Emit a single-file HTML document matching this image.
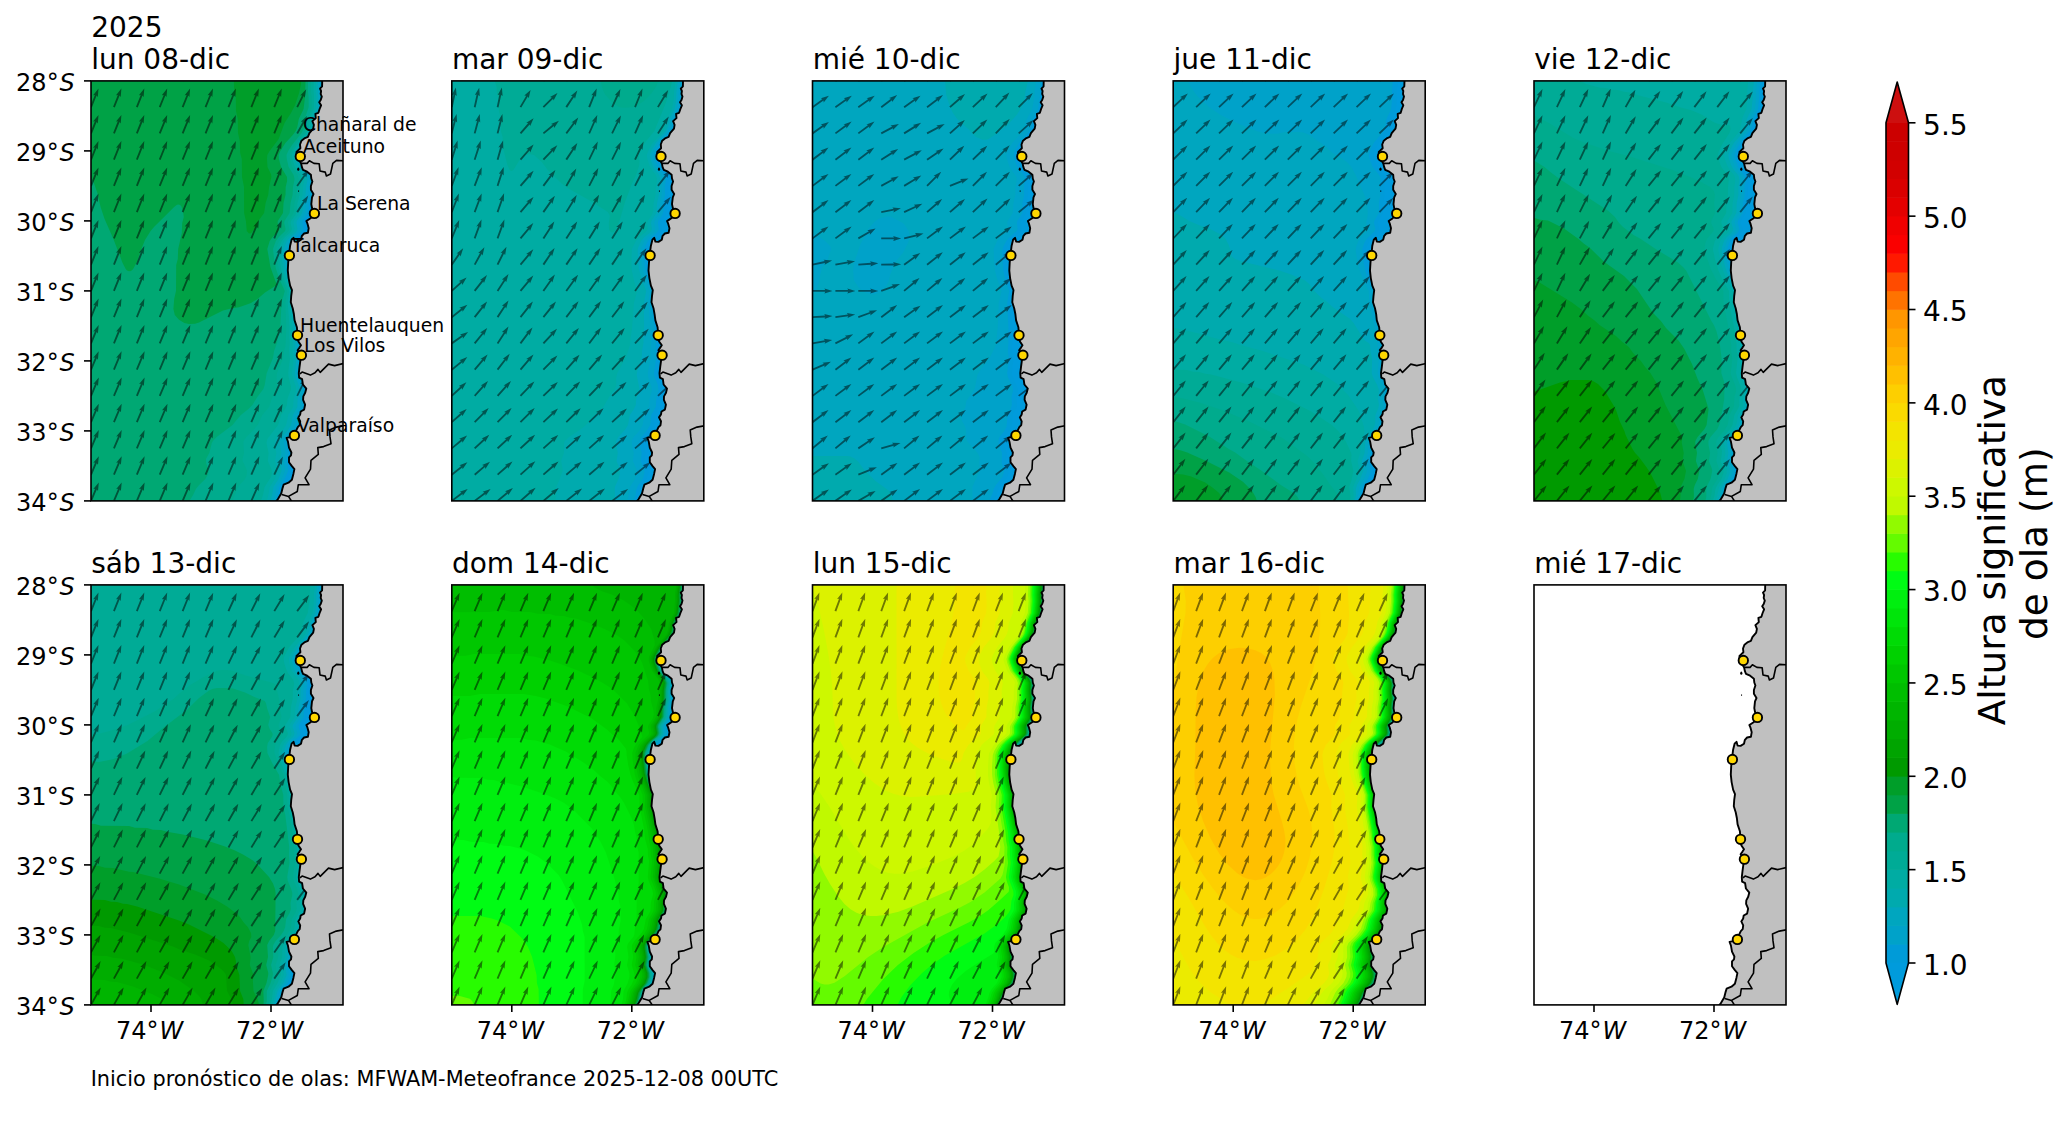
<!DOCTYPE html>
<html><head><meta charset="utf-8"><title>Altura significativa de ola</title><style>html,body{margin:0;padding:0;background:#fff;overflow:hidden}svg{display:block}</style></head><body>
<svg width="2070" height="1128" viewBox="0 0 2070 1128">
<rect width="2070" height="1128" fill="#fff"/>
<defs><clipPath id="cp0"><rect x="91" y="80.9" width="252" height="420"/></clipPath><clipPath id="cp1"><rect x="451.8" y="80.9" width="252" height="420"/></clipPath><clipPath id="cp2"><rect x="812.5" y="80.9" width="252" height="420"/></clipPath><clipPath id="cp3"><rect x="1173.2" y="80.9" width="252" height="420"/></clipPath><clipPath id="cp4"><rect x="1534" y="80.9" width="252" height="420"/></clipPath><clipPath id="cp5"><rect x="91" y="584.9" width="252" height="420"/></clipPath><clipPath id="cp6"><rect x="451.8" y="584.9" width="252" height="420"/></clipPath><clipPath id="cp7"><rect x="812.5" y="584.9" width="252" height="420"/></clipPath><clipPath id="cp8"><rect x="1173.2" y="584.9" width="252" height="420"/></clipPath><clipPath id="cp9"><rect x="1534" y="584.9" width="252" height="420"/></clipPath></defs>
<g clip-path="url(#cp0)">
<rect x="91" y="80.9" width="252" height="420" fill="#009bdc"/>
<path fill="#009bd8" fill-rule="evenodd" d="M83 72.9 L325.5 72.9 L325.1 90.9 L325.6 96.9 L325.1 108.9 L321 118.9 L320.1 126.9 L318.7 130.9 L316.1 134.9 L309.5 142.9 L305.7 150.9 L304.5 154.9 L305.5 158.9 L308.8 166.9 L315.3 174.9 L316.9 178.9 L315.5 186.9 L314.9 194.9 L312.6 202.9 L312 210.9 L310.5 214.9 L306.1 220.9 L305.6 222.9 L306.6 228.9 L305.9 230.9 L304.3 232.9 L299.3 236.9 L295.8 240.9 L292.9 246.9 L292 250.9 L292.8 262.9 L293.9 270.9 L296.1 278.9 L300.6 290.9 L299.4 302.9 L302.1 328.9 L302.2 336.9 L303 342.9 L302.8 350.9 L303.9 356.9 L302.5 372.9 L303.3 376.9 L307.4 386.9 L307.9 390.9 L306.1 398.9 L306.4 406.9 L302.4 414.9 L301.2 424.9 L297.9 430.9 L291.1 438.9 L290.1 442.9 L290.9 446.9 L292 452.9 L290.2 460.9 L291.5 468.9 L291.4 470.9 L288.1 478.9 L282.6 486.9 L281 494.9 L277.9 504.9 L277.7 508.9 L83 508.9Z"/>
<path fill="#00a2c9" fill-rule="evenodd" d="M83 72.9 L322.6 72.9 L322.2 90.9 L322.7 96.9 L322.2 108.9 L318.1 118.9 L317 126.9 L315.8 130.9 L306.6 142.9 L302.6 150.9 L301.4 154.9 L302.4 158.9 L305.6 166.9 L312.1 174.9 L313.6 178.9 L312.2 186.9 L311.6 194.9 L309 204.9 L308.7 210.9 L307.3 214.9 L302.8 220.9 L302.4 222.9 L303.3 228.9 L302.7 230.9 L292.6 240.9 L289 249.3 L289.5 260.9 L291 271.8 L293.1 278.9 L297.6 290.9 L296.5 302.9 L299.1 328.9 L299.1 336.9 L300 342.9 L299.8 350.9 L300.9 356.9 L299.4 372.9 L301 378.8 L304.4 386.9 L304.8 390.9 L303.1 398.9 L303.6 404.9 L303.3 406.9 L299.2 414.9 L298 424.9 L294.7 430.9 L287.8 438.9 L287 440.9 L287 444 L288.7 452.9 L286.9 460.9 L288.2 468.9 L288.1 470.9 L284.8 478.9 L279.4 486.9 L277.9 494.9 L274.9 504.9 L274.7 508.9 L83 508.9Z"/>
<path fill="#00a6bf" fill-rule="evenodd" d="M83 72.9 L320.3 72.9 L319.8 90.9 L320.4 96.9 L319.8 108.9 L315.7 118.9 L314.8 126.9 L313.4 130.9 L310.8 134.9 L304.2 142.9 L300.1 150.9 L298.8 154.9 L299.7 158.9 L302.8 166.9 L309.1 174.9 L310.6 178.9 L309.1 186.9 L308.5 194.9 L306.2 202.9 L305.6 210.9 L304.2 214.9 L299.8 220.9 L299.3 222.9 L300.4 228.9 L299.7 230.9 L298.1 232.9 L293.2 236.9 L289.7 240.9 L286.3 248.9 L286.8 260.9 L288.3 270.9 L290.6 278.9 L295.3 290.9 L294.1 302.9 L296.8 328.9 L296.9 336.9 L297.7 342.9 L297.4 350.9 L298.6 356.9 L297.1 372.9 L298 376.9 L301.9 386.9 L302.4 390.9 L300.5 398.9 L301 404.9 L300.6 406.9 L296.3 414.9 L294.9 424.9 L291.4 430.9 L284.5 438.9 L283.6 442.9 L284.4 446.9 L285.4 452.9 L283.7 460.9 L285.1 468.9 L285 470.9 L281.8 478.9 L276.5 486.9 L275.2 494.9 L272.3 504.9 L272.1 508.9 L83 508.9Z"/>
<path fill="#00aaae" fill-rule="evenodd" d="M83 72.9 L318.2 72.9 L317.8 90.9 L318.3 96.9 L317.8 108.9 L313.7 118.9 L312.8 126.9 L311.4 130.9 L308.7 134.9 L302.1 142.9 L297.8 150.9 L296.5 154.9 L297.2 158.9 L300.1 166.9 L306.2 174.9 L307.7 178.9 L306.1 186.9 L305.5 194.9 L303.2 202.9 L302.6 210.9 L301.2 214.9 L296.8 220.9 L296.4 222.9 L297.5 228.9 L296.8 230.9 L295.3 232.9 L290.4 236.9 L287 240.9 L283.7 248.9 L284.4 260.9 L286 270.9 L288.4 278.9 L293.3 290.9 L292.1 302.9 L294.6 326.9 L294.7 336.9 L295.4 342.9 L295.2 350.9 L296.3 358.9 L294.9 372.9 L295.6 376.9 L299.3 386.9 L299.7 390.9 L297.6 398.9 L297.4 406.9 L292.9 414.9 L291.1 424.9 L287.4 430.9 L281.9 436.9 L279.8 440.9 L279.6 442.9 L281.5 452.9 L279.8 460.9 L281.6 468.9 L281.5 470.9 L278.6 478.9 L273.4 486.9 L272.2 494.9 L269.4 504.9 L269.2 508.9 L83 508.9Z"/>
<path fill="#00aca3" fill-rule="evenodd" d="M83 72.9 L316.1 72.9 L315.7 90.9 L316.3 96.9 L315.8 108.9 L311.7 118.9 L310.8 126.9 L309.4 130.9 L306.8 134.9 L300.1 142.9 L295.6 150.9 L294.1 154.9 L294.8 158.9 L297.5 166.9 L303.4 174.9 L304.7 178.9 L303.1 186.9 L302.5 194.9 L300.2 202.9 L299.6 210.9 L298.2 214.9 L293.8 220.9 L293.4 222.9 L294.6 228.9 L294 230.9 L292.5 232.9 L287.7 236.9 L284.3 240.9 L281.1 248.9 L282 260.9 L283.7 270.9 L286.3 278.9 L291.2 290.9 L290 302.9 L292.3 326.9 L292.2 336.9 L292.8 342.9 L292.4 350.9 L293.6 358.9 L292.1 372.9 L292.7 376.9 L295.9 386.9 L296.1 390.9 L293.6 398.9 L293.1 406.9 L288.3 414.9 L286.2 424.9 L283 429.9 L276.8 436.9 L274.6 440.9 L274.5 442.9 L276.4 452.9 L275 460.9 L277.4 470.9 L275 478.9 L269.7 486.9 L268.4 494.9 L265.5 504.9 L265.3 508.9 L83 508.9Z"/>
<path fill="#00ab96" fill-rule="evenodd" d="M83 72.9 L313.9 72.9 L313.5 90.9 L314.1 96.9 L313.7 108.9 L309.7 118.9 L308.8 126.9 L307.4 130.9 L304.8 134.9 L298.1 142.9 L293.4 150.9 L291.9 154.9 L292.4 158.9 L294.9 166.9 L300.5 174.9 L301.8 178.9 L300.1 186.9 L299.6 194.9 L297.4 202.9 L296.8 210.9 L295.4 214.9 L291 220.9 L290.6 222.9 L291.9 228.9 L291.3 230.9 L289.8 232.9 L285 236.9 L281.7 240.9 L278.6 248.9 L279.6 260.9 L281.5 270.9 L284.1 278.9 L289.2 290.9 L287.7 302.9 L289.6 326.9 L289.3 336.9 L289.8 342.9 L289.1 350.9 L289.9 358.9 L288.2 372.9 L288.6 376.9 L291 386.9 L291 389.2 L287.4 398.9 L287 404.9 L285.1 408.9 L281 414.9 L278.1 424.9 L267.3 438.9 L266.5 442.9 L268.6 452.9 L267.8 460.9 L271.4 468.9 L271.9 472.9 L271 477.1 L264.6 486.9 L263 495 L260.3 502.9 L259.6 508.9 L83 508.9Z"/>
<path fill="#00ab8d" fill-rule="evenodd" d="M83 72.9 L311.1 72.9 L310.9 90.9 L311.6 96.9 L311.6 106.9 L311.4 108.9 L307.5 118.9 L306.8 126.9 L304.3 132.9 L296.1 142.9 L290.2 152.9 L289.6 154.9 L290 158.9 L292.2 166.9 L297.5 174.9 L298.7 178.9 L297.1 186.9 L296.6 194.9 L294.5 202.9 L294 210.9 L292.6 214.9 L288.3 220.9 L287.9 222.9 L289.3 228.9 L288.7 230.9 L280.6 238.9 L278.2 242.9 L276.2 248.9 L277.6 262.9 L279.3 270.9 L282 278.9 L287.2 290.9 L285.3 302.9 L286.3 326.9 L285.6 344.9 L284.1 350.9 L283 358.9 L277 372.9 L276.5 376.9 L277 386.9 L276.2 390.9 L271.6 398.9 L269.1 406.9 L262.3 414.9 L257.8 424.9 L253 430.4 L246.3 436.9 L243.6 440.9 L243.3 442.9 L244 452.9 L242.5 458.9 L242.6 460.9 L246.4 468.9 L246.9 470.9 L246.7 474.9 L245.1 478.9 L239.6 484.9 L237.1 488.9 L235 494.9 L231.4 502.9 L230.7 508.9 L83 508.9Z"/>
<path fill="#00a873" fill-rule="evenodd" d="M83 72.9 L308.2 72.9 L307.9 90.9 L308.6 96.9 L308.7 106.9 L304.7 118.9 L303.5 128.9 L301.5 132.9 L292 144.9 L288.2 150.9 L286.5 154.9 L286.8 158.9 L288.6 166.9 L293.6 174.9 L294.6 178.9 L293 186.9 L292.6 194.9 L290.5 202.9 L289.6 212.9 L284.5 220.9 L284.2 222.9 L285.6 228.9 L285.1 230.9 L278.9 236.9 L275.8 240.9 L273 248.9 L273.8 256.9 L276 268.9 L279.4 278.9 L284.8 290.9 L281.5 302.9 L280.2 328.9 L277.9 336.9 L276.9 342.9 L274.1 350.9 L273 358 L266.7 372.9 L264.7 384.9 L263.4 388.9 L257.3 396.9 L252.4 404.9 L248.4 408.9 L240.9 414.9 L237 419.6 L232.5 424.9 L216.7 436.9 L212.9 440.9 L211.8 442.9 L209.3 452.9 L206 458.9 L206.1 462.9 L208.3 468.9 L208.5 470.9 L207.6 474.9 L205.3 478.9 L199.1 484.9 L195.9 488.9 L193.1 494.9 L189.4 500.9 L188 504.9 L187.8 508.9 L83 508.9Z"/>
<path fill="#00a246" fill-rule="evenodd" d="M83 72.9 L305.8 72.9 L305 96.9 L303.6 108.9 L298.8 118.9 L297.3 126.9 L295.7 130.9 L292.8 134.9 L285.4 142.9 L280.3 150.9 L278.6 154.9 L278.9 158.9 L281 166.9 L287 176.9 L287.1 180.9 L285.7 186.9 L285.5 194.9 L283.5 202.9 L283 212.9 L277.8 220.9 L277.6 222.9 L279.3 228.9 L278.8 230.9 L272.6 236.9 L269.7 240.9 L267.3 248.9 L270.4 266.9 L276.8 284.9 L265 292.5 L257.5 298.9 L251 303.1 L239 307.2 L231 308.5 L223 310.6 L199 322.4 L195 323.7 L189 323.9 L184.3 322.9 L179 319.8 L174.8 314.9 L173.4 308.9 L174.2 298.9 L176 290.9 L176.2 264.9 L177.8 258.9 L178.2 248.9 L181.8 232.9 L182.2 222.9 L183.8 216.9 L183.3 212.9 L181.6 206.9 L181 205.8 L179 204.5 L177 204.8 L174.1 206.9 L154 226.9 L150.6 230.9 L145 240.1 L140.6 250.9 L137.4 260.9 L133 269.3 L131 270.9 L129 271.3 L127 270.5 L125.7 268.9 L122.6 262.9 L113.4 238.9 L104.6 218.9 L100.6 206.9 L97.4 192.9 L93.2 180.9 L91 178.2 L89 177 L87 177 L83 179.1Z"/>
<path fill="#009e29" fill-rule="evenodd" d="M232.2 72.9 L301.8 72.9 L301 84 L299 93.3 L295.1 104.9 L291 112.9 L284.5 122.9 L278.7 138.9 L269.6 150.9 L267.3 154.9 L267 158.9 L267.5 166.9 L271 174.3 L271.4 176.9 L269.1 186.9 L268.2 194.9 L265.6 202.9 L264.1 212.9 L258.3 220.9 L256.6 226.9 L251 233.3 L249 233.5 L246.8 230.9 L245.9 220.9 L244.1 212.9 L244 186.9 L242 176.9 L241.8 158.9 L240.2 152.9 L239.8 140.9 L238 132.9 L237.8 118.9 L236 110.9 L235.8 96.9 L234.2 90.9 L233.8 78.9Z"/>
<path fill="#000" fill-opacity="0.5" d="M90.1 80.6 L94.9 68.7 L93.1 69 L98.5 62.4 L97.8 70.9 L96.6 69.4 L91.9 81.2ZM113.1 80.6 L117.8 68.7 L116 69 L121.4 62.4 L120.7 70.9 L119.6 69.4 L114.8 81.2ZM136 80.6 L140.7 68.7 L138.9 69 L144.3 62.4 L143.6 70.9 L142.5 69.4 L137.7 81.2ZM158.9 80.6 L163.7 68.7 L161.8 69 L167.2 62.4 L166.5 70.9 L165.4 69.4 L160.6 81.2ZM181.8 80.6 L186.6 68.7 L184.7 69 L190.1 62.4 L189.4 70.9 L188.3 69.4 L183.5 81.2ZM204.7 80.6 L209.5 68.7 L207.6 69 L213 62.4 L212.3 70.9 L211.2 69.4 L206.4 81.2ZM227.6 80.6 L232.4 68.7 L230.5 69 L235.9 62.4 L235.3 70.9 L234.1 69.4 L229.3 81.2ZM250.5 80.6 L255.3 68.7 L253.4 69 L258.9 62.4 L258.2 70.9 L257 69.4 L252.2 81.2ZM273.4 80.6 L278.2 68.7 L276.4 69 L281.8 62.4 L281.1 70.9 L279.9 69.4 L275.1 81.2ZM296.3 80.5 L301.5 68.8 L299.7 69 L305.3 62.6 L304.3 71.1 L303.2 69.6 L298 81.3ZM90.1 106.8 L94.9 94.9 L93.1 95.2 L98.5 88.6 L97.8 97.1 L96.6 95.6 L91.9 107.5ZM113.1 106.8 L117.8 94.9 L116 95.2 L121.4 88.6 L120.7 97.1 L119.6 95.6 L114.8 107.5ZM136 106.8 L140.7 94.9 L138.9 95.2 L144.3 88.6 L143.6 97.1 L142.5 95.6 L137.7 107.5ZM158.9 106.8 L163.7 94.9 L161.8 95.2 L167.2 88.6 L166.5 97.1 L165.4 95.6 L160.6 107.5ZM181.8 106.8 L186.6 94.9 L184.7 95.2 L190.1 88.6 L189.4 97.1 L188.3 95.6 L183.5 107.5ZM204.7 106.8 L209.5 94.9 L207.6 95.2 L213 88.6 L212.3 97.1 L211.2 95.6 L206.4 107.5ZM227.6 106.8 L232.4 94.9 L230.5 95.2 L235.9 88.6 L235.3 97.1 L234.1 95.6 L229.3 107.5ZM250.5 106.8 L255.3 94.9 L253.4 95.2 L258.9 88.6 L258.2 97.1 L257 95.6 L252.2 107.5ZM273.4 106.8 L278.2 94.9 L276.4 95.2 L281.8 88.6 L281.1 97.1 L279.9 95.6 L275.1 107.5ZM296.4 106.7 L302.1 95.3 L300.2 95.4 L306.2 89.3 L304.8 97.7 L303.8 96.1 L298 107.6ZM90.1 133.1 L94.9 121.2 L93.1 121.5 L98.5 114.9 L97.8 123.4 L96.6 121.9 L91.9 133.7ZM113.1 133.1 L117.8 121.2 L116 121.5 L121.4 114.9 L120.7 123.4 L119.6 121.9 L114.8 133.7ZM136 133.1 L140.7 121.2 L138.9 121.5 L144.3 114.9 L143.6 123.4 L142.5 121.9 L137.7 133.7ZM158.9 133.1 L163.7 121.2 L161.8 121.5 L167.2 114.9 L166.5 123.4 L165.4 121.9 L160.6 133.7ZM181.8 133.1 L186.6 121.2 L184.7 121.5 L190.1 114.9 L189.4 123.4 L188.3 121.9 L183.5 133.7ZM204.7 133.1 L209.5 121.2 L207.6 121.5 L213 114.9 L212.3 123.4 L211.2 121.9 L206.4 133.7ZM227.6 133.1 L232.4 121.2 L230.5 121.5 L235.9 114.9 L235.3 123.4 L234.1 121.9 L229.3 133.7ZM250.5 133.1 L255.3 121.2 L253.4 121.5 L258.9 114.9 L258.2 123.4 L257 121.9 L252.2 133.7ZM273.4 133.1 L278.2 121.2 L276.4 121.5 L281.8 114.9 L281.1 123.4 L279.9 121.9 L275.1 133.7ZM296.4 132.9 L302.7 121.8 L300.8 121.8 L307 116 L305.2 124.3 L304.3 122.7 L298 133.9ZM90.1 159.3 L94.9 147.4 L93.1 147.7 L98.5 141.1 L97.8 149.6 L96.6 148.1 L91.9 160ZM113.1 159.3 L117.8 147.4 L116 147.7 L121.4 141.1 L120.7 149.6 L119.6 148.1 L114.8 160ZM136 159.3 L140.7 147.4 L138.9 147.7 L144.3 141.1 L143.6 149.6 L142.5 148.1 L137.7 160ZM158.9 159.3 L163.7 147.4 L161.8 147.7 L167.2 141.1 L166.5 149.6 L165.4 148.1 L160.6 160ZM181.8 159.3 L186.6 147.4 L184.7 147.7 L190.1 141.1 L189.4 149.6 L188.3 148.1 L183.5 160ZM204.7 159.3 L209.5 147.4 L207.6 147.7 L213 141.1 L212.3 149.6 L211.2 148.1 L206.4 160ZM227.6 159.3 L232.4 147.4 L230.5 147.7 L235.9 141.1 L235.3 149.6 L234.1 148.1 L229.3 160ZM250.5 159.3 L255.3 147.4 L253.4 147.7 L258.9 141.1 L258.2 149.6 L257 148.1 L252.2 160ZM273.4 159.3 L278.2 147.4 L276.4 147.7 L281.8 141.1 L281.1 149.6 L279.9 148.1 L275.1 160ZM90.1 185.6 L94.9 173.7 L93.1 174 L98.5 167.4 L97.8 175.9 L96.6 174.4 L91.9 186.2ZM113.1 185.6 L117.8 173.7 L116 174 L121.4 167.4 L120.7 175.9 L119.6 174.4 L114.8 186.2ZM136 185.6 L140.7 173.7 L138.9 174 L144.3 167.4 L143.6 175.9 L142.5 174.4 L137.7 186.2ZM158.9 185.6 L163.7 173.7 L161.8 174 L167.2 167.4 L166.5 175.9 L165.4 174.4 L160.6 186.2ZM181.8 185.6 L186.6 173.7 L184.7 174 L190.1 167.4 L189.4 175.9 L188.3 174.4 L183.5 186.2ZM204.7 185.6 L209.5 173.7 L207.6 174 L213 167.4 L212.3 175.9 L211.2 174.4 L206.4 186.2ZM227.6 185.6 L232.4 173.7 L230.5 174 L235.9 167.4 L235.3 175.9 L234.1 174.4 L229.3 186.2ZM250.5 185.6 L255.3 173.7 L253.4 174 L258.9 167.4 L258.2 175.9 L257 174.4 L252.2 186.2ZM273.4 185.6 L278.2 173.7 L276.4 174 L281.8 167.4 L281.1 175.9 L279.9 174.4 L275.1 186.2ZM296.4 185.4 L303.8 174.9 L301.9 174.7 L308.7 169.5 L306.1 177.6 L305.3 176 L297.9 186.4ZM90.1 211.8 L94.9 199.9 L93.1 200.2 L98.5 193.6 L97.8 202.1 L96.6 200.6 L91.9 212.5ZM113.1 211.8 L117.8 199.9 L116 200.2 L121.4 193.6 L120.7 202.1 L119.6 200.6 L114.8 212.5ZM136 211.8 L140.7 199.9 L138.9 200.2 L144.3 193.6 L143.6 202.1 L142.5 200.6 L137.7 212.5ZM158.9 211.8 L163.7 199.9 L161.8 200.2 L167.2 193.6 L166.5 202.1 L165.4 200.6 L160.6 212.5ZM181.8 211.8 L186.6 199.9 L184.7 200.2 L190.1 193.6 L189.4 202.1 L188.3 200.6 L183.5 212.5ZM204.7 211.8 L209.5 199.9 L207.6 200.2 L213 193.6 L212.3 202.1 L211.2 200.6 L206.4 212.5ZM227.6 211.8 L232.4 199.9 L230.5 200.2 L235.9 193.6 L235.3 202.1 L234.1 200.6 L229.3 212.5ZM250.5 211.8 L255.3 199.9 L253.4 200.2 L258.9 193.6 L258.2 202.1 L257 200.6 L252.2 212.5ZM273.4 211.8 L278.2 199.9 L276.4 200.2 L281.8 193.6 L281.1 202.1 L279.9 200.6 L275.1 212.5ZM296.4 211.6 L303.5 201 L301.7 200.9 L308.3 195.5 L305.9 203.7 L305.1 202 L298 212.7ZM90.1 238.1 L94.9 226.2 L93.1 226.5 L98.5 219.9 L97.8 228.4 L96.6 226.9 L91.9 238.7ZM113.1 238.1 L117.8 226.2 L116 226.5 L121.4 219.9 L120.7 228.4 L119.6 226.9 L114.8 238.7ZM136 238.1 L140.7 226.2 L138.9 226.5 L144.3 219.9 L143.6 228.4 L142.5 226.9 L137.7 238.7ZM158.9 238.1 L163.7 226.2 L161.8 226.5 L167.2 219.9 L166.5 228.4 L165.4 226.9 L160.6 238.7ZM181.8 238.1 L186.6 226.2 L184.7 226.5 L190.1 219.9 L189.4 228.4 L188.3 226.9 L183.5 238.7ZM204.7 238.1 L209.5 226.2 L207.6 226.5 L213 219.9 L212.3 228.4 L211.2 226.9 L206.4 238.7ZM227.6 238.1 L232.4 226.2 L230.5 226.5 L235.9 219.9 L235.3 228.4 L234.1 226.9 L229.3 238.7ZM250.5 238.1 L255.3 226.2 L253.4 226.5 L258.9 219.9 L258.2 228.4 L257 226.9 L252.2 238.7ZM273.4 238.1 L278.2 226.2 L276.4 226.5 L281.8 219.9 L281.1 228.4 L279.9 226.9 L275.1 238.7ZM90.1 264.3 L94.9 252.4 L93.1 252.7 L98.5 246.1 L97.8 254.6 L96.6 253.1 L91.9 265ZM113.1 264.3 L117.8 252.4 L116 252.7 L121.4 246.1 L120.7 254.6 L119.6 253.1 L114.8 265ZM136 264.3 L140.7 252.4 L138.9 252.7 L144.3 246.1 L143.6 254.6 L142.5 253.1 L137.7 265ZM158.9 264.3 L163.7 252.4 L161.8 252.7 L167.2 246.1 L166.5 254.6 L165.4 253.1 L160.6 265ZM181.8 264.3 L186.6 252.4 L184.7 252.7 L190.1 246.1 L189.4 254.6 L188.3 253.1 L183.5 265ZM204.7 264.3 L209.5 252.4 L207.6 252.7 L213 246.1 L212.3 254.6 L211.2 253.1 L206.4 265ZM227.6 264.3 L232.4 252.4 L230.5 252.7 L235.9 246.1 L235.3 254.6 L234.1 253.1 L229.3 265ZM250.5 264.3 L255.3 252.4 L253.4 252.7 L258.9 246.1 L258.2 254.6 L257 253.1 L252.2 265ZM273.4 264.3 L278.2 252.4 L276.4 252.7 L281.8 246.1 L281.1 254.6 L279.9 253.1 L275.1 265ZM90.1 290.6 L94.9 278.7 L93.1 279 L98.5 272.4 L97.8 280.9 L96.6 279.4 L91.9 291.2ZM113.1 290.6 L117.8 278.7 L116 279 L121.4 272.4 L120.7 280.9 L119.6 279.4 L114.8 291.2ZM136 290.6 L140.7 278.7 L138.9 279 L144.3 272.4 L143.6 280.9 L142.5 279.4 L137.7 291.2ZM158.9 290.6 L163.7 278.7 L161.8 279 L167.2 272.4 L166.5 280.9 L165.4 279.4 L160.6 291.2ZM181.8 290.6 L186.6 278.7 L184.7 279 L190.1 272.4 L189.4 280.9 L188.3 279.4 L183.5 291.2ZM204.7 290.6 L209.5 278.7 L207.6 279 L213 272.4 L212.3 280.9 L211.2 279.4 L206.4 291.2ZM227.6 290.6 L232.4 278.7 L230.5 279 L235.9 272.4 L235.3 280.9 L234.1 279.4 L229.3 291.2ZM250.5 290.6 L255.3 278.7 L253.4 279 L258.9 272.4 L258.2 280.9 L257 279.4 L252.2 291.2ZM273.4 290.6 L278.2 278.7 L276.4 279 L281.8 272.4 L281.1 280.9 L279.9 279.4 L275.1 291.2ZM90.1 316.8 L95 305 L93.1 305.2 L98.6 298.6 L97.8 307.1 L96.7 305.7 L91.9 317.5ZM113.1 316.8 L117.9 305 L116 305.2 L121.5 298.6 L120.8 307.1 L119.6 305.7 L114.8 317.5ZM136 316.8 L140.8 305 L139 305.2 L144.4 298.6 L143.7 307.1 L142.5 305.7 L137.7 317.5ZM158.9 316.8 L163.7 305 L161.9 305.2 L167.3 298.6 L166.6 307.1 L165.4 305.7 L160.6 317.5ZM181.8 316.8 L186.6 305 L184.8 305.2 L190.2 298.6 L189.5 307.1 L188.3 305.7 L183.5 317.5ZM204.7 316.8 L209.5 305 L207.7 305.2 L213.1 298.6 L212.4 307.1 L211.2 305.7 L206.4 317.5ZM227.6 316.8 L232.4 305 L230.6 305.2 L236 298.6 L235.3 307.1 L234.2 305.7 L229.3 317.5ZM250.5 316.8 L255.3 305 L253.5 305.2 L258.9 298.6 L258.2 307.1 L257.1 305.7 L252.2 317.5ZM273.4 316.8 L278.3 305 L276.5 305.2 L281.9 298.7 L281.2 307.2 L280 305.7 L275.1 317.5ZM90.1 343 L95 331.2 L93.2 331.5 L98.7 324.9 L97.9 333.4 L96.7 331.9 L91.9 343.8ZM113.1 343 L117.9 331.2 L116.1 331.5 L121.6 324.9 L120.8 333.4 L119.7 331.9 L114.8 343.8ZM136 343 L140.9 331.2 L139 331.5 L144.5 324.9 L143.7 333.4 L142.6 331.9 L137.7 343.8ZM158.9 343 L163.8 331.2 L161.9 331.5 L167.4 324.9 L166.6 333.4 L165.5 331.9 L160.6 343.8ZM181.8 343 L186.7 331.2 L184.8 331.5 L190.3 324.9 L189.5 333.4 L188.4 331.9 L183.5 343.8ZM204.7 343 L209.6 331.2 L207.7 331.5 L213.2 324.9 L212.4 333.4 L211.3 331.9 L206.4 343.8ZM227.6 343 L232.5 331.2 L230.6 331.5 L236.1 324.9 L235.3 333.4 L234.2 331.9 L229.3 343.8ZM250.5 343 L255.4 331.2 L253.6 331.5 L259 324.9 L258.3 333.4 L257.1 331.9 L252.2 343.8ZM273.4 343 L278.4 331.3 L276.6 331.5 L282.1 325 L281.2 333.5 L280.1 332 L275.1 343.8ZM90.1 369.3 L95.1 357.5 L93.2 357.7 L98.7 351.2 L97.9 359.7 L96.8 358.2 L91.9 370ZM113.1 369.3 L118 357.5 L116.1 357.7 L121.6 351.2 L120.8 359.7 L119.7 358.2 L114.8 370ZM136 369.3 L140.9 357.5 L139.1 357.7 L144.6 351.2 L143.8 359.7 L142.6 358.2 L137.7 370ZM158.9 369.3 L163.8 357.5 L162 357.7 L167.5 351.2 L166.7 359.7 L165.5 358.2 L160.6 370ZM181.8 369.3 L186.7 357.5 L184.9 357.7 L190.4 351.2 L189.6 359.7 L188.4 358.2 L183.5 370ZM204.7 369.3 L209.6 357.5 L207.8 357.7 L213.3 351.2 L212.5 359.7 L211.3 358.2 L206.4 370ZM227.6 369.3 L232.5 357.5 L230.7 357.7 L236.2 351.2 L235.4 359.7 L234.3 358.2 L229.3 370ZM250.5 369.3 L255.5 357.5 L253.6 357.7 L259.1 351.2 L258.3 359.7 L257.2 358.2 L252.2 370ZM273.4 369.3 L278.5 357.6 L276.7 357.8 L282.2 351.3 L281.3 359.8 L280.2 358.3 L275.1 370ZM90.1 395.5 L95.1 383.8 L93.3 384 L98.8 377.5 L98 386 L96.8 384.5 L91.9 396.3ZM113.1 395.5 L118.1 383.8 L116.2 384 L121.7 377.5 L120.9 386 L119.8 384.5 L114.8 396.3ZM136 395.5 L141 383.8 L139.1 384 L144.6 377.5 L143.8 386 L142.7 384.5 L137.7 396.3ZM158.9 395.5 L163.9 383.8 L162 384 L167.5 377.5 L166.7 386 L165.6 384.5 L160.6 396.3ZM181.8 395.5 L186.8 383.8 L184.9 384 L190.5 377.5 L189.6 386 L188.5 384.5 L183.5 396.3ZM204.7 395.5 L209.7 383.8 L207.8 384 L213.4 377.5 L212.5 386 L211.4 384.5 L206.4 396.3ZM227.6 395.5 L232.6 383.8 L230.7 384 L236.3 377.5 L235.4 386 L234.3 384.5 L229.3 396.3ZM250.5 395.5 L255.5 383.8 L253.7 384 L259.2 377.5 L258.3 386 L257.2 384.5 L252.2 396.3ZM273.4 395.5 L278.6 383.8 L276.8 384 L282.4 377.6 L281.4 386.1 L280.3 384.6 L275.1 396.3ZM296.4 395.5 L302 384 L300.1 384.1 L305.9 377.9 L304.7 386.4 L303.6 384.8 L298 396.3ZM90.1 421.8 L95.1 410 L93.3 410.2 L98.8 403.7 L98 412.2 L96.8 410.7 L91.9 422.5ZM113.1 421.8 L118.1 410 L116.2 410.2 L121.7 403.7 L120.9 412.2 L119.8 410.7 L114.8 422.5ZM136 421.8 L141 410 L139.1 410.2 L144.6 403.7 L143.8 412.2 L142.7 410.7 L137.7 422.5ZM158.9 421.8 L163.9 410 L162 410.2 L167.5 403.7 L166.7 412.2 L165.6 410.7 L160.6 422.5ZM181.8 421.8 L186.8 410 L184.9 410.2 L190.5 403.7 L189.6 412.2 L188.5 410.7 L183.5 422.5ZM204.7 421.8 L209.7 410 L207.8 410.2 L213.4 403.7 L212.5 412.2 L211.4 410.7 L206.4 422.5ZM227.6 421.8 L232.6 410 L230.7 410.2 L236.3 403.7 L235.4 412.2 L234.3 410.7 L229.3 422.5ZM250.5 421.8 L255.6 410 L253.7 410.2 L259.3 403.8 L258.4 412.3 L257.3 410.8 L252.2 422.5ZM273.4 421.8 L278.7 410.1 L276.9 410.3 L282.6 404 L281.5 412.4 L280.4 410.9 L275.1 422.5ZM90.1 448 L95.1 436.3 L93.3 436.5 L98.8 430 L98 438.5 L96.8 437 L91.9 448.8ZM113.1 448 L118.1 436.3 L116.2 436.5 L121.7 430 L120.9 438.5 L119.8 437 L114.8 448.8ZM136 448 L141 436.3 L139.1 436.5 L144.6 430 L143.8 438.5 L142.7 437 L137.7 448.8ZM158.9 448 L163.9 436.3 L162 436.5 L167.5 430 L166.7 438.5 L165.6 437 L160.6 448.8ZM181.8 448 L186.8 436.3 L184.9 436.5 L190.5 430 L189.6 438.5 L188.5 437 L183.5 448.8ZM204.7 448 L209.7 436.3 L207.8 436.5 L213.4 430 L212.5 438.5 L211.4 437 L206.4 448.8ZM227.6 448 L232.6 436.3 L230.7 436.5 L236.3 430 L235.4 438.5 L234.3 437 L229.3 448.8ZM250.5 448 L255.6 436.3 L253.8 436.5 L259.3 430.1 L258.4 438.5 L257.3 437 L252.2 448.8ZM273.4 448 L278.8 436.4 L277 436.6 L282.7 430.3 L281.6 438.7 L280.5 437.2 L275.1 448.8ZM90.1 474.3 L95.1 462.5 L93.3 462.7 L98.8 456.2 L98 464.7 L96.8 463.2 L91.9 475ZM113.1 474.3 L118.1 462.5 L116.2 462.7 L121.7 456.2 L120.9 464.7 L119.8 463.2 L114.8 475ZM136 474.3 L141 462.5 L139.1 462.7 L144.6 456.2 L143.8 464.7 L142.7 463.2 L137.7 475ZM158.9 474.3 L163.9 462.5 L162 462.7 L167.5 456.2 L166.7 464.7 L165.6 463.2 L160.6 475ZM181.8 474.3 L186.8 462.5 L184.9 462.7 L190.5 456.2 L189.6 464.7 L188.5 463.2 L183.5 475ZM204.7 474.3 L209.7 462.5 L207.8 462.7 L213.4 456.2 L212.5 464.7 L211.4 463.2 L206.4 475ZM227.6 474.3 L232.6 462.5 L230.7 462.7 L236.3 456.2 L235.4 464.7 L234.3 463.2 L229.3 475ZM250.5 474.3 L255.7 462.6 L253.8 462.8 L259.4 456.3 L258.5 464.8 L257.4 463.3 L252.2 475ZM273.4 474.3 L278.9 462.7 L277.1 462.9 L282.9 456.6 L281.7 465 L280.6 463.5 L275.1 475ZM90.1 500.5 L95.1 488.8 L93.3 489 L98.8 482.5 L98 491 L96.8 489.5 L91.9 501.3ZM113.1 500.5 L118.1 488.8 L116.2 489 L121.7 482.5 L120.9 491 L119.8 489.5 L114.8 501.3ZM136 500.5 L141 488.8 L139.1 489 L144.6 482.5 L143.8 491 L142.7 489.5 L137.7 501.3ZM158.9 500.5 L163.9 488.8 L162 489 L167.5 482.5 L166.7 491 L165.6 489.5 L160.6 501.3ZM181.8 500.5 L186.8 488.8 L184.9 489 L190.5 482.5 L189.6 491 L188.5 489.5 L183.5 501.3ZM204.7 500.5 L209.7 488.8 L207.8 489 L213.4 482.5 L212.5 491 L211.4 489.5 L206.4 501.3ZM227.6 500.5 L232.6 488.8 L230.7 489 L236.3 482.5 L235.4 491 L234.3 489.5 L229.3 501.3ZM250.5 500.5 L255.7 488.8 L253.9 489 L259.5 482.6 L258.5 491.1 L257.4 489.6 L252.2 501.3Z"/>
<path fill="#c0c0c0" d="M322.2 78.9 L322.2 80.9 L322.1 86.4 L320 88.7 L321.1 91 L320.7 94 L321.8 96.6 L320.7 100 L319.2 102.3 L321.1 105.3 L319.6 109 L318.4 112.8 L315.4 113.9 L315.8 118.1 L312.4 121.1 L313.9 124.9 L313.2 128.6 L309.4 133.2 L307.9 136.9 L304.9 138.1 L301.5 140.7 L300 144.5 L300.4 148.2 L296.5 151.9 L296.5 155.9 L299 159.9 L301.1 163.4 L301.9 167.2 L303 169.8 L307.1 171.7 L310.9 174.7 L311.3 178.5 L312.4 181.5 L310.9 186 L310.9 189.8 L313.5 194 L312 197.3 L311.3 204.1 L312 207.9 L313.5 211.9 L312 216.9 L310.2 218.4 L306.4 221.1 L307.5 223.7 L308.7 228.2 L307.9 232.8 L304.1 233.5 L301.9 235.8 L301 239.7 L297.6 241.9 L294.6 241.6 L293.5 237.8 L291.6 239.7 L290.1 245.7 L288.2 262.3 L287.8 270.6 L288.6 278.1 L290.1 285.6 L292 290.2 L291.2 296.2 L290.8 302.2 L292.7 308.2 L293.9 314.3 L294.6 320.4 L296.9 327.2 L297.5 335.3 L298.4 341.5 L301 345.3 L299.5 347.6 L297.6 350.2 L301.4 355.2 L300.3 361.1 L299.5 367.2 L298.8 373.2 L299.1 377.7 L302.1 379.2 L302.9 384.5 L306.3 388.6 L305.2 392.8 L303.3 396.4 L303.1 399.8 L305.1 404.7 L304.1 409.6 L300.7 411.5 L300.2 414.4 L298.3 417.4 L300.2 421.3 L299.7 425.2 L297.8 427.1 L296 430.9 L291 436.9 L286.6 437.9 L288 441.8 L289 447.6 L291.4 452.5 L291 455.4 L289 457.4 L289 462.2 L291.9 466.1 L294.4 469.1 L293.4 473.9 L291.9 479.8 L288.5 482.7 L283.6 484.7 L282.7 487.6 L281.2 493.5 L277.8 499.3 L276.5 500.9 L275.3 502.9 L351 505.9 L351 75.9Z"/>
<path fill="none" stroke="#000" stroke-width="1.9" stroke-linejoin="round" d="M322.2 78.9 L322.2 80.9 L322.1 86.4 L320 88.7 L321.1 91 L320.7 94 L321.8 96.6 L320.7 100 L319.2 102.3 L321.1 105.3 L319.6 109 L318.4 112.8 L315.4 113.9 L315.8 118.1 L312.4 121.1 L313.9 124.9 L313.2 128.6 L309.4 133.2 L307.9 136.9 L304.9 138.1 L301.5 140.7 L300 144.5 L300.4 148.2 L296.5 151.9 L296.5 155.9 L299 159.9 L301.1 163.4 L301.9 167.2 L303 169.8 L307.1 171.7 L310.9 174.7 L311.3 178.5 L312.4 181.5 L310.9 186 L310.9 189.8 L313.5 194 L312 197.3 L311.3 204.1 L312 207.9 L313.5 211.9 L312 216.9 L310.2 218.4 L306.4 221.1 L307.5 223.7 L308.7 228.2 L307.9 232.8 L304.1 233.5 L301.9 235.8 L301 239.7 L297.6 241.9 L294.6 241.6 L293.5 237.8 L291.6 239.7 L290.1 245.7 L289.5 250.9 L288.2 262.3 L287.8 270.6 L288.6 278.1 L290.1 285.6 L292 290.2 L291.2 296.2 L290.8 302.2 L292.7 308.2 L293.9 314.3 L294.6 320.4 L296.9 327.2 L297.5 335.3 L298.4 341.5 L301 345.3 L299.5 347.6 L297.6 350.2 L301.4 355.2 L300.3 361.1 L299.5 367.2 L298.8 373.2 L299.1 377.7 L302.1 379.2 L302.9 384.5 L306.3 388.6 L305.2 392.8 L303.3 396.4 L303.1 399.8 L305.1 404.7 L304.1 409.6 L300.7 411.5 L300.2 414.4 L298.3 417.4 L300.2 421.3 L299.7 425.2 L297.8 427.1 L296 430.9 L291 436.9 L286.6 437.9 L288 441.8 L289 447.6 L291.4 452.5 L291 455.4 L289 457.4 L289 462.2 L291.9 466.1 L294.4 469.1 L293.4 473.9 L291.9 479.8 L288.5 482.7 L283.6 484.7 L282.7 487.6 L281.2 493.5 L277.8 499.3 L276.5 500.9 L275.3 502.9"/>
<path fill="none" stroke="#000" stroke-width="1.6" stroke-linejoin="round" d="M301.1 163.4 L307.1 163.4 L309.4 160.8 L313.9 163.4 L319.2 163.8 L320 171 L325.2 172.1 L326.4 175.9 L330.5 174 L332.8 163.4 L336.5 160.4 L344 160.8"/>
<path fill="none" stroke="#000" stroke-width="1.6" stroke-linejoin="round" d="M299.9 373.9 L302.1 372.1 L310.4 375.1 L315 372.8 L318 369.4 L320.2 372.4 L328.5 364.1 L334.6 365.6 L344 363.4"/>
<path fill="none" stroke="#000" stroke-width="1.6" stroke-linejoin="round" d="M344 425.7 L336.3 427.1 L329.5 430 L330 436.9 L331 443.7 L323.6 446.6 L317.8 447.6 L318.3 454.4 L311 460.3 L310.5 469.1 L305.1 477.9 L309 484.7 L298.3 484.7 L297.3 491.5 L288.5 496.4 L281.7 494.4"/>
<path fill="none" stroke="#000" stroke-width="1.6" stroke-linejoin="round" d="M288.5 496.4 L292 501.9"/>
<ellipse cx="298.3" cy="169.2" rx="1.1" ry="1.6" fill="#000"/>
<ellipse cx="298.6" cy="191.1" rx="0.5" ry="0.9" fill="#000"/>
</g>
<circle cx="300.3" cy="156.4" r="4.7" fill="#ffd700" stroke="#000" stroke-width="1.9"/>
<circle cx="314.4" cy="213.4" r="4.7" fill="#ffd700" stroke="#000" stroke-width="1.9"/>
<circle cx="289.4" cy="255.4" r="4.7" fill="#ffd700" stroke="#000" stroke-width="1.9"/>
<circle cx="297.5" cy="335.3" r="4.7" fill="#ffd700" stroke="#000" stroke-width="1.9"/>
<circle cx="301.4" cy="355.2" r="4.7" fill="#ffd700" stroke="#000" stroke-width="1.9"/>
<circle cx="294.4" cy="435.4" r="4.7" fill="#ffd700" stroke="#000" stroke-width="1.9"/>
<text x="302.9" y="131" font-size="18.75" style="font-family:'DejaVu Sans','Liberation Sans',sans-serif">Chañaral de</text>
<text x="302.9" y="153" font-size="18.75" style="font-family:'DejaVu Sans','Liberation Sans',sans-serif">Aceituno</text>
<text x="317" y="210" font-size="18.75" style="font-family:'DejaVu Sans','Liberation Sans',sans-serif">La Serena</text>
<text x="292" y="252" font-size="18.75" style="font-family:'DejaVu Sans','Liberation Sans',sans-serif">Talcaruca</text>
<text x="300.1" y="331.9" font-size="18.75" style="font-family:'DejaVu Sans','Liberation Sans',sans-serif">Huentelauquen</text>
<text x="304" y="351.8" font-size="18.75" style="font-family:'DejaVu Sans','Liberation Sans',sans-serif">Los Vilos</text>
<text x="297" y="432" font-size="18.75" style="font-family:'DejaVu Sans','Liberation Sans',sans-serif">Valparaíso</text>
<rect x="91" y="80.9" width="252" height="420" fill="none" stroke="#000" stroke-width="1.6"/>
<text x="91.2" y="68.9" font-size="28" style="font-family:'DejaVu Sans','Liberation Sans',sans-serif">lun 08-dic</text>
<line x1="84" y1="80.9" x2="91" y2="80.9" stroke="#000" stroke-width="1.6"/>
<text x="16.1" y="90.9" font-size="24" style="font-family:'DejaVu Sans','Liberation Sans',sans-serif">28°<tspan font-style="italic" dx="0.8">S</tspan></text>
<line x1="84" y1="150.9" x2="91" y2="150.9" stroke="#000" stroke-width="1.6"/>
<text x="16.1" y="160.9" font-size="24" style="font-family:'DejaVu Sans','Liberation Sans',sans-serif">29°<tspan font-style="italic" dx="0.8">S</tspan></text>
<line x1="84" y1="220.9" x2="91" y2="220.9" stroke="#000" stroke-width="1.6"/>
<text x="16.1" y="230.9" font-size="24" style="font-family:'DejaVu Sans','Liberation Sans',sans-serif">30°<tspan font-style="italic" dx="0.8">S</tspan></text>
<line x1="84" y1="290.9" x2="91" y2="290.9" stroke="#000" stroke-width="1.6"/>
<text x="16.1" y="300.9" font-size="24" style="font-family:'DejaVu Sans','Liberation Sans',sans-serif">31°<tspan font-style="italic" dx="0.8">S</tspan></text>
<line x1="84" y1="360.9" x2="91" y2="360.9" stroke="#000" stroke-width="1.6"/>
<text x="16.1" y="370.9" font-size="24" style="font-family:'DejaVu Sans','Liberation Sans',sans-serif">32°<tspan font-style="italic" dx="0.8">S</tspan></text>
<line x1="84" y1="430.9" x2="91" y2="430.9" stroke="#000" stroke-width="1.6"/>
<text x="16.1" y="440.9" font-size="24" style="font-family:'DejaVu Sans','Liberation Sans',sans-serif">33°<tspan font-style="italic" dx="0.8">S</tspan></text>
<line x1="84" y1="500.9" x2="91" y2="500.9" stroke="#000" stroke-width="1.6"/>
<text x="16.1" y="510.9" font-size="24" style="font-family:'DejaVu Sans','Liberation Sans',sans-serif">34°<tspan font-style="italic" dx="0.8">S</tspan></text>
<g clip-path="url(#cp1)">
<rect x="451.8" y="80.9" width="252" height="420" fill="#009bdc"/>
<path fill="#009bd8" fill-rule="evenodd" d="M443.8 72.9 L685.3 72.9 L685.1 82.9 L682.1 108.9 L677 118.9 L675.3 126.9 L673.5 130.9 L663.2 142.9 L659 150.9 L657.7 154.9 L658.5 158.9 L661.6 166.9 L667.8 174.9 L669.2 178.9 L668.2 186.9 L668.4 194.9 L666.8 202.9 L666.8 210.9 L665.8 214.9 L661.8 220.9 L661.4 222.9 L662.2 228.9 L661.5 230.9 L659.8 232.9 L654.8 236.9 L651.2 240.9 L647.6 248.9 L647.4 252.9 L648.9 270.9 L651.1 278.9 L655.4 290.9 L654.6 302.9 L658.2 328.9 L658.6 336.9 L659.6 342.9 L659.3 350.9 L660.1 356.9 L657.8 372.9 L658.5 376.9 L662.3 386.9 L662.5 390.9 L660.2 398.9 L660.1 404.9 L659.6 406.9 L655.1 414.9 L654 424.9 L652 428.9 L645.4 436.9 L643.4 440.9 L643.3 442.9 L645.5 452.9 L644.7 460.9 L648.1 468.9 L648.5 472.9 L646.8 478.9 L642.3 484.9 L640.4 488.9 L639.3 494.9 L636.2 504.9 L635.9 508.9 L443.8 508.9Z"/>
<path fill="#00a2c9" fill-rule="evenodd" d="M443.8 72.9 L682.3 72.9 L682.2 80.9 L680.9 90.9 L680.8 96.9 L679.1 108.9 L674 118.9 L672.3 126.9 L670.5 130.9 L660.2 142.9 L656 150.9 L654.7 154.9 L655.4 158.9 L658.4 166.9 L664.6 174.9 L666 178.9 L664.9 186.9 L665 194.9 L663.4 202.9 L663.4 210.9 L662.3 214.9 L658.3 220.9 L657.9 222.9 L658.8 228.9 L658.1 230.9 L656.4 232.9 L651.4 236.9 L647.9 240.9 L645 246.9 L644.1 250.9 L644.7 262.9 L645.8 270.9 L647.9 278.9 L652.4 290.9 L651.4 302.9 L654.8 328.9 L655.1 336.9 L656 342.9 L655.7 350.9 L656.4 356.9 L654 372.9 L654.7 376.9 L657.9 384.9 L658.6 390.9 L656.3 398.9 L655.8 406.9 L651.3 414.9 L650.5 422.9 L649.8 425.8 L646.6 430.9 L641.4 436.9 L639.8 440.3 L639.4 442.9 L641.7 452.9 L640.8 460.9 L644.2 468.9 L644.5 472.9 L642.8 478.9 L638.4 484.9 L636.5 488.9 L635.6 494.9 L632.4 504.9 L632.1 508.9 L443.8 508.9Z"/>
<path fill="#00a6bf" fill-rule="evenodd" d="M443.8 72.9 L680 72.9 L679.8 82.9 L676.8 108.9 L671.7 118.9 L669.9 126.9 L668.2 130.9 L657.8 142.9 L653.5 150.9 L652.1 154.9 L652.8 158.9 L655.7 166.9 L662.7 176.9 L663 180.9 L661.9 186.9 L661.8 194.9 L660 202.9 L659.6 212.9 L658.8 214.9 L654.7 220.9 L654.3 222.9 L655.3 228.9 L654.6 230.9 L653 232.9 L648 236.9 L644.5 240.9 L641.7 246.9 L640.9 250.9 L641.5 260.9 L642.9 270.9 L645.2 278.9 L649.8 290.9 L648.3 302.9 L650.5 328.9 L650.5 336.9 L651.2 342.9 L650.4 350.9 L650.9 356.9 L647.8 372.9 L648.2 376.9 L651.6 386.9 L651.8 390.9 L649.5 398.9 L649.4 404.9 L647.8 408.9 L644.2 414.9 L642.7 424.9 L639.2 430.9 L633.7 436.9 L631.8 440.8 L631.9 444.9 L633.8 452.9 L632.9 460.9 L636.3 468.9 L636.7 472.9 L635 478.9 L629.9 486.9 L628.7 494.9 L625.9 504.9 L625.8 508.9 L443.8 508.9Z"/>
<path fill="#00aaae" fill-rule="evenodd" d="M443.8 72.9 L677.9 72.9 L677.7 82.9 L676.5 90.9 L675.8 102.6 L674.6 108.9 L669.6 118.9 L667.8 126.9 L666 130.9 L655.7 142.9 L651.2 150.9 L649.8 154.9 L650.5 158.9 L653.2 166.9 L659.1 174.9 L660.4 178.9 L659.1 186.9 L658.9 194.9 L657.1 202.9 L656.5 212.9 L651.5 220.9 L651 222.9 L652 228.9 L651.3 230.9 L649.6 232.9 L644.5 236.9 L641.1 240.9 L637.7 248.9 L638 260.9 L639 268.9 L641 276.9 L646.2 290.9 L643.9 302.9 L644.1 326.9 L643.4 336.9 L643.5 342.9 L642 350.9 L641.8 357.4 L637.3 370.9 L636.7 374.9 L639.5 388.9 L636.2 398.9 L635.8 405 L633.9 408.9 L629.9 414.9 L628 424.9 L625.6 428.9 L621.8 433.3 L618.3 436.9 L616.1 440.9 L616.2 444.9 L617.8 452.9 L616.6 460.9 L619.8 468.9 L620 472.9 L618.5 478.9 L614.8 486.9 L614.9 496.9 L613.3 504.9 L613 508.9 L443.8 508.9Z"/>
<path fill="#00aca3" fill-rule="evenodd" d="M443.8 72.9 L675.8 72.9 L675.7 80.9 L674.1 90.9 L673.8 99 L672 108.9 L666.8 118.9 L665 126.9 L663.8 129.9 L661.8 132.9 L652.6 142.9 L648.2 150.9 L646.8 154.9 L647.4 158.9 L650 166.9 L655.8 174.9 L657.1 178.9 L657 180.9 L655.8 186.9 L655.5 194.9 L653.5 202.9 L653.2 210.9 L651.9 214.9 L647.7 220.9 L647.2 222.9 L647.7 228.9 L645.8 231.9 L639.5 236.9 L635.9 240.9 L631.9 248.9 L631.4 260.9 L631.9 270.9 L634.1 280.9 L637.2 290.9 L633.9 302.9 L632 328.9 L630.7 336.9 L630 344.9 L625.8 357.7 L617.3 372.9 L616.3 376.9 L616.2 384.9 L615.1 388.9 L609.1 396.9 L603.3 406.9 L595.8 413.6 L592.4 416.9 L587.9 422.9 L583.8 426.9 L569.1 436.9 L564.8 440.9 L564.1 442.9 L563.9 452.9 L561.2 460.9 L562.6 468.9 L562.6 470.9 L559 480.9 L556.1 486.9 L556.1 496.9 L554.5 504.9 L554.3 508.9 L443.8 508.9Z"/>
<path fill="#00ab96" fill-rule="evenodd" d="M491.4 72.9 L672.2 72.9 L671.8 82.4 L668.5 94.9 L665.8 102.9 L654.4 130.9 L644.6 142.9 L639.2 152.9 L638.7 154.9 L639.5 160.9 L639.3 164.9 L636.1 174.9 L631.4 184.9 L624.7 202.9 L620.1 218.9 L616.1 228.9 L613.8 232.1 L611.8 232.5 L609.8 230.9 L609 228.9 L608.8 222.9 L609.8 216.9 L609.7 214.9 L607.8 212.1 L589.8 200.5 L569.8 189.3 L561.8 183.8 L547.8 169.9 L541.8 161.9 L534 154.9 L529.8 154 L525.5 154.9 L518.9 160.9 L513.8 169.4 L511.8 171.1 L509.8 170.2 L507.4 164.9 L502.9 146.9 L502.6 136.9 L500.9 130.9 L500.6 116.9 L498.9 110.9 L498.6 98.9 L496.9 92.9 L496.6 86.9 L494.1 78.9Z"/>
<path fill="#00ab8d" fill-rule="evenodd" d="M598.9 72.9 L659 72.9 L658.2 80.9 L655.9 86.9 L651.7 92.9 L648.1 96.9 L643.9 100.9 L637.9 104.9 L631.8 107.2 L623.8 107.8 L619.8 107.2 L617.8 106.3 L612.8 102.9 L605.4 94.9 L603.4 90.9 L601.4 84.9 L600.6 78.9Z"/>
<path fill="#000" fill-opacity="0.5" d="M450.8 80.7 L453.1 68.1 L451.3 68.8 L455.2 61.2 L456.3 69.7 L454.9 68.5 L452.7 81.1ZM473.8 80.7 L476.2 68.2 L474.4 68.8 L478.5 61.3 L479.4 69.7 L478 68.5 L475.6 81.1ZM496.7 80.7 L499.1 68.2 L497.3 68.8 L501.4 61.3 L502.3 69.7 L500.9 68.5 L498.5 81.1ZM519.6 80.6 L524 68.6 L522.1 68.9 L527.3 62.1 L526.9 70.6 L525.7 69.2 L521.3 81.2ZM542.7 80.3 L550.7 70.4 L548.9 70.1 L556 65.4 L552.8 73.3 L552.2 71.5 L544.1 81.5ZM565.5 80.4 L571.9 69.4 L570 69.4 L576.3 63.6 L574.4 71.9 L573.5 70.3 L567.1 81.4ZM588.3 80.6 L592.7 68.6 L590.9 68.9 L596 62.1 L595.7 70.6 L594.4 69.2 L590.1 81.2ZM611.3 80.5 L616.3 68.8 L614.4 69 L619.9 62.5 L619.1 71 L618 69.5 L613 81.3ZM634.2 80.6 L638.5 68.6 L636.7 68.9 L641.9 62.1 L641.5 70.6 L640.3 69.2 L635.9 81.2ZM657.1 80.5 L663.3 69.3 L661.5 69.3 L667.6 63.4 L665.9 71.8 L664.9 70.2 L658.7 81.3ZM450.8 107 L453.5 94.5 L451.7 95 L455.9 87.6 L456.7 96.1 L455.3 94.8 L452.7 107.3ZM473.8 106.9 L476.6 94.5 L474.8 95 L479.2 87.7 L479.8 96.2 L478.4 94.9 L475.6 107.4ZM496.7 106.9 L499.4 94.5 L497.7 95 L501.9 87.6 L502.6 96.1 L501.2 94.9 L498.5 107.4ZM519.7 106.7 L526.2 95.7 L524.3 95.6 L530.6 89.9 L528.7 98.2 L527.8 96.6 L521.3 107.6ZM542.7 106.5 L551.8 97.5 L550 97 L557.5 93 L553.6 100.6 L553.1 98.8 L544 107.8ZM565.5 106.6 L572.6 96 L570.7 95.9 L577.3 90.5 L575 98.7 L574.1 97 L567.1 107.7ZM588.3 106.8 L593.1 94.9 L591.3 95.2 L596.7 88.6 L596 97.1 L594.9 95.6 L590.1 107.5ZM611.3 106.8 L616.6 95.1 L614.7 95.3 L620.4 89 L619.3 97.4 L618.3 95.9 L613 107.5ZM634.2 106.8 L639 94.9 L637.1 95.2 L642.5 88.6 L641.8 97.1 L640.7 95.6 L635.9 107.5ZM657.1 106.7 L663.7 95.7 L661.9 95.7 L668.2 90 L666.2 98.3 L665.3 96.7 L658.7 107.6ZM450.9 133.2 L453.9 120.8 L452.2 121.3 L456.6 114 L457.1 122.5 L455.7 121.2 L452.6 133.6ZM473.8 133.2 L477.1 120.8 L475.3 121.3 L479.8 114.1 L480.2 122.6 L478.9 121.3 L475.6 133.6ZM496.7 133.2 L499.8 120.8 L498 121.3 L502.4 114 L502.9 122.5 L501.6 121.2 L498.5 133.6ZM519.8 132.8 L528.2 123.1 L526.3 122.8 L533.6 118.3 L530.2 126.1 L529.6 124.4 L521.2 134ZM542.8 132.7 L552.7 124.6 L551 124 L558.9 120.8 L554.2 127.9 L553.9 126.1 L544 134.1ZM565.6 132.8 L573.3 122.6 L571.4 122.4 L578.3 117.4 L575.5 125.5 L574.7 123.7 L567 134ZM588.4 133 L593.6 121.3 L591.7 121.5 L597.3 115.1 L596.4 123.6 L595.2 122.1 L590 133.8ZM611.3 133 L616.9 121.5 L615 121.6 L620.9 115.4 L619.6 123.9 L618.5 122.3 L612.9 133.8ZM634.2 133 L639.4 121.3 L637.5 121.5 L643.2 115.1 L642.2 123.6 L641.1 122.1 L635.9 133.8ZM657.2 132.9 L664.1 122.2 L662.3 122.1 L668.8 116.6 L666.5 124.8 L665.7 123.2 L658.7 133.9ZM450.9 159.4 L454.6 147.2 L452.8 147.6 L457.6 140.5 L457.7 149.1 L456.4 147.7 L452.6 159.9ZM473.8 159.4 L477.7 147.2 L475.9 147.6 L480.8 140.6 L480.7 149.2 L479.5 147.8 L475.5 159.9ZM496.7 159.4 L500.2 147.1 L498.4 147.5 L503.1 140.4 L503.3 149 L502 147.6 L498.5 159.9ZM519.8 159 L528.2 149.4 L526.3 149 L533.6 144.6 L530.2 152.4 L529.6 150.6 L521.2 160.3ZM542.7 159 L551.6 149.8 L549.8 149.4 L557.3 145.3 L553.5 152.9 L552.9 151.1 L544.1 160.3ZM565.5 159.1 L572.6 148.5 L570.7 148.4 L577.3 143 L575 151.2 L574.1 149.5 L567.1 160.2ZM588.4 159.3 L593.9 147.7 L592 147.9 L597.8 141.6 L596.6 150 L595.5 148.5 L590 160ZM611.3 159.2 L617 147.8 L615.1 147.9 L621 141.8 L619.7 150.2 L618.6 148.6 L612.9 160.1ZM634.2 159.3 L639.7 147.7 L637.8 147.9 L643.6 141.6 L642.4 150 L641.4 148.5 L635.9 160ZM450.9 185.6 L455.3 173.6 L453.4 173.9 L458.6 167.1 L458.2 175.6 L457 174.2 L452.6 186.2ZM473.8 185.6 L478.4 173.6 L476.5 173.9 L481.8 167.2 L481.3 175.7 L480.1 174.3 L475.5 186.2ZM496.7 185.6 L500.6 173.5 L498.8 173.8 L503.7 166.9 L503.7 175.4 L502.4 174 L498.4 186.2ZM519.8 185.3 L528.2 175.6 L526.3 175.3 L533.6 170.8 L530.2 178.6 L529.6 176.9 L521.2 186.5ZM542.6 185.3 L550.3 175.1 L548.5 174.9 L555.4 169.9 L552.6 178 L551.8 176.2 L544.1 186.5ZM565.5 185.4 L571.9 174.4 L570 174.4 L576.3 168.6 L574.4 176.9 L573.5 175.3 L567.1 186.4ZM588.4 185.5 L594.2 174.1 L592.3 174.2 L598.3 168.1 L596.9 176.5 L595.8 174.9 L590 186.3ZM611.3 185.5 L617.1 174.1 L615.2 174.2 L621.2 168.1 L619.8 176.5 L618.7 174.9 L612.9 186.3ZM634.2 185.5 L640 174.1 L638.1 174.2 L644.1 168.1 L642.7 176.5 L641.7 174.9 L635.8 186.3ZM657.2 185.3 L665.1 175.3 L663.2 175 L670.2 170.1 L667.2 178.1 L666.5 176.4 L658.7 186.5ZM450.9 211.8 L455.5 199.9 L453.6 200.2 L458.9 193.5 L458.4 202 L457.2 200.5 L452.6 212.5ZM473.8 211.8 L478.3 199.9 L476.4 200.2 L481.7 193.4 L481.2 201.9 L480 200.5 L475.5 212.5ZM496.7 211.8 L500.9 199.8 L499 200.1 L504.1 193.2 L503.8 201.8 L502.6 200.4 L498.4 212.5ZM519.8 211.5 L528.1 201.8 L526.2 201.5 L533.5 196.9 L530.1 204.8 L529.5 203 L521.2 212.8ZM542.6 211.6 L550 201.1 L548.1 201 L554.9 195.8 L552.3 203.9 L551.5 202.2 L544.1 212.7ZM565.5 211.7 L572.2 200.8 L570.3 200.7 L576.7 195.1 L574.7 203.4 L573.8 201.7 L567.1 212.6ZM588.4 211.7 L594.7 200.6 L592.8 200.6 L599.1 194.7 L597.3 203.1 L596.3 201.5 L590 212.6ZM611.3 211.7 L617.6 200.6 L615.7 200.6 L622 194.7 L620.2 203.1 L619.2 201.5 L612.9 212.6ZM634.2 211.7 L640.6 200.6 L638.7 200.6 L645 194.8 L643.2 203.2 L642.2 201.5 L635.8 212.6ZM657.2 211.6 L665.4 201.8 L663.6 201.4 L670.8 196.8 L667.5 204.7 L666.9 203 L658.6 212.7ZM450.9 238.1 L455.7 226.2 L453.8 226.5 L459.2 219.9 L458.6 228.4 L457.4 226.9 L452.6 238.7ZM473.8 238.1 L478.2 226.1 L476.3 226.4 L481.5 219.6 L481.1 228.1 L479.9 226.7 L475.5 238.7ZM496.7 238.1 L501.1 226.1 L499.2 226.4 L504.4 219.6 L504 228.1 L502.8 226.7 L498.4 238.7ZM519.8 237.8 L528 228 L526.2 227.7 L533.3 223.1 L530 230.9 L529.4 229.2 L521.2 239ZM542.6 237.9 L549.6 227.2 L547.7 227.1 L554.3 221.6 L552 229.8 L551.1 228.2 L544.2 238.9ZM565.5 237.9 L572.5 227.2 L570.6 227.1 L577.2 221.6 L574.9 229.8 L574 228.2 L567.1 238.9ZM588.4 237.9 L595.2 227.1 L593.3 227 L599.8 221.4 L597.6 229.7 L596.8 228 L590 238.9ZM611.3 237.9 L618.1 227.1 L616.2 227 L622.7 221.4 L620.6 229.7 L619.7 228 L612.9 238.9ZM634.2 237.9 L641.2 227.2 L639.3 227.1 L645.9 221.6 L643.6 229.8 L642.8 228.2 L635.8 238.9ZM451 264.1 L458.3 253.6 L456.5 253.5 L463.2 248.3 L460.6 256.4 L459.8 254.7 L452.5 265.2ZM473.9 264.2 L480 253 L478.2 253 L484.4 247.2 L482.6 255.5 L481.7 253.9 L475.5 265.1ZM496.7 264.2 L502.4 252.8 L500.6 252.9 L506.5 246.8 L505.1 255.2 L504.1 253.6 L498.4 265.1ZM519.8 264.1 L528 254.3 L526.2 253.9 L533.3 249.3 L530 257.2 L529.4 255.5 L521.2 265.2ZM542.6 264.1 L549.8 253.5 L547.9 253.4 L554.6 248.1 L552.1 256.2 L551.3 254.6 L544.2 265.2ZM565.5 264.1 L572.8 253.6 L570.9 253.4 L577.6 248.2 L575.1 256.3 L574.3 254.6 L567.1 265.2ZM588.4 264.1 L595.6 253.5 L593.7 253.4 L600.4 248.1 L597.9 256.2 L597.1 254.6 L590 265.2ZM611.3 264.1 L618.5 253.5 L616.6 253.4 L623.3 248.1 L620.9 256.2 L620 254.6 L612.9 265.2ZM634.3 264.1 L641.5 253.6 L639.6 253.4 L646.4 248.2 L643.8 256.3 L643 254.6 L635.8 265.2ZM451.1 290.2 L460.6 281.7 L458.9 281.1 L466.6 277.5 L462.3 284.9 L461.9 283 L452.4 291.6ZM473.9 290.3 L481.8 280.3 L480 280 L487 275.1 L484 283.1 L483.3 281.4 L475.4 291.5ZM496.8 290.4 L503.8 279.7 L501.9 279.6 L508.5 274.1 L506.2 282.3 L505.3 280.7 L498.3 291.4ZM519.8 290.3 L528 280.5 L526.2 280.2 L533.3 275.6 L530 283.4 L529.4 281.7 L521.2 291.5ZM542.6 290.4 L550 279.9 L548.1 279.7 L554.9 274.5 L552.3 282.6 L551.5 281 L544.1 291.4ZM565.5 290.4 L573.1 280 L571.2 279.8 L578.1 274.7 L575.3 282.8 L574.6 281.1 L567 291.4ZM588.5 290.4 L596 280 L594.1 279.8 L601 274.7 L598.2 282.8 L597.5 281.1 L590 291.4ZM611.4 290.4 L618.9 280 L617 279.8 L623.9 274.7 L621.1 282.8 L620.4 281.1 L612.9 291.4ZM634.3 290.4 L641.8 280 L639.9 279.8 L646.8 274.7 L644.1 282.8 L643.3 281.1 L635.8 291.4ZM451.2 316.4 L461.2 308.5 L459.4 307.8 L467.4 304.7 L462.6 311.8 L462.3 309.9 L452.3 317.9ZM473.9 316.6 L481.9 306.6 L480.1 306.3 L487.1 301.5 L484 309.5 L483.3 307.7 L475.4 317.7ZM496.8 316.6 L503.8 305.9 L501.9 305.8 L508.5 300.4 L506.2 308.6 L505.3 306.9 L498.3 317.7ZM519.8 316.6 L527.7 306.6 L525.9 306.3 L532.9 301.5 L529.9 309.5 L529.2 307.7 L521.2 317.7ZM542.7 316.6 L550.7 306.6 L548.9 306.3 L556 301.6 L552.8 309.5 L552.2 307.8 L544.1 317.7ZM565.6 316.6 L573.3 306.4 L571.5 306.2 L578.5 301.3 L575.5 309.3 L574.8 307.6 L567 317.7ZM588.5 316.6 L596.1 306.3 L594.2 306.1 L601.1 301.1 L598.3 309.1 L597.6 307.4 L589.9 317.7ZM611.4 316.6 L619.2 306.4 L617.3 306.2 L624.3 301.3 L621.4 309.3 L620.6 307.6 L612.8 317.7ZM634.3 316.6 L642.4 306.7 L640.6 306.4 L647.7 301.7 L644.5 309.6 L643.9 307.9 L635.7 317.7ZM451.2 342.6 L461.7 335.3 L460 334.5 L468.1 331.9 L462.9 338.7 L462.8 336.8 L452.3 344.2ZM473.9 342.8 L482 332.9 L480.1 332.6 L487.2 327.9 L484.1 335.8 L483.4 334 L475.4 344ZM496.8 342.9 L503.8 332.2 L501.9 332.1 L508.5 326.6 L506.2 334.8 L505.3 333.2 L498.3 343.9ZM519.7 342.8 L527.4 332.6 L525.6 332.4 L532.5 327.4 L529.6 335.5 L528.9 333.7 L521.2 344ZM542.7 342.8 L551.4 333.4 L549.6 333 L557 328.8 L553.3 336.5 L552.8 334.7 L544.1 344ZM565.6 342.8 L573.6 332.9 L571.8 332.6 L578.9 327.9 L575.7 335.8 L575.1 334 L567 344ZM588.5 342.8 L596.2 332.6 L594.3 332.4 L601.2 327.4 L598.4 335.5 L597.6 333.7 L589.9 344ZM611.4 342.8 L619.4 332.9 L617.6 332.6 L624.7 327.9 L621.6 335.8 L620.9 334 L612.8 344ZM634.3 342.8 L643.1 333.4 L641.3 333 L648.7 328.8 L645 336.5 L644.4 334.7 L635.7 344ZM451.2 368.9 L461.1 360.9 L459.4 360.2 L467.3 357.1 L462.6 364.2 L462.3 362.3 L452.3 370.4ZM474 369 L482.3 359.3 L480.4 359 L487.6 354.4 L484.3 362.3 L483.7 360.5 L475.4 370.3ZM496.8 369.1 L504.6 358.9 L502.8 358.7 L509.7 353.8 L506.8 361.8 L506.1 360.1 L498.3 370.2ZM519.8 369 L528.1 359.3 L526.2 359 L533.5 354.4 L530.1 362.3 L529.5 360.5 L521.2 370.3ZM542.7 369 L551.7 359.9 L549.9 359.4 L557.4 355.4 L553.5 363 L553 361.2 L544 370.3ZM565.6 369 L574.1 359.5 L572.2 359.1 L579.5 354.7 L576.1 362.5 L575.5 360.7 L567 370.3ZM588.5 369 L596.8 359.3 L595 359 L602.2 354.4 L598.8 362.3 L598.2 360.5 L589.9 370.3ZM611.4 369 L620.1 359.6 L618.3 359.2 L625.6 354.9 L622 362.6 L621.4 360.8 L612.8 370.3ZM634.4 369 L643.3 359.9 L641.5 359.4 L649 355.4 L645.1 363 L644.6 361.2 L635.7 370.3ZM451.1 395.2 L460.5 386.5 L458.7 386 L466.4 382.3 L462.2 389.7 L461.7 387.9 L452.4 396.6ZM474 395.3 L482.5 385.8 L480.7 385.4 L488 381 L484.5 388.8 L483.9 387 L475.3 396.5ZM496.9 395.3 L505.4 385.8 L503.6 385.4 L511 381 L507.4 388.8 L506.8 387 L498.3 396.5ZM519.8 395.3 L528.7 386.1 L526.9 385.6 L534.4 381.5 L530.5 389.1 L530 387.3 L521.1 396.5ZM542.7 395.2 L551.9 386.4 L550.2 385.8 L557.8 382 L553.7 389.5 L553.2 387.7 L544 396.6ZM565.6 395.3 L574.5 386.1 L572.7 385.6 L580.2 381.5 L576.4 389.1 L575.8 387.3 L567 396.5ZM588.5 395.3 L597.4 386.1 L595.6 385.6 L603.1 381.5 L599.3 389.1 L598.8 387.3 L589.9 396.5ZM611.5 395.2 L620.7 386.4 L618.9 385.8 L626.5 382 L622.4 389.5 L622 387.7 L612.8 396.6ZM634.4 395.2 L643.6 386.4 L641.8 385.8 L649.4 382 L645.3 389.5 L644.9 387.7 L635.7 396.6ZM657.3 395.2 L666.7 386.5 L664.9 386 L672.6 382.3 L668.3 389.7 L667.9 387.9 L658.6 396.6ZM451.1 421.5 L460.7 413 L458.9 412.4 L466.7 408.9 L462.3 416.2 L461.9 414.4 L452.4 422.8ZM474 421.5 L483 412.4 L481.2 411.9 L488.7 407.9 L484.8 415.5 L484.3 413.7 L475.3 422.8ZM496.9 421.5 L505.9 412.4 L504.1 411.9 L511.6 407.9 L507.7 415.5 L507.2 413.7 L498.2 422.8ZM519.8 421.5 L528.9 412.5 L527.2 412 L534.7 408.1 L530.7 415.7 L530.2 413.8 L521.1 422.8ZM542.8 421.5 L552.1 412.8 L550.3 412.2 L558 408.5 L553.8 415.9 L553.4 414.1 L544 422.8ZM565.7 421.5 L574.8 412.6 L573.1 412.1 L580.7 408.3 L576.6 415.7 L576.1 413.9 L566.9 422.8ZM588.6 421.5 L597.8 412.6 L596 412.1 L603.6 408.3 L599.5 415.7 L599 413.9 L589.8 422.8ZM611.5 421.5 L620.9 412.8 L619.1 412.3 L626.9 408.6 L622.6 416 L622.2 414.2 L612.7 422.8ZM634.4 421.5 L643.8 412.8 L642 412.3 L649.8 408.6 L645.5 416 L645.1 414.2 L635.6 422.8ZM451.2 447.7 L460.9 439.5 L459.2 438.8 L467.1 435.5 L462.5 442.7 L462.1 440.9 L452.3 449.1ZM474 447.7 L483.4 439 L481.6 438.5 L489.3 434.8 L485.1 442.2 L484.6 440.4 L475.3 449.1ZM496.9 447.7 L506.3 439 L504.5 438.5 L512.2 434.8 L508 442.2 L507.5 440.4 L498.2 449.1ZM519.8 447.7 L529.2 439 L527.4 438.5 L535.1 434.8 L530.9 442.2 L530.5 440.4 L521.1 449.1ZM542.8 447.7 L552.3 439.2 L550.5 438.6 L558.2 435 L553.9 442.4 L553.5 440.5 L544 449.1ZM565.7 447.7 L575.2 439.2 L573.4 438.6 L581.2 435 L576.8 442.4 L576.4 440.5 L566.9 449.1ZM588.6 447.7 L598.1 439.2 L596.3 438.6 L604.1 435 L599.7 442.4 L599.3 440.5 L589.8 449.1ZM611.5 447.7 L621.2 439.3 L619.4 438.7 L627.2 435.3 L622.7 442.5 L622.4 440.7 L612.7 449.1ZM634.4 447.7 L644.1 439.3 L642.3 438.7 L650.1 435.3 L645.6 442.5 L645.3 440.7 L635.6 449.1ZM451.2 473.9 L461.2 466 L459.4 465.3 L467.4 462.2 L462.6 469.3 L462.3 467.4 L452.3 475.4ZM474.1 473.9 L483.9 465.7 L482.1 465.1 L490 461.8 L485.4 469 L485 467.1 L475.3 475.4ZM497 474 L506.5 465.5 L504.8 464.9 L512.5 461.4 L508.1 468.7 L507.8 466.9 L498.2 475.3ZM519.9 474 L529.4 465.4 L527.6 464.8 L535.3 461.3 L531 468.6 L530.6 466.8 L521.1 475.3ZM542.8 474 L552.4 465.6 L550.7 464.9 L558.5 461.5 L554 468.8 L553.6 467 L544 475.3ZM565.7 473.9 L575.5 465.7 L573.7 465.1 L581.6 461.8 L577 469 L576.7 467.1 L566.9 475.4ZM588.6 473.9 L598.4 465.7 L596.7 465.1 L604.5 461.8 L599.9 469 L599.6 467.1 L589.8 475.4ZM611.5 473.9 L621.5 465.9 L619.7 465.2 L627.7 462.1 L622.9 469.2 L622.6 467.3 L612.7 475.4ZM634.4 473.9 L644.4 465.9 L642.6 465.2 L650.6 462.1 L645.8 469.2 L645.5 467.3 L635.6 475.4ZM451.2 500.2 L461.4 492.5 L459.7 491.7 L467.7 488.9 L462.8 495.8 L462.5 493.9 L452.3 501.6ZM474.1 500.2 L484.3 492.5 L482.6 491.7 L490.6 488.9 L485.7 495.8 L485.4 493.9 L475.2 501.6ZM497 500.2 L506.8 492 L505 491.3 L512.9 488 L508.3 495.2 L508 493.4 L498.2 501.6ZM519.9 500.2 L529.5 491.8 L527.8 491.2 L535.6 487.8 L531.1 495 L530.7 493.2 L521.1 501.6ZM542.8 500.2 L552.6 492 L550.8 491.3 L558.7 488 L554.1 495.2 L553.8 493.4 L544 501.6ZM565.7 500.2 L575.8 492.3 L574.1 491.6 L582.1 488.6 L577.2 495.6 L576.9 493.8 L566.9 501.6ZM588.6 500.2 L598.7 492.3 L597 491.6 L605 488.6 L600.1 495.6 L599.8 493.8 L589.8 501.6ZM611.6 500.2 L621.8 492.5 L620.1 491.7 L628.1 488.9 L623.1 495.8 L622.9 493.9 L612.7 501.6Z"/>
<path fill="#c0c0c0" d="M683 78.9 L683 80.9 L682.9 86.4 L680.8 88.7 L681.9 91 L681.5 94 L682.5 96.6 L681.5 100 L680 102.3 L681.9 105.3 L680.4 109 L679.1 112.8 L676.1 113.9 L676.5 118.1 L673.1 121.1 L674.6 124.9 L674 128.6 L670.1 133.2 L668.6 136.9 L665.6 138.1 L662.2 140.7 L660.8 144.5 L661.1 148.2 L657.2 151.9 L657.2 155.9 L659.8 159.9 L661.9 163.4 L662.6 167.2 L663.8 169.8 L667.9 171.7 L671.6 174.7 L672 178.5 L673.1 181.5 L671.6 186 L671.6 189.8 L674.2 194 L672.8 197.3 L672 204.1 L672.8 207.9 L674.2 211.9 L672.8 216.9 L671 218.4 L667.1 221.1 L668.2 223.7 L669.5 228.2 L668.6 232.8 L664.9 233.5 L662.6 235.8 L661.8 239.7 L658.4 241.9 L655.4 241.6 L654.2 237.8 L652.4 239.7 L650.9 245.7 L649 262.3 L648.5 270.6 L649.4 278.1 L650.9 285.6 L652.8 290.2 L652 296.2 L651.5 302.2 L653.5 308.2 L654.6 314.3 L655.4 320.4 L657.6 327.2 L658.2 335.3 L659.1 341.5 L661.8 345.3 L660.2 347.6 L658.4 350.2 L662.1 355.2 L661 361.1 L660.2 367.2 L659.5 373.2 L659.9 377.7 L662.9 379.2 L663.6 384.5 L667 388.6 L666 392.8 L664 396.4 L663.9 399.8 L665.9 404.7 L664.9 409.6 L661.5 411.5 L661 414.4 L659 417.4 L661 421.3 L660.5 425.2 L658.5 427.1 L656.8 430.9 L651.8 436.9 L647.4 437.9 L648.8 441.8 L649.8 447.6 L652.1 452.5 L651.8 455.4 L649.8 457.4 L649.8 462.2 L652.6 466.1 L655.1 469.1 L654.1 473.9 L652.6 479.8 L649.2 482.7 L644.4 484.7 L643.5 487.6 L642 493.5 L638.5 499.3 L637.2 500.9 L636 502.9 L711.8 505.9 L711.8 75.9Z"/>
<path fill="none" stroke="#000" stroke-width="1.9" stroke-linejoin="round" d="M683 78.9 L683 80.9 L682.9 86.4 L680.8 88.7 L681.9 91 L681.5 94 L682.5 96.6 L681.5 100 L680 102.3 L681.9 105.3 L680.4 109 L679.1 112.8 L676.1 113.9 L676.5 118.1 L673.1 121.1 L674.6 124.9 L674 128.6 L670.1 133.2 L668.6 136.9 L665.6 138.1 L662.2 140.7 L660.8 144.5 L661.1 148.2 L657.2 151.9 L657.2 155.9 L659.8 159.9 L661.9 163.4 L662.6 167.2 L663.8 169.8 L667.9 171.7 L671.6 174.7 L672 178.5 L673.1 181.5 L671.6 186 L671.6 189.8 L674.2 194 L672.8 197.3 L672 204.1 L672.8 207.9 L674.2 211.9 L672.8 216.9 L671 218.4 L667.1 221.1 L668.2 223.7 L669.5 228.2 L668.6 232.8 L664.9 233.5 L662.6 235.8 L661.8 239.7 L658.4 241.9 L655.4 241.6 L654.2 237.8 L652.4 239.7 L650.9 245.7 L650.2 250.9 L649 262.3 L648.5 270.6 L649.4 278.1 L650.9 285.6 L652.8 290.2 L652 296.2 L651.5 302.2 L653.5 308.2 L654.6 314.3 L655.4 320.4 L657.6 327.2 L658.2 335.3 L659.1 341.5 L661.8 345.3 L660.2 347.6 L658.4 350.2 L662.1 355.2 L661 361.1 L660.2 367.2 L659.5 373.2 L659.9 377.7 L662.9 379.2 L663.6 384.5 L667 388.6 L666 392.8 L664 396.4 L663.9 399.8 L665.9 404.7 L664.9 409.6 L661.5 411.5 L661 414.4 L659 417.4 L661 421.3 L660.5 425.2 L658.5 427.1 L656.8 430.9 L651.8 436.9 L647.4 437.9 L648.8 441.8 L649.8 447.6 L652.1 452.5 L651.8 455.4 L649.8 457.4 L649.8 462.2 L652.6 466.1 L655.1 469.1 L654.1 473.9 L652.6 479.8 L649.2 482.7 L644.4 484.7 L643.5 487.6 L642 493.5 L638.5 499.3 L637.2 500.9 L636 502.9"/>
<path fill="none" stroke="#000" stroke-width="1.6" stroke-linejoin="round" d="M661.9 163.4 L667.9 163.4 L670.1 160.8 L674.6 163.4 L680 163.8 L680.8 171 L686 172.1 L687.1 175.9 L691.2 174 L693.5 163.4 L697.2 160.4 L704.8 160.8"/>
<path fill="none" stroke="#000" stroke-width="1.6" stroke-linejoin="round" d="M660.6 373.9 L662.9 372.1 L671.1 375.1 L675.8 372.8 L678.8 369.4 L681 372.4 L689.2 364.1 L695.4 365.6 L704.8 363.4"/>
<path fill="none" stroke="#000" stroke-width="1.6" stroke-linejoin="round" d="M704.8 425.7 L697 427.1 L690.2 430 L690.8 436.9 L691.8 443.7 L684.4 446.6 L678.5 447.6 L679 454.4 L671.8 460.3 L671.2 469.1 L665.9 477.9 L669.8 484.7 L659 484.7 L658 491.5 L649.2 496.4 L642.5 494.4"/>
<path fill="none" stroke="#000" stroke-width="1.6" stroke-linejoin="round" d="M649.2 496.4 L652.8 501.9"/>
<ellipse cx="659" cy="169.2" rx="1.1" ry="1.6" fill="#000"/>
<ellipse cx="659.4" cy="191.1" rx="0.5" ry="0.9" fill="#000"/>
</g>
<circle cx="661" cy="156.4" r="4.7" fill="#ffd700" stroke="#000" stroke-width="1.9"/>
<circle cx="675.1" cy="213.4" r="4.7" fill="#ffd700" stroke="#000" stroke-width="1.9"/>
<circle cx="650.1" cy="255.4" r="4.7" fill="#ffd700" stroke="#000" stroke-width="1.9"/>
<circle cx="658.2" cy="335.3" r="4.7" fill="#ffd700" stroke="#000" stroke-width="1.9"/>
<circle cx="662.1" cy="355.2" r="4.7" fill="#ffd700" stroke="#000" stroke-width="1.9"/>
<circle cx="655.1" cy="435.4" r="4.7" fill="#ffd700" stroke="#000" stroke-width="1.9"/>
<rect x="451.8" y="80.9" width="252" height="420" fill="none" stroke="#000" stroke-width="1.6"/>
<text x="451.9" y="68.9" font-size="28" style="font-family:'DejaVu Sans','Liberation Sans',sans-serif">mar 09-dic</text>
<g clip-path="url(#cp2)">
<rect x="812.5" y="80.9" width="252" height="420" fill="#009bdc"/>
<path fill="#009bd8" fill-rule="evenodd" d="M804.5 72.9 L1045 72.9 L1044.8 82.9 L1041.8 108.9 L1036.7 118.9 L1034.2 128.9 L1031.9 132.9 L1022.9 142.9 L1018.8 150.9 L1017.5 154.9 L1018.3 158.9 L1021.3 166.9 L1027.5 174.9 L1029 178.9 L1028 186.9 L1028.1 194.9 L1026.5 202.9 L1026.3 212.9 L1021.5 220.9 L1021 222.9 L1021.7 228.9 L1021 230.9 L1019.2 232.9 L1014 236.9 L1010.4 240.9 L1007.3 246.9 L1006.2 250.9 L1006.5 262.9 L1007.3 270.9 L1009.1 278.9 L1013.1 290.9 L1011.3 302.9 L1012.6 328.9 L1012.2 350.9 L1013.4 358.9 L1011.9 372.9 L1012.9 376.9 L1017.3 386.9 L1018 390.9 L1016.5 398.9 L1017.1 404.9 L1016.8 406.9 L1012.9 414.9 L1012.1 424.9 L1010.6 428.9 L1004.8 436.9 L1003.2 440.9 L1003.4 442.9 L1006.7 452.9 L1006.2 460.9 L1008.7 468.9 L1008.7 472.9 L1006.2 478.9 L1000.9 484.9 L998.4 488.9 L996.5 494.9 L992.9 502.9 L992.2 508.9 L804.5 508.9Z"/>
<path fill="#00a2c9" fill-rule="evenodd" d="M804.5 72.9 L1041.4 72.9 L1041.2 82.9 L1040 90.9 L1039.9 96.9 L1038.1 108.9 L1032.9 118.9 L1030.5 128.9 L1028 132.9 L1019 142.9 L1014.9 150.9 L1013.6 154.9 L1013.8 156.9 L1017.3 166.9 L1023.4 174.9 L1024.6 176.9 L1025 178.9 L1024 186.9 L1024.1 194.9 L1022.5 202.9 L1022.3 212.9 L1017.3 220.9 L1016.9 222.9 L1017.6 228.9 L1016.8 230.9 L1009.8 236.9 L1006.3 240.9 L1003.2 246.9 L1002.3 250.9 L1003.3 270.9 L1005.2 278.9 L1009.2 290.9 L1007.3 302.9 L1008.5 328.9 L1008.1 336.9 L1008.5 342.9 L1007.9 350.9 L1008.9 358.9 L1007.2 372.9 L1007.9 376.9 L1012.5 387 L1013 390.9 L1011.5 396.9 L1011.9 404.9 L1010.5 409.6 L1007.6 414.9 L1006.5 426.9 L1004.4 430.9 L999.6 436.9 L998.8 438.9 L998.6 442.9 L1002 452.9 L1001.8 462.9 L1004.2 470.9 L1002.5 477 L995.9 484.9 L993.7 488.9 L992.5 493.4 L989.1 500.9 L988 504.9 L987.7 508.9 L804.5 508.9Z"/>
<path fill="#00a6bf" fill-rule="evenodd" d="M804.5 72.9 L1036.4 72.9 L1036.3 80.9 L1034.9 88.9 L1034.4 96.9 L1032.2 108.9 L1026.8 118.9 L1024 128.9 L1021.4 132.9 L1012.2 142.9 L1007.7 150.9 L1006.3 154.9 L1006.9 158.9 L1009.6 166.9 L1016.5 176.9 L1016.7 180.9 L1015.5 186.9 L1015.3 194.9 L1013.4 202.9 L1012.8 212.9 L1007.7 220.9 L1007.3 222.9 L1008.2 228.9 L1007.4 230.9 L1005.7 232.9 L1000.6 236.9 L997.1 240.9 L993.6 248.9 L994 260.9 L995.1 270.9 L997.2 278.9 L1001.6 290.9 L998.7 302.9 L997.8 326.9 L996 344.9 L990.2 356.9 L979.7 370.9 L977.4 374.9 L974.7 388.9 L966.3 400.9 L965.4 406.9 L961.9 414.9 L961.5 416.9 L962 420.9 L964.4 424.9 L965.8 428.9 L966.2 432.9 L965.9 436.9 L967 440.9 L974.5 449.3 L977.6 452.9 L979.7 456.9 L979.1 462.9 L979.8 468.9 L978.7 472.9 L972.4 486.9 L972.4 496.9 L970.8 504.9 L970.6 508.9 L804.5 508.9 L804.5 297.2 L812.5 293.3 L815.3 290.9 L816.7 288.9 L818.8 282.9 L819.7 276.9 L822.3 266.9 L827.9 258.9 L831.1 248.9 L830.6 246.9 L829.3 244.9 L824.5 240.5 L814.5 234.4 L804.5 230.1ZM886.5 216.6 L878.2 218.9 L874.5 221.9 L868.1 228.9 L860.1 244.9 L854.1 262.9 L853.1 268.9 L853.7 278.9 L854.3 280.9 L858.5 287.3 L860.5 289.2 L866.5 293.1 L872.5 294.5 L876.5 293.8 L880.5 291.7 L886.9 284.9 L888.8 280.9 L890.1 274.9 L894 264.9 L896.5 260.4 L902.9 252.9 L908 242.9 L909.3 238.9 L909.5 234.9 L908.7 230.9 L904.8 224.9 L902.9 222.9 L890.5 216.6Z"/>
<path fill="#00aaae" fill-rule="evenodd" d="M942.2 72.9 L1028.3 72.9 L1027.9 80.9 L1025.2 92.9 L1024.5 98.9 L1023.3 102.9 L1020.6 108.9 L1016.7 114.9 L1010.5 121.8 L1006.5 125.8 L1000.5 130 L996.5 133.8 L988.5 139.1 L986.5 139.7 L982.5 139.7 L976 136.9 L972.5 133.8 L968.4 128.9 L963.5 124.9 L956.5 117.9 L953 112.9 L950.1 106.9 L946.2 94.9 L945.3 82.9ZM804.5 454.9 L810.5 455.9 L846.5 455.9 L850.5 456.6 L854.5 458.5 L858.5 462 L863.6 468.9 L875.5 480.9 L889.3 490.9 L891.3 494.9 L894.9 508.9 L804.5 508.9Z"/>
<path fill="#000" fill-opacity="0.5" d="M812 80.1 L822.4 72.8 L820.8 72 L828.9 69.4 L823.7 76.2 L823.5 74.3 L813 81.7ZM834.9 80.1 L845.4 72.8 L843.7 72 L851.8 69.4 L846.6 76.2 L846.4 74.3 L835.9 81.7ZM857.8 80.1 L868.3 72.8 L866.6 72 L874.7 69.4 L869.5 76.2 L869.3 74.3 L858.8 81.7ZM880.7 80.2 L890.9 72.5 L889.2 71.7 L897.2 68.9 L892.2 75.8 L892 73.9 L881.8 81.6ZM903.6 80.1 L914.1 72.8 L912.4 72 L920.5 69.4 L915.3 76.2 L915.1 74.3 L904.7 81.7ZM926.5 80.2 L936.7 72.5 L935 71.7 L943 68.9 L938 75.8 L937.8 73.9 L927.6 81.6ZM949.3 80.2 L959 71.8 L957.2 71.2 L965 67.8 L960.6 75 L960.2 73.2 L950.6 81.6ZM972.2 80.2 L981.6 71.5 L979.8 71 L987.5 67.3 L983.3 74.7 L982.8 72.9 L973.5 81.6ZM995.1 80.3 L1003.8 70.9 L1002 70.5 L1009.4 66.3 L1005.7 74 L1005.2 72.2 L996.4 81.5ZM1018 80.2 L1027.1 71.2 L1025.3 70.7 L1032.8 66.8 L1028.9 74.3 L1028.4 72.5 L1019.3 81.6ZM812 106.4 L822.4 99.1 L820.8 98.3 L828.9 95.7 L823.7 102.4 L823.5 100.6 L813 107.9ZM834.9 106.4 L845.4 99.1 L843.7 98.3 L851.8 95.7 L846.6 102.4 L846.4 100.6 L835.9 107.9ZM857.8 106.4 L868.3 99.1 L866.6 98.3 L874.7 95.7 L869.5 102.4 L869.3 100.6 L858.8 107.9ZM880.7 106.4 L890.9 98.7 L889.2 98 L897.2 95.1 L892.2 102 L892 100.2 L881.8 107.9ZM903.6 106.4 L914.1 99.1 L912.4 98.3 L920.5 95.7 L915.3 102.4 L915.1 100.6 L904.7 107.9ZM926.5 106.4 L936.7 98.7 L935 98 L943 95.1 L938 102 L937.8 100.2 L927.6 107.9ZM949.3 106.5 L959 98.1 L957.2 97.4 L965 94 L960.6 101.3 L960.2 99.5 L950.6 107.8ZM972.2 106.5 L981.6 97.8 L979.8 97.2 L987.5 93.5 L983.3 100.9 L982.8 99.1 L973.5 107.8ZM995.1 106.5 L1003.8 97.2 L1002 96.7 L1009.4 92.5 L1005.7 100.2 L1005.2 98.4 L996.4 107.8ZM1018 106.5 L1027.1 97.5 L1025.3 97 L1032.8 93 L1028.9 100.6 L1028.4 98.8 L1019.3 107.8ZM812 132.6 L822.4 125.3 L820.8 124.5 L828.9 121.9 L823.7 128.7 L823.5 126.8 L813 134.2ZM834.9 132.7 L845.2 125.1 L843.5 124.4 L851.6 121.6 L846.5 128.5 L846.3 126.6 L836 134.1ZM857.8 132.7 L868.1 125.1 L866.4 124.4 L874.5 121.6 L869.4 128.5 L869.2 126.6 L858.9 134.1ZM880.8 132.6 L892.1 126.6 L890.5 125.6 L898.9 124 L892.9 130.1 L893 128.2 L881.7 134.2ZM903.6 132.6 L914.5 125.8 L912.8 125 L921.1 122.8 L915.5 129.3 L915.5 127.4 L904.6 134.2ZM926.6 132.6 L937.9 126.6 L936.3 125.6 L944.7 124 L938.7 130.1 L938.8 128.2 L927.5 134.2ZM949.3 132.7 L958.8 124.2 L957.1 123.6 L964.8 120 L960.5 127.4 L960.1 125.5 L950.6 134.1ZM972.2 132.7 L981.4 123.9 L979.6 123.3 L987.3 119.5 L983.2 127 L982.7 125.2 L973.5 134.1ZM995.1 132.8 L1004 123.6 L1002.2 123.1 L1009.7 119 L1005.8 126.6 L1005.3 124.8 L996.4 134ZM1018.1 132.7 L1027.6 124.2 L1025.8 123.6 L1033.5 120 L1029.2 127.4 L1028.8 125.5 L1019.3 134.1ZM811.9 158.9 L822.2 151.2 L820.4 150.5 L828.5 147.6 L823.5 154.5 L823.3 152.7 L813.1 160.4ZM834.9 158.9 L845.1 151.2 L843.4 150.5 L851.4 147.6 L846.4 154.5 L846.2 152.7 L836 160.4ZM857.8 158.9 L868 151.2 L866.3 150.5 L874.3 147.6 L869.3 154.5 L869.1 152.7 L858.9 160.4ZM880.7 158.9 L891.6 152.1 L889.9 151.2 L898.2 149.1 L892.6 155.5 L892.6 153.7 L881.7 160.4ZM903.7 158.8 L915 152.8 L913.4 151.8 L921.8 150.3 L915.8 156.3 L915.9 154.5 L904.6 160.5ZM926.5 158.9 L937.1 151.7 L935.5 150.9 L943.6 148.5 L938.3 155.1 L938.2 153.3 L927.6 160.4ZM949.3 159 L958.5 150.1 L956.7 149.6 L964.3 145.8 L960.3 153.2 L959.8 151.4 L950.6 160.3ZM972.2 159 L981.4 150.1 L979.6 149.6 L987.3 145.8 L983.2 153.2 L982.7 151.4 L973.5 160.3ZM995.1 159 L1004 149.8 L1002.2 149.4 L1009.7 145.3 L1005.8 152.9 L1005.3 151.1 L996.4 160.3ZM811.9 185.2 L822.2 177.5 L820.4 176.7 L828.5 173.9 L823.5 180.8 L823.3 178.9 L813.1 186.6ZM834.9 185.2 L845.1 177.5 L843.4 176.7 L851.4 173.9 L846.4 180.8 L846.2 178.9 L836 186.6ZM857.8 185.2 L868 177.5 L866.3 176.7 L874.3 173.9 L869.3 180.8 L869.1 178.9 L858.9 186.6ZM880.8 185.1 L892 178.9 L890.4 177.9 L898.7 176.2 L892.8 182.4 L892.9 180.5 L881.7 186.7ZM903.7 185.1 L914.6 178.5 L913 177.6 L921.3 175.6 L915.6 182 L915.6 180.1 L904.6 186.7ZM926.4 185.2 L935.4 176.2 L933.6 175.7 L941.2 171.8 L937.2 179.3 L936.7 177.5 L927.7 186.6ZM949.6 185 L961.5 180.3 L960 179.1 L968.5 178.4 L961.9 183.8 L962.2 182 L950.3 186.8ZM972.2 185.2 L981.2 176.2 L979.5 175.7 L987 171.8 L983 179.3 L982.6 177.5 L973.5 186.6ZM995.1 185.2 L1004.2 176.2 L1002.4 175.7 L1009.9 171.8 L1006 179.3 L1005.5 177.5 L996.4 186.6ZM1018.1 185.2 L1027.7 176.8 L1026 176.2 L1033.8 172.8 L1029.3 180 L1028.9 178.2 L1019.3 186.6ZM811.9 211.4 L822.2 203.7 L820.4 203 L828.5 200.1 L823.5 207 L823.3 205.2 L813.1 212.9ZM834.9 211.4 L845.1 203.7 L843.4 203 L851.4 200.1 L846.4 207 L846.2 205.2 L836 212.9ZM857.8 211.4 L868 203.7 L866.3 203 L874.3 200.1 L869.3 207 L869.1 205.2 L858.9 212.9ZM881.1 211.2 L893.6 208.8 L892.4 207.4 L900.9 208.3 L893.4 212.4 L894 210.6 L881.4 213.1ZM903.7 211.3 L915.3 205.9 L913.8 204.8 L922.3 203.7 L916 209.4 L916.1 207.6 L904.5 213ZM926.4 211.5 L936.1 203.1 L934.3 202.4 L942.1 199 L937.7 206.3 L937.3 204.5 L927.7 212.8ZM949.3 211.5 L959 203.1 L957.2 202.4 L965 199 L960.6 206.3 L960.2 204.5 L950.6 212.8ZM972.2 211.5 L981.6 202.8 L979.8 202.2 L987.5 198.5 L983.3 205.9 L982.8 204.1 L973.5 212.8ZM995.1 211.5 L1004.5 202.8 L1002.7 202.2 L1010.4 198.5 L1006.2 205.9 L1005.8 204.1 L996.4 212.8ZM1018.1 211.4 L1028 203.4 L1026.3 202.7 L1034.2 199.6 L1029.5 206.7 L1029.2 204.8 L1019.3 212.9ZM811.9 237.7 L822.2 230 L820.4 229.2 L828.5 226.4 L823.5 233.3 L823.3 231.4 L813.1 239.1ZM834.9 237.7 L845.2 230.1 L843.5 229.4 L851.6 226.6 L846.5 233.5 L846.3 231.6 L836 239.1ZM857.9 237.6 L868.9 231.2 L867.3 230.3 L875.6 228.4 L869.9 234.7 L869.9 232.8 L858.8 239.2ZM881.2 237.5 L894 237.5 L893.1 235.9 L901.2 238.4 L893.1 240.9 L894 239.3 L881.2 239.3ZM903.9 237.5 L916.3 234.4 L915 233.1 L923.5 233.6 L916.3 238 L916.8 236.2 L904.4 239.3ZM926.5 237.7 L936.7 230 L935 229.2 L943 226.4 L938 233.3 L937.8 231.4 L927.6 239.1ZM949.4 237.7 L959.6 230 L957.9 229.2 L965.9 226.4 L961 233.3 L960.7 231.4 L950.5 239.1ZM972.3 237.7 L982.5 230 L980.8 229.2 L988.8 226.4 L983.9 233.3 L983.6 231.4 L973.4 239.1ZM995.2 237.7 L1005.4 230 L1003.7 229.2 L1011.7 226.4 L1006.8 233.3 L1006.5 231.4 L996.3 239.1ZM812.3 263.7 L824.8 261.1 L823.6 259.7 L832.1 260.5 L824.6 264.7 L825.2 262.9 L812.7 265.6ZM835.2 263.7 L847.8 261.5 L846.6 260.1 L855.1 261.2 L847.5 265.1 L848.2 263.3 L835.6 265.6ZM858.3 263.7 L871 262.8 L870 261.3 L878.3 263.3 L870.3 266.4 L871.1 264.7 L858.4 265.6ZM881.2 263.7 L894 263.5 L893 261.9 L901.2 264.3 L893.1 267 L894 265.4 L881.2 265.6ZM903.6 263.9 L913.9 256.4 L912.2 255.6 L920.3 252.9 L915.2 259.7 L915 257.9 L904.7 265.4ZM926.5 263.9 L936.6 256 L934.8 255.3 L942.8 252.3 L938 259.4 L937.7 257.5 L927.6 265.4ZM949.4 263.9 L959.5 256 L957.7 255.3 L965.7 252.3 L960.9 259.4 L960.6 257.5 L950.5 265.4ZM972.3 263.9 L982.4 256 L980.6 255.3 L988.6 252.3 L983.8 259.4 L983.5 257.5 L973.4 265.4ZM995.2 263.9 L1005 255.7 L1003.2 255.1 L1011.1 251.8 L1006.5 259 L1006.2 257.1 L996.4 265.4ZM812.5 290 L825.3 290 L824.4 288.4 L832.5 290.9 L824.4 293.4 L825.3 291.8 L812.5 291.8ZM835.4 290 L848.2 290 L847.3 288.4 L855.4 290.9 L847.3 293.4 L848.2 291.8 L835.4 291.8ZM858.3 290 L871.1 290 L870.2 288.4 L878.3 290.9 L870.2 293.4 L871.1 291.8 L858.3 291.8ZM880.9 290 L892.9 285.7 L891.5 284.5 L900 284.1 L893.2 289.2 L893.6 287.4 L881.5 291.8ZM903.5 290.2 L913.3 282 L911.6 281.3 L919.5 278 L914.9 285.2 L914.5 283.4 L904.7 291.6ZM926.5 290.2 L936.2 282 L934.5 281.3 L942.4 278 L937.8 285.2 L937.4 283.4 L927.6 291.6ZM949.4 290.2 L959.2 282 L957.4 281.3 L965.3 278 L960.7 285.2 L960.3 283.4 L950.5 291.6ZM972.3 290.2 L982.1 282 L980.3 281.3 L988.2 278 L983.6 285.2 L983.3 283.4 L973.5 291.6ZM995.2 290.2 L1005 282 L1003.2 281.3 L1011.1 278 L1006.5 285.2 L1006.2 283.4 L996.4 291.6ZM812.5 316.2 L825.2 315.6 L824.2 314 L832.5 316.1 L824.5 319.1 L825.3 317.4 L812.5 318.1ZM835.3 316.2 L847.9 314.5 L846.8 313 L855.2 314.4 L847.5 318 L848.2 316.3 L835.5 318.1ZM858 316.3 L870 311.9 L868.6 310.7 L877.1 310.3 L870.3 315.5 L870.6 313.6 L858.6 318ZM880.7 316.4 L890.9 308.7 L889.2 308 L897.2 305.1 L892.2 312 L892 310.2 L881.8 317.9ZM903.6 316.4 L914.1 309.1 L912.4 308.3 L920.5 305.7 L915.3 312.4 L915.1 310.6 L904.7 317.9ZM926.5 316.4 L936.7 308.7 L935 308 L943 305.1 L938 312 L937.8 310.2 L927.6 317.9ZM949.4 316.4 L959.6 308.7 L957.9 308 L965.9 305.1 L961 312 L960.7 310.2 L950.5 317.9ZM972.3 316.4 L982.5 308.7 L980.8 308 L988.8 305.1 L983.9 312 L983.6 310.2 L973.4 317.9ZM995.2 316.4 L1005.4 308.7 L1003.7 308 L1011.7 305.1 L1006.8 312 L1006.5 310.2 L996.3 317.9ZM812.3 342.5 L824.9 340.3 L823.7 338.8 L832.2 339.9 L824.6 343.8 L825.3 342.1 L812.7 344.3ZM835 342.6 L846.4 336.8 L844.8 335.7 L853.2 334.3 L847.1 340.3 L847.2 338.4 L835.8 344.2ZM857.8 342.7 L868.1 335.1 L866.4 334.4 L874.5 331.6 L869.4 338.5 L869.2 336.6 L858.9 344.1ZM880.7 342.7 L890.9 335 L889.2 334.2 L897.2 331.4 L892.2 338.3 L892 336.4 L881.8 344.1ZM903.6 342.7 L913.8 335 L912.1 334.2 L920.1 331.4 L915.1 338.3 L914.9 336.4 L904.7 344.1ZM926.5 342.7 L936.7 335 L935 334.2 L943 331.4 L938 338.3 L937.8 336.4 L927.6 344.1ZM949.4 342.7 L959.6 335 L957.9 334.2 L965.9 331.4 L961 338.3 L960.7 336.4 L950.5 344.1ZM972.3 342.7 L982.5 335 L980.8 334.2 L988.8 331.4 L983.9 338.3 L983.6 336.4 L973.4 344.1ZM995.2 342.7 L1005.4 335 L1003.7 334.2 L1011.7 331.4 L1006.8 338.3 L1006.5 336.4 L996.3 344.1ZM812.1 368.8 L823.9 363.8 L822.4 362.7 L830.9 361.8 L824.4 367.4 L824.6 365.5 L812.9 370.5ZM834.9 368.9 L845.1 361.2 L843.4 360.5 L851.4 357.6 L846.4 364.5 L846.2 362.7 L836 370.4ZM857.8 368.9 L868 361.2 L866.3 360.5 L874.3 357.6 L869.3 364.5 L869.1 362.7 L858.9 370.4ZM880.7 368.9 L890.9 361.2 L889.2 360.5 L897.2 357.6 L892.2 364.5 L892 362.7 L881.8 370.4ZM903.6 368.9 L913.8 361.2 L912.1 360.5 L920.1 357.6 L915.1 364.5 L914.9 362.7 L904.7 370.4ZM926.5 368.9 L936.7 361.2 L935 360.5 L943 357.6 L938 364.5 L937.8 362.7 L927.6 370.4ZM949.4 368.9 L959.6 361.2 L957.9 360.5 L965.9 357.6 L961 364.5 L960.7 362.7 L950.5 370.4ZM972.3 368.9 L982.5 361.2 L980.8 360.5 L988.8 357.6 L983.9 364.5 L983.6 362.7 L973.4 370.4ZM995.2 368.9 L1005.4 361.2 L1003.7 360.5 L1011.7 357.6 L1006.8 364.5 L1006.5 362.7 L996.3 370.4ZM811.9 395.2 L822.2 387.5 L820.4 386.7 L828.5 383.9 L823.5 390.8 L823.3 388.9 L813.1 396.6ZM834.9 395.2 L845.1 387.5 L843.4 386.7 L851.4 383.9 L846.4 390.8 L846.2 388.9 L836 396.6ZM857.8 395.2 L868 387.5 L866.3 386.7 L874.3 383.9 L869.3 390.8 L869.1 388.9 L858.9 396.6ZM880.7 395.2 L890.9 387.5 L889.2 386.7 L897.2 383.9 L892.2 390.8 L892 388.9 L881.8 396.6ZM903.6 395.2 L913.8 387.5 L912.1 386.7 L920.1 383.9 L915.1 390.8 L914.9 388.9 L904.7 396.6ZM926.5 395.2 L936.7 387.5 L935 386.7 L943 383.9 L938 390.8 L937.8 388.9 L927.6 396.6ZM949.4 395.2 L959.6 387.5 L957.9 386.7 L965.9 383.9 L961 390.8 L960.7 388.9 L950.5 396.6ZM972.3 395.2 L982.5 387.5 L980.8 386.7 L988.8 383.9 L983.9 390.8 L983.6 388.9 L973.4 396.6ZM995.2 395.2 L1005.4 387.5 L1003.7 386.7 L1011.7 383.9 L1006.8 390.8 L1006.5 388.9 L996.3 396.6ZM1018.1 395.2 L1028.3 387.5 L1026.6 386.7 L1034.7 383.9 L1029.7 390.8 L1029.4 388.9 L1019.2 396.6ZM811.9 421.4 L822.2 413.7 L820.4 413 L828.5 410.1 L823.5 417 L823.3 415.2 L813.1 422.9ZM834.9 421.4 L845.1 413.7 L843.4 413 L851.4 410.1 L846.4 417 L846.2 415.2 L836 422.9ZM857.8 421.4 L868 413.7 L866.3 413 L874.3 410.1 L869.3 417 L869.1 415.2 L858.9 422.9ZM880.7 421.4 L890.9 413.7 L889.2 413 L897.2 410.1 L892.2 417 L892 415.2 L881.8 422.9ZM903.6 421.4 L913.8 413.7 L912.1 413 L920.1 410.1 L915.1 417 L914.9 415.2 L904.7 422.9ZM926.5 421.4 L936.7 413.7 L935 413 L943 410.1 L938 417 L937.8 415.2 L927.6 422.9ZM949.4 421.4 L959.6 413.7 L957.9 413 L965.9 410.1 L961 417 L960.7 415.2 L950.5 422.9ZM972.3 421.4 L982.5 413.7 L980.8 413 L988.8 410.1 L983.9 417 L983.6 415.2 L973.4 422.9ZM995.2 421.4 L1005.4 413.7 L1003.7 413 L1011.7 410.1 L1006.8 417 L1006.5 415.2 L996.3 422.9ZM811.9 447.7 L821.7 439.5 L820 438.8 L827.8 435.5 L823.2 442.7 L822.9 440.9 L813.1 449.1ZM834.8 447.7 L844.6 439.5 L842.9 438.8 L850.7 435.5 L846.1 442.7 L845.8 440.9 L836 449.1ZM857.8 447.6 L868.4 440.5 L866.7 439.7 L874.9 437.2 L869.6 443.9 L869.4 442 L858.8 449.2ZM881 447.5 L893.3 444 L891.9 442.7 L900.5 442.9 L893.3 447.6 L893.8 445.8 L881.5 449.3ZM903.5 447.7 L913.3 439.5 L911.6 438.8 L919.5 435.5 L914.9 442.7 L914.5 440.9 L904.7 449.1ZM926.5 447.7 L936.2 439.5 L934.5 438.8 L942.4 435.5 L937.8 442.7 L937.4 440.9 L927.6 449.1ZM949.4 447.7 L959.2 439.5 L957.4 438.8 L965.3 435.5 L960.7 442.7 L960.3 440.9 L950.5 449.1ZM972.3 447.7 L982.1 439.5 L980.3 438.8 L988.2 435.5 L983.6 442.7 L983.3 440.9 L973.5 449.1ZM995.2 447.7 L1005 439.5 L1003.2 438.8 L1011.1 435.5 L1006.5 442.7 L1006.2 440.9 L996.4 449.1ZM812 473.9 L822.4 466.6 L820.8 465.8 L828.9 463.2 L823.7 469.9 L823.5 468.1 L813 475.4ZM834.9 473.9 L845.4 466.6 L843.7 465.8 L851.8 463.2 L846.6 469.9 L846.4 468.1 L835.9 475.4ZM858 473.8 L869.8 469 L868.4 467.8 L876.9 467.2 L870.3 472.6 L870.5 470.7 L858.7 475.5ZM880.7 473.9 L891 466.4 L889.3 465.6 L897.4 462.9 L892.3 469.7 L892.1 467.9 L881.8 475.4ZM903.6 473.9 L913.8 466.2 L912.1 465.5 L920.1 462.6 L915.1 469.5 L914.9 467.7 L904.7 475.4ZM926.5 473.9 L936.7 466.2 L935 465.5 L943 462.6 L938 469.5 L937.8 467.7 L927.6 475.4ZM949.4 473.9 L959.6 466.2 L957.9 465.5 L965.9 462.6 L961 469.5 L960.7 467.7 L950.5 475.4ZM972.3 473.9 L982.5 466.2 L980.8 465.5 L988.8 462.6 L983.9 469.5 L983.6 467.7 L973.4 475.4ZM995.2 473.9 L1005.4 466.2 L1003.7 465.5 L1011.7 462.6 L1006.8 469.5 L1006.5 467.7 L996.3 475.4ZM812 500.1 L822.4 492.8 L820.8 492 L828.9 489.4 L823.7 496.2 L823.5 494.3 L813 501.7ZM834.9 500.1 L845.4 492.8 L843.7 492 L851.8 489.4 L846.6 496.2 L846.4 494.3 L835.9 501.7ZM857.9 500.1 L868.9 493.7 L867.3 492.8 L875.6 490.9 L869.9 497.2 L869.9 495.3 L858.8 501.7ZM880.7 500.1 L891.2 492.8 L889.5 492 L897.6 489.4 L892.4 496.2 L892.2 494.3 L881.8 501.7ZM903.6 500.2 L913.8 492.5 L912.1 491.7 L920.1 488.9 L915.1 495.8 L914.9 493.9 L904.7 501.6ZM926.5 500.2 L936.7 492.5 L935 491.7 L943 488.9 L938 495.8 L937.8 493.9 L927.6 501.6ZM949.4 500.2 L959.6 492.5 L957.9 491.7 L965.9 488.9 L961 495.8 L960.7 493.9 L950.5 501.6ZM972.3 500.2 L982.5 492.5 L980.8 491.7 L988.8 488.9 L983.9 495.8 L983.6 493.9 L973.4 501.6Z"/>
<path fill="#c0c0c0" d="M1043.7 78.9 L1043.7 80.9 L1043.6 86.4 L1041.5 88.7 L1042.6 91 L1042.2 94 L1043.3 96.6 L1042.2 100 L1040.7 102.3 L1042.6 105.3 L1041.1 109 L1039.9 112.8 L1036.9 113.9 L1037.3 118.1 L1033.9 121.1 L1035.4 124.9 L1034.7 128.6 L1030.9 133.2 L1029.4 136.9 L1026.4 138.1 L1023 140.7 L1021.5 144.5 L1021.9 148.2 L1018 151.9 L1018 155.9 L1020.5 159.9 L1022.6 163.4 L1023.4 167.2 L1024.5 169.8 L1028.6 171.7 L1032.4 174.7 L1032.8 178.5 L1033.9 181.5 L1032.4 186 L1032.4 189.8 L1035 194 L1033.5 197.3 L1032.8 204.1 L1033.5 207.9 L1035 211.9 L1033.5 216.9 L1031.7 218.4 L1027.9 221.1 L1029 223.7 L1030.2 228.2 L1029.4 232.8 L1025.6 233.5 L1023.4 235.8 L1022.5 239.7 L1019.1 241.9 L1016.1 241.6 L1015 237.8 L1013.1 239.7 L1011.6 245.7 L1009.7 262.3 L1009.3 270.6 L1010.1 278.1 L1011.6 285.6 L1013.5 290.2 L1012.7 296.2 L1012.3 302.2 L1014.2 308.2 L1015.4 314.3 L1016.1 320.4 L1018.4 327.2 L1019 335.3 L1019.9 341.5 L1022.5 345.3 L1021 347.6 L1019.1 350.2 L1022.9 355.2 L1021.8 361.1 L1021 367.2 L1020.3 373.2 L1020.6 377.7 L1023.6 379.2 L1024.4 384.5 L1027.8 388.6 L1026.7 392.8 L1024.8 396.4 L1024.6 399.8 L1026.6 404.7 L1025.6 409.6 L1022.2 411.5 L1021.7 414.4 L1019.8 417.4 L1021.7 421.3 L1021.2 425.2 L1019.3 427.1 L1017.5 430.9 L1012.5 436.9 L1008.1 437.9 L1009.5 441.8 L1010.5 447.6 L1012.9 452.5 L1012.5 455.4 L1010.5 457.4 L1010.5 462.2 L1013.4 466.1 L1015.9 469.1 L1014.9 473.9 L1013.4 479.8 L1010 482.7 L1005.1 484.7 L1004.2 487.6 L1002.7 493.5 L999.3 499.3 L998 500.9 L996.8 502.9 L1072.5 505.9 L1072.5 75.9Z"/>
<path fill="none" stroke="#000" stroke-width="1.9" stroke-linejoin="round" d="M1043.7 78.9 L1043.7 80.9 L1043.6 86.4 L1041.5 88.7 L1042.6 91 L1042.2 94 L1043.3 96.6 L1042.2 100 L1040.7 102.3 L1042.6 105.3 L1041.1 109 L1039.9 112.8 L1036.9 113.9 L1037.3 118.1 L1033.9 121.1 L1035.4 124.9 L1034.7 128.6 L1030.9 133.2 L1029.4 136.9 L1026.4 138.1 L1023 140.7 L1021.5 144.5 L1021.9 148.2 L1018 151.9 L1018 155.9 L1020.5 159.9 L1022.6 163.4 L1023.4 167.2 L1024.5 169.8 L1028.6 171.7 L1032.4 174.7 L1032.8 178.5 L1033.9 181.5 L1032.4 186 L1032.4 189.8 L1035 194 L1033.5 197.3 L1032.8 204.1 L1033.5 207.9 L1035 211.9 L1033.5 216.9 L1031.7 218.4 L1027.9 221.1 L1029 223.7 L1030.2 228.2 L1029.4 232.8 L1025.6 233.5 L1023.4 235.8 L1022.5 239.7 L1019.1 241.9 L1016.1 241.6 L1015 237.8 L1013.1 239.7 L1011.6 245.7 L1011 250.9 L1009.7 262.3 L1009.3 270.6 L1010.1 278.1 L1011.6 285.6 L1013.5 290.2 L1012.7 296.2 L1012.3 302.2 L1014.2 308.2 L1015.4 314.3 L1016.1 320.4 L1018.4 327.2 L1019 335.3 L1019.9 341.5 L1022.5 345.3 L1021 347.6 L1019.1 350.2 L1022.9 355.2 L1021.8 361.1 L1021 367.2 L1020.3 373.2 L1020.6 377.7 L1023.6 379.2 L1024.4 384.5 L1027.8 388.6 L1026.7 392.8 L1024.8 396.4 L1024.6 399.8 L1026.6 404.7 L1025.6 409.6 L1022.2 411.5 L1021.7 414.4 L1019.8 417.4 L1021.7 421.3 L1021.2 425.2 L1019.3 427.1 L1017.5 430.9 L1012.5 436.9 L1008.1 437.9 L1009.5 441.8 L1010.5 447.6 L1012.9 452.5 L1012.5 455.4 L1010.5 457.4 L1010.5 462.2 L1013.4 466.1 L1015.9 469.1 L1014.9 473.9 L1013.4 479.8 L1010 482.7 L1005.1 484.7 L1004.2 487.6 L1002.7 493.5 L999.3 499.3 L998 500.9 L996.8 502.9"/>
<path fill="none" stroke="#000" stroke-width="1.6" stroke-linejoin="round" d="M1022.6 163.4 L1028.6 163.4 L1030.9 160.8 L1035.4 163.4 L1040.7 163.8 L1041.5 171 L1046.7 172.1 L1047.9 175.9 L1052 174 L1054.3 163.4 L1058 160.4 L1065.5 160.8"/>
<path fill="none" stroke="#000" stroke-width="1.6" stroke-linejoin="round" d="M1021.4 373.9 L1023.6 372.1 L1031.9 375.1 L1036.5 372.8 L1039.5 369.4 L1041.7 372.4 L1050 364.1 L1056.1 365.6 L1065.5 363.4"/>
<path fill="none" stroke="#000" stroke-width="1.6" stroke-linejoin="round" d="M1065.5 425.7 L1057.8 427.1 L1051 430 L1051.5 436.9 L1052.5 443.7 L1045.1 446.6 L1039.3 447.6 L1039.8 454.4 L1032.5 460.3 L1032 469.1 L1026.6 477.9 L1030.5 484.7 L1019.8 484.7 L1018.8 491.5 L1010 496.4 L1003.2 494.4"/>
<path fill="none" stroke="#000" stroke-width="1.6" stroke-linejoin="round" d="M1010 496.4 L1013.5 501.9"/>
<ellipse cx="1019.8" cy="169.2" rx="1.1" ry="1.6" fill="#000"/>
<ellipse cx="1020.1" cy="191.1" rx="0.5" ry="0.9" fill="#000"/>
</g>
<circle cx="1021.8" cy="156.4" r="4.7" fill="#ffd700" stroke="#000" stroke-width="1.9"/>
<circle cx="1035.9" cy="213.4" r="4.7" fill="#ffd700" stroke="#000" stroke-width="1.9"/>
<circle cx="1010.9" cy="255.4" r="4.7" fill="#ffd700" stroke="#000" stroke-width="1.9"/>
<circle cx="1019" cy="335.3" r="4.7" fill="#ffd700" stroke="#000" stroke-width="1.9"/>
<circle cx="1022.9" cy="355.2" r="4.7" fill="#ffd700" stroke="#000" stroke-width="1.9"/>
<circle cx="1015.9" cy="435.4" r="4.7" fill="#ffd700" stroke="#000" stroke-width="1.9"/>
<rect x="812.5" y="80.9" width="252" height="420" fill="none" stroke="#000" stroke-width="1.6"/>
<text x="812.7" y="68.9" font-size="28" style="font-family:'DejaVu Sans','Liberation Sans',sans-serif">mié 10-dic</text>
<g clip-path="url(#cp3)">
<rect x="1173.2" y="80.9" width="252" height="420" fill="#009bdc"/>
<path fill="#009bd8" fill-rule="evenodd" d="M1165.2 72.9 L1397.8 72.9 L1397.7 82.9 L1396.8 90.9 L1397.1 96.9 L1396 108.9 L1391.4 118.9 L1389.2 129.2 L1387.2 132.9 L1378.7 142.9 L1374.6 150.9 L1373.4 154.9 L1374.2 158.9 L1377.4 166.9 L1383.7 174.9 L1385.2 178.9 L1384.3 186.9 L1384.5 194.9 L1383 202.9 L1383 212.9 L1378.3 220.9 L1378 222.9 L1379.3 228.9 L1378.7 230.9 L1377.2 232.9 L1372.4 236.9 L1369.1 240.9 L1366.1 248.9 L1367.1 260.9 L1369 270.9 L1371.7 278.9 L1376.9 290.9 L1377 302.9 L1382.1 326.9 L1385 344.9 L1385 350.9 L1386.2 358.9 L1384.7 372.9 L1385.6 376.9 L1390.1 386.9 L1390.7 390.9 L1389.3 398.9 L1389.9 404.9 L1389.6 406.9 L1385.6 414.9 L1384.5 424.9 L1381.2 430.9 L1374.7 438.9 L1373.5 442.9 L1374 448.9 L1374 452.9 L1371.9 460.9 L1374 468.9 L1373.7 472.9 L1371.2 478.9 L1366.7 484.9 L1364.6 488.9 L1363.5 494.9 L1360.2 504.9 L1360 508.9 L1165.2 508.9Z"/>
<path fill="#00a2c9" fill-rule="evenodd" d="M1165.2 72.9 L1392.9 72.9 L1392.8 80.9 L1392 90.9 L1392.2 96.9 L1391.2 108.9 L1386.5 118.9 L1385.2 127.3 L1383.6 130.9 L1373.8 142.9 L1369.9 150.9 L1368.8 154.9 L1369.6 158.9 L1372.8 166.9 L1379.2 175.1 L1380.8 178.9 L1379.9 186.9 L1380.3 194.9 L1378.9 202.9 L1378.9 212.9 L1374.3 220.9 L1374 222.9 L1375.4 228.9 L1374.7 230.9 L1366.6 238.9 L1364.3 242.9 L1362.3 248.9 L1363.7 262.9 L1365.9 272.9 L1373.4 290.9 L1373.5 302.9 L1378.7 326.9 L1381.7 344.9 L1381.6 350.9 L1382.9 358.9 L1381.4 372.9 L1382.4 376.9 L1386.9 386.9 L1387.5 390.9 L1386.1 398.9 L1386.4 406.9 L1382.5 414.9 L1381.4 424.9 L1378.1 430.9 L1371.6 438.9 L1370.4 442.9 L1370.9 448.9 L1370.8 452.9 L1368.6 460.9 L1370.6 468.9 L1370.3 472.9 L1367.8 478.9 L1363.4 484.9 L1361.4 488.9 L1360.5 494.9 L1357.3 504.9 L1357.1 508.9 L1165.2 508.9Z"/>
<path fill="#00a6bf" fill-rule="evenodd" d="M1165.2 72.9 L1188.2 72.9 L1188.3 78.9 L1188.9 82.9 L1190.9 86.9 L1194.9 92.9 L1198.3 96.9 L1209.2 107.3 L1221.2 115.3 L1237.2 123.3 L1257.2 131.2 L1267.2 133.7 L1277.2 133.7 L1285.2 131.9 L1299.2 131.9 L1303.2 132.6 L1309.2 134.7 L1325.2 146 L1332.7 152.9 L1339.2 156.5 L1347.2 162.2 L1351.4 166.9 L1355.7 174.9 L1365.3 196.9 L1367.4 206.9 L1367.8 214.9 L1366.2 222.9 L1367.7 228.9 L1367.3 230.9 L1361.3 236.9 L1358.3 240.9 L1356.2 246.9 L1355.8 250.9 L1357.8 262.9 L1359.9 270.9 L1363.9 280.9 L1368.8 290.9 L1369.2 302.9 L1375 328.9 L1375.9 336.9 L1377.5 342.9 L1377.7 350.9 L1379.1 356.9 L1377.7 372.9 L1378.8 376.9 L1383.2 386.4 L1384.1 390.9 L1382.9 398.9 L1383.3 406.9 L1379.5 414.9 L1378.5 424.9 L1375.3 430.9 L1370.2 436.9 L1368.2 440.9 L1367.9 452.9 L1365.4 460.9 L1367.1 468.9 L1366.6 472.9 L1364.1 478.9 L1359.1 486.9 L1358.1 494.9 L1355.5 504.9 L1355.2 508.9 L1165.2 508.9Z"/>
<path fill="#00aaae" fill-rule="evenodd" d="M1165.2 206.9 L1165.2 205.3 L1171.2 211.3 L1179.2 214.7 L1189.2 221.1 L1199.2 225.3 L1209.2 228.5 L1221.8 234.9 L1225.6 238.9 L1228.7 244.9 L1230.1 248.9 L1231.1 254.9 L1232.5 256.9 L1235.2 259.1 L1241.2 261.3 L1279.2 270.5 L1291.2 274.5 L1305.2 280.5 L1309.2 284 L1314.4 290.9 L1321.2 297.8 L1327.2 302 L1332.7 306.9 L1350.2 318.9 L1353.6 322.9 L1363.6 338.9 L1365.2 340.8 L1369.2 343.2 L1370 344.9 L1370.5 350.9 L1372.2 358.9 L1371.7 372.9 L1372.9 376.9 L1377.2 384.9 L1378.7 388.9 L1378.9 390.9 L1378 398.9 L1379 404.9 L1378.1 408.9 L1375.4 414.9 L1375.3 422.9 L1374.1 426.9 L1371.9 430.9 L1367.1 436.9 L1365.2 440.9 L1364.6 452.9 L1361.8 460.9 L1363.3 468.9 L1363.2 470.9 L1360.3 478.9 L1357.2 484.4 L1355.8 488.9 L1355.9 494.9 L1353.9 504.9 L1353.6 508.9 L1165.2 508.9Z"/>
<path fill="#00aca3" fill-rule="evenodd" d="M1165.2 324.9 L1171.2 327.2 L1203.2 334.5 L1211.2 337.3 L1233.2 342.5 L1241.2 345.3 L1261.2 350.5 L1303.2 364.5 L1323.2 374.5 L1337.2 384 L1348.1 394.9 L1357.6 408.9 L1359.6 412.9 L1364 426.9 L1364.4 432.9 L1360.8 440.9 L1360.2 452.9 L1357.6 460.9 L1359.1 468.9 L1359.1 470.9 L1355.8 480.9 L1353.2 486.9 L1353.6 496.9 L1351.9 508.9 L1165.2 508.9Z"/>
<path fill="#00ab96" fill-rule="evenodd" d="M1165.2 366.9 L1165.2 366.1 L1167.2 366.6 L1177.2 369.7 L1187.2 370.1 L1193.2 371.7 L1199.2 372.1 L1205.2 373.7 L1211.2 374.5 L1241.2 382.5 L1271.2 392.5 L1285.2 398.4 L1311.2 411.4 L1331.8 424.9 L1338.2 430.9 L1341.6 434.9 L1345.6 440.9 L1351.2 452.9 L1351.5 454.9 L1351.1 460.9 L1353.4 470.9 L1351.3 480.9 L1349.2 486.9 L1350.3 494.9 L1350.2 500.9 L1349.2 508.9 L1165.2 508.9Z"/>
<path fill="#00ab8d" fill-rule="evenodd" d="M1165.2 394.9 L1165.2 394.1 L1175.2 397.2 L1181.2 398.1 L1199.2 402.5 L1223.2 410.5 L1249.2 421.4 L1283.2 438.5 L1307.2 456 L1316.1 464.9 L1323.6 474.9 L1329.2 483.5 L1336.7 492.9 L1338.2 498.9 L1337.2 506.9 L1337.2 508.9 L1165.2 508.9Z"/>
<path fill="#00a873" fill-rule="evenodd" d="M1165.2 418.9 L1165.2 418.1 L1167.2 418.6 L1185.2 424.5 L1189.2 426.4 L1209.2 436.5 L1229.2 449.3 L1235.2 452.5 L1247.2 461.3 L1261.2 470.5 L1281.2 485.3 L1295.2 494.1 L1297.6 496.9 L1303.6 508.9 L1165.2 508.9Z"/>
<path fill="#00a246" fill-rule="evenodd" d="M1165.2 446.9 L1181.2 450.5 L1187.2 452.5 L1205.2 460.4 L1229.2 472.5 L1243.2 482 L1252.1 490.9 L1255.6 496.9 L1259.6 508.9 L1165.2 508.9Z"/>
<path fill="#009e29" fill-rule="evenodd" d="M1165.2 472.9 L1165.2 472.1 L1171.2 473.7 L1183.2 474.5 L1191.2 476.6 L1205.2 482.5 L1211.8 486.9 L1219.2 493 L1223.6 500.9 L1225.6 508.9 L1165.2 508.9Z"/>
<path fill="#000" fill-opacity="0.5" d="M1172.6 80.2 L1182 71.5 L1180.2 71 L1187.9 67.3 L1183.7 74.7 L1183.2 72.9 L1173.9 81.6ZM1195.5 80.2 L1204.9 71.5 L1203.1 71 L1210.8 67.3 L1206.6 74.7 L1206.1 72.9 L1196.8 81.6ZM1218.4 80.2 L1227.8 71.5 L1226 71 L1233.7 67.3 L1229.5 74.7 L1229 72.9 L1219.7 81.6ZM1241.3 80.2 L1250.7 71.5 L1248.9 71 L1256.6 67.3 L1252.4 74.7 L1252 72.9 L1242.6 81.6ZM1264.3 80.2 L1273.6 71.5 L1271.8 71 L1279.5 67.3 L1275.3 74.7 L1274.9 72.9 L1265.5 81.6ZM1287.2 80.2 L1296.5 71.5 L1294.7 71 L1302.4 67.3 L1298.2 74.7 L1297.8 72.9 L1288.4 81.6ZM1310.1 80.2 L1319.4 71.5 L1317.6 71 L1325.3 67.3 L1321.1 74.7 L1320.7 72.9 L1311.3 81.6ZM1333 80.2 L1342.3 71.5 L1340.6 71 L1348.2 67.3 L1344 74.7 L1343.6 72.9 L1334.2 81.6ZM1355.9 80.2 L1365.2 71.5 L1363.5 71 L1371.1 67.3 L1366.9 74.7 L1366.5 72.9 L1357.2 81.6ZM1378.8 80.2 L1388.2 71.5 L1386.4 71 L1394.1 67.3 L1389.8 74.7 L1389.4 72.9 L1380.1 81.6ZM1172.6 106.5 L1181.9 97.7 L1180.1 97.1 L1187.8 93.4 L1183.6 100.8 L1183.2 99 L1173.9 107.8ZM1195.5 106.5 L1204.8 97.7 L1203 97.1 L1210.7 93.4 L1206.5 100.8 L1206.1 99 L1196.8 107.8ZM1218.4 106.5 L1227.7 97.7 L1225.9 97.1 L1233.6 93.4 L1229.4 100.8 L1229 99 L1219.7 107.8ZM1241.3 106.5 L1250.6 97.7 L1248.8 97.1 L1256.5 93.4 L1252.3 100.8 L1251.9 99 L1242.6 107.8ZM1264.2 106.5 L1273.5 97.7 L1271.7 97.1 L1279.4 93.4 L1275.2 100.8 L1274.8 99 L1265.5 107.8ZM1287.2 106.5 L1296.4 97.7 L1294.6 97.1 L1302.3 93.4 L1298.1 100.8 L1297.7 99 L1288.4 107.8ZM1310.1 106.5 L1319.3 97.7 L1317.6 97.1 L1325.2 93.4 L1321.1 100.8 L1320.6 99 L1311.3 107.8ZM1333 106.5 L1342.3 97.7 L1340.5 97.1 L1348.1 93.4 L1344 100.8 L1343.5 99 L1334.3 107.8ZM1355.9 106.5 L1365.2 97.7 L1363.4 97.1 L1371 93.4 L1366.9 100.8 L1366.4 99 L1357.2 107.8ZM1378.8 106.5 L1388.1 97.7 L1386.3 97.1 L1393.9 93.4 L1389.8 100.8 L1389.3 99 L1380.1 107.8ZM1172.6 132.7 L1181.8 123.9 L1180 123.3 L1187.6 119.5 L1183.5 127 L1183.1 125.2 L1173.9 134.1ZM1195.5 132.7 L1204.7 123.9 L1202.9 123.3 L1210.5 119.5 L1206.5 127 L1206 125.2 L1196.8 134.1ZM1218.4 132.7 L1227.6 123.9 L1225.8 123.3 L1233.5 119.5 L1229.4 127 L1228.9 125.2 L1219.7 134.1ZM1241.3 132.7 L1250.5 123.9 L1248.7 123.3 L1256.4 119.5 L1252.3 127 L1251.8 125.2 L1242.6 134.1ZM1264.2 132.7 L1273.4 123.9 L1271.7 123.3 L1279.3 119.5 L1275.2 127 L1274.7 125.2 L1265.5 134.1ZM1287.2 132.7 L1296.3 123.9 L1294.6 123.3 L1302.2 119.5 L1298.1 127 L1297.6 125.2 L1288.4 134.1ZM1310.1 132.7 L1319.3 123.9 L1317.5 123.3 L1325.1 119.5 L1321 127 L1320.5 125.2 L1311.3 134.1ZM1333 132.7 L1342.2 123.9 L1340.4 123.3 L1348 119.5 L1343.9 127 L1343.5 125.2 L1334.3 134.1ZM1355.9 132.7 L1365.1 123.9 L1363.3 123.3 L1370.9 119.5 L1366.8 127 L1366.4 125.2 L1357.2 134.1ZM1378.8 132.7 L1388 123.9 L1386.2 123.3 L1393.8 119.5 L1389.7 127 L1389.3 125.2 L1380.1 134.1ZM1172.6 159 L1181.7 150 L1179.9 149.5 L1187.5 145.6 L1183.5 153.2 L1183 151.3 L1173.9 160.3ZM1195.5 159 L1204.6 150 L1202.8 149.5 L1210.4 145.6 L1206.4 153.2 L1205.9 151.3 L1196.8 160.3ZM1218.4 159 L1227.5 150 L1225.7 149.5 L1233.3 145.6 L1229.3 153.2 L1228.8 151.3 L1219.7 160.3ZM1241.3 159 L1250.4 150 L1248.7 149.5 L1256.2 145.6 L1252.2 153.2 L1251.7 151.3 L1242.6 160.3ZM1264.2 159 L1273.4 150 L1271.6 149.5 L1279.2 145.6 L1275.1 153.2 L1274.7 151.3 L1265.5 160.3ZM1287.1 159 L1296.3 150 L1294.5 149.5 L1302.1 145.6 L1298 153.2 L1297.6 151.3 L1288.4 160.3ZM1310.1 159 L1319.2 150 L1317.4 149.5 L1325 145.6 L1320.9 153.2 L1320.5 151.3 L1311.4 160.3ZM1333 159 L1342.1 150 L1340.3 149.5 L1347.9 145.6 L1343.9 153.2 L1343.4 151.3 L1334.3 160.3ZM1355.9 159 L1365 150 L1363.2 149.5 L1370.8 145.6 L1366.8 153.2 L1366.3 151.3 L1357.2 160.3ZM1172.6 185.2 L1181.6 176.2 L1179.8 175.7 L1187.4 171.8 L1183.4 179.3 L1182.9 177.5 L1173.9 186.6ZM1195.5 185.2 L1204.5 176.2 L1202.7 175.7 L1210.3 171.8 L1206.3 179.3 L1205.9 177.5 L1196.8 186.6ZM1218.4 185.2 L1227.5 176.2 L1225.7 175.7 L1233.2 171.8 L1229.3 179.3 L1228.8 177.5 L1219.7 186.6ZM1241.3 185.2 L1250.4 176.2 L1248.6 175.7 L1256.1 171.8 L1252.2 179.3 L1251.7 177.5 L1242.6 186.6ZM1264.2 185.2 L1273.3 176.2 L1271.5 175.7 L1279 171.8 L1275.1 179.3 L1274.6 177.5 L1265.5 186.6ZM1287.1 185.2 L1296.2 176.2 L1294.4 175.7 L1301.9 171.8 L1298 179.3 L1297.5 177.5 L1288.4 186.6ZM1310.1 185.2 L1319.1 176.2 L1317.3 175.7 L1324.8 171.8 L1320.9 179.3 L1320.4 177.5 L1311.4 186.6ZM1333 185.2 L1342 176.2 L1340.2 175.7 L1347.8 171.8 L1343.8 179.3 L1343.3 177.5 L1334.3 186.6ZM1355.9 185.2 L1364.9 176.2 L1363.1 175.7 L1370.7 171.8 L1366.7 179.3 L1366.2 177.5 L1357.2 186.6ZM1378.8 185.2 L1387.8 176.2 L1386 175.7 L1393.6 171.8 L1389.6 179.3 L1389.1 177.5 L1380.1 186.6ZM1172.6 211.5 L1181.5 202.3 L1179.7 201.9 L1187.2 197.8 L1183.3 205.4 L1182.8 203.6 L1173.9 212.8ZM1195.5 211.5 L1204.4 202.3 L1202.6 201.9 L1210.1 197.8 L1206.3 205.4 L1205.7 203.6 L1196.8 212.8ZM1218.4 211.5 L1227.3 202.3 L1225.5 201.9 L1233 197.8 L1229.2 205.4 L1228.7 203.6 L1219.7 212.8ZM1241.3 211.5 L1250.2 202.3 L1248.4 201.9 L1255.9 197.8 L1252.1 205.4 L1251.6 203.6 L1242.6 212.8ZM1264.2 211.5 L1273.1 202.3 L1271.3 201.9 L1278.8 197.8 L1275 205.4 L1274.5 203.6 L1265.5 212.8ZM1287.1 211.5 L1296.1 202.3 L1294.2 201.9 L1301.8 197.8 L1297.9 205.4 L1297.4 203.6 L1288.5 212.8ZM1310 211.5 L1319 202.3 L1317.2 201.9 L1324.7 197.8 L1320.8 205.4 L1320.3 203.6 L1311.4 212.8ZM1333 211.5 L1341.9 202.3 L1340.1 201.9 L1347.6 197.8 L1343.7 205.4 L1343.2 203.6 L1334.3 212.8ZM1355.9 211.5 L1364.8 202.3 L1363 201.9 L1370.5 197.8 L1366.6 205.4 L1366.1 203.6 L1357.2 212.8ZM1378.8 211.5 L1387.7 202.3 L1385.9 201.9 L1393.4 197.8 L1389.5 205.4 L1389 203.6 L1380.1 212.8ZM1172.6 237.8 L1181.4 228.5 L1179.6 228 L1187 223.9 L1183.3 231.5 L1182.7 229.8 L1173.9 239ZM1195.5 237.8 L1204.3 228.5 L1202.5 228 L1209.9 223.9 L1206.2 231.5 L1205.6 229.8 L1196.8 239ZM1218.4 237.8 L1227.2 228.5 L1225.4 228 L1232.8 223.9 L1229.1 231.5 L1228.5 229.8 L1219.7 239ZM1241.3 237.8 L1250.1 228.5 L1248.3 228 L1255.7 223.9 L1252 231.5 L1251.4 229.8 L1242.6 239ZM1264.2 237.8 L1273 228.5 L1271.2 228 L1278.7 223.9 L1274.9 231.5 L1274.4 229.8 L1265.6 239ZM1287.1 237.8 L1295.9 228.5 L1294.1 228 L1301.6 223.9 L1297.8 231.5 L1297.3 229.8 L1288.5 239ZM1310 237.8 L1318.8 228.5 L1317 228 L1324.5 223.9 L1320.7 231.5 L1320.2 229.8 L1311.4 239ZM1332.9 237.8 L1341.7 228.5 L1339.9 228 L1347.4 223.9 L1343.6 231.5 L1343.1 229.8 L1334.3 239ZM1355.9 237.8 L1364.7 228.5 L1362.8 228 L1370.3 223.9 L1366.5 231.5 L1366 229.8 L1357.2 239ZM1172.6 264 L1181.2 254.6 L1179.4 254.2 L1186.8 250 L1183.2 257.7 L1182.6 255.9 L1173.9 265.3ZM1195.5 264 L1204.2 254.6 L1202.3 254.2 L1209.7 250 L1206.1 257.7 L1205.5 255.9 L1196.8 265.3ZM1218.4 264 L1227.1 254.6 L1225.3 254.2 L1232.6 250 L1229 257.7 L1228.4 255.9 L1219.7 265.3ZM1241.3 264 L1250 254.6 L1248.2 254.2 L1255.6 250 L1251.9 257.7 L1251.3 255.9 L1242.7 265.3ZM1264.2 264 L1272.9 254.6 L1271.1 254.2 L1278.5 250 L1274.8 257.7 L1274.2 255.9 L1265.6 265.3ZM1287.1 264 L1295.8 254.6 L1294 254.2 L1301.4 250 L1297.7 257.7 L1297.2 255.9 L1288.5 265.3ZM1310 264 L1318.7 254.6 L1316.9 254.2 L1324.3 250 L1320.6 257.7 L1320.1 255.9 L1311.4 265.3ZM1332.9 264 L1341.6 254.6 L1339.8 254.2 L1347.2 250 L1343.5 257.7 L1343 255.9 L1334.3 265.3ZM1355.8 264 L1364.5 254.6 L1362.7 254.2 L1370.1 250 L1366.4 257.7 L1365.9 255.9 L1357.2 265.3ZM1172.6 290.3 L1181.1 280.8 L1179.3 280.4 L1186.6 276 L1183.1 283.8 L1182.5 282 L1173.9 291.5ZM1195.5 290.3 L1204 280.8 L1202.2 280.4 L1209.5 276 L1206 283.8 L1205.4 282 L1196.8 291.5ZM1218.4 290.3 L1226.9 280.8 L1225.1 280.4 L1232.5 276 L1228.9 283.8 L1228.3 282 L1219.8 291.5ZM1241.3 290.3 L1249.8 280.8 L1248 280.4 L1255.4 276 L1251.8 283.8 L1251.2 282 L1242.7 291.5ZM1264.2 290.3 L1272.8 280.8 L1270.9 280.4 L1278.3 276 L1274.7 283.8 L1274.1 282 L1265.6 291.5ZM1287.1 290.3 L1295.7 280.8 L1293.8 280.4 L1301.2 276 L1297.6 283.8 L1297 282 L1288.5 291.5ZM1310 290.3 L1318.6 280.8 L1316.8 280.4 L1324.1 276 L1320.5 283.8 L1319.9 282 L1311.4 291.5ZM1332.9 290.3 L1341.5 280.8 L1339.7 280.4 L1347 276 L1343.4 283.8 L1342.9 282 L1334.3 291.5ZM1355.8 290.3 L1364.4 280.8 L1362.6 280.4 L1369.9 276 L1366.3 283.8 L1365.8 282 L1357.2 291.5ZM1172.6 316.5 L1181 306.9 L1179.2 306.6 L1186.4 302.1 L1183 309.9 L1182.4 308.1 L1173.9 317.8ZM1195.5 316.5 L1203.9 306.9 L1202.1 306.6 L1209.3 302.1 L1205.9 309.9 L1205.3 308.1 L1196.9 317.8ZM1218.4 316.5 L1226.8 306.9 L1225 306.6 L1232.3 302.1 L1228.8 309.9 L1228.2 308.1 L1219.8 317.8ZM1241.3 316.5 L1249.7 306.9 L1247.9 306.6 L1255.2 302.1 L1251.7 309.9 L1251.1 308.1 L1242.7 317.8ZM1264.2 316.5 L1272.6 306.9 L1270.8 306.6 L1278.1 302.1 L1274.6 309.9 L1274 308.1 L1265.6 317.8ZM1287.1 316.5 L1295.5 306.9 L1293.7 306.6 L1301 302.1 L1297.5 309.9 L1296.9 308.1 L1288.5 317.8ZM1310 316.5 L1318.4 306.9 L1316.6 306.6 L1323.9 302.1 L1320.4 309.9 L1319.8 308.1 L1311.4 317.8ZM1332.9 316.5 L1341.3 306.9 L1339.5 306.6 L1346.8 302.1 L1343.3 309.9 L1342.7 308.1 L1334.3 317.8ZM1355.8 316.5 L1364.3 306.9 L1362.4 306.6 L1369.7 302.1 L1366.3 309.9 L1365.6 308.1 L1357.2 317.8ZM1172.5 342.8 L1180.8 333.1 L1179 332.7 L1186.2 328.2 L1182.9 336 L1182.3 334.3 L1174 344ZM1195.5 342.8 L1203.8 333.1 L1201.9 332.7 L1209.1 328.2 L1205.8 336 L1205.2 334.3 L1196.9 344ZM1218.4 342.8 L1226.7 333.1 L1224.8 332.7 L1232.1 328.2 L1228.7 336 L1228.1 334.3 L1219.8 344ZM1241.3 342.8 L1249.6 333.1 L1247.7 332.7 L1255 328.2 L1251.6 336 L1251 334.3 L1242.7 344ZM1264.2 342.8 L1272.5 333.1 L1270.7 332.7 L1277.9 328.2 L1274.5 336 L1273.9 334.3 L1265.6 344ZM1287.1 342.8 L1295.4 333.1 L1293.6 332.7 L1300.8 328.2 L1297.4 336 L1296.8 334.3 L1288.5 344ZM1310 342.8 L1318.3 333.1 L1316.5 332.7 L1323.7 328.2 L1320.3 336 L1319.7 334.3 L1311.4 344ZM1332.9 342.8 L1341.2 333.1 L1339.4 332.7 L1346.6 328.2 L1343.3 336 L1342.6 334.3 L1334.3 344ZM1355.8 342.8 L1364.1 333.1 L1362.3 332.7 L1369.5 328.2 L1366.2 336 L1365.5 334.3 L1357.2 344ZM1172.5 369.1 L1180.7 359.2 L1178.9 358.9 L1186 354.3 L1182.8 362.2 L1182.1 360.4 L1174 370.2ZM1195.4 369.1 L1203.6 359.2 L1201.8 358.9 L1208.9 354.3 L1205.7 362.2 L1205 360.4 L1196.9 370.2ZM1218.4 369.1 L1226.5 359.2 L1224.7 358.9 L1231.9 354.3 L1228.6 362.2 L1228 360.4 L1219.8 370.2ZM1241.3 369.1 L1249.4 359.2 L1247.6 358.9 L1254.8 354.3 L1251.5 362.2 L1250.9 360.4 L1242.7 370.2ZM1264.2 369.1 L1272.4 359.2 L1270.5 358.9 L1277.7 354.3 L1274.4 362.2 L1273.8 360.4 L1265.6 370.2ZM1287.1 369.1 L1295.3 359.2 L1293.4 358.9 L1300.6 354.3 L1297.3 362.2 L1296.7 360.4 L1288.5 370.2ZM1310 369.1 L1318.2 359.2 L1316.3 358.9 L1323.5 354.3 L1320.2 362.2 L1319.6 360.4 L1311.4 370.2ZM1332.9 369.1 L1341.1 359.2 L1339.2 358.9 L1346.4 354.3 L1343.2 362.2 L1342.5 360.4 L1334.3 370.2ZM1355.8 369.1 L1364 359.2 L1362.2 358.9 L1369.3 354.3 L1366.1 362.2 L1365.4 360.4 L1357.2 370.2ZM1172.5 395.3 L1180.6 385.4 L1178.7 385.1 L1185.8 380.4 L1182.7 388.3 L1182 386.5 L1174 396.5ZM1195.4 395.3 L1203.5 385.4 L1201.6 385.1 L1208.7 380.4 L1205.6 388.3 L1204.9 386.5 L1196.9 396.5ZM1218.3 395.3 L1226.4 385.4 L1224.6 385.1 L1231.7 380.4 L1228.5 388.3 L1227.8 386.5 L1219.8 396.5ZM1241.3 395.3 L1249.3 385.4 L1247.5 385.1 L1254.6 380.4 L1251.4 388.3 L1250.7 386.5 L1242.7 396.5ZM1264.2 395.3 L1272.2 385.4 L1270.4 385.1 L1277.5 380.4 L1274.3 388.3 L1273.7 386.5 L1265.6 396.5ZM1287.1 395.3 L1295.1 385.4 L1293.3 385.1 L1300.4 380.4 L1297.2 388.3 L1296.6 386.5 L1288.5 396.5ZM1310 395.3 L1318 385.4 L1316.2 385.1 L1323.3 380.4 L1320.1 388.3 L1319.5 386.5 L1311.4 396.5ZM1332.9 395.3 L1340.9 385.4 L1339.1 385.1 L1346.2 380.4 L1343.1 388.3 L1342.4 386.5 L1334.3 396.5ZM1355.8 395.3 L1363.8 385.4 L1362 385.1 L1369.1 380.4 L1366 388.3 L1365.3 386.5 L1357.2 396.5ZM1378.7 395.3 L1386.8 385.4 L1384.9 385.1 L1392 380.4 L1388.9 388.3 L1388.2 386.5 L1380.2 396.5ZM1172.5 421.6 L1180.5 411.6 L1178.6 411.3 L1185.7 406.5 L1182.6 414.5 L1181.9 412.7 L1174 422.7ZM1195.4 421.6 L1203.4 411.6 L1201.6 411.3 L1208.6 406.5 L1205.5 414.5 L1204.8 412.7 L1196.9 422.7ZM1218.3 421.6 L1226.3 411.6 L1224.5 411.3 L1231.5 406.5 L1228.4 414.5 L1227.8 412.7 L1219.8 422.7ZM1241.3 421.6 L1249.2 411.6 L1247.4 411.3 L1254.4 406.5 L1251.4 414.5 L1250.7 412.7 L1242.7 422.7ZM1264.2 421.6 L1272.1 411.6 L1270.3 411.3 L1277.3 406.5 L1274.3 414.5 L1273.6 412.7 L1265.6 422.7ZM1287.1 421.6 L1295 411.6 L1293.2 411.3 L1300.2 406.5 L1297.2 414.5 L1296.5 412.7 L1288.5 422.7ZM1310 421.6 L1317.9 411.6 L1316.1 411.3 L1323.2 406.5 L1320.1 414.5 L1319.4 412.7 L1311.4 422.7ZM1332.9 421.6 L1340.8 411.6 L1339 411.3 L1346.1 406.5 L1343 414.5 L1342.3 412.7 L1334.3 422.7ZM1355.8 421.6 L1363.8 411.6 L1361.9 411.3 L1369 406.5 L1365.9 414.5 L1365.2 412.7 L1357.2 422.7ZM1172.5 447.8 L1180.4 437.8 L1178.5 437.5 L1185.6 432.6 L1182.6 440.6 L1181.9 438.9 L1174 449ZM1195.4 447.8 L1203.3 437.8 L1201.5 437.5 L1208.5 432.6 L1205.5 440.6 L1204.8 438.9 L1196.9 449ZM1218.3 447.8 L1226.2 437.8 L1224.4 437.5 L1231.4 432.6 L1228.4 440.6 L1227.7 438.9 L1219.8 449ZM1241.2 447.8 L1249.1 437.8 L1247.3 437.5 L1254.3 432.6 L1251.3 440.6 L1250.6 438.9 L1242.7 449ZM1264.2 447.8 L1272 437.8 L1270.2 437.5 L1277.2 432.6 L1274.2 440.6 L1273.5 438.9 L1265.6 449ZM1287.1 447.8 L1294.9 437.8 L1293.1 437.5 L1300.1 432.6 L1297.1 440.6 L1296.4 438.9 L1288.5 449ZM1310 447.8 L1317.8 437.8 L1316 437.5 L1323 432.6 L1320 440.6 L1319.3 438.9 L1311.4 449ZM1332.9 447.8 L1340.8 437.8 L1338.9 437.5 L1345.9 432.6 L1342.9 440.6 L1342.2 438.9 L1334.3 449ZM1355.8 447.8 L1363.7 437.8 L1361.8 437.5 L1368.8 432.6 L1365.8 440.6 L1365.1 438.9 L1357.3 449ZM1172.5 474.1 L1180.3 463.9 L1178.5 463.7 L1185.4 458.8 L1182.5 466.8 L1181.8 465.1 L1174 475.2ZM1195.4 474.1 L1203.2 463.9 L1201.4 463.7 L1208.3 458.8 L1205.4 466.8 L1204.7 465.1 L1196.9 475.2ZM1218.3 474.1 L1226.1 463.9 L1224.3 463.7 L1231.2 458.8 L1228.3 466.8 L1227.6 465.1 L1219.8 475.2ZM1241.2 474.1 L1249 463.9 L1247.2 463.7 L1254.2 458.8 L1251.2 466.8 L1250.5 465.1 L1242.7 475.2ZM1264.2 474.1 L1271.9 463.9 L1270.1 463.7 L1277.1 458.8 L1274.1 466.8 L1273.4 465.1 L1265.6 475.2ZM1287.1 474.1 L1294.8 463.9 L1293 463.7 L1300 458.8 L1297 466.8 L1296.3 465.1 L1288.5 475.2ZM1310 474.1 L1317.8 463.9 L1315.9 463.7 L1322.9 458.8 L1319.9 466.8 L1319.2 465.1 L1311.4 475.2ZM1332.9 474.1 L1340.7 463.9 L1338.8 463.7 L1345.8 458.8 L1342.9 466.8 L1342.1 465.1 L1334.3 475.2ZM1355.8 474.1 L1363.6 463.9 L1361.7 463.7 L1368.7 458.8 L1365.8 466.8 L1365 465.1 L1357.3 475.2ZM1172.5 500.3 L1180.2 490.1 L1178.4 489.9 L1185.3 484.9 L1182.4 493 L1181.7 491.2 L1174 501.5ZM1195.4 500.3 L1203.1 490.1 L1201.3 489.9 L1208.2 484.9 L1205.3 493 L1204.6 491.2 L1196.9 501.5ZM1218.3 500.3 L1226 490.1 L1224.2 489.9 L1231.1 484.9 L1228.2 493 L1227.5 491.2 L1219.8 501.5ZM1241.2 500.3 L1248.9 490.1 L1247.1 489.9 L1254 484.9 L1251.1 493 L1250.4 491.2 L1242.7 501.5ZM1264.1 500.3 L1271.8 490.1 L1270 489.9 L1276.9 484.9 L1274.1 493 L1273.3 491.2 L1265.6 501.5ZM1287.1 500.3 L1294.8 490.1 L1292.9 489.9 L1299.8 484.9 L1297 493 L1296.2 491.2 L1288.5 501.5ZM1310 500.3 L1317.7 490.1 L1315.8 489.9 L1322.7 484.9 L1319.9 493 L1319.1 491.2 L1311.4 501.5ZM1332.9 500.3 L1340.6 490.1 L1338.7 489.9 L1345.6 484.9 L1342.8 493 L1342 491.2 L1334.4 501.5Z"/>
<path fill="#c0c0c0" d="M1404.5 78.9 L1404.5 80.9 L1404.3 86.4 L1402.2 88.7 L1403.3 91 L1403 94 L1404 96.6 L1403 100 L1401.5 102.3 L1403.3 105.3 L1401.8 109 L1400.7 112.8 L1397.7 113.9 L1398 118.1 L1394.7 121.1 L1396.2 124.9 L1395.5 128.6 L1391.7 133.2 L1390.2 136.9 L1387.2 138.1 L1383.8 140.7 L1382.2 144.5 L1382.7 148.2 L1378.8 151.9 L1378.8 155.9 L1381.2 159.9 L1383.3 163.4 L1384.2 167.2 L1385.2 169.8 L1389.3 171.7 L1393.2 174.7 L1393.5 178.5 L1394.7 181.5 L1393.2 186 L1393.2 189.8 L1395.8 194 L1394.2 197.3 L1393.5 204.1 L1394.2 207.9 L1395.8 211.9 L1394.2 216.9 L1392.5 218.4 L1388.7 221.1 L1389.8 223.7 L1391 228.2 L1390.2 232.8 L1386.3 233.5 L1384.2 235.8 L1383.2 239.7 L1379.8 241.9 L1376.8 241.6 L1375.8 237.8 L1373.8 239.7 L1372.3 245.7 L1370.5 262.3 L1370 270.6 L1370.8 278.1 L1372.3 285.6 L1374.2 290.2 L1373.5 296.2 L1373 302.2 L1375 308.2 L1376.2 314.3 L1376.8 320.4 L1379.2 327.2 L1379.8 335.3 L1380.7 341.5 L1383.2 345.3 L1381.8 347.6 L1379.8 350.2 L1383.7 355.2 L1382.5 361.1 L1381.8 367.2 L1381 373.2 L1381.3 377.7 L1384.3 379.2 L1385.2 384.5 L1388.5 388.6 L1387.5 392.8 L1385.5 396.4 L1385.3 399.8 L1387.3 404.7 L1386.3 409.6 L1383 411.5 L1382.5 414.4 L1380.5 417.4 L1382.5 421.3 L1382 425.2 L1380 427.1 L1378.2 430.9 L1373.2 436.9 L1368.8 437.9 L1370.2 441.8 L1371.2 447.6 L1373.7 452.5 L1373.2 455.4 L1371.2 457.4 L1371.2 462.2 L1374.2 466.1 L1376.7 469.1 L1375.7 473.9 L1374.2 479.8 L1370.8 482.7 L1365.8 484.7 L1365 487.6 L1363.5 493.5 L1360 499.3 L1358.8 500.9 L1357.5 502.9 L1433.2 505.9 L1433.2 75.9Z"/>
<path fill="none" stroke="#000" stroke-width="1.9" stroke-linejoin="round" d="M1404.5 78.9 L1404.5 80.9 L1404.3 86.4 L1402.2 88.7 L1403.3 91 L1403 94 L1404 96.6 L1403 100 L1401.5 102.3 L1403.3 105.3 L1401.8 109 L1400.7 112.8 L1397.7 113.9 L1398 118.1 L1394.7 121.1 L1396.2 124.9 L1395.5 128.6 L1391.7 133.2 L1390.2 136.9 L1387.2 138.1 L1383.8 140.7 L1382.2 144.5 L1382.7 148.2 L1378.8 151.9 L1378.8 155.9 L1381.2 159.9 L1383.3 163.4 L1384.2 167.2 L1385.2 169.8 L1389.3 171.7 L1393.2 174.7 L1393.5 178.5 L1394.7 181.5 L1393.2 186 L1393.2 189.8 L1395.8 194 L1394.2 197.3 L1393.5 204.1 L1394.2 207.9 L1395.8 211.9 L1394.2 216.9 L1392.5 218.4 L1388.7 221.1 L1389.8 223.7 L1391 228.2 L1390.2 232.8 L1386.3 233.5 L1384.2 235.8 L1383.2 239.7 L1379.8 241.9 L1376.8 241.6 L1375.8 237.8 L1373.8 239.7 L1372.3 245.7 L1371.8 250.9 L1370.5 262.3 L1370 270.6 L1370.8 278.1 L1372.3 285.6 L1374.2 290.2 L1373.5 296.2 L1373 302.2 L1375 308.2 L1376.2 314.3 L1376.8 320.4 L1379.2 327.2 L1379.8 335.3 L1380.7 341.5 L1383.2 345.3 L1381.8 347.6 L1379.8 350.2 L1383.7 355.2 L1382.5 361.1 L1381.8 367.2 L1381 373.2 L1381.3 377.7 L1384.3 379.2 L1385.2 384.5 L1388.5 388.6 L1387.5 392.8 L1385.5 396.4 L1385.3 399.8 L1387.3 404.7 L1386.3 409.6 L1383 411.5 L1382.5 414.4 L1380.5 417.4 L1382.5 421.3 L1382 425.2 L1380 427.1 L1378.2 430.9 L1373.2 436.9 L1368.8 437.9 L1370.2 441.8 L1371.2 447.6 L1373.7 452.5 L1373.2 455.4 L1371.2 457.4 L1371.2 462.2 L1374.2 466.1 L1376.7 469.1 L1375.7 473.9 L1374.2 479.8 L1370.8 482.7 L1365.8 484.7 L1365 487.6 L1363.5 493.5 L1360 499.3 L1358.8 500.9 L1357.5 502.9"/>
<path fill="none" stroke="#000" stroke-width="1.6" stroke-linejoin="round" d="M1383.3 163.4 L1389.3 163.4 L1391.7 160.8 L1396.2 163.4 L1401.5 163.8 L1402.2 171 L1407.5 172.1 L1408.7 175.9 L1412.8 174 L1415 163.4 L1418.8 160.4 L1426.2 160.8"/>
<path fill="none" stroke="#000" stroke-width="1.6" stroke-linejoin="round" d="M1382.2 373.9 L1384.3 372.1 L1392.7 375.1 L1397.2 372.8 L1400.2 369.4 L1402.5 372.4 L1410.8 364.1 L1416.8 365.6 L1426.2 363.4"/>
<path fill="none" stroke="#000" stroke-width="1.6" stroke-linejoin="round" d="M1426.2 425.7 L1418.5 427.1 L1411.8 430 L1412.2 436.9 L1413.2 443.7 L1405.8 446.6 L1400 447.6 L1400.5 454.4 L1393.2 460.3 L1392.8 469.1 L1387.3 477.9 L1391.2 484.7 L1380.5 484.7 L1379.5 491.5 L1370.8 496.4 L1364 494.4"/>
<path fill="none" stroke="#000" stroke-width="1.6" stroke-linejoin="round" d="M1370.8 496.4 L1374.2 501.9"/>
<ellipse cx="1380.5" cy="169.2" rx="1.1" ry="1.6" fill="#000"/>
<ellipse cx="1380.8" cy="191.1" rx="0.5" ry="0.9" fill="#000"/>
</g>
<circle cx="1382.5" cy="156.4" r="4.7" fill="#ffd700" stroke="#000" stroke-width="1.9"/>
<circle cx="1396.7" cy="213.4" r="4.7" fill="#ffd700" stroke="#000" stroke-width="1.9"/>
<circle cx="1371.7" cy="255.4" r="4.7" fill="#ffd700" stroke="#000" stroke-width="1.9"/>
<circle cx="1379.8" cy="335.3" r="4.7" fill="#ffd700" stroke="#000" stroke-width="1.9"/>
<circle cx="1383.7" cy="355.2" r="4.7" fill="#ffd700" stroke="#000" stroke-width="1.9"/>
<circle cx="1376.7" cy="435.4" r="4.7" fill="#ffd700" stroke="#000" stroke-width="1.9"/>
<rect x="1173.2" y="80.9" width="252" height="420" fill="none" stroke="#000" stroke-width="1.6"/>
<text x="1173.5" y="68.9" font-size="28" style="font-family:'DejaVu Sans','Liberation Sans',sans-serif">jue 11-dic</text>
<g clip-path="url(#cp4)">
<rect x="1534" y="80.9" width="252" height="420" fill="#009bdc"/>
<path fill="#009bd8" fill-rule="evenodd" d="M1526 72.9 L1763.5 72.9 L1763.4 82.9 L1762.5 90.9 L1762.6 96.9 L1761.2 108.9 L1756.5 118.9 L1755 126.9 L1753.4 130.9 L1743.4 142.9 L1739.2 150.9 L1737.8 154.9 L1738.6 158.9 L1741.5 166.9 L1748.6 176.9 L1748.9 180.9 L1747.9 186.9 L1747.9 194.9 L1746.2 202.9 L1745.9 212.9 L1741.1 220.9 L1740.9 222.9 L1742.5 228.9 L1742 230.9 L1740.6 232.9 L1736.1 236.9 L1733 240.9 L1730.4 248.9 L1732.2 260.9 L1734.6 270.9 L1737.8 278.9 L1743.6 290.9 L1743.7 302.9 L1748.9 326.9 L1751.8 344.9 L1751.8 350.9 L1752.9 358.9 L1751.5 372.9 L1752.4 376.9 L1755.8 384.9 L1756.7 388.9 L1756.7 390.9 L1754.5 398.9 L1754.6 404.9 L1754.2 406.9 L1749.6 414.9 L1747.6 424.9 L1743.8 430.9 L1736.6 438.9 L1735.6 440.9 L1735.6 444.9 L1736.8 452.9 L1735.3 460.9 L1738.1 468.9 L1738.1 472.9 L1735.9 478.9 L1731.2 484.9 L1728.9 488.9 L1727.5 494.9 L1724.4 502.9 L1723.7 508.9 L1526 508.9Z"/>
<path fill="#00a2c9" fill-rule="evenodd" d="M1526 72.9 L1760.3 72.9 L1760.1 82.9 L1759.2 90.9 L1759.3 96.9 L1758 108.9 L1753.2 118.9 L1751.8 126.9 L1750.1 130.9 L1740.1 142.9 L1735.9 150.9 L1734.6 154.9 L1735.3 158.9 L1738.2 166.9 L1745.3 176.9 L1745.7 180.9 L1744.6 186.9 L1744.7 194.9 L1743 202.9 L1742.7 212.9 L1737.9 220.9 L1737.6 222.9 L1739.3 228.9 L1738.8 230.9 L1737.4 232.9 L1733 236.9 L1729.9 240.9 L1727.3 248.9 L1729.5 262.9 L1732 272.3 L1740.6 290.9 L1740.7 302.9 L1745.8 326.9 L1748.8 344.9 L1748.7 350.9 L1749.9 358.9 L1748.4 372.9 L1749.4 376.9 L1752.8 384.9 L1753.7 388.9 L1753.6 390.9 L1751.5 398.9 L1751.2 406.9 L1746.5 414.9 L1744.6 424.9 L1740.8 430.9 L1733.6 438.9 L1732.6 440.9 L1732.6 444.9 L1733.8 452.9 L1732.3 460.9 L1735.1 468.9 L1735.1 472.9 L1732.9 478.9 L1728 485.1 L1725.9 488.9 L1724.5 494.9 L1721.5 502.9 L1720.7 508.9 L1526 508.9Z"/>
<path fill="#00a6bf" fill-rule="evenodd" d="M1526 72.9 L1757.2 72.9 L1757.1 82.9 L1756.1 90.9 L1756.2 96.9 L1754.9 108.9 L1750.2 118.9 L1748.7 126.9 L1747 130.9 L1737.1 142.9 L1732.8 150.9 L1731.5 154.9 L1732.2 158.9 L1735.1 166.9 L1742.2 176.9 L1742.6 180.9 L1741.6 186.9 L1741.6 194.9 L1739.9 202.9 L1739.6 212.9 L1734.8 220.9 L1734.6 222.9 L1736.3 228.9 L1735.8 230.9 L1734.5 232.9 L1730 236.9 L1727 240.9 L1724.5 248.9 L1726 258.9 L1729 270.9 L1732.3 278.9 L1738.3 290.9 L1738.3 302.9 L1743.4 326.9 L1746.3 344.9 L1746.2 350.9 L1747.4 358.9 L1745.9 372.9 L1746.8 376.9 L1750.2 384.9 L1751.1 388.9 L1751.1 390.9 L1748.9 398.9 L1749 404.9 L1748.6 406.9 L1744 414.9 L1742 424.9 L1738.2 430.9 L1730.9 438.9 L1730.1 440.9 L1730 444.4 L1731.2 452.9 L1729.8 460.9 L1732.5 468.9 L1732.5 472.9 L1730.3 478.9 L1725.6 484.9 L1723.4 488.9 L1722.1 494.9 L1719.2 502.9 L1718.4 508.9 L1526 508.9Z"/>
<path fill="#00aaae" fill-rule="evenodd" d="M1526 72.9 L1753.9 72.9 L1753.8 82.9 L1752.8 90.9 L1752.9 96.9 L1751.6 108.9 L1746.9 118.9 L1745.4 126.9 L1744 130.5 L1742.5 132.9 L1733.8 142.9 L1729.6 150.9 L1728.3 154.9 L1729 158.9 L1731.1 164.9 L1733.2 168.9 L1738 174.9 L1739 176.9 L1739.4 180.9 L1738.4 186.9 L1738.4 194.9 L1736.7 202.9 L1736.4 212.9 L1731.6 220.9 L1731.4 222.9 L1733.2 228.9 L1732.7 230.9 L1731.4 232.9 L1726.9 236.9 L1724.1 240.9 L1722.1 246.9 L1721.8 250.9 L1724.7 264.9 L1726.5 270.9 L1730.8 280.9 L1736 290.9 L1736 302.9 L1740.9 326.9 L1743.7 344.9 L1743.6 350.9 L1744.8 358.9 L1743.2 372.9 L1744.1 376.9 L1747.4 384.9 L1748.3 388.9 L1748.3 390.9 L1746.2 398.9 L1746.3 404.9 L1745.8 406.9 L1741.2 414.9 L1739.2 424.9 L1735.4 430.9 L1728.2 438.9 L1727 442.9 L1728.4 452.9 L1727 460.9 L1729.7 468.9 L1729.8 472.9 L1727.6 478.9 L1723.1 484.9 L1721 488.9 L1719.9 494.9 L1716.6 504.9 L1716.3 508.9 L1526 508.9Z"/>
<path fill="#00aca3" fill-rule="evenodd" d="M1526 72.9 L1748.1 72.9 L1748 82.9 L1747.2 90.9 L1747.5 96.9 L1746.4 108.9 L1742.7 116.9 L1740 129.4 L1738.1 132.9 L1729.8 142.9 L1725.5 150.9 L1724.2 154.9 L1724.9 158.9 L1727 164.9 L1729.1 168.9 L1734 175 L1734.9 176.9 L1735.3 180.9 L1734.3 186.9 L1734.3 194.9 L1732.6 202.9 L1732.3 212.9 L1727.5 220.9 L1727.3 222.9 L1729.2 228.9 L1728.8 230.9 L1727.5 232.9 L1723.1 236.9 L1720.3 240.9 L1718.1 248.9 L1720.8 262.9 L1723.2 270.9 L1726.6 278.9 L1733 290.9 L1733 302.9 L1738 327.3 L1739.1 336.9 L1740.4 342.9 L1740.5 350.9 L1741.6 356.9 L1740.1 370.9 L1740.3 374.9 L1744.3 384.9 L1745.2 388.9 L1745.1 390.9 L1743 398.9 L1743.1 404.9 L1742.7 406.9 L1738.1 414.9 L1736.7 422.9 L1735.1 426.9 L1732.3 430.9 L1726.5 436.9 L1724.2 440.9 L1724 442.9 L1725 448.9 L1725.4 452.9 L1724 460.9 L1726.7 468.9 L1726.8 472.9 L1724.7 478.9 L1719.1 486.9 L1717.4 494.9 L1714.3 504.9 L1714.1 508.9 L1526 508.9Z"/>
<path fill="#00ab96" fill-rule="evenodd" d="M1526 72.9 L1579 72.9 L1579.2 76.9 L1580 79.2 L1582 81.7 L1586 83.9 L1600 87.7 L1606 88.1 L1612 89.7 L1618 90.1 L1624 91.7 L1630 92.6 L1638 95.3 L1666 102.5 L1680 107.3 L1692 110.5 L1702 114.7 L1712 121.3 L1716 123.3 L1724 125.6 L1728 125.1 L1730 125.6 L1730.6 128.9 L1729.5 132.9 L1723 142.9 L1718.9 150.9 L1717.7 154.9 L1718.4 158.9 L1721.3 166.9 L1727.4 174.9 L1728.9 178.9 L1728 186.9 L1728 194.9 L1726.4 202.9 L1726.2 212.9 L1721.4 220.9 L1721.3 222.9 L1723.4 228.9 L1723 230.9 L1721.7 232.9 L1717.5 236.9 L1714.8 240.9 L1712.8 248.9 L1714.9 258.9 L1718.6 270.9 L1722.3 278.9 L1729 290.9 L1729.1 302.9 L1734.3 328.9 L1735.1 336.9 L1736.5 342.9 L1736.6 350.9 L1737.7 356.9 L1736.1 372.9 L1736.9 376.9 L1740.9 386.9 L1741.3 390.9 L1739.2 398.9 L1739.4 404.9 L1738.9 406.9 L1734.4 414.9 L1732.5 424.9 L1730.2 428.9 L1723 436.9 L1720.7 440.9 L1720.7 444.9 L1722 450.9 L1721.7 454.9 L1720.6 460.9 L1723.4 468.9 L1723.5 472.9 L1721.5 478.9 L1717.3 484.9 L1715.4 488.9 L1714.6 494.9 L1711.6 504.9 L1711.4 508.9 L1526 508.9Z"/>
<path fill="#00ab8d" fill-rule="evenodd" d="M1526 108.9 L1526 107.3 L1530 111.8 L1534 115.3 L1548 122.5 L1572 137.3 L1576 139.3 L1586 143.3 L1610 151.3 L1630 156.5 L1674 170.5 L1694 178.5 L1702 182.4 L1710.1 186.9 L1713.9 190.9 L1714.9 194.9 L1714.2 202.9 L1715.1 212.9 L1711.2 220.9 L1711.2 222.9 L1713.7 228.9 L1713.5 230.9 L1706.9 238.9 L1705.4 242.9 L1704.4 248.9 L1706.5 256.9 L1710.8 268.9 L1714.7 276.9 L1723.3 290.9 L1723.5 302.9 L1728 324.9 L1731.2 344.9 L1731.1 350.9 L1732.3 358.9 L1730.7 372.9 L1731 374.9 L1735 384.9 L1736.1 388.9 L1736 391.5 L1734.4 396.9 L1734 406.8 L1729.4 414.9 L1727.7 424.9 L1724 430.9 L1718.3 436.9 L1716.2 440.9 L1716.2 444.9 L1717.6 452.9 L1716.3 460.9 L1719.1 468.9 L1719.5 470.9 L1718.7 474.9 L1717.4 478.9 L1712.4 486.9 L1711.2 494.9 L1708.6 504.9 L1708.4 508.9 L1526 508.9Z"/>
<path fill="#00a873" fill-rule="evenodd" d="M1526 152.9 L1526 151.3 L1529.7 156.9 L1531.6 158.9 L1544.5 166.9 L1550 171.8 L1560 179.3 L1608.5 210.9 L1614.9 216.9 L1619.1 222.9 L1623 226.9 L1633.5 234.9 L1640 238.5 L1656 249.3 L1678 262.5 L1683 266.9 L1686.4 270.9 L1711.4 320.9 L1714 325.2 L1716.4 330.9 L1719.9 344.9 L1721.7 358.9 L1721.3 372.9 L1724 381.4 L1724.5 384.9 L1724.2 398.9 L1722.3 410.9 L1720.5 416.9 L1720 423.1 L1717.4 428.9 L1710.5 436.9 L1708.4 440.9 L1708.5 444.9 L1710.1 452.9 L1708.9 460.9 L1712 468.9 L1712.2 470.9 L1710.6 478.9 L1707.5 484.9 L1706.3 488.9 L1706.3 496.9 L1704.5 504.9 L1704.3 508.9 L1526 508.9Z"/>
<path fill="#00a246" fill-rule="evenodd" d="M1526 212.9 L1526 211.3 L1529.2 214.9 L1532 217.1 L1540 219.7 L1548 220.6 L1564 228.5 L1578.5 238.9 L1584 243.8 L1590 248 L1604 261.8 L1624 276 L1636.9 288.9 L1653.1 312.9 L1660.9 320.9 L1666 327.9 L1678.9 340.9 L1684.4 348.9 L1692 364.1 L1697.6 378.9 L1702.4 388.9 L1708.6 408.9 L1706.6 424.9 L1704.5 428.9 L1697.6 436.9 L1695.4 440.9 L1695.2 442.9 L1697 452.9 L1695.9 460.9 L1699.3 470.9 L1697.8 478.9 L1694.8 484.9 L1693.7 488.9 L1693.9 496.9 L1692.3 504.9 L1692 508.9 L1526 508.9Z"/>
<path fill="#009e29" fill-rule="evenodd" d="M1526 274.9 L1532 279.3 L1540 282.7 L1572 302.5 L1582 310 L1588 315.8 L1594 320 L1599.5 324.9 L1616 336 L1622 341.8 L1628.8 346.9 L1633.1 352.9 L1640.9 360.9 L1645.1 366.9 L1650.4 372.9 L1656.5 382.9 L1665.5 404.9 L1682.1 436.9 L1681.8 442.9 L1683.7 452.9 L1682.6 460.9 L1686 470.9 L1684.4 478.9 L1680.6 486.9 L1680.6 494.9 L1679.9 500.9 L1678.9 504.9 L1678.6 508.9 L1526 508.9Z"/>
<path fill="#009a00" fill-rule="evenodd" d="M1567 380.9 L1570 380.1 L1574 379.9 L1588 379.9 L1592 380.6 L1598 384 L1604.9 390.9 L1614.5 406.9 L1616.4 410.9 L1619.6 420.9 L1624.4 430.9 L1625.6 434.9 L1632.5 448.9 L1635.1 452.9 L1638.9 456.9 L1646 466.4 L1650.4 472.9 L1660.3 492.9 L1664.1 508.9 L1620 508.9 L1526 508.9 L1526 388.1 L1534 391 L1536 391 L1560 382.5Z"/>
<path fill="#000" fill-opacity="0.5" d="M1533.2 80.5 L1538.6 68.9 L1536.7 69.1 L1542.5 62.8 L1541.3 71.2 L1540.2 69.7 L1534.8 81.3ZM1556.1 80.5 L1561.5 68.9 L1559.6 69.1 L1565.4 62.8 L1564.2 71.2 L1563.2 69.7 L1557.7 81.3ZM1579 80.5 L1584.4 68.9 L1582.5 69.1 L1588.3 62.8 L1587.1 71.2 L1586.1 69.7 L1580.7 81.3ZM1601.9 80.5 L1606.9 68.8 L1605 69 L1610.5 62.5 L1609.7 71 L1608.6 69.5 L1603.6 81.3ZM1624.8 80.5 L1630.8 69.2 L1629 69.2 L1635 63.2 L1633.5 71.6 L1632.5 70 L1626.5 81.3ZM1647.8 80.4 L1655.1 69.9 L1653.3 69.7 L1660 64.5 L1657.4 72.6 L1656.6 71 L1649.3 81.4ZM1670.7 80.4 L1678 69.9 L1676.2 69.7 L1682.9 64.5 L1680.3 72.6 L1679.5 71 L1672.2 81.4ZM1693.6 80.3 L1701.3 70.1 L1699.5 69.9 L1706.4 64.9 L1703.5 73 L1702.8 71.2 L1695.1 81.5ZM1716.5 80.3 L1724.2 70.1 L1722.4 69.9 L1729.3 64.9 L1726.4 73 L1725.7 71.2 L1718 81.5ZM1739.5 80.3 L1747.5 70.4 L1745.7 70.1 L1752.8 65.4 L1749.6 73.3 L1748.9 71.5 L1740.9 81.5ZM1533.2 106.8 L1538.6 95.2 L1536.7 95.3 L1542.5 89 L1541.3 97.5 L1540.2 96 L1534.8 107.5ZM1556.1 106.8 L1561.5 95.2 L1559.6 95.3 L1565.4 89 L1564.2 97.5 L1563.2 96 L1557.7 107.5ZM1579 106.8 L1584.4 95.2 L1582.5 95.3 L1588.3 89 L1587.1 97.5 L1586.1 96 L1580.7 107.5ZM1601.9 106.8 L1607 95.1 L1605.1 95.3 L1610.7 88.8 L1609.8 97.3 L1608.7 95.8 L1603.6 107.5ZM1624.8 106.7 L1631.1 95.5 L1629.2 95.6 L1635.4 89.7 L1633.7 98 L1632.7 96.4 L1626.4 107.6ZM1647.8 106.6 L1655.3 96.3 L1653.5 96.1 L1660.3 91 L1657.6 99.1 L1656.8 97.4 L1649.3 107.7ZM1670.7 106.6 L1678.2 96.3 L1676.4 96.1 L1683.2 91 L1680.5 99.1 L1679.7 97.4 L1672.2 107.7ZM1693.6 106.6 L1701.4 96.4 L1699.6 96.2 L1706.5 91.3 L1703.6 99.3 L1702.9 97.6 L1695.1 107.7ZM1716.5 106.6 L1724.3 96.4 L1722.5 96.2 L1729.4 91.3 L1726.5 99.3 L1725.8 97.6 L1718 107.7ZM1739.5 106.6 L1747.5 96.6 L1745.7 96.3 L1752.8 91.6 L1749.6 99.5 L1748.9 97.8 L1740.9 107.7ZM1533.2 133 L1538.6 121.4 L1536.7 121.6 L1542.5 115.3 L1541.3 123.7 L1540.2 122.2 L1534.8 133.8ZM1556.1 133 L1561.5 121.4 L1559.6 121.6 L1565.4 115.3 L1564.2 123.7 L1563.2 122.2 L1557.7 133.8ZM1579 133 L1584.4 121.4 L1582.5 121.6 L1588.3 115.3 L1587.1 123.7 L1586.1 122.2 L1580.7 133.8ZM1601.9 133 L1607.1 121.3 L1605.2 121.5 L1610.9 115.1 L1609.9 123.6 L1608.8 122.1 L1603.6 133.8ZM1624.8 132.9 L1631.3 121.9 L1629.5 121.9 L1635.8 116.2 L1633.8 124.5 L1632.9 122.9 L1626.4 133.9ZM1647.8 132.8 L1655.5 122.6 L1653.7 122.4 L1660.6 117.4 L1657.7 125.5 L1657 123.7 L1649.3 134ZM1670.7 132.8 L1678.4 122.6 L1676.6 122.4 L1683.5 117.4 L1680.6 125.5 L1679.9 123.7 L1672.2 134ZM1693.6 132.8 L1701.5 122.8 L1699.7 122.5 L1706.7 117.6 L1703.7 125.6 L1703 123.9 L1695.1 134ZM1716.5 132.8 L1724.4 122.8 L1722.6 122.5 L1729.6 117.6 L1726.6 125.6 L1725.9 123.9 L1718 134ZM1739.5 132.8 L1747.5 122.9 L1745.7 122.6 L1752.8 117.9 L1749.6 125.8 L1748.9 124 L1740.9 134ZM1533.2 159.3 L1538.6 147.7 L1536.7 147.8 L1542.5 141.5 L1541.3 150 L1540.2 148.5 L1534.8 160ZM1556.1 159.3 L1561.5 147.7 L1559.6 147.8 L1565.4 141.5 L1564.2 150 L1563.2 148.5 L1557.7 160ZM1579 159.3 L1584.4 147.7 L1582.5 147.8 L1588.3 141.5 L1587.1 150 L1586.1 148.5 L1580.7 160ZM1601.9 159.3 L1607.2 147.6 L1605.3 147.8 L1611 141.5 L1610 149.9 L1608.9 148.4 L1603.6 160ZM1624.8 159.2 L1631.6 148.3 L1629.7 148.2 L1636.2 142.6 L1634 150.9 L1633.2 149.3 L1626.4 160.1ZM1647.8 159.1 L1655.7 149 L1653.8 148.7 L1660.9 143.9 L1657.9 151.9 L1657.1 150.1 L1649.3 160.2ZM1670.7 159.1 L1678.6 149 L1676.8 148.7 L1683.8 143.9 L1680.8 151.9 L1680.1 150.1 L1672.2 160.2ZM1693.6 159.1 L1701.6 149.1 L1699.8 148.8 L1706.8 144 L1703.7 152 L1703 150.2 L1695.1 160.2ZM1716.5 159.1 L1724.5 149.1 L1722.7 148.8 L1729.7 144 L1726.6 152 L1726 150.2 L1718 160.2ZM1533.2 185.5 L1538.6 173.9 L1536.7 174.1 L1542.5 167.8 L1541.3 176.2 L1540.2 174.7 L1534.8 186.3ZM1556.1 185.5 L1561.5 173.9 L1559.6 174.1 L1565.4 167.8 L1564.2 176.2 L1563.2 174.7 L1557.7 186.3ZM1579 185.5 L1584.4 173.9 L1582.5 174.1 L1588.3 167.8 L1587.1 176.2 L1586.1 174.7 L1580.7 186.3ZM1601.9 185.5 L1607.3 173.9 L1605.4 174.1 L1611.2 167.8 L1610 176.2 L1609 174.7 L1603.6 186.3ZM1624.9 185.4 L1631.8 174.7 L1630 174.6 L1636.5 169.1 L1634.2 177.3 L1633.4 175.7 L1626.4 186.4ZM1647.8 185.3 L1655.9 175.4 L1654 175.1 L1661.1 170.4 L1658 178.3 L1657.3 176.5 L1649.3 186.5ZM1670.7 185.3 L1678.8 175.4 L1676.9 175.1 L1684 170.4 L1680.9 178.3 L1680.2 176.5 L1672.2 186.5ZM1693.6 185.3 L1701.7 175.4 L1699.9 175.1 L1707 170.4 L1703.8 178.3 L1703.1 176.5 L1695.1 186.5ZM1716.6 185.3 L1724.6 175.4 L1722.8 175.1 L1729.9 170.4 L1726.7 178.3 L1726 176.5 L1718 186.5ZM1739.5 185.3 L1747.5 175.4 L1745.7 175.1 L1752.8 170.4 L1749.6 178.3 L1748.9 176.5 L1740.9 186.5ZM1533.2 211.8 L1538.6 200.2 L1536.7 200.3 L1542.5 194 L1541.3 202.5 L1540.2 201 L1534.8 212.5ZM1556.1 211.8 L1561.5 200.2 L1559.6 200.3 L1565.4 194 L1564.2 202.5 L1563.2 201 L1557.7 212.5ZM1579 211.7 L1584.7 200.3 L1582.8 200.4 L1588.7 194.3 L1587.4 202.7 L1586.4 201.1 L1580.6 212.6ZM1601.9 211.7 L1607.9 200.4 L1606 200.5 L1612.1 194.5 L1610.5 202.9 L1609.5 201.3 L1603.5 212.6ZM1624.9 211.6 L1632.1 201.1 L1630.3 200.9 L1637 195.7 L1634.5 203.8 L1633.6 202.1 L1626.4 212.7ZM1647.8 211.6 L1655.9 201.6 L1654 201.3 L1661.1 196.6 L1658 204.5 L1657.3 202.8 L1649.3 212.7ZM1670.7 211.6 L1678.8 201.6 L1676.9 201.3 L1684 196.6 L1680.9 204.5 L1680.2 202.8 L1672.2 212.7ZM1693.6 211.6 L1701.7 201.6 L1699.9 201.3 L1707 196.6 L1703.8 204.5 L1703.1 202.8 L1695.1 212.7ZM1716.6 211.6 L1724.6 201.6 L1722.8 201.3 L1729.9 196.6 L1726.7 204.5 L1726 202.8 L1718 212.7ZM1739.5 211.6 L1747.5 201.6 L1745.7 201.3 L1752.8 196.6 L1749.6 204.5 L1748.9 202.8 L1740.9 212.7ZM1533.2 238 L1538.6 226.4 L1536.7 226.6 L1542.5 220.3 L1541.3 228.7 L1540.2 227.2 L1534.8 238.8ZM1556.1 238 L1561.5 226.4 L1559.6 226.6 L1565.4 220.3 L1564.2 228.7 L1563.2 227.2 L1557.7 238.8ZM1579 238 L1585 226.7 L1583.1 226.7 L1589.2 220.7 L1587.6 229.1 L1586.6 227.5 L1580.6 238.8ZM1601.9 237.9 L1608.5 227 L1606.7 226.9 L1613 221.3 L1611 229.5 L1610.1 227.9 L1603.5 238.9ZM1624.9 237.9 L1632.4 227.5 L1630.5 227.3 L1637.4 222.2 L1634.7 230.3 L1633.9 228.6 L1626.4 238.9ZM1647.8 237.8 L1655.9 227.9 L1654 227.6 L1661.1 222.9 L1658 230.8 L1657.3 229 L1649.3 239ZM1670.7 237.8 L1678.8 227.9 L1676.9 227.6 L1684 222.9 L1680.9 230.8 L1680.2 229 L1672.2 239ZM1693.6 237.8 L1701.7 227.9 L1699.9 227.6 L1707 222.9 L1703.8 230.8 L1703.1 229 L1695.1 239ZM1716.6 237.8 L1724.6 227.9 L1722.8 227.6 L1729.9 222.9 L1726.7 230.8 L1726 229 L1718 239ZM1533.2 264.3 L1538.6 252.7 L1536.7 252.8 L1542.5 246.5 L1541.3 255 L1540.2 253.5 L1534.8 265ZM1556.1 264.3 L1561.5 252.7 L1559.6 252.8 L1565.4 246.5 L1564.2 255 L1563.2 253.5 L1557.7 265ZM1579 264.2 L1585.3 253.1 L1583.4 253.1 L1589.7 247.2 L1587.9 255.6 L1586.9 254 L1580.6 265.1ZM1602 264.1 L1609.1 253.5 L1607.3 253.4 L1613.9 248.1 L1611.5 256.2 L1610.6 254.6 L1603.5 265.2ZM1624.9 264.1 L1632.7 253.9 L1630.8 253.7 L1637.8 248.8 L1634.9 256.8 L1634.2 255.1 L1626.4 265.2ZM1647.8 264.1 L1655.9 254.1 L1654 253.8 L1661.1 249.1 L1658 257 L1657.3 255.3 L1649.3 265.2ZM1670.7 264.1 L1678.8 254.1 L1676.9 253.8 L1684 249.1 L1680.9 257 L1680.2 255.3 L1672.2 265.2ZM1693.6 264.1 L1701.7 254.1 L1699.9 253.8 L1707 249.1 L1703.8 257 L1703.1 255.3 L1695.1 265.2ZM1716.6 264.1 L1724.6 254.1 L1722.8 253.8 L1729.9 249.1 L1726.7 257 L1726 255.3 L1718 265.2ZM1533.2 290.5 L1538.6 278.9 L1536.7 279.1 L1542.5 272.8 L1541.3 281.2 L1540.2 279.7 L1534.8 291.3ZM1556.1 290.5 L1561.5 278.9 L1559.6 279.1 L1565.4 272.8 L1564.2 281.2 L1563.2 279.7 L1557.7 291.3ZM1579 290.4 L1585.6 279.5 L1583.7 279.4 L1590.1 273.8 L1588.1 282 L1587.2 280.4 L1580.6 291.4ZM1602 290.3 L1609.7 280.1 L1607.8 279.9 L1614.8 274.9 L1611.9 283 L1611.2 281.2 L1603.5 291.5ZM1624.9 290.3 L1633 280.4 L1631.1 280.1 L1638.2 275.4 L1635.1 283.3 L1634.4 281.5 L1626.4 291.5ZM1647.8 290.3 L1655.9 280.4 L1654 280.1 L1661.1 275.4 L1658 283.3 L1657.3 281.5 L1649.3 291.5ZM1670.7 290.3 L1678.8 280.4 L1676.9 280.1 L1684 275.4 L1680.9 283.3 L1680.2 281.5 L1672.2 291.5ZM1693.6 290.3 L1701.7 280.4 L1699.9 280.1 L1707 275.4 L1703.8 283.3 L1703.1 281.5 L1695.1 291.5ZM1716.6 290.3 L1724.6 280.4 L1722.8 280.1 L1729.9 275.4 L1726.7 283.3 L1726 281.5 L1718 291.5ZM1533.2 316.7 L1539.1 305.4 L1537.2 305.5 L1543.2 299.4 L1541.7 307.8 L1540.7 306.2 L1534.8 317.6ZM1556.1 316.7 L1562.1 305.4 L1560.3 305.5 L1566.4 299.5 L1564.8 307.9 L1563.8 306.3 L1557.7 317.6ZM1579 316.6 L1586 305.9 L1584.1 305.8 L1590.6 300.3 L1588.4 308.6 L1587.5 306.9 L1580.6 317.7ZM1602 316.6 L1609.8 306.4 L1607.9 306.2 L1614.9 301.3 L1612 309.3 L1611.2 307.6 L1603.5 317.7ZM1624.9 316.6 L1633 306.6 L1631.1 306.3 L1638.2 301.6 L1635.1 309.5 L1634.4 307.8 L1626.4 317.7ZM1647.8 316.6 L1655.9 306.6 L1654 306.3 L1661.1 301.6 L1658 309.5 L1657.3 307.8 L1649.3 317.7ZM1670.7 316.6 L1678.8 306.6 L1676.9 306.3 L1684 301.6 L1680.9 309.5 L1680.2 307.8 L1672.2 317.7ZM1693.6 316.6 L1701.7 306.6 L1699.9 306.3 L1707 301.6 L1703.8 309.5 L1703.1 307.8 L1695.1 317.7ZM1716.6 316.6 L1724.6 306.6 L1722.8 306.3 L1729.9 301.6 L1726.7 309.5 L1726 307.8 L1718 317.7ZM1533.2 342.9 L1539.6 331.9 L1537.7 331.9 L1544 326.1 L1542.1 334.4 L1541.2 332.8 L1534.8 343.9ZM1556.1 342.9 L1562.8 332 L1560.9 332 L1567.4 326.3 L1565.3 334.6 L1564.4 333 L1557.7 343.9ZM1579.1 342.9 L1586.3 332.3 L1584.4 332.2 L1591.1 326.9 L1588.6 335.1 L1587.8 333.4 L1580.6 343.9ZM1602 342.8 L1609.9 332.8 L1608 332.5 L1615 327.6 L1612 335.6 L1611.3 333.9 L1603.5 344ZM1624.9 342.8 L1633 332.9 L1631.1 332.6 L1638.2 327.9 L1635.1 335.8 L1634.4 334 L1626.4 344ZM1647.8 342.8 L1655.9 332.9 L1654 332.6 L1661.1 327.9 L1658 335.8 L1657.3 334 L1649.3 344ZM1670.7 342.8 L1678.8 332.9 L1676.9 332.6 L1684 327.9 L1680.9 335.8 L1680.2 334 L1672.2 344ZM1693.6 342.8 L1701.7 332.9 L1699.9 332.6 L1707 327.9 L1703.8 335.8 L1703.1 334 L1695.1 344ZM1716.6 342.8 L1724.6 332.9 L1722.8 332.6 L1729.9 327.9 L1726.7 335.8 L1726 334 L1718 344ZM1533.2 369.2 L1540.1 358.4 L1538.2 358.3 L1544.7 352.8 L1542.5 361 L1541.6 359.4 L1534.8 370.1ZM1556.1 369.1 L1563.4 358.6 L1561.6 358.5 L1568.3 353.2 L1565.8 361.4 L1565 359.7 L1557.7 370.2ZM1579.1 369.1 L1586.6 358.8 L1584.8 358.6 L1591.6 353.5 L1588.9 361.6 L1588.1 359.9 L1580.6 370.2ZM1602 369.1 L1610 359.1 L1608.1 358.8 L1615.2 354 L1612.1 362 L1611.4 360.2 L1603.5 370.2ZM1624.9 369.1 L1633 359.1 L1631.1 358.8 L1638.2 354.1 L1635.1 362 L1634.4 360.3 L1626.4 370.2ZM1647.8 369.1 L1655.9 359.1 L1654 358.8 L1661.1 354.1 L1658 362 L1657.3 360.3 L1649.3 370.2ZM1670.7 369.1 L1678.8 359.1 L1676.9 358.8 L1684 354.1 L1680.9 362 L1680.2 360.3 L1672.2 370.2ZM1693.6 369.1 L1701.7 359.1 L1699.9 358.8 L1707 354.1 L1703.8 362 L1703.1 360.3 L1695.1 370.2ZM1716.6 369.1 L1724.6 359.1 L1722.8 358.8 L1729.9 354.1 L1726.7 362 L1726 360.3 L1718 370.2ZM1533.2 395.4 L1540.6 384.9 L1538.7 384.7 L1545.5 379.5 L1542.9 387.6 L1542.1 386 L1534.8 396.4ZM1556.2 395.3 L1564.1 385.3 L1562.2 385 L1569.2 380.1 L1566.2 388.1 L1565.5 386.4 L1557.6 396.5ZM1579.1 395.3 L1587 385.3 L1585.1 385 L1592.1 380.1 L1589.1 388.1 L1588.4 386.4 L1580.5 396.5ZM1602 395.3 L1610.1 385.4 L1608.2 385.1 L1615.3 380.4 L1612.2 388.3 L1611.5 386.5 L1603.4 396.5ZM1624.9 395.3 L1633 385.4 L1631.1 385.1 L1638.2 380.4 L1635.1 388.3 L1634.4 386.5 L1626.4 396.5ZM1647.8 395.3 L1655.9 385.4 L1654 385.1 L1661.1 380.4 L1658 388.3 L1657.3 386.5 L1649.3 396.5ZM1670.7 395.3 L1678.8 385.4 L1676.9 385.1 L1684 380.4 L1680.9 388.3 L1680.2 386.5 L1672.2 396.5ZM1693.6 395.3 L1701.7 385.4 L1699.9 385.1 L1707 380.4 L1703.8 388.3 L1703.1 386.5 L1695.1 396.5ZM1716.6 395.3 L1724.6 385.4 L1722.8 385.1 L1729.9 380.4 L1726.7 388.3 L1726 386.5 L1718 396.5ZM1739.5 395.3 L1747.5 385.4 L1745.7 385.1 L1752.8 380.4 L1749.6 388.3 L1748.9 386.5 L1740.9 396.5ZM1533.3 421.6 L1540.8 411.3 L1538.9 411.1 L1545.8 406 L1543 414.1 L1542.3 412.4 L1534.7 422.7ZM1556.2 421.6 L1564.1 411.5 L1562.3 411.3 L1569.3 406.4 L1566.2 414.4 L1565.6 412.7 L1557.6 422.7ZM1579.1 421.6 L1587 411.5 L1585.2 411.3 L1592.2 406.4 L1589.2 414.4 L1588.5 412.7 L1580.5 422.7ZM1602 421.6 L1610.1 411.6 L1608.2 411.3 L1615.3 406.6 L1612.2 414.5 L1611.5 412.8 L1603.4 422.7ZM1624.9 421.6 L1633 411.6 L1631.1 411.3 L1638.2 406.6 L1635.1 414.5 L1634.4 412.8 L1626.4 422.7ZM1647.8 421.6 L1655.9 411.6 L1654 411.3 L1661.1 406.6 L1658 414.5 L1657.3 412.8 L1649.3 422.7ZM1670.7 421.6 L1678.8 411.6 L1676.9 411.3 L1684 406.6 L1680.9 414.5 L1680.2 412.8 L1672.2 422.7ZM1693.6 421.6 L1701.7 411.6 L1699.9 411.3 L1707 406.6 L1703.8 414.5 L1703.1 412.8 L1695.1 422.7ZM1716.6 421.6 L1724.6 411.6 L1722.8 411.3 L1729.9 406.6 L1726.7 414.5 L1726 412.8 L1718 422.7ZM1533.3 447.8 L1541 437.6 L1539.1 437.4 L1546 432.4 L1543.2 440.5 L1542.4 438.7 L1534.7 449ZM1556.2 447.8 L1564.1 437.8 L1562.3 437.5 L1569.4 432.7 L1566.3 440.7 L1565.6 439 L1557.6 449ZM1579.1 447.8 L1587.1 437.8 L1585.2 437.5 L1592.3 432.7 L1589.2 440.7 L1588.5 439 L1580.5 449ZM1602 447.8 L1610.1 437.9 L1608.2 437.6 L1615.3 432.9 L1612.2 440.8 L1611.5 439 L1603.4 449ZM1624.9 447.8 L1633 437.9 L1631.1 437.6 L1638.2 432.9 L1635.1 440.8 L1634.4 439 L1626.4 449ZM1647.8 447.8 L1655.9 437.9 L1654 437.6 L1661.1 432.9 L1658 440.8 L1657.3 439 L1649.3 449ZM1670.7 447.8 L1678.8 437.9 L1676.9 437.6 L1684 432.9 L1680.9 440.8 L1680.2 439 L1672.2 449ZM1693.6 447.8 L1701.7 437.9 L1699.9 437.6 L1707 432.9 L1703.8 440.8 L1703.1 439 L1695.1 449ZM1716.6 447.8 L1724.6 437.9 L1722.8 437.6 L1729.9 432.9 L1726.7 440.8 L1726 439 L1718 449ZM1533.3 474.1 L1541.1 464 L1539.3 463.7 L1546.3 458.9 L1543.3 466.9 L1542.6 465.1 L1534.7 475.2ZM1556.2 474.1 L1564.2 464.1 L1562.3 463.8 L1569.4 459.1 L1566.3 467 L1565.6 465.3 L1557.6 475.2ZM1579.1 474.1 L1587.1 464.1 L1585.3 463.8 L1592.3 459.1 L1589.2 467 L1588.5 465.3 L1580.5 475.2ZM1602 474.1 L1610.1 464.1 L1608.2 463.8 L1615.3 459.1 L1612.2 467 L1611.5 465.3 L1603.4 475.2ZM1624.9 474.1 L1633 464.1 L1631.1 463.8 L1638.2 459.1 L1635.1 467 L1634.4 465.3 L1626.4 475.2ZM1647.8 474.1 L1655.9 464.1 L1654 463.8 L1661.1 459.1 L1658 467 L1657.3 465.3 L1649.3 475.2ZM1670.7 474.1 L1678.8 464.1 L1676.9 463.8 L1684 459.1 L1680.9 467 L1680.2 465.3 L1672.2 475.2ZM1693.6 474.1 L1701.7 464.1 L1699.9 463.8 L1707 459.1 L1703.8 467 L1703.1 465.3 L1695.1 475.2ZM1716.6 474.1 L1724.6 464.1 L1722.8 463.8 L1729.9 459.1 L1726.7 467 L1726 465.3 L1718 475.2ZM1533.3 500.3 L1541.3 490.4 L1539.5 490.1 L1546.6 485.4 L1543.4 493.3 L1542.8 491.5 L1534.7 501.5ZM1556.2 500.3 L1564.2 490.4 L1562.4 490.1 L1569.5 485.4 L1566.3 493.3 L1565.7 491.5 L1557.6 501.5ZM1579.1 500.3 L1587.1 490.4 L1585.3 490.1 L1592.4 485.4 L1589.3 493.3 L1588.6 491.5 L1580.5 501.5ZM1602 500.3 L1610.1 490.4 L1608.2 490.1 L1615.3 485.4 L1612.2 493.3 L1611.5 491.5 L1603.4 501.5ZM1624.9 500.3 L1633 490.4 L1631.1 490.1 L1638.2 485.4 L1635.1 493.3 L1634.4 491.5 L1626.4 501.5ZM1647.8 500.3 L1655.9 490.4 L1654 490.1 L1661.1 485.4 L1658 493.3 L1657.3 491.5 L1649.3 501.5ZM1670.7 500.3 L1678.8 490.4 L1676.9 490.1 L1684 485.4 L1680.9 493.3 L1680.2 491.5 L1672.2 501.5ZM1693.6 500.3 L1701.7 490.4 L1699.9 490.1 L1707 485.4 L1703.8 493.3 L1703.1 491.5 L1695.1 501.5Z"/>
<path fill="#c0c0c0" d="M1765.2 78.9 L1765.2 80.9 L1765.1 86.4 L1763 88.7 L1764.1 91 L1763.7 94 L1764.8 96.6 L1763.7 100 L1762.2 102.3 L1764.1 105.3 L1762.6 109 L1761.4 112.8 L1758.4 113.9 L1758.8 118.1 L1755.4 121.1 L1756.9 124.9 L1756.2 128.6 L1752.4 133.2 L1750.9 136.9 L1747.9 138.1 L1744.5 140.7 L1743 144.5 L1743.4 148.2 L1739.5 151.9 L1739.5 155.9 L1742 159.9 L1744.1 163.4 L1744.9 167.2 L1746 169.8 L1750.1 171.7 L1753.9 174.7 L1754.3 178.5 L1755.4 181.5 L1753.9 186 L1753.9 189.8 L1756.5 194 L1755 197.3 L1754.3 204.1 L1755 207.9 L1756.5 211.9 L1755 216.9 L1753.2 218.4 L1749.4 221.1 L1750.5 223.7 L1751.7 228.2 L1750.9 232.8 L1747.1 233.5 L1744.9 235.8 L1744 239.7 L1740.6 241.9 L1737.6 241.6 L1736.5 237.8 L1734.6 239.7 L1733.1 245.7 L1731.2 262.3 L1730.8 270.6 L1731.6 278.1 L1733.1 285.6 L1735 290.2 L1734.2 296.2 L1733.8 302.2 L1735.7 308.2 L1736.9 314.3 L1737.6 320.4 L1739.9 327.2 L1740.5 335.3 L1741.4 341.5 L1744 345.3 L1742.5 347.6 L1740.6 350.2 L1744.4 355.2 L1743.3 361.1 L1742.5 367.2 L1741.8 373.2 L1742.1 377.7 L1745.1 379.2 L1745.9 384.5 L1749.3 388.6 L1748.2 392.8 L1746.3 396.4 L1746.1 399.8 L1748.1 404.7 L1747.1 409.6 L1743.7 411.5 L1743.2 414.4 L1741.3 417.4 L1743.2 421.3 L1742.7 425.2 L1740.8 427.1 L1739 430.9 L1734 436.9 L1729.6 437.9 L1731 441.8 L1732 447.6 L1734.4 452.5 L1734 455.4 L1732 457.4 L1732 462.2 L1734.9 466.1 L1737.4 469.1 L1736.4 473.9 L1734.9 479.8 L1731.5 482.7 L1726.6 484.7 L1725.7 487.6 L1724.2 493.5 L1720.8 499.3 L1719.5 500.9 L1718.3 502.9 L1794 505.9 L1794 75.9Z"/>
<path fill="none" stroke="#000" stroke-width="1.9" stroke-linejoin="round" d="M1765.2 78.9 L1765.2 80.9 L1765.1 86.4 L1763 88.7 L1764.1 91 L1763.7 94 L1764.8 96.6 L1763.7 100 L1762.2 102.3 L1764.1 105.3 L1762.6 109 L1761.4 112.8 L1758.4 113.9 L1758.8 118.1 L1755.4 121.1 L1756.9 124.9 L1756.2 128.6 L1752.4 133.2 L1750.9 136.9 L1747.9 138.1 L1744.5 140.7 L1743 144.5 L1743.4 148.2 L1739.5 151.9 L1739.5 155.9 L1742 159.9 L1744.1 163.4 L1744.9 167.2 L1746 169.8 L1750.1 171.7 L1753.9 174.7 L1754.3 178.5 L1755.4 181.5 L1753.9 186 L1753.9 189.8 L1756.5 194 L1755 197.3 L1754.3 204.1 L1755 207.9 L1756.5 211.9 L1755 216.9 L1753.2 218.4 L1749.4 221.1 L1750.5 223.7 L1751.7 228.2 L1750.9 232.8 L1747.1 233.5 L1744.9 235.8 L1744 239.7 L1740.6 241.9 L1737.6 241.6 L1736.5 237.8 L1734.6 239.7 L1733.1 245.7 L1732.5 250.9 L1731.2 262.3 L1730.8 270.6 L1731.6 278.1 L1733.1 285.6 L1735 290.2 L1734.2 296.2 L1733.8 302.2 L1735.7 308.2 L1736.9 314.3 L1737.6 320.4 L1739.9 327.2 L1740.5 335.3 L1741.4 341.5 L1744 345.3 L1742.5 347.6 L1740.6 350.2 L1744.4 355.2 L1743.3 361.1 L1742.5 367.2 L1741.8 373.2 L1742.1 377.7 L1745.1 379.2 L1745.9 384.5 L1749.3 388.6 L1748.2 392.8 L1746.3 396.4 L1746.1 399.8 L1748.1 404.7 L1747.1 409.6 L1743.7 411.5 L1743.2 414.4 L1741.3 417.4 L1743.2 421.3 L1742.7 425.2 L1740.8 427.1 L1739 430.9 L1734 436.9 L1729.6 437.9 L1731 441.8 L1732 447.6 L1734.4 452.5 L1734 455.4 L1732 457.4 L1732 462.2 L1734.9 466.1 L1737.4 469.1 L1736.4 473.9 L1734.9 479.8 L1731.5 482.7 L1726.6 484.7 L1725.7 487.6 L1724.2 493.5 L1720.8 499.3 L1719.5 500.9 L1718.3 502.9"/>
<path fill="none" stroke="#000" stroke-width="1.6" stroke-linejoin="round" d="M1744.1 163.4 L1750.1 163.4 L1752.4 160.8 L1756.9 163.4 L1762.2 163.8 L1763 171 L1768.2 172.1 L1769.4 175.9 L1773.5 174 L1775.8 163.4 L1779.5 160.4 L1787 160.8"/>
<path fill="none" stroke="#000" stroke-width="1.6" stroke-linejoin="round" d="M1742.9 373.9 L1745.1 372.1 L1753.4 375.1 L1758 372.8 L1761 369.4 L1763.2 372.4 L1771.5 364.1 L1777.6 365.6 L1787 363.4"/>
<path fill="none" stroke="#000" stroke-width="1.6" stroke-linejoin="round" d="M1787 425.7 L1779.3 427.1 L1772.5 430 L1773 436.9 L1774 443.7 L1766.6 446.6 L1760.8 447.6 L1761.3 454.4 L1754 460.3 L1753.5 469.1 L1748.1 477.9 L1752 484.7 L1741.3 484.7 L1740.3 491.5 L1731.5 496.4 L1724.7 494.4"/>
<path fill="none" stroke="#000" stroke-width="1.6" stroke-linejoin="round" d="M1731.5 496.4 L1735 501.9"/>
<ellipse cx="1741.3" cy="169.2" rx="1.1" ry="1.6" fill="#000"/>
<ellipse cx="1741.6" cy="191.1" rx="0.5" ry="0.9" fill="#000"/>
</g>
<circle cx="1743.3" cy="156.4" r="4.7" fill="#ffd700" stroke="#000" stroke-width="1.9"/>
<circle cx="1757.4" cy="213.4" r="4.7" fill="#ffd700" stroke="#000" stroke-width="1.9"/>
<circle cx="1732.4" cy="255.4" r="4.7" fill="#ffd700" stroke="#000" stroke-width="1.9"/>
<circle cx="1740.5" cy="335.3" r="4.7" fill="#ffd700" stroke="#000" stroke-width="1.9"/>
<circle cx="1744.4" cy="355.2" r="4.7" fill="#ffd700" stroke="#000" stroke-width="1.9"/>
<circle cx="1737.4" cy="435.4" r="4.7" fill="#ffd700" stroke="#000" stroke-width="1.9"/>
<rect x="1534" y="80.9" width="252" height="420" fill="none" stroke="#000" stroke-width="1.6"/>
<text x="1534.2" y="68.9" font-size="28" style="font-family:'DejaVu Sans','Liberation Sans',sans-serif">vie 12-dic</text>
<g clip-path="url(#cp5)">
<rect x="91" y="584.9" width="252" height="420" fill="#009bdc"/>
<path fill="#009bd8" fill-rule="evenodd" d="M83 576.9 L324.5 576.9 L324.4 586.9 L323.6 594.9 L323.8 600.9 L322.7 612.9 L318.1 622.9 L316.8 630.9 L315.2 634.9 L312.4 638.9 L305.4 646.9 L301 654.9 L299.7 658.9 L300.3 662.9 L303.2 670.9 L309.2 678.9 L310.1 680.9 L310.4 684.9 L309.3 690.9 L309.3 698.9 L307.5 706.9 L307 716.9 L302.1 724.9 L301.9 726.9 L303.6 732.9 L303.2 734.9 L301.8 736.9 L297.4 740.9 L294.3 744.9 L291.8 752.9 L293.3 762.9 L296.2 774.9 L297.8 784.9 L299.9 792.9 L300.5 806.9 L305.6 830.9 L306.8 840.9 L308.1 846.9 L308.2 854.9 L309.3 862.9 L307.6 874.9 L307.8 878.9 L312.8 890.9 L313.3 894.9 L311.7 902.9 L312.2 908.9 L311.9 910.9 L307.8 918.9 L306.5 928.9 L303.1 934.9 L296.4 942.9 L295.1 946.9 L295.2 950.9 L295.1 956.9 L292.6 964.9 L294.2 972.9 L293.7 976.9 L290.9 982.9 L286.2 988.9 L283.9 992.9 L282.5 998.9 L279.5 1006.9 L278.7 1012.9 L83 1012.9Z"/>
<path fill="#00a2c9" fill-rule="evenodd" d="M83 576.9 L321.5 576.9 L321.4 586.9 L320.6 594.9 L320.8 600.9 L319.8 612.9 L315.1 622.9 L313.8 630.9 L312.3 634.9 L309.5 638.9 L302.4 646.9 L297.1 656.9 L296.6 658.9 L297 662 L299.3 668.9 L301.3 672.9 L306.1 678.9 L307 680.9 L307.3 684.9 L306.2 690.9 L306.1 698.9 L304.3 706.9 L303.8 716.9 L298.9 724.9 L298.6 726.9 L300.4 732.9 L300 734.9 L298.6 736.9 L294.2 740.9 L291.2 744.9 L288.7 752.9 L291 766.5 L296.9 792.9 L297.2 804.9 L302.6 830.9 L305.1 846.9 L305.1 854.9 L306.3 862.9 L304.8 872.9 L304.8 878.9 L309.8 890.9 L310.4 894.9 L308.9 900.9 L308.9 910.9 L304.8 918.9 L303.5 928.9 L300.2 934.9 L294.8 940.9 L292.6 944.9 L292.1 946.9 L292.2 956.9 L289.5 964.9 L291.1 972.9 L290.7 976.9 L288 982.9 L283 989.2 L281 992.8 L279.7 998.9 L276.7 1006.9 L275.9 1012.9 L83 1012.9Z"/>
<path fill="#00a6bf" fill-rule="evenodd" d="M83 576.9 L319.2 576.9 L319.1 586.9 L318.3 594.9 L318.5 600.9 L317.4 612.9 L312.8 622.9 L311.5 630.9 L309.9 634.9 L307.1 638.9 L300 646.9 L295.6 654.9 L294.1 658.9 L294.8 662.9 L297.5 670.9 L303.4 678.9 L304.3 680.9 L304.6 684.9 L303.4 690.9 L303.2 698.9 L301.4 706.9 L300.8 716.9 L295.8 724.9 L295.6 726.9 L297.4 732.9 L297 734.9 L295.7 736.9 L291.3 740.9 L288.4 744.9 L286.1 752.9 L287 759.2 L294.6 792.9 L295.2 806.9 L300.3 830.9 L301.5 840.9 L302.8 846.9 L302.9 854.9 L304 862.9 L302.3 874.9 L302.5 878.9 L307.5 890.9 L308 894.9 L306.6 900.9 L306.6 910.9 L302.5 918.9 L301.2 928.9 L297.8 934.9 L292.5 940.9 L290.2 944.9 L289.8 946.9 L289.8 956.9 L287.2 964.9 L288.8 972.9 L288.3 976.9 L285.6 982.9 L281 988.9 L279 992.5 L277.6 998.9 L274.7 1006.9 L274 1012.9 L83 1012.9Z"/>
<path fill="#00aaae" fill-rule="evenodd" d="M83 576.9 L317.2 576.9 L317.1 586.9 L316.2 594.9 L316.4 600.9 L315.2 612.9 L310.6 622.9 L309.2 630.9 L307.6 634.9 L297.6 646.9 L293.2 654.9 L291.7 658.9 L291.8 660.9 L294.2 668.9 L296.1 672.9 L301 679.3 L302.1 682.9 L302 684.9 L300.7 690.9 L300.5 698.9 L298.5 706.9 L297.9 716.9 L292.8 724.9 L292.6 726.9 L294.6 732.9 L294.2 734.9 L293 736.9 L288.6 740.9 L285.8 744.9 L283.7 752.9 L285.2 760.9 L289 774.9 L290.6 784.9 L292.7 792.9 L293.2 806.9 L298.3 830.9 L299.4 840.9 L300.8 846.9 L300.8 854.9 L301.9 862.9 L300.3 874.9 L300.5 878.9 L305.4 890.9 L306 894.9 L304.4 902.9 L304.9 908.9 L304.6 910.9 L300.4 918.9 L299.1 928.9 L297.1 932.9 L290.3 940.9 L288.1 944.9 L287.7 946.9 L287.7 956.9 L285.1 964.9 L286.6 974.9 L283.4 982.9 L277.6 990.9 L275.8 998.9 L272.6 1008.9 L272.4 1012.9 L83 1012.9Z"/>
<path fill="#00aca3" fill-rule="evenodd" d="M83 576.9 L315 576.9 L314.8 586.9 L313.8 594.9 L313.9 600.9 L312.6 612.9 L307.9 622.9 L306.5 630.9 L305 634.5 L303 637.5 L294.7 646.9 L290.2 654.9 L288.8 658.9 L289.3 662.9 L291.9 670.9 L297.7 678.9 L298.7 680.9 L298.9 684.9 L297.6 690.9 L297.4 698.9 L295.4 706.9 L294.7 716.9 L289.6 724.9 L289.5 726.9 L291.6 732.9 L291.3 734.9 L290 736.9 L284.3 742.9 L282.5 746.9 L281.3 752.9 L283.6 762.9 L287.3 774.9 L288.8 784.9 L290.9 792.9 L291.4 806.9 L296.4 830.9 L297.5 840.9 L298.8 846.9 L298.9 854.9 L299.9 862.9 L298.2 876.9 L299.1 880.9 L303.4 890.9 L303.9 894.9 L302.3 902.9 L302.8 908.9 L302.4 910.9 L298.3 918.9 L297 928.9 L293.5 934.9 L286.8 942.9 L285.9 944.9 L285.3 948.9 L285.3 956.9 L282.5 964.9 L283.9 974.9 L280.7 982.9 L275.4 990.9 L273.9 998.9 L271.1 1008.9 L270.8 1012.9 L83 1012.9Z"/>
<path fill="#00ab96" fill-rule="evenodd" d="M83 576.9 L310.5 576.9 L309.5 600.9 L307.7 612.9 L303.7 620.9 L300.7 632.9 L298.1 636.9 L289.3 646.9 L284 656.9 L283.6 658.9 L284.2 662.9 L286.1 668.9 L287.9 672.9 L293 679.4 L294.1 682.9 L294 684.9 L292.9 690.9 L292.7 698.9 L290.9 706.9 L290.3 716.9 L285.4 724.9 L285.4 726.9 L287.8 732.9 L287.6 734.9 L286.4 736.9 L282.4 740.9 L280 744.9 L278.5 752.9 L281.9 764.9 L285.6 774.9 L287.1 784.9 L289.2 792.9 L289.6 806.9 L294.8 832.9 L295.5 840.9 L297 848.9 L296.8 854.9 L297.8 862.9 L296 876.9 L297.6 882.9 L301.1 890.9 L301.5 894.9 L299.8 902.9 L300.2 908.9 L299.9 910.9 L295.6 918.9 L294.2 928.9 L290.7 934.9 L283.8 942.9 L282.5 946.9 L282.2 956.9 L279.4 964.9 L280.9 972.9 L280.8 974.9 L277.7 982.9 L272.9 990.9 L271.9 998.9 L269.4 1008.9 L269.2 1012.9 L83 1012.9Z"/>
<path fill="#00ab8d" fill-rule="evenodd" d="M216.2 670.9 L221 669.9 L227 669.9 L231 670.6 L245 675.3 L273 682.9 L276 684.9 L276.7 686.9 L277.1 690.9 L279.1 698.9 L279.4 706.9 L281.5 716.9 L278.5 724.9 L278.8 726.9 L281.8 732.9 L281.8 734.9 L280.8 736.9 L275.9 742.9 L274.8 746.9 L274.4 752.9 L278.1 762.9 L283.4 774.9 L285.5 786.9 L287.1 792.9 L287.5 806.9 L289.4 814.9 L292.4 832.9 L294.3 848.9 L294 854.9 L295 862.9 L293.3 872.9 L293.2 878.9 L297.1 888.9 L298.2 892.9 L298.2 894.9 L296.4 902.9 L296.7 908.9 L295.4 912.9 L291.9 918.9 L291 926.9 L289.4 930.9 L286.7 934.9 L281.2 940.9 L278.9 944.9 L278.4 946.9 L278.2 956.9 L275.5 964.9 L277 972.9 L276.9 974.9 L274.1 982.9 L269.8 990.9 L269.3 1000.9 L267.4 1008.9 L267.2 1012.9 L177 1012.9 L83 1012.9 L83 730.7 L89 734.1 L91 734.5 L99 733.7 L109 731.3 L127.8 724.9 L155 711.3 L173.5 698.9 L181 692 L191 684.5 L203 677.4Z"/>
<path fill="#00a873" fill-rule="evenodd" d="M212.3 688.9 L217 687.9 L229 687.9 L233 688.6 L245 692.5 L255 697.3 L264.7 700.9 L265.9 702.9 L267.3 708.9 L270.1 716.9 L268.2 724.9 L269.7 728.9 L272.4 732.9 L272.7 734.9 L271.9 736.9 L267.8 742.9 L267.1 746.9 L267.4 752.9 L272.2 762.9 L279.1 774.9 L280.2 782.9 L283.3 794.9 L283.4 806.9 L285.3 814.9 L289.2 846.9 L288.9 854.9 L289.5 862.9 L287.2 876.9 L287.8 880.9 L291.2 888.9 L292.3 892.9 L292.3 894.9 L290.5 902.9 L290.9 908.9 L289.6 912.9 L286.1 918.9 L285.2 926.9 L283.7 930.9 L281.1 934.9 L275.6 940.9 L273.3 944.9 L272.9 946.9 L273.3 956.9 L271 964.9 L272.9 972.9 L272.9 974.9 L270.6 982.9 L266.8 990.9 L266.8 1000.9 L265.2 1008.9 L265 1012.9 L171 1012.9 L83 1012.9 L83 755.2 L87 759.2 L91 761.2 L99 761.9 L113 759.2 L127 753.4 L147.5 740.9 L163 728 L187 709.8 L199 698 L209 690.5Z"/>
<path fill="#00a246" fill-rule="evenodd" d="M83 820.9 L89 823.7 L95 824.1 L101 825.7 L129 826.1 L135 827.7 L147 828.1 L153 829.7 L161 830.1 L167 831.7 L183 834.5 L207 840.5 L225 846.5 L235 850.5 L243 854.5 L253 860.5 L257 864 L269 877 L273 883.6 L275 888.9 L275.6 892.9 L275.2 930.9 L273.8 934.9 L269.1 940.9 L267.2 944.9 L268 956.9 L266.2 964.9 L268.3 972.9 L268.2 974.9 L266.5 982.9 L263.3 990.9 L263.7 998.9 L263.5 1004.9 L262.5 1012.9 L83 1012.9Z"/>
<path fill="#009e29" fill-rule="evenodd" d="M83 862.9 L91 865.7 L99 866.1 L105 867.7 L113 868.1 L129 871.7 L133 872.1 L159 878.5 L179 884.5 L205 894.5 L217 900.4 L227 906.5 L237 914 L239.9 916.9 L244.1 922.9 L247.8 926.9 L251 932.9 L251.3 936.9 L249.2 940.9 L248.3 944.9 L250.6 956.9 L249.8 964.9 L253.5 974.9 L252.9 980.9 L253.5 990.9 L257.5 998.9 L258.7 1002.9 L259 1006 L258.4 1012.9 L83 1012.9Z"/>
<path fill="#009a00" fill-rule="evenodd" d="M83 896.9 L93 899.7 L105 900.1 L111 901.7 L117 902.1 L123 903.7 L127 904.1 L137 906.5 L179 920.5 L189 924.5 L215 937.4 L223.5 942.9 L231.7 950.9 L235 956.9 L235.9 960.9 L236 964.9 L239.4 974.9 L240.1 990.9 L243.3 998.9 L243.9 1006.9 L245 1012.9 L83 1012.9Z"/>
<path fill="#00a400" fill-rule="evenodd" d="M83 922.9 L93 925.7 L99 926.1 L105 927.7 L111 928.1 L129 932.5 L173 946.5 L179 949.3 L195 954.5 L209 960.5 L221.2 968.9 L225 972.9 L226 974.9 L227 990.9 L231.3 998.9 L232.6 1002.9 L233 1004.9 L232.6 1010.9 L232.6 1012.9 L83 1012.9Z"/>
<path fill="#00ad00" fill-rule="evenodd" d="M83 952.9 L95 955.7 L107 956.1 L113 957.7 L121 958.5 L143 964.6 L163 972.4 L179 980.5 L194 990.9 L199 996 L201.2 998.9 L205.3 1012.9 L83 1012.9Z"/>
<path fill="#00b500" fill-rule="evenodd" d="M83 978.9 L83 977.9 L87 978.1 L93 979.7 L105 980.1 L111 981.7 L117 982.1 L133 986.6 L153 994.5 L161 998.6 L163 1000.5 L165.4 1004.9 L167.8 1012.9 L83 1012.9Z"/>
<path fill="#000" fill-opacity="0.5" d="M90.1 584.6 L94.9 572.7 L93.1 573 L98.5 566.4 L97.8 574.9 L96.6 573.4 L91.9 585.2ZM113.1 584.6 L117.8 572.7 L116 573 L121.4 566.4 L120.7 574.9 L119.6 573.4 L114.8 585.2ZM136 584.6 L140.7 572.7 L138.9 573 L144.3 566.4 L143.6 574.9 L142.5 573.4 L137.7 585.2ZM158.9 584.6 L163.7 572.7 L161.8 573 L167.2 566.4 L166.5 574.9 L165.4 573.4 L160.6 585.2ZM181.8 584.6 L186.6 572.7 L184.7 573 L190.1 566.4 L189.4 574.9 L188.3 573.4 L183.5 585.2ZM204.7 584.6 L209.5 572.7 L207.6 573 L213 566.4 L212.3 574.9 L211.2 573.4 L206.4 585.2ZM227.6 584.5 L232.8 572.8 L231 573 L236.6 566.6 L235.6 575.1 L234.5 573.6 L229.3 585.3ZM250.5 584.5 L256.1 573 L254.3 573.1 L260.1 566.9 L258.8 575.4 L257.8 573.8 L252.2 585.3ZM273.5 584.4 L280.1 573.5 L278.2 573.4 L284.6 567.8 L282.6 576 L281.7 574.4 L275.1 585.4ZM296.4 584.3 L304.1 574.1 L302.3 573.9 L309.2 568.9 L306.4 577 L305.6 575.2 L297.9 585.5ZM90.1 610.8 L94.9 598.9 L93.1 599.2 L98.5 592.6 L97.8 601.1 L96.6 599.6 L91.9 611.5ZM113.1 610.8 L117.8 598.9 L116 599.2 L121.4 592.6 L120.7 601.1 L119.6 599.6 L114.8 611.5ZM136 610.8 L140.7 598.9 L138.9 599.2 L144.3 592.6 L143.6 601.1 L142.5 599.6 L137.7 611.5ZM158.9 610.8 L163.7 598.9 L161.8 599.2 L167.2 592.6 L166.5 601.1 L165.4 599.6 L160.6 611.5ZM181.8 610.8 L186.6 598.9 L184.7 599.2 L190.1 592.6 L189.4 601.1 L188.3 599.6 L183.5 611.5ZM204.7 610.8 L209.6 599 L207.7 599.2 L213.2 592.7 L212.4 601.2 L211.3 599.7 L206.4 611.5ZM227.6 610.8 L232.9 599.1 L231.1 599.3 L236.7 593 L235.7 601.4 L234.6 599.9 L229.3 611.5ZM250.5 610.7 L256.2 599.3 L254.4 599.4 L260.3 593.3 L258.9 601.7 L257.9 600.1 L252.2 611.6ZM273.5 610.7 L280.1 599.7 L278.3 599.7 L284.6 594.1 L282.6 602.3 L281.7 600.7 L275.1 611.6ZM296.4 610.6 L304.1 600.4 L302.2 600.1 L309.1 595.1 L306.3 603.2 L305.6 601.5 L297.9 611.7ZM90.1 637.1 L94.9 625.2 L93.1 625.5 L98.5 618.9 L97.8 627.4 L96.6 625.9 L91.9 637.7ZM113.1 637.1 L117.8 625.2 L116 625.5 L121.4 618.9 L120.7 627.4 L119.6 625.9 L114.8 637.7ZM136 637.1 L140.7 625.2 L138.9 625.5 L144.3 618.9 L143.6 627.4 L142.5 625.9 L137.7 637.7ZM158.9 637.1 L163.7 625.2 L161.8 625.5 L167.2 618.9 L166.5 627.4 L165.4 625.9 L160.6 637.7ZM181.8 637.1 L186.6 625.2 L184.7 625.5 L190.1 618.9 L189.4 627.4 L188.3 625.9 L183.5 637.7ZM204.7 637 L209.7 625.3 L207.8 625.5 L213.4 619 L212.5 627.5 L211.4 626 L206.4 637.8ZM227.6 637 L233 625.4 L231.2 625.6 L236.9 619.3 L235.8 627.7 L234.7 626.2 L229.3 637.8ZM250.5 637 L256.3 625.6 L254.5 625.7 L260.4 619.6 L259 628 L258 626.4 L252.2 637.8ZM273.5 636.9 L280.2 626 L278.3 626 L284.7 620.3 L282.6 628.6 L281.7 627 L275.1 637.9ZM296.4 636.8 L304 626.6 L302.2 626.4 L309.1 621.3 L306.3 629.4 L305.5 627.7 L297.9 638ZM90.1 663.3 L94.9 651.4 L93.1 651.7 L98.5 645.1 L97.8 653.6 L96.6 652.1 L91.9 664ZM113.1 663.3 L117.8 651.4 L116 651.7 L121.4 645.1 L120.7 653.6 L119.6 652.1 L114.8 664ZM136 663.3 L140.7 651.4 L138.9 651.7 L144.3 645.1 L143.6 653.6 L142.5 652.1 L137.7 664ZM158.9 663.3 L163.7 651.4 L161.8 651.7 L167.2 645.1 L166.5 653.6 L165.4 652.1 L160.6 664ZM181.8 663.3 L186.6 651.4 L184.7 651.7 L190.1 645.1 L189.4 653.6 L188.3 652.1 L183.5 664ZM204.7 663.3 L209.8 651.6 L207.9 651.8 L213.5 645.3 L212.6 653.8 L211.5 652.3 L206.4 664ZM227.6 663.3 L233.1 651.7 L231.3 651.9 L237.1 645.6 L235.9 654 L234.8 652.5 L229.3 664ZM250.5 663.2 L256.4 651.9 L254.6 652 L260.6 645.9 L259.1 654.3 L258.1 652.7 L252.2 664.1ZM273.5 663.2 L280.2 652.3 L278.4 652.2 L284.8 646.6 L282.7 654.9 L281.8 653.3 L275.1 664.1ZM90.1 689.6 L94.9 677.7 L93.1 678 L98.5 671.4 L97.8 679.9 L96.6 678.4 L91.9 690.2ZM113.1 689.6 L117.8 677.7 L116 678 L121.4 671.4 L120.7 679.9 L119.6 678.4 L114.8 690.2ZM136 689.6 L140.7 677.7 L138.9 678 L144.3 671.4 L143.6 679.9 L142.5 678.4 L137.7 690.2ZM158.9 689.6 L163.7 677.7 L161.8 678 L167.2 671.4 L166.5 679.9 L165.4 678.4 L160.6 690.2ZM181.8 689.6 L186.6 677.7 L184.7 678 L190.1 671.4 L189.4 679.9 L188.3 678.4 L183.5 690.2ZM204.7 689.5 L209.9 677.8 L208 678 L213.7 671.6 L212.7 680.1 L211.6 678.6 L206.4 690.3ZM227.6 689.5 L233.2 678 L231.4 678.1 L237.2 671.9 L235.9 680.4 L234.9 678.8 L229.3 690.3ZM250.5 689.5 L256.5 678.2 L254.7 678.2 L260.8 672.2 L259.2 680.6 L258.2 679 L252.2 690.3ZM273.5 689.4 L280.3 678.6 L278.4 678.5 L284.9 672.9 L282.7 681.2 L281.8 679.5 L275.1 690.4ZM296.4 689.4 L303.9 679 L302.1 678.8 L308.9 673.7 L306.2 681.8 L305.4 680.1 L297.9 690.4ZM90.1 715.8 L95.1 704 L93.2 704.2 L98.7 697.7 L97.9 706.2 L96.8 704.7 L91.9 716.5ZM113.1 715.8 L118 704 L116.1 704.2 L121.6 697.7 L120.8 706.2 L119.7 704.7 L114.8 716.5ZM136 715.8 L141 704 L139.1 704.2 L144.6 697.7 L143.8 706.2 L142.7 704.7 L137.7 716.5ZM158.9 715.8 L163.9 704 L162 704.2 L167.5 697.7 L166.7 706.2 L165.6 704.7 L160.6 716.5ZM181.8 715.8 L186.8 704 L185 704.2 L190.5 697.8 L189.7 706.3 L188.5 704.8 L183.5 716.5ZM204.7 715.8 L210.1 704.2 L208.3 704.3 L214 698 L212.9 706.5 L211.8 705 L206.4 716.5ZM227.6 715.7 L233.4 704.3 L231.5 704.4 L237.5 698.3 L236.1 706.7 L235 705.1 L229.3 716.6ZM250.6 715.7 L256.7 704.5 L254.8 704.5 L261 698.6 L259.3 707 L258.3 705.4 L252.2 716.6ZM273.5 715.7 L280.3 704.8 L278.5 704.8 L284.9 699.2 L282.8 707.5 L281.9 705.8 L275.1 716.6ZM296.4 715.6 L303.9 705.3 L302.1 705.1 L308.9 700 L306.2 708.1 L305.4 706.4 L297.9 716.7ZM90.2 742 L95.2 730.3 L93.4 730.5 L99 724.1 L98.1 732.5 L96.9 731 L91.8 742.8ZM113.1 742 L118.2 730.3 L116.3 730.5 L121.9 724.1 L121 732.5 L119.9 731 L114.8 742.8ZM136 742 L141.2 730.3 L139.3 730.5 L145 724.1 L144 732.6 L142.9 731.1 L137.7 742.8ZM158.9 742 L164.1 730.3 L162.2 730.5 L167.9 724.1 L166.9 732.6 L165.8 731.1 L160.6 742.8ZM181.8 742 L187.1 730.4 L185.2 730.6 L190.9 724.2 L189.9 732.7 L188.8 731.1 L183.5 742.8ZM204.7 742 L210.3 730.5 L208.5 730.6 L214.3 724.4 L213 732.9 L212 731.3 L206.4 742.8ZM227.6 742 L233.5 730.6 L231.7 730.7 L237.7 724.7 L236.2 733.1 L235.2 731.5 L229.3 742.8ZM250.6 741.9 L256.9 730.8 L255 730.8 L261.2 725 L259.4 733.3 L258.5 731.7 L252.2 742.9ZM273.5 741.9 L280.4 731.1 L278.5 731 L285 725.5 L282.8 733.8 L281.9 732.1 L275.1 742.9ZM90.2 768.3 L95.4 756.6 L93.6 756.8 L99.2 750.4 L98.2 758.9 L97.1 757.4 L91.8 769ZM113.1 768.3 L118.3 756.6 L116.5 756.8 L122.1 750.4 L121.1 758.9 L120 757.4 L114.8 769ZM136 768.3 L141.4 756.7 L139.5 756.8 L145.3 750.5 L144.1 759 L143.1 757.5 L137.7 769ZM158.9 768.3 L164.3 756.7 L162.4 756.8 L168.2 750.5 L167 759 L166 757.5 L160.6 769ZM181.8 768.2 L187.4 756.7 L185.5 756.9 L191.3 750.6 L190.1 759.1 L189 757.5 L183.5 769.1ZM204.7 768.2 L210.5 756.8 L208.7 756.9 L214.6 750.8 L213.2 759.2 L212.2 757.7 L206.4 769.1ZM227.6 768.2 L233.7 756.9 L231.8 757 L237.9 751 L236.3 759.4 L235.3 757.8 L229.3 769.1ZM250.6 768.2 L257 757.1 L255.1 757.1 L261.4 751.4 L259.5 759.7 L258.6 758.1 L252.2 769.1ZM273.5 768.1 L280.4 757.4 L278.5 757.3 L285.1 751.8 L282.8 760.1 L282 758.4 L275.1 769.2ZM90.2 794.5 L95.6 782.9 L93.7 783.1 L99.5 776.8 L98.3 785.2 L97.2 783.7 L91.8 795.3ZM113.1 794.5 L118.5 782.9 L116.6 783.1 L122.4 776.8 L121.2 785.2 L120.2 783.7 L114.7 795.3ZM136 794.5 L141.6 783 L139.7 783.1 L145.6 776.9 L144.3 785.4 L143.3 783.8 L137.6 795.3ZM158.9 794.5 L164.5 783 L162.6 783.1 L168.5 776.9 L167.2 785.4 L166.2 783.8 L160.6 795.3ZM181.8 794.5 L187.6 783.1 L185.8 783.2 L191.7 777.1 L190.3 785.5 L189.3 783.9 L183.5 795.3ZM204.7 794.5 L210.7 783.2 L208.9 783.2 L214.9 777.2 L213.4 785.6 L212.4 784 L206.4 795.3ZM227.6 794.5 L233.8 783.3 L232 783.3 L238.2 777.4 L236.4 785.8 L235.5 784.2 L229.3 795.3ZM250.6 794.4 L257.2 783.5 L255.3 783.4 L261.7 777.8 L259.7 786 L258.7 784.4 L252.2 795.4ZM273.5 794.4 L280.5 783.7 L278.6 783.6 L285.2 778.1 L282.9 786.3 L282 784.7 L275 795.4ZM90.2 820.7 L95.7 809.2 L93.9 809.4 L99.7 803.1 L98.4 811.6 L97.4 810 L91.8 821.6ZM113.1 820.7 L118.6 809.2 L116.8 809.4 L122.6 803.1 L121.4 811.6 L120.3 810 L114.7 821.6ZM136 820.7 L141.7 809.3 L139.8 809.4 L145.7 803.3 L144.4 811.7 L143.4 810.1 L137.6 821.6ZM158.9 820.7 L164.7 809.3 L162.8 809.4 L168.7 803.3 L167.3 811.7 L166.3 810.1 L160.6 821.6ZM181.8 820.7 L187.7 809.4 L185.9 809.5 L191.9 803.4 L190.4 811.8 L189.4 810.2 L183.5 821.6ZM204.7 820.7 L210.8 809.5 L209 809.5 L215.1 803.6 L213.4 811.9 L212.5 810.4 L206.4 821.6ZM227.6 820.7 L233.9 809.6 L232.1 809.6 L238.3 803.7 L236.5 812.1 L235.6 810.5 L229.3 821.6ZM250.6 820.7 L257.3 809.8 L255.4 809.7 L261.8 804.1 L259.7 812.4 L258.8 810.7 L252.2 821.6ZM273.5 820.6 L280.6 810 L278.7 809.9 L285.3 804.5 L282.9 812.7 L282.1 811 L275 821.7ZM90.2 847 L95.9 835.5 L94 835.7 L99.9 829.5 L98.6 837.9 L97.5 836.4 L91.8 847.8ZM113.1 847 L118.8 835.5 L116.9 835.7 L122.8 829.5 L121.5 837.9 L120.4 836.4 L114.7 847.8ZM136 847 L141.8 835.6 L139.9 835.7 L145.9 829.6 L144.5 838 L143.4 836.4 L137.6 847.8ZM158.9 847 L164.8 835.6 L162.9 835.7 L169 829.7 L167.5 838.1 L166.5 836.5 L160.5 847.8ZM181.8 847 L187.8 835.7 L186 835.7 L192 829.7 L190.5 838.1 L189.5 836.5 L183.5 847.8ZM204.7 847 L210.9 835.8 L209.1 835.8 L215.2 829.9 L213.5 838.3 L212.6 836.7 L206.4 847.8ZM227.7 846.9 L234 835.9 L232.2 835.9 L238.5 830.1 L236.6 838.4 L235.6 836.8 L229.3 847.9ZM250.6 846.9 L257.4 836.1 L255.5 836 L262 830.4 L259.8 838.7 L258.9 837 L252.1 847.9ZM273.5 846.9 L280.7 836.3 L278.8 836.1 L285.5 830.8 L283 839 L282.2 837.3 L275 847.9ZM90.2 873.2 L96 861.9 L94.2 861.9 L100.2 855.9 L98.7 864.3 L97.7 862.7 L91.8 874.1ZM113.1 873.2 L118.9 861.9 L117.1 861.9 L123.1 855.9 L121.6 864.3 L120.6 862.7 L114.7 874.1ZM136 873.2 L141.9 861.9 L140 862 L146.1 855.9 L144.6 864.3 L143.5 862.7 L137.6 874.1ZM158.9 873.2 L165 861.9 L163.1 862 L169.2 856 L167.6 864.4 L166.6 862.8 L160.5 874.1ZM181.8 873.2 L187.9 862 L186.1 862 L192.2 856.1 L190.5 864.4 L189.5 862.9 L183.4 874.1ZM204.7 873.2 L211 862.1 L209.2 862.1 L215.4 856.2 L213.6 864.6 L212.6 863 L206.4 874.1ZM227.7 873.2 L234.1 862.2 L232.3 862.1 L238.6 856.4 L236.7 864.7 L235.7 863.1 L229.3 874.1ZM250.6 873.2 L257.5 862.4 L255.6 862.3 L262.1 856.8 L259.9 865 L259 863.4 L252.1 874.1ZM273.5 873.1 L280.8 862.6 L278.9 862.4 L285.6 857.2 L283.1 865.3 L282.3 863.6 L275 874.2ZM90.2 899.5 L96.2 888.2 L94.3 888.2 L100.4 882.2 L98.8 890.6 L97.8 889 L91.8 900.3ZM113.1 899.5 L119.1 888.2 L117.2 888.2 L123.3 882.2 L121.7 890.6 L120.7 889 L114.7 900.3ZM136 899.5 L142 888.2 L140.1 888.2 L146.2 882.2 L144.6 890.6 L143.6 889 L137.6 900.3ZM158.9 899.5 L165.1 888.3 L163.3 888.3 L169.4 882.4 L167.7 890.8 L166.7 889.2 L160.5 900.3ZM181.8 899.5 L188 888.3 L186.2 888.3 L192.3 882.4 L190.6 890.8 L189.6 889.2 L183.4 900.3ZM204.7 899.4 L211.1 888.4 L209.3 888.4 L215.5 882.6 L213.7 890.9 L212.7 889.3 L206.3 900.4ZM227.7 899.4 L234.2 888.5 L232.4 888.4 L238.8 882.8 L236.7 891 L235.8 889.4 L229.2 900.4ZM250.6 899.4 L257.6 888.7 L255.7 888.6 L262.3 883.1 L260 891.3 L259.1 889.7 L252.1 900.4ZM273.5 899.4 L280.8 888.9 L279 888.7 L285.7 883.5 L283.2 891.6 L282.4 890 L275 900.4ZM296.4 899.3 L304.1 889.1 L302.3 888.9 L309.2 883.9 L306.4 892 L305.6 890.2 L297.9 900.5ZM90.2 925.7 L96.2 914.4 L94.4 914.5 L100.5 908.5 L98.9 916.9 L97.9 915.3 L91.8 926.6ZM113.1 925.7 L119.1 914.4 L117.3 914.5 L123.4 908.5 L121.8 916.9 L120.8 915.3 L114.7 926.6ZM136 925.7 L142.1 914.4 L140.2 914.5 L146.3 908.5 L144.7 916.9 L143.7 915.3 L137.6 926.6ZM158.9 925.7 L165.1 914.5 L163.3 914.5 L169.4 908.7 L167.7 917 L166.7 915.4 L160.5 926.6ZM181.8 925.7 L188.1 914.5 L186.2 914.6 L192.4 908.7 L190.7 917 L189.7 915.4 L183.4 926.6ZM204.7 925.7 L211.1 914.6 L209.3 914.6 L215.5 908.8 L213.7 917.2 L212.7 915.5 L206.3 926.6ZM227.7 925.7 L234.2 914.7 L232.4 914.7 L238.8 909 L236.7 917.3 L235.8 915.7 L229.2 926.6ZM250.6 925.6 L257.6 914.9 L255.7 914.8 L262.3 909.4 L260 917.6 L259.1 915.9 L252.1 926.7ZM273.5 925.6 L280.8 915.1 L279 915 L285.7 909.8 L283.2 917.9 L282.4 916.2 L275 926.7ZM90.2 952 L96.3 940.7 L94.4 940.8 L100.5 934.8 L98.9 943.2 L97.9 941.6 L91.8 952.8ZM113.1 952 L119.2 940.7 L117.3 940.8 L123.5 934.8 L121.8 943.2 L120.8 941.6 L114.7 952.8ZM136 952 L142.1 940.7 L140.2 940.8 L146.4 934.8 L144.7 943.2 L143.7 941.6 L137.6 952.8ZM158.9 952 L165.1 940.8 L163.3 940.8 L169.4 934.9 L167.7 943.3 L166.7 941.7 L160.5 952.8ZM181.8 951.9 L188.1 940.8 L186.3 940.8 L192.5 935 L190.7 943.3 L189.7 941.7 L183.4 952.9ZM204.7 951.9 L211.1 940.9 L209.3 940.9 L215.5 935.1 L213.7 943.4 L212.7 941.8 L206.3 952.9ZM227.7 951.9 L234.2 941 L232.4 940.9 L238.8 935.3 L236.7 943.5 L235.8 941.9 L229.2 952.9ZM250.6 951.9 L257.6 941.2 L255.7 941.1 L262.3 935.6 L260 943.8 L259.1 942.2 L252.1 952.9ZM273.5 951.9 L280.8 941.4 L279 941.2 L285.7 936 L283.2 944.1 L282.4 942.5 L275 952.9ZM90.2 978.2 L96.3 967 L94.5 967 L100.6 961.1 L98.9 969.5 L98 967.9 L91.8 979.1ZM113.1 978.2 L119.2 967 L117.4 967 L123.5 961.1 L121.8 969.5 L120.9 967.9 L114.7 979.1ZM136 978.2 L142.2 967 L140.3 967 L146.4 961.1 L144.8 969.5 L143.8 967.9 L137.6 979.1ZM158.9 978.2 L165.1 967 L163.3 967 L169.4 961.2 L167.7 969.5 L166.7 967.9 L160.5 979.1ZM181.8 978.2 L188.2 967.1 L186.3 967.1 L192.6 961.3 L190.7 969.6 L189.8 968 L183.4 979.1ZM204.7 978.2 L211.1 967.1 L209.3 967.1 L215.5 961.3 L213.7 969.7 L212.7 968 L206.3 979.1ZM227.7 978.2 L234.2 967.2 L232.4 967.2 L238.8 961.5 L236.7 969.8 L235.8 968.2 L229.2 979.1ZM250.6 978.1 L257.6 967.4 L255.7 967.3 L262.3 961.9 L260 970.1 L259.1 968.4 L252.1 979.2ZM273.5 978.1 L280.8 967.6 L279 967.5 L285.7 962.3 L283.2 970.4 L282.4 968.7 L275 979.2ZM90.2 1004.5 L96.4 993.3 L94.5 993.3 L100.7 987.4 L99 995.8 L98 994.2 L91.8 1005.3ZM113.1 1004.5 L119.3 993.3 L117.4 993.3 L123.6 987.4 L121.9 995.8 L120.9 994.2 L114.7 1005.3ZM136 1004.5 L142.2 993.3 L140.3 993.3 L146.5 987.4 L144.8 995.8 L143.8 994.2 L137.6 1005.3ZM158.9 1004.5 L165.1 993.3 L163.3 993.3 L169.4 987.4 L167.7 995.8 L166.7 994.2 L160.5 1005.3ZM181.8 1004.4 L188.2 993.4 L186.4 993.4 L192.6 987.6 L190.8 995.9 L189.8 994.3 L183.4 1005.4ZM204.7 1004.4 L211.1 993.4 L209.3 993.4 L215.5 987.6 L213.7 995.9 L212.7 994.3 L206.3 1005.4ZM227.7 1004.4 L234.2 993.5 L232.4 993.4 L238.8 987.8 L236.7 996 L235.8 994.4 L229.2 1005.4ZM250.6 1004.4 L257.6 993.7 L255.7 993.6 L262.3 988.1 L260 996.3 L259.1 994.7 L252.1 1005.4Z"/>
<path fill="#c0c0c0" d="M322.2 582.9 L322.2 584.9 L322.1 590.4 L320 592.7 L321.1 595 L320.7 598 L321.8 600.6 L320.7 604 L319.2 606.3 L321.1 609.3 L319.6 613 L318.4 616.8 L315.4 617.9 L315.8 622.1 L312.4 625.1 L313.9 628.9 L313.2 632.6 L309.4 637.2 L307.9 640.9 L304.9 642.1 L301.5 644.7 L300 648.5 L300.4 652.2 L296.5 655.9 L296.5 659.9 L299 663.9 L301.1 667.4 L301.9 671.2 L303 673.8 L307.1 675.7 L310.9 678.7 L311.3 682.5 L312.4 685.5 L310.9 690 L310.9 693.8 L313.5 698 L312 701.3 L311.3 708.1 L312 711.9 L313.5 715.9 L312 720.9 L310.2 722.4 L306.4 725.1 L307.5 727.7 L308.7 732.2 L307.9 736.8 L304.1 737.5 L301.9 739.8 L301 743.7 L297.6 745.9 L294.6 745.6 L293.5 741.8 L291.6 743.7 L290.1 749.7 L288.2 766.3 L287.8 774.6 L288.6 782.1 L290.1 789.6 L292 794.2 L291.2 800.2 L290.8 806.2 L292.7 812.2 L293.9 818.3 L294.6 824.4 L296.9 831.2 L297.5 839.3 L298.4 845.5 L301 849.3 L299.5 851.6 L297.6 854.2 L301.4 859.2 L300.3 865.1 L299.5 871.2 L298.8 877.2 L299.1 881.7 L302.1 883.2 L302.9 888.5 L306.3 892.6 L305.2 896.8 L303.3 900.4 L303.1 903.8 L305.1 908.7 L304.1 913.6 L300.7 915.5 L300.2 918.4 L298.3 921.4 L300.2 925.3 L299.7 929.2 L297.8 931.1 L296 934.9 L291 940.9 L286.6 941.9 L288 945.8 L289 951.6 L291.4 956.5 L291 959.4 L289 961.4 L289 966.2 L291.9 970.1 L294.4 973.1 L293.4 977.9 L291.9 983.8 L288.5 986.7 L283.6 988.7 L282.7 991.6 L281.2 997.5 L277.8 1003.3 L276.5 1004.9 L275.3 1006.9 L351 1009.9 L351 579.9Z"/>
<path fill="none" stroke="#000" stroke-width="1.9" stroke-linejoin="round" d="M322.2 582.9 L322.2 584.9 L322.1 590.4 L320 592.7 L321.1 595 L320.7 598 L321.8 600.6 L320.7 604 L319.2 606.3 L321.1 609.3 L319.6 613 L318.4 616.8 L315.4 617.9 L315.8 622.1 L312.4 625.1 L313.9 628.9 L313.2 632.6 L309.4 637.2 L307.9 640.9 L304.9 642.1 L301.5 644.7 L300 648.5 L300.4 652.2 L296.5 655.9 L296.5 659.9 L299 663.9 L301.1 667.4 L301.9 671.2 L303 673.8 L307.1 675.7 L310.9 678.7 L311.3 682.5 L312.4 685.5 L310.9 690 L310.9 693.8 L313.5 698 L312 701.3 L311.3 708.1 L312 711.9 L313.5 715.9 L312 720.9 L310.2 722.4 L306.4 725.1 L307.5 727.7 L308.7 732.2 L307.9 736.8 L304.1 737.5 L301.9 739.8 L301 743.7 L297.6 745.9 L294.6 745.6 L293.5 741.8 L291.6 743.7 L290.1 749.7 L289.5 754.9 L288.2 766.3 L287.8 774.6 L288.6 782.1 L290.1 789.6 L292 794.2 L291.2 800.2 L290.8 806.2 L292.7 812.2 L293.9 818.3 L294.6 824.4 L296.9 831.2 L297.5 839.3 L298.4 845.5 L301 849.3 L299.5 851.6 L297.6 854.2 L301.4 859.2 L300.3 865.1 L299.5 871.2 L298.8 877.2 L299.1 881.7 L302.1 883.2 L302.9 888.5 L306.3 892.6 L305.2 896.8 L303.3 900.4 L303.1 903.8 L305.1 908.7 L304.1 913.6 L300.7 915.5 L300.2 918.4 L298.3 921.4 L300.2 925.3 L299.7 929.2 L297.8 931.1 L296 934.9 L291 940.9 L286.6 941.9 L288 945.8 L289 951.6 L291.4 956.5 L291 959.4 L289 961.4 L289 966.2 L291.9 970.1 L294.4 973.1 L293.4 977.9 L291.9 983.8 L288.5 986.7 L283.6 988.7 L282.7 991.6 L281.2 997.5 L277.8 1003.3 L276.5 1004.9 L275.3 1006.9"/>
<path fill="none" stroke="#000" stroke-width="1.6" stroke-linejoin="round" d="M301.1 667.4 L307.1 667.4 L309.4 664.8 L313.9 667.4 L319.2 667.8 L320 675 L325.2 676.1 L326.4 679.9 L330.5 678 L332.8 667.4 L336.5 664.4 L344 664.8"/>
<path fill="none" stroke="#000" stroke-width="1.6" stroke-linejoin="round" d="M299.9 877.9 L302.1 876.1 L310.4 879.1 L315 876.8 L318 873.4 L320.2 876.4 L328.5 868.1 L334.6 869.6 L344 867.4"/>
<path fill="none" stroke="#000" stroke-width="1.6" stroke-linejoin="round" d="M344 929.7 L336.3 931.1 L329.5 934 L330 940.9 L331 947.7 L323.6 950.6 L317.8 951.6 L318.3 958.4 L311 964.3 L310.5 973.1 L305.1 981.9 L309 988.7 L298.3 988.7 L297.3 995.5 L288.5 1000.4 L281.7 998.4"/>
<path fill="none" stroke="#000" stroke-width="1.6" stroke-linejoin="round" d="M288.5 1000.4 L292 1005.9"/>
<ellipse cx="298.3" cy="673.2" rx="1.1" ry="1.6" fill="#000"/>
<ellipse cx="298.6" cy="695.1" rx="0.5" ry="0.9" fill="#000"/>
</g>
<circle cx="300.3" cy="660.4" r="4.7" fill="#ffd700" stroke="#000" stroke-width="1.9"/>
<circle cx="314.4" cy="717.4" r="4.7" fill="#ffd700" stroke="#000" stroke-width="1.9"/>
<circle cx="289.4" cy="759.4" r="4.7" fill="#ffd700" stroke="#000" stroke-width="1.9"/>
<circle cx="297.5" cy="839.3" r="4.7" fill="#ffd700" stroke="#000" stroke-width="1.9"/>
<circle cx="301.4" cy="859.2" r="4.7" fill="#ffd700" stroke="#000" stroke-width="1.9"/>
<circle cx="294.4" cy="939.4" r="4.7" fill="#ffd700" stroke="#000" stroke-width="1.9"/>
<rect x="91" y="584.9" width="252" height="420" fill="none" stroke="#000" stroke-width="1.6"/>
<text x="91.2" y="572.9" font-size="28" style="font-family:'DejaVu Sans','Liberation Sans',sans-serif">sáb 13-dic</text>
<line x1="84" y1="584.9" x2="91" y2="584.9" stroke="#000" stroke-width="1.6"/>
<text x="16.1" y="594.9" font-size="24" style="font-family:'DejaVu Sans','Liberation Sans',sans-serif">28°<tspan font-style="italic" dx="0.8">S</tspan></text>
<line x1="84" y1="654.9" x2="91" y2="654.9" stroke="#000" stroke-width="1.6"/>
<text x="16.1" y="664.9" font-size="24" style="font-family:'DejaVu Sans','Liberation Sans',sans-serif">29°<tspan font-style="italic" dx="0.8">S</tspan></text>
<line x1="84" y1="724.9" x2="91" y2="724.9" stroke="#000" stroke-width="1.6"/>
<text x="16.1" y="734.9" font-size="24" style="font-family:'DejaVu Sans','Liberation Sans',sans-serif">30°<tspan font-style="italic" dx="0.8">S</tspan></text>
<line x1="84" y1="794.9" x2="91" y2="794.9" stroke="#000" stroke-width="1.6"/>
<text x="16.1" y="804.9" font-size="24" style="font-family:'DejaVu Sans','Liberation Sans',sans-serif">31°<tspan font-style="italic" dx="0.8">S</tspan></text>
<line x1="84" y1="864.9" x2="91" y2="864.9" stroke="#000" stroke-width="1.6"/>
<text x="16.1" y="874.9" font-size="24" style="font-family:'DejaVu Sans','Liberation Sans',sans-serif">32°<tspan font-style="italic" dx="0.8">S</tspan></text>
<line x1="84" y1="934.9" x2="91" y2="934.9" stroke="#000" stroke-width="1.6"/>
<text x="16.1" y="944.9" font-size="24" style="font-family:'DejaVu Sans','Liberation Sans',sans-serif">33°<tspan font-style="italic" dx="0.8">S</tspan></text>
<line x1="84" y1="1004.9" x2="91" y2="1004.9" stroke="#000" stroke-width="1.6"/>
<text x="16.1" y="1014.9" font-size="24" style="font-family:'DejaVu Sans','Liberation Sans',sans-serif">34°<tspan font-style="italic" dx="0.8">S</tspan></text>
<line x1="151" y1="1004.9" x2="151" y2="1011.9" stroke="#000" stroke-width="1.6"/>
<text x="116" y="1038.7" font-size="24" style="font-family:'DejaVu Sans','Liberation Sans',sans-serif">74°<tspan font-style="italic" dx="1.0">W</tspan></text>
<line x1="271" y1="1004.9" x2="271" y2="1011.9" stroke="#000" stroke-width="1.6"/>
<text x="236" y="1038.7" font-size="24" style="font-family:'DejaVu Sans','Liberation Sans',sans-serif">72°<tspan font-style="italic" dx="1.0">W</tspan></text>
<g clip-path="url(#cp6)">
<rect x="451.8" y="584.9" width="252" height="420" fill="#009bdc"/>
<path fill="#009bd8" fill-rule="evenodd" d="M443.8 576.9 L692.6 576.9 L692.5 586.9 L691.5 594.9 L691.7 600.9 L690.3 612.9 L685.6 622.9 L684.1 630.9 L682.5 634.9 L672.5 646.9 L668.2 654.9 L666.9 658.9 L667.6 662.9 L670.6 670.9 L676.7 678.9 L678.1 682.9 L677 690.9 L677 698.9 L675.3 706.9 L675 716.9 L670.1 724.9 L669.7 726.9 L670.7 732.9 L670 734.9 L668.4 736.9 L663.4 740.9 L659.8 744.9 L657 750.9 L656.1 754.9 L657.6 772.9 L660.2 782.9 L664.7 794.9 L664.8 806.9 L669.9 830.9 L671.2 840.9 L672.6 846.9 L672.8 854.9 L674 862.9 L672.6 874.9 L672.8 878.9 L676.9 888.9 L677.9 892.9 L677.8 894.9 L675.8 902.9 L676 908.9 L675.5 910.9 L671 918.9 L669.1 928.9 L666.9 932.9 L659.7 940.9 L657.3 944.9 L657.1 946.9 L658.6 956.9 L657.2 964.9 L660.1 972.9 L660.2 976.9 L658 982.9 L653.2 988.9 L651 992.9 L649.6 998.9 L646.5 1006.9 L645.8 1012.9 L443.8 1012.9Z"/>
<path fill="#00a2c9" fill-rule="evenodd" d="M443.8 576.9 L689.4 576.9 L689.2 586.9 L688.3 594.9 L688.4 600.9 L687.1 612.9 L682.3 622.9 L680.8 630.9 L679.2 634.9 L676.4 638.9 L669.3 646.9 L664.1 656.9 L663.6 658.9 L664.4 662.9 L667.3 670.9 L673.4 678.9 L674.8 682.9 L673.7 690.9 L673.7 698.9 L672 706.9 L671.7 716.9 L670.9 718.9 L666.9 724.9 L666.4 726.9 L667.4 732.9 L666.7 734.9 L656.6 744.9 L653.7 750.9 L652.8 754.9 L654.3 772.9 L656.3 780.9 L661.5 794.9 L661.5 806.9 L666.6 830.9 L667.9 840.9 L669.4 846.9 L669.6 854.9 L670.7 862.9 L669.3 874.9 L669.6 878.9 L673.6 888.9 L674.6 892.9 L674.6 894.9 L672.5 902.9 L672.7 908.9 L672.3 910.9 L667.7 918.9 L665.8 928.9 L662.2 934.9 L655.1 942.9 L654.1 944.9 L653.8 946.9 L655.4 956.9 L654 964.9 L656.8 972.9 L656.9 976.9 L654.8 982.9 L649.8 989.3 L647.7 992.9 L646.3 998.9 L642.7 1008.9 L642.5 1012.9 L443.8 1012.9Z"/>
<path fill="#00a6bf" fill-rule="evenodd" d="M443.8 576.9 L687.1 576.9 L686.9 586.9 L685.9 594.9 L686.1 600.9 L684.8 612.9 L680 622.9 L678.5 630.9 L677 634.9 L674.3 638.9 L665.8 648.9 L661.8 656.8 L661.3 658.9 L661.8 662.2 L664.1 668.9 L665.8 672 L671.2 678.9 L672.3 682.9 L671.3 690.9 L671.3 698.9 L669.5 706.9 L669.3 716.9 L664.4 724.9 L663.8 726.9 L664.9 732.9 L664.2 734.9 L662.8 736.9 L655.8 742.9 L654.3 744.9 L651.8 749.7 L650.4 754.9 L651.8 772 L653.8 780.5 L659.2 794.9 L659.3 806.9 L664.4 830.9 L665.8 841.7 L667.1 846.9 L667.3 854.9 L668.5 862.9 L667 876.9 L667.8 880.6 L671.4 888.9 L672.3 892.9 L672.3 894.9 L670.2 902.9 L670.4 908.9 L669.9 910.9 L665.5 918.9 L663.6 928.9 L660 934.9 L652.9 942.9 L651.7 944.9 L651.5 946.9 L653.1 956.9 L651.7 964.9 L654.5 972.9 L654.6 976.9 L652.5 982.9 L647.8 989 L645.4 992.9 L643.4 1000.9 L640.5 1008.9 L640.2 1012.9 L443.8 1012.9Z"/>
<path fill="#00aaae" fill-rule="evenodd" d="M443.8 576.9 L685.6 576.9 L684.9 600.9 L683.4 612.9 L678.8 622.9 L676.7 632.9 L673 638.9 L665.6 646.9 L661.4 654.9 L659.9 658.9 L660.1 660.9 L663.5 670.9 L669.6 678.9 L671 682.9 L669.7 690.9 L669.7 698.9 L667.8 708.9 L667.7 716.9 L667 718.9 L662.9 724.9 L662.4 726.9 L663.3 732.9 L662.8 734.9 L661.3 736.9 L655.8 741.6 L652.8 744.9 L649.2 752.9 L649.5 764.9 L651 774.9 L653.8 784.4 L656.6 790.9 L657.8 794.9 L657.8 806.5 L663.1 830.9 L665.7 846.9 L665.9 854.9 L667.2 862.9 L665.7 872.9 L665.8 878.3 L670.1 888.9 L671.1 892.9 L670.6 896.9 L669.2 900.9 L668.8 910.9 L663.8 919.8 L662.3 928.9 L658.8 934.9 L651.8 942.5 L650.6 944.9 L650.3 946.9 L651.6 956.9 L650.5 964.9 L653.2 972.9 L653.3 976.9 L651.2 982.9 L645.8 990 L644.1 992.9 L642.8 998.9 L639.6 1006.9 L639 1012.9 L443.8 1012.9Z"/>
<path fill="#00aca3" fill-rule="evenodd" d="M443.8 576.9 L684.8 576.9 L684.7 586.9 L683.7 594.9 L683.9 600.9 L682.6 612.9 L677.8 622.9 L676.3 630.9 L674.7 634.9 L671.9 638.9 L664.8 646.9 L659.8 656.2 L659 658.9 L659.7 662.9 L662.6 670.9 L668.7 678.9 L669.9 682.9 L668.8 690.9 L668.8 698.9 L667 706.9 L666.6 716.9 L661.7 724.9 L661.3 726.9 L662.3 732.9 L661.6 734.9 L660.2 736.9 L655.3 740.9 L651.6 744.9 L648.8 750.9 L647.9 754.9 L648.8 766.9 L650 774.9 L651.8 781.3 L656.9 794.9 L657 806.9 L662.2 830.9 L663.4 840.9 L664.8 846.9 L665 854.9 L666.3 862.9 L664.7 874.9 L665 878.9 L669.1 888.9 L670.1 892.9 L670.1 894.9 L668 902.9 L668.2 908.9 L667.7 910.9 L663.2 918.9 L661.3 928.9 L659.2 932.9 L651.8 941.2 L649.8 944.4 L649.3 946.9 L650.8 956.9 L649.4 964.9 L652.3 972.9 L652.4 976.9 L650.3 982.9 L645.5 988.9 L643.2 992.9 L641.7 998.9 L638.7 1006.9 L638 1012.9 L443.8 1012.9Z"/>
<path fill="#00ab96" fill-rule="evenodd" d="M443.8 576.9 L684 576.9 L683.8 586.9 L682.9 594.9 L683.1 600.9 L681.7 612.9 L677 622.9 L675.5 630.9 L673.9 634.9 L671 638.9 L663.9 646.9 L659.5 654.9 L658.2 658.9 L658.9 662.9 L661.7 670.9 L667.7 678.9 L669.1 682.9 L667.9 690.9 L667.8 698.9 L666.1 706.9 L665.7 716.9 L664.9 718.9 L660.8 724.9 L660.4 726.9 L661.3 732.9 L660.8 734.9 L650.7 744.9 L647.2 752.9 L647.5 762.9 L648.8 772.9 L651.5 782.9 L656.1 794.9 L656.2 806.9 L661.3 830.9 L662.6 840.9 L664 846.9 L664.2 854.9 L665.4 862.9 L663.9 876.9 L664.9 880.9 L668.3 888.9 L669.3 892.9 L669.2 894.9 L667.2 902.9 L667 910.9 L662.4 918.9 L660.5 928.9 L656.8 934.9 L649.6 942.9 L648.7 944.9 L648.8 948.9 L650 956.9 L648.7 964.9 L651.4 972.9 L651.5 976.9 L649.4 982.9 L643.8 990.1 L642.4 992.9 L641 998.9 L637.8 1007.5 L637.2 1012.9 L443.8 1012.9Z"/>
<path fill="#00ab8d" fill-rule="evenodd" d="M443.8 576.9 L683.2 576.9 L683.1 586.9 L682.2 594.9 L682.3 600.9 L680.9 612.9 L676.2 622.9 L674.7 630.9 L673.1 634.9 L670.2 638.9 L663.1 646.9 L658.8 654.9 L657.4 658.9 L658.1 662.9 L660.9 670.9 L666.9 678.9 L668.3 682.9 L667.1 690.9 L667 698.9 L665.2 706.9 L664.9 716.9 L659.9 724.9 L659.5 726.9 L660.5 732.9 L659.9 734.9 L658.3 736.9 L653.3 740.9 L649.8 744.9 L646.4 752.9 L646.8 762.9 L648 772.9 L650.7 782.9 L655.3 794.9 L655.4 806.9 L660.6 830.9 L661.8 840.9 L663.2 846.9 L663.4 854.9 L664.7 862.9 L663.2 874.9 L663.4 878.9 L667.5 888.9 L668.5 892.9 L668.5 894.9 L666.4 902.9 L666.6 908.9 L666.2 910.9 L661.6 918.9 L659.7 928.9 L657.5 932.9 L650.3 940.9 L648 944.9 L647.7 946.9 L649.2 956.9 L647.9 964.9 L650.7 972.9 L650.8 976.9 L648.6 982.9 L643.8 989 L641.6 992.9 L640.2 998.9 L637.1 1006.9 L636.4 1012.9 L443.8 1012.9Z"/>
<path fill="#00a873" fill-rule="evenodd" d="M443.8 576.9 L682.5 576.9 L682.3 586.9 L681.4 594.9 L681.5 600.9 L680.2 612.9 L675.4 622.9 L674 630.9 L672.3 634.9 L662.3 646.9 L658 654.9 L656.6 658.9 L657.3 662.9 L660.1 670.9 L666.1 678.9 L667.5 682.9 L666.3 690.9 L666.3 698.9 L664.5 706.9 L664 716.9 L659.1 724.9 L658.7 726.9 L659.7 732.9 L659 734.9 L657.4 736.9 L652.5 740.9 L649 744.9 L645.6 752.9 L646 762.9 L647.2 772.9 L649.2 780.9 L654.6 794.9 L654.6 806.9 L659.8 830.9 L661.1 840.9 L662.5 846.9 L662.7 854.9 L663.9 862.9 L662.4 874.9 L662.7 878.9 L666.7 888.9 L667.8 892.9 L667.7 894.9 L665.7 902.9 L665.8 908.9 L665.4 910.9 L660.8 918.9 L658.9 928.9 L656.7 932.9 L649.5 940.9 L647.2 944.9 L646.9 946.9 L648.5 956.9 L647.1 964.9 L649.9 972.9 L650 976.9 L647.9 982.9 L643 988.9 L640.8 992.9 L639.4 998.9 L636.4 1006.9 L635.7 1012.9 L443.8 1012.9Z"/>
<path fill="#00a246" fill-rule="evenodd" d="M443.8 576.9 L681.7 576.9 L681.6 586.9 L680.6 594.9 L680.7 600.9 L679.4 612.9 L674.6 622.9 L673.2 630.9 L671.8 634.4 L669.8 637.5 L661.5 646.9 L657.1 654.9 L655.8 658.9 L656.5 662.9 L659.3 670.9 L665.3 678.9 L666.6 682.9 L665.5 690.9 L665.4 698.9 L663.6 706.9 L663.2 716.9 L658.2 724.9 L657.9 726.9 L658.8 732.9 L658.2 734.9 L656.5 736.9 L651.6 740.9 L648.2 744.9 L644.8 752.9 L645 760.9 L646.3 772.9 L649.1 782.9 L653.8 794.9 L653.9 806.9 L659.4 832.9 L660.3 840.9 L661.7 846.9 L661.9 854.9 L663.1 862.9 L661.7 874.9 L661.9 878.9 L666 888.9 L666.9 892.9 L666.9 894.9 L664.8 902.9 L665 908.9 L664.6 910.9 L660 918.9 L658.1 928.9 L655.9 932.9 L648.6 940.9 L646.4 944.9 L646.4 948.9 L647.7 956.9 L646.3 964.9 L649.1 972.9 L649.2 976.9 L647 982.9 L640.8 990.9 L638.6 998.9 L635.6 1006.9 L634.8 1012.9 L443.8 1012.9Z"/>
<path fill="#009e29" fill-rule="evenodd" d="M443.8 576.9 L680.8 576.9 L680.7 586.9 L679.7 594.9 L679.9 600.9 L678.5 612.9 L673.8 622.9 L671.6 632.9 L669.3 636.9 L660.6 646.9 L656.3 654.9 L654.9 658.9 L655.6 662.9 L658.4 670.9 L664.4 678.9 L665.8 682.9 L664.6 690.9 L664.5 698.9 L662.7 706.9 L662.3 716.9 L657.3 724.9 L656.9 726.9 L658 732.9 L657.3 734.9 L655.6 736.9 L650.7 740.9 L647.3 744.9 L643.9 752.9 L644.3 762.9 L645.5 772.9 L648.2 782.9 L652.9 794.9 L653 806.9 L658.1 830.9 L659.4 840.9 L660.8 846.9 L661 854.9 L662.2 862.9 L660.8 874.9 L661 878.9 L665.1 888.9 L666.1 892.9 L666 894.9 L664 902.9 L663.7 910.9 L659.1 918.9 L657.3 928.9 L653.8 934.6 L647.8 940.9 L645.8 944.4 L645.3 946.9 L646.8 956.9 L645.4 964.9 L648.2 972.9 L648.3 976.9 L646.2 982.9 L641.3 988.9 L639.1 992.9 L637.8 998.9 L634.7 1006.9 L634 1012.9 L443.8 1012.9Z"/>
<path fill="#009a00" fill-rule="evenodd" d="M443.8 576.9 L679.9 576.9 L679.8 586.9 L678.7 594.9 L678.9 600.9 L677.6 612.9 L672.8 622.9 L671.4 630.9 L669.8 634.8 L659.7 646.9 L655.3 654.9 L654 658.9 L654.6 662.9 L657.5 670.9 L663.5 678.9 L664.8 682.9 L663.7 690.9 L663.6 698.9 L661.8 706.9 L661.4 716.9 L656.4 724.9 L656 726.9 L657 732.9 L656.3 734.9 L654.6 736.9 L649.7 740.9 L646.3 744.9 L642.9 752.9 L643.2 760.9 L644.5 772.9 L646.6 780.9 L652 794.9 L652 806.9 L657.6 832.9 L658.4 840.9 L659.9 846.9 L660.1 854.9 L661.3 862.9 L659.8 874.9 L660.1 878.9 L664.1 888.9 L665.1 892.9 L665.1 894.9 L663 902.9 L663.2 908.9 L662.8 910.9 L658.2 918.9 L656.3 928.9 L652.5 934.9 L645.4 942.9 L644.6 944.9 L644.6 948.9 L645.9 956.9 L644.5 964.9 L647.3 972.9 L647.4 976.9 L645.2 982.9 L640.4 988.9 L638.2 992.9 L636.8 998.9 L633.3 1008.9 L633 1012.9 L443.8 1012.9Z"/>
<path fill="#00a400" fill-rule="evenodd" d="M443.8 576.9 L678.8 576.9 L678.7 586.9 L677.8 594.9 L677.9 600.9 L676.5 612.9 L671.8 622.9 L669.7 632.9 L667.3 636.9 L658.6 646.9 L654.3 654.9 L652.9 658.9 L653.6 662.9 L656.4 670.9 L662.4 678.9 L663.8 682.9 L662.6 690.9 L662.5 698.9 L660.7 706.9 L660.3 716.9 L655.3 724.9 L654.9 726.9 L656 732.9 L655.3 734.9 L646.8 742.9 L644.3 746.9 L641.9 752.9 L642.3 762.9 L643.5 772.9 L646.2 782.9 L650.9 794.9 L651 806.9 L656.1 830.9 L657.4 840.9 L658.8 846.9 L659 854.9 L660.2 862.9 L658.8 874.9 L659 878.9 L663.1 888.9 L664.1 892.9 L664.1 894.9 L662 902.9 L661.8 910.9 L657.2 918.9 L655.3 928.9 L651.5 934.9 L645.8 940.9 L643.5 944.9 L643.3 946.9 L644.8 956.9 L643.4 964.9 L646.3 972.9 L646.4 976.9 L644.2 982.9 L639.3 988.9 L637.2 992.9 L635.8 998.9 L632.7 1006.9 L632 1012.9 L443.8 1012.9Z"/>
<path fill="#00ad00" fill-rule="evenodd" d="M443.8 576.9 L677.7 576.9 L677.5 586.9 L676.5 594.9 L676.7 600.9 L675.4 612.9 L670.6 622.9 L669.1 630.9 L667.8 634.4 L666.2 636.9 L657.4 646.9 L653.1 654.9 L651.8 658.9 L652.4 662.9 L655.2 670.9 L661.2 678.9 L662.6 682.9 L661.5 690.9 L661.4 698.9 L659.6 706.9 L659.1 716.9 L654.2 724.9 L653.8 726.9 L654.8 732.9 L654.1 734.9 L647.5 740.9 L644.1 744.9 L640.7 752.9 L640.9 760.9 L642.3 772.9 L645 782.9 L649.8 794.9 L649.9 806.9 L655.4 832.9 L656.2 840.9 L657.7 846.9 L657.9 854.9 L659.1 862.9 L657.7 874.9 L657.9 878.9 L662 888.9 L662.9 892.9 L662.9 894.9 L660.8 902.9 L661 908.9 L660.5 910.9 L656 918.9 L654.1 928.9 L650.3 934.9 L644.6 940.9 L642.4 944.9 L642.4 948.9 L643.7 956.9 L642.3 964.9 L645.1 972.9 L645.2 976.9 L643 982.9 L636.8 990.9 L634.6 998.9 L631.6 1006.9 L630.8 1012.9 L443.8 1012.9Z"/>
<path fill="#00b500" fill-rule="evenodd" d="M443.8 576.9 L676.2 576.9 L676.1 586.9 L675.1 592.9 L675 600.9 L674 612.9 L668.9 622.9 L667.8 630.9 L666.1 634.9 L656.1 646.9 L650.8 656.9 L650.4 658.9 L651 662.9 L653.9 670.9 L659.9 678.9 L661.2 682.9 L660.1 690.9 L660 698.9 L658.2 706.9 L657.8 716.9 L652.7 724.9 L652.4 726.9 L653.4 732.9 L652.7 734.9 L646 740.9 L642.7 744.9 L639.4 752.9 L639.4 758.9 L641 772.9 L643 780.9 L648.4 794.9 L648.5 806.9 L653.8 831.5 L654.9 840.9 L656.3 846.9 L656.5 854.9 L657.7 862.9 L656.3 874.9 L656.5 878.9 L660.6 888.9 L661.6 892.9 L661.5 894.9 L659.5 902.9 L659.7 908.9 L659.2 910.9 L654.6 918.9 L653.4 926.9 L651.8 930.9 L649 934.9 L643.3 940.9 L641 944.9 L640.8 946.9 L641.5 950.9 L642.3 956.9 L640.9 964.9 L643.8 972.9 L643.9 976.9 L641.7 982.9 L636.8 988.9 L634.7 992.9 L633.3 998.9 L630.3 1006.9 L629.5 1012.9 L443.8 1012.9Z"/>
<path fill="#00be00" fill-rule="evenodd" d="M443.8 576.9 L594.1 576.9 L592.2 582.9 L592.6 584.9 L593.9 586.9 L601.8 591.3 L611.8 594.5 L615.8 596.4 L623.8 600.5 L630.3 604.9 L637.6 610.9 L644.6 618.9 L651.2 628.9 L654.6 640.9 L654.8 644.9 L648.9 656.9 L648.7 660.9 L652.1 670.9 L658.1 678.9 L659 680.9 L659.4 682.9 L658.2 690.9 L658.2 698.9 L656.4 706.9 L656 716.9 L650.9 724.9 L650.6 726.9 L651.7 732.9 L650.9 734.9 L649.2 736.9 L644.3 740.9 L640.9 744.9 L638.3 750.9 L637.6 754.9 L638.4 766.9 L640.2 776.9 L646.8 794.9 L646.9 806.9 L652.4 832.9 L653.4 840.9 L654.7 846.9 L654.9 854.9 L656.1 860.9 L654.6 876.9 L655.6 880.9 L659.6 890.9 L660 894.9 L658.2 900.9 L657.7 910.9 L653.1 918.9 L651.2 928.9 L647.8 934.5 L641.8 940.9 L639.5 944.9 L639.2 946.9 L640.7 956.9 L639.8 961.8 L639.4 964.9 L642.2 972.9 L642.3 976.9 L640.1 982.9 L635.3 988.9 L633.2 992.9 L631.8 998.9 L628.8 1006.9 L628.1 1012.9 L443.8 1012.9Z"/>
<path fill="#00c700" fill-rule="evenodd" d="M443.8 608.9 L443.8 607.2 L448.5 610.9 L451.8 612.3 L489.8 611.9 L499.8 609.9 L503.8 610.1 L511.8 611.9 L529.8 611.9 L537.8 613.7 L549.8 614.1 L555.8 615.7 L563.8 616.1 L569.8 617.7 L575.8 618.6 L593.8 624.5 L604.6 628.9 L615.8 634.5 L623.8 640 L629.8 645.9 L634.6 650.9 L640.1 658.9 L642.1 662.9 L648.1 680.9 L648.9 688.9 L650.6 694.9 L650.9 700.9 L653.6 710.9 L653.8 714.9 L652.5 718.9 L648.4 724.9 L648 726.9 L649.1 732.9 L648.4 734.9 L641.9 740.9 L638.6 744.9 L635.4 752.9 L635.4 756.9 L636.5 768.9 L638.2 776.9 L645 794.9 L645 806.9 L650.5 832.9 L651.5 840.9 L652.9 846.9 L653.1 854.9 L654.2 860.9 L652.8 876.9 L658.1 892.9 L658.1 894.9 L656.1 902.9 L655.8 910.9 L651.2 918.9 L649.3 928.9 L645.6 934.9 L639.9 940.9 L637.6 944.9 L637.4 946.9 L638.8 956.9 L637.6 962.9 L637.9 966.9 L640.3 972.9 L640.4 976.9 L638.2 982.9 L633.6 988.9 L631.5 992.9 L630.2 998.9 L626.8 1008.9 L626.6 1012.9 L443.8 1012.9Z"/>
<path fill="#00d100" fill-rule="evenodd" d="M443.8 650.9 L451.8 655.2 L455.8 655.9 L465.8 655.7 L473.8 653.9 L519.8 654.1 L525.8 655.7 L533.8 656.5 L549.8 660.5 L561.8 664.5 L577.8 670.5 L587.8 675.3 L593.8 677.5 L611.8 688.5 L626.6 702.9 L634.1 714.9 L640.1 728.9 L642.3 736.9 L636.6 742.9 L634.3 746.9 L632.2 752.9 L632.7 760.9 L634.9 774.9 L636.8 780.9 L642.6 794.9 L642.7 806.9 L647.9 830.9 L649.2 840.9 L650.6 846.9 L650.8 854.9 L652 860.9 L650.5 876.9 L650.8 878.9 L654.9 888.9 L655.9 892.9 L655.8 895.6 L654.1 900.9 L653.5 910.9 L648.9 918.9 L647 928.9 L643.8 934.2 L637.6 940.9 L635.2 944.9 L635 946.9 L636.5 956.9 L635.1 964.9 L637.8 972.3 L638.2 974.9 L637.8 978 L635.9 982.9 L630.2 990.9 L628.4 998.9 L625.3 1008.9 L625.1 1012.9 L443.8 1012.9Z"/>
<path fill="#00db05" fill-rule="evenodd" d="M443.8 692.9 L447.8 695.1 L453.8 695.9 L469.8 695.9 L479.8 693.9 L523.8 693.9 L535.8 696.1 L545.8 698.5 L567.8 706.5 L591.8 718.5 L606.3 728.9 L613.8 735.8 L618.2 738.9 L625.8 748.6 L626.5 750.9 L626.6 754.9 L628.2 764.9 L630.6 774.9 L632.8 780.9 L639.3 794.9 L639.6 806.9 L644.1 828.9 L645.1 838.9 L647.8 848.9 L647.9 854.9 L649.1 860.9 L647.8 876.9 L648.7 880.9 L652.1 888.9 L653 892.9 L652.9 894.9 L650.8 902.9 L650.5 910.9 L645.9 918.9 L643.9 928.9 L641.6 932.9 L634.4 940.9 L632 944.9 L631.8 946.9 L633.2 956.9 L631.7 964.9 L634.7 974.9 L634 978.9 L631.4 984.9 L628.6 988.9 L627 992.9 L626.4 998.9 L623.7 1008.9 L623.4 1012.9 L443.8 1012.9Z"/>
<path fill="#00e50a" fill-rule="evenodd" d="M443.8 734.9 L451.8 739.2 L455.8 739.9 L461.8 739.7 L469.8 737.9 L521.8 738.1 L527.8 739.7 L535.8 740.5 L549.8 744.5 L565.8 751.4 L584.3 762.9 L593.8 770 L599.8 775.8 L606.7 780.9 L610.6 784.9 L614.9 790.9 L620.1 796.9 L624.1 802.9 L632.1 818.9 L634 824.9 L634.9 830.9 L636.5 836.9 L636.9 844.9 L638.7 852.9 L638.7 882.9 L636.8 892.9 L636.5 922.9 L634.9 928.9 L634.3 934.9 L633.3 936.9 L628.3 942.9 L627.5 944.9 L627.2 946.9 L628.5 956.9 L627 964.9 L629.4 972.9 L629.4 976.9 L627.8 982.9 L623.6 990.9 L623 998.9 L620.7 1008.9 L620.6 1012.9 L443.8 1012.9Z"/>
<path fill="#00ef0f" fill-rule="evenodd" d="M443.8 772.9 L447.8 775.1 L455.8 777.7 L481.8 778.1 L487.8 779.7 L493.8 780.1 L499.8 781.7 L503.8 782.1 L521.8 786.5 L545.8 794.5 L556.6 798.9 L564.3 802.9 L574.7 810.9 L591.8 828.4 L600.1 840.9 L606.1 852.9 L614.1 876.9 L618.6 894.9 L618.9 900.9 L620.6 906.9 L620.7 920.9 L618.9 928.9 L618.5 936.9 L617.8 939.7 L615 944.9 L614.7 946.9 L615.5 954.9 L614.3 964.9 L615.9 972.9 L613.7 984.9 L611.2 990.9 L610.7 1000.9 L608.9 1008.9 L608.7 1012.9 L443.8 1012.9Z"/>
<path fill="#00fc14" fill-rule="evenodd" d="M443.8 836.9 L451.8 839.7 L463.8 840.1 L471.8 841.9 L483.8 842.1 L489.8 843.7 L497.8 844.1 L503.8 845.7 L509.8 846.1 L519.8 848.5 L525.8 850.5 L537.8 856.5 L547.8 864 L558.6 874.9 L562.3 880.9 L578.1 912.9 L582.1 924.9 L582.9 930.9 L584.6 936.9 L584.7 980.9 L582.9 988.9 L582.8 992.9 L582.8 1006.9 L583.8 1011.9 L584.1 1012.9 L443.8 1012.9Z"/>
<path fill="#28fc00" fill-rule="evenodd" d="M443.8 914.9 L443.8 914.1 L451.8 915.9 L479.8 915.9 L491.8 918.5 L497.8 920.5 L509.8 926.5 L520.7 936.9 L523.8 940.4 L528 946.9 L532.1 956.9 L536.6 974.9 L536.9 982.9 L538.6 988.9 L538.9 1004.9 L540.7 1012.9 L443.8 1012.9Z"/>
<path fill="#64fb00" fill-rule="evenodd" d="M443.8 994.9 L443.8 994.1 L449.8 995.7 L459.8 996.1 L469.8 998.8 L472.1 1000.9 L474.1 1004.9 L474.7 1012.9 L443.8 1012.9Z"/>
<path fill="#000" fill-opacity="0.5" d="M450.9 584.5 L455.9 572.8 L454 573 L459.6 566.5 L458.7 575 L457.6 573.5 L452.6 585.3ZM473.8 584.5 L478.8 572.8 L477 573 L482.5 566.5 L481.6 575 L480.5 573.5 L475.5 585.3ZM496.7 584.5 L501.7 572.8 L499.9 573 L505.4 566.5 L504.5 575 L503.4 573.5 L498.4 585.3ZM519.6 584.5 L524.6 572.8 L522.8 573 L528.3 566.5 L527.5 575 L526.3 573.5 L521.3 585.3ZM542.5 584.5 L547.5 572.8 L545.7 573 L551.2 566.5 L550.4 575 L549.2 573.5 L544.2 585.3ZM565.4 584.5 L570.4 572.8 L568.6 573 L574.1 566.5 L573.3 575 L572.1 573.5 L567.1 585.3ZM588.4 584.5 L593.3 572.8 L591.5 573 L597 566.5 L596.2 575 L595.1 573.5 L590.1 585.3ZM611.3 584.5 L616.3 572.8 L614.4 573 L619.9 566.5 L619.1 575 L618 573.5 L613 585.3ZM634.2 584.5 L639.2 572.8 L637.3 573 L642.8 566.5 L642 575 L640.9 573.5 L635.9 585.3ZM657.1 584.5 L662.1 572.8 L660.2 573 L665.7 566.5 L664.9 575 L663.8 573.5 L658.8 585.3ZM450.9 610.8 L455.9 599 L454 599.2 L459.6 592.7 L458.7 601.2 L457.6 599.7 L452.6 611.5ZM473.8 610.8 L478.8 599 L477 599.2 L482.5 592.7 L481.6 601.2 L480.5 599.7 L475.5 611.5ZM496.7 610.8 L501.7 599 L499.9 599.2 L505.4 592.7 L504.5 601.2 L503.4 599.7 L498.4 611.5ZM519.6 610.8 L524.6 599 L522.8 599.2 L528.3 592.7 L527.5 601.2 L526.3 599.7 L521.3 611.5ZM542.5 610.8 L547.5 599 L545.7 599.2 L551.2 592.7 L550.4 601.2 L549.2 599.7 L544.2 611.5ZM565.4 610.8 L570.4 599 L568.6 599.2 L574.1 592.7 L573.3 601.2 L572.1 599.7 L567.1 611.5ZM588.4 610.8 L593.3 599 L591.5 599.2 L597 592.7 L596.2 601.2 L595.1 599.7 L590.1 611.5ZM611.3 610.8 L616.3 599 L614.4 599.2 L619.9 592.7 L619.1 601.2 L618 599.7 L613 611.5ZM634.2 610.8 L639.2 599 L637.3 599.2 L642.8 592.7 L642 601.2 L640.9 599.7 L635.9 611.5ZM657.1 610.8 L662.1 599 L660.3 599.2 L665.8 592.8 L664.9 601.2 L663.8 599.8 L658.8 611.5ZM450.9 637 L455.9 625.3 L454 625.5 L459.6 619 L458.7 627.5 L457.6 626 L452.6 637.8ZM473.8 637 L478.8 625.3 L477 625.5 L482.5 619 L481.6 627.5 L480.5 626 L475.5 637.8ZM496.7 637 L501.7 625.3 L499.9 625.5 L505.4 619 L504.5 627.5 L503.4 626 L498.4 637.8ZM519.6 637 L524.6 625.3 L522.8 625.5 L528.3 619 L527.5 627.5 L526.3 626 L521.3 637.8ZM542.5 637 L547.5 625.3 L545.7 625.5 L551.2 619 L550.4 627.5 L549.2 626 L544.2 637.8ZM565.4 637 L570.4 625.3 L568.6 625.5 L574.1 619 L573.3 627.5 L572.1 626 L567.1 637.8ZM588.4 637 L593.3 625.3 L591.5 625.5 L597 619 L596.2 627.5 L595.1 626 L590.1 637.8ZM611.3 637 L616.3 625.3 L614.4 625.5 L619.9 619 L619.1 627.5 L618 626 L613 637.8ZM634.2 637 L639.2 625.3 L637.3 625.5 L642.8 619 L642 627.5 L640.9 626 L635.9 637.8ZM657.1 637 L662.2 625.3 L660.3 625.5 L665.9 619 L665 627.5 L663.9 626 L658.8 637.8ZM450.9 663.3 L455.9 651.5 L454 651.7 L459.6 645.2 L458.7 653.7 L457.6 652.2 L452.6 664ZM473.8 663.3 L478.8 651.5 L477 651.7 L482.5 645.2 L481.6 653.7 L480.5 652.2 L475.5 664ZM496.7 663.3 L501.7 651.5 L499.9 651.7 L505.4 645.2 L504.5 653.7 L503.4 652.2 L498.4 664ZM519.6 663.3 L524.6 651.5 L522.8 651.7 L528.3 645.2 L527.5 653.7 L526.3 652.2 L521.3 664ZM542.5 663.3 L547.5 651.5 L545.7 651.7 L551.2 645.2 L550.4 653.7 L549.2 652.2 L544.2 664ZM565.4 663.3 L570.4 651.5 L568.6 651.7 L574.1 645.2 L573.3 653.7 L572.1 652.2 L567.1 664ZM588.4 663.3 L593.3 651.5 L591.5 651.7 L597 645.2 L596.2 653.7 L595.1 652.2 L590.1 664ZM611.3 663.3 L616.3 651.5 L614.4 651.7 L619.9 645.2 L619.1 653.7 L618 652.2 L613 664ZM634.2 663.3 L639.2 651.5 L637.3 651.7 L642.8 645.2 L642 653.7 L640.9 652.2 L635.9 664ZM450.9 689.5 L455.9 677.8 L454 678 L459.6 671.5 L458.7 680 L457.6 678.5 L452.6 690.3ZM473.8 689.5 L478.8 677.8 L477 678 L482.5 671.5 L481.6 680 L480.5 678.5 L475.5 690.3ZM496.7 689.5 L501.7 677.8 L499.9 678 L505.4 671.5 L504.5 680 L503.4 678.5 L498.4 690.3ZM519.6 689.5 L524.6 677.8 L522.8 678 L528.3 671.5 L527.5 680 L526.3 678.5 L521.3 690.3ZM542.5 689.5 L547.5 677.8 L545.7 678 L551.2 671.5 L550.4 680 L549.2 678.5 L544.2 690.3ZM565.4 689.5 L570.4 677.8 L568.6 678 L574.1 671.5 L573.3 680 L572.1 678.5 L567.1 690.3ZM588.4 689.5 L593.3 677.8 L591.5 678 L597 671.5 L596.2 680 L595.1 678.5 L590.1 690.3ZM611.3 689.5 L616.3 677.8 L614.4 678 L619.9 671.5 L619.1 680 L618 678.5 L613 690.3ZM634.2 689.5 L639.2 677.8 L637.3 678 L642.8 671.5 L642 680 L640.9 678.5 L635.9 690.3ZM657.1 689.5 L662.2 677.8 L660.4 678 L666 671.6 L665 680.1 L663.9 678.6 L658.8 690.3ZM450.9 715.8 L455.9 704 L454 704.2 L459.6 697.7 L458.7 706.2 L457.6 704.7 L452.6 716.5ZM473.8 715.8 L478.8 704 L477 704.2 L482.5 697.7 L481.6 706.2 L480.5 704.7 L475.5 716.5ZM496.7 715.8 L501.7 704 L499.9 704.2 L505.4 697.7 L504.5 706.2 L503.4 704.7 L498.4 716.5ZM519.6 715.8 L524.6 704 L522.8 704.2 L528.3 697.7 L527.5 706.2 L526.3 704.7 L521.3 716.5ZM542.5 715.8 L547.5 704 L545.7 704.2 L551.2 697.7 L550.4 706.2 L549.2 704.7 L544.2 716.5ZM565.4 715.8 L570.4 704 L568.6 704.2 L574.1 697.7 L573.3 706.2 L572.1 704.7 L567.1 716.5ZM588.4 715.8 L593.3 704 L591.5 704.2 L597 697.7 L596.2 706.2 L595.1 704.7 L590.1 716.5ZM611.3 715.8 L616.3 704 L614.4 704.2 L619.9 697.7 L619.1 706.2 L618 704.7 L613 716.5ZM634.2 715.8 L639.2 704 L637.3 704.2 L642.8 697.7 L642 706.2 L640.9 704.7 L635.9 716.5ZM657.1 715.8 L662.3 704.1 L660.4 704.3 L666 697.9 L665.1 706.3 L664 704.8 L658.8 716.5ZM450.9 742 L455.9 730.3 L454 730.5 L459.6 724 L458.7 732.5 L457.6 731 L452.6 742.8ZM473.8 742 L478.8 730.3 L477 730.5 L482.5 724 L481.6 732.5 L480.5 731 L475.5 742.8ZM496.7 742 L501.7 730.3 L499.9 730.5 L505.4 724 L504.5 732.5 L503.4 731 L498.4 742.8ZM519.6 742 L524.6 730.3 L522.8 730.5 L528.3 724 L527.5 732.5 L526.3 731 L521.3 742.8ZM542.5 742 L547.5 730.3 L545.7 730.5 L551.2 724 L550.4 732.5 L549.2 731 L544.2 742.8ZM565.4 742 L570.4 730.3 L568.6 730.5 L574.1 724 L573.3 732.5 L572.1 731 L567.1 742.8ZM588.4 742 L593.3 730.3 L591.5 730.5 L597 724 L596.2 732.5 L595.1 731 L590.1 742.8ZM611.3 742 L616.3 730.3 L614.4 730.5 L619.9 724 L619.1 732.5 L618 731 L613 742.8ZM634.2 742 L639.2 730.3 L637.3 730.5 L642.9 724 L642 732.5 L640.9 731 L635.9 742.8ZM450.9 768.3 L455.9 756.5 L454 756.7 L459.6 750.2 L458.7 758.7 L457.6 757.2 L452.6 769ZM473.8 768.3 L478.8 756.5 L477 756.7 L482.5 750.2 L481.6 758.7 L480.5 757.2 L475.5 769ZM496.7 768.3 L501.7 756.5 L499.9 756.7 L505.4 750.2 L504.5 758.7 L503.4 757.2 L498.4 769ZM519.6 768.3 L524.6 756.5 L522.8 756.7 L528.3 750.2 L527.5 758.7 L526.3 757.2 L521.3 769ZM542.5 768.3 L547.5 756.5 L545.7 756.7 L551.2 750.2 L550.4 758.7 L549.2 757.2 L544.2 769ZM565.4 768.3 L570.4 756.5 L568.6 756.7 L574.1 750.2 L573.3 758.7 L572.1 757.2 L567.1 769ZM588.4 768.3 L593.3 756.5 L591.5 756.7 L597 750.2 L596.2 758.7 L595.1 757.2 L590.1 769ZM611.3 768.3 L616.3 756.5 L614.4 756.7 L619.9 750.2 L619.1 758.7 L618 757.2 L613 769ZM634.2 768.3 L639.2 756.5 L637.4 756.8 L642.9 750.3 L642.1 758.8 L640.9 757.3 L635.9 769ZM450.9 794.5 L455.9 782.8 L454 783 L459.6 776.5 L458.7 785 L457.6 783.5 L452.6 795.3ZM473.8 794.5 L478.8 782.8 L477 783 L482.5 776.5 L481.6 785 L480.5 783.5 L475.5 795.3ZM496.7 794.5 L501.7 782.8 L499.9 783 L505.4 776.5 L504.5 785 L503.4 783.5 L498.4 795.3ZM519.6 794.5 L524.6 782.8 L522.8 783 L528.3 776.5 L527.5 785 L526.3 783.5 L521.3 795.3ZM542.5 794.5 L547.5 782.8 L545.7 783 L551.2 776.5 L550.4 785 L549.2 783.5 L544.2 795.3ZM565.4 794.5 L570.4 782.8 L568.6 783 L574.1 776.5 L573.3 785 L572.1 783.5 L567.1 795.3ZM588.4 794.5 L593.3 782.8 L591.5 783 L597 776.5 L596.2 785 L595.1 783.5 L590.1 795.3ZM611.3 794.5 L616.3 782.8 L614.4 783 L619.9 776.5 L619.1 785 L618 783.5 L613 795.3ZM634.2 794.5 L639.3 782.8 L637.4 783 L643 776.6 L642.1 785 L641 783.5 L635.9 795.3ZM450.9 820.8 L455.9 809 L454 809.2 L459.6 802.7 L458.7 811.2 L457.6 809.7 L452.6 821.5ZM473.8 820.8 L478.8 809 L477 809.2 L482.5 802.7 L481.6 811.2 L480.5 809.7 L475.5 821.5ZM496.7 820.8 L501.7 809 L499.9 809.2 L505.4 802.7 L504.5 811.2 L503.4 809.7 L498.4 821.5ZM519.6 820.8 L524.6 809 L522.8 809.2 L528.3 802.7 L527.5 811.2 L526.3 809.7 L521.3 821.5ZM542.5 820.8 L547.5 809 L545.7 809.2 L551.2 802.7 L550.4 811.2 L549.2 809.7 L544.2 821.5ZM565.4 820.8 L570.4 809 L568.6 809.2 L574.1 802.7 L573.3 811.2 L572.1 809.7 L567.1 821.5ZM588.4 820.8 L593.3 809 L591.5 809.2 L597 802.7 L596.2 811.2 L595.1 809.7 L590.1 821.5ZM611.3 820.8 L616.3 809 L614.4 809.2 L619.9 802.7 L619.1 811.2 L618 809.7 L613 821.5ZM634.2 820.8 L639.3 809.1 L637.5 809.3 L643.1 802.8 L642.1 811.3 L641 809.8 L635.9 821.5ZM450.9 847 L455.9 835.3 L454 835.5 L459.6 829 L458.7 837.5 L457.6 836 L452.6 847.8ZM473.8 847 L478.8 835.3 L477 835.5 L482.5 829 L481.6 837.5 L480.5 836 L475.5 847.8ZM496.7 847 L501.7 835.3 L499.9 835.5 L505.4 829 L504.5 837.5 L503.4 836 L498.4 847.8ZM519.6 847 L524.6 835.3 L522.8 835.5 L528.3 829 L527.5 837.5 L526.3 836 L521.3 847.8ZM542.5 847 L547.5 835.3 L545.7 835.5 L551.2 829 L550.4 837.5 L549.2 836 L544.2 847.8ZM565.4 847 L570.4 835.3 L568.6 835.5 L574.1 829 L573.3 837.5 L572.1 836 L567.1 847.8ZM588.4 847 L593.3 835.3 L591.5 835.5 L597 829 L596.2 837.5 L595.1 836 L590.1 847.8ZM611.3 847 L616.3 835.3 L614.4 835.5 L619.9 829 L619.1 837.5 L618 836 L613 847.8ZM634.2 847 L639.4 835.3 L637.5 835.5 L643.1 829.1 L642.1 837.6 L641 836.1 L635.9 847.8ZM450.9 873.3 L455.9 861.5 L454 861.7 L459.6 855.2 L458.7 863.7 L457.6 862.2 L452.6 874ZM473.8 873.3 L478.8 861.5 L477 861.7 L482.5 855.2 L481.6 863.7 L480.5 862.2 L475.5 874ZM496.7 873.3 L501.7 861.5 L499.9 861.7 L505.4 855.2 L504.5 863.7 L503.4 862.2 L498.4 874ZM519.6 873.3 L524.6 861.5 L522.8 861.7 L528.3 855.2 L527.5 863.7 L526.3 862.2 L521.3 874ZM542.5 873.3 L547.5 861.5 L545.7 861.7 L551.2 855.2 L550.4 863.7 L549.2 862.2 L544.2 874ZM565.4 873.3 L570.5 861.5 L568.6 861.7 L574.2 855.3 L573.3 863.7 L572.2 862.3 L567.1 874ZM588.4 873.3 L593.4 861.5 L591.5 861.7 L597.1 855.3 L596.2 863.7 L595.1 862.3 L590.1 874ZM611.3 873.3 L616.3 861.5 L614.5 861.7 L620 855.3 L619.1 863.8 L618 862.3 L613 874ZM634.2 873.3 L639.4 861.6 L637.6 861.8 L643.3 855.4 L642.2 863.9 L641.1 862.4 L635.9 874ZM450.9 899.5 L455.9 887.8 L454 888 L459.6 881.5 L458.7 890 L457.6 888.5 L452.6 900.3ZM473.8 899.5 L478.8 887.8 L477 888 L482.5 881.5 L481.6 890 L480.5 888.5 L475.5 900.3ZM496.7 899.5 L501.7 887.8 L499.9 888 L505.4 881.5 L504.5 890 L503.4 888.5 L498.4 900.3ZM519.6 899.5 L524.6 887.8 L522.8 888 L528.3 881.5 L527.5 890 L526.3 888.5 L521.3 900.3ZM542.5 899.5 L547.6 887.8 L545.7 888 L551.3 881.5 L550.4 890 L549.3 888.5 L544.2 900.3ZM565.4 899.5 L570.5 887.8 L568.7 888 L574.3 881.6 L573.4 890 L572.2 888.5 L567.1 900.3ZM588.4 899.5 L593.5 887.8 L591.7 888 L597.3 881.6 L596.3 890.1 L595.2 888.6 L590.1 900.3ZM611.3 899.5 L616.5 887.8 L614.6 888 L620.2 881.6 L619.3 890.1 L618.2 888.6 L613 900.3ZM634.2 899.5 L639.6 887.9 L637.8 888.1 L643.6 881.8 L642.4 890.3 L641.3 888.7 L635.9 900.3ZM657.1 899.5 L663 888.1 L661.1 888.2 L667.1 882.1 L665.6 890.5 L664.6 889 L658.8 900.3ZM450.9 925.8 L455.9 914 L454 914.2 L459.6 907.7 L458.7 916.2 L457.6 914.7 L452.6 926.5ZM473.8 925.8 L478.8 914 L477 914.2 L482.5 907.7 L481.6 916.2 L480.5 914.7 L475.5 926.5ZM496.7 925.8 L501.7 914 L499.9 914.2 L505.4 907.7 L504.5 916.2 L503.4 914.7 L498.4 926.5ZM519.6 925.8 L524.6 914 L522.8 914.2 L528.3 907.7 L527.5 916.2 L526.3 914.7 L521.3 926.5ZM542.5 925.8 L547.6 914.1 L545.8 914.3 L551.3 907.8 L550.4 916.3 L549.3 914.8 L544.2 926.5ZM565.4 925.8 L570.6 914.1 L568.8 914.3 L574.4 907.9 L573.4 916.3 L572.3 914.8 L567.1 926.5ZM588.4 925.8 L593.6 914.1 L591.8 914.3 L597.4 907.9 L596.4 916.4 L595.3 914.9 L590 926.5ZM611.3 925.8 L616.6 914.2 L614.8 914.3 L620.5 908 L619.4 916.4 L618.3 914.9 L613 926.5ZM634.2 925.7 L639.8 914.3 L638 914.4 L643.8 908.2 L642.5 916.6 L641.5 915.1 L635.9 926.6ZM450.9 952 L455.9 940.3 L454 940.5 L459.6 934 L458.7 942.5 L457.6 941 L452.6 952.8ZM473.8 952 L478.8 940.3 L477 940.5 L482.5 934 L481.6 942.5 L480.5 941 L475.5 952.8ZM496.7 952 L501.7 940.3 L499.9 940.5 L505.4 934 L504.5 942.5 L503.4 941 L498.4 952.8ZM519.6 952 L524.6 940.3 L522.8 940.5 L528.3 934 L527.5 942.5 L526.3 941 L521.3 952.8ZM542.5 952 L547.7 940.3 L545.8 940.5 L551.4 934.1 L550.5 942.6 L549.4 941.1 L544.2 952.8ZM565.5 952 L570.7 940.4 L568.8 940.5 L574.5 934.2 L573.5 942.6 L572.4 941.1 L567.1 952.8ZM588.4 952 L593.7 940.4 L591.9 940.6 L597.6 934.3 L596.5 942.7 L595.4 941.2 L590 952.8ZM611.3 952 L616.8 940.5 L614.9 940.6 L620.7 934.3 L619.5 942.8 L618.5 941.3 L612.9 952.8ZM634.2 952 L640 940.6 L638.2 940.7 L644.1 934.6 L642.7 943 L641.7 941.4 L635.8 952.8ZM450.9 978.3 L455.9 966.5 L454 966.7 L459.6 960.2 L458.7 968.7 L457.6 967.2 L452.6 979ZM473.8 978.3 L478.8 966.5 L477 966.7 L482.5 960.2 L481.6 968.7 L480.5 967.2 L475.5 979ZM496.7 978.3 L501.7 966.5 L499.9 966.7 L505.4 960.2 L504.5 968.7 L503.4 967.2 L498.4 979ZM519.6 978.3 L524.6 966.5 L522.8 966.7 L528.3 960.2 L527.5 968.7 L526.3 967.2 L521.3 979ZM542.5 978.3 L547.7 966.6 L545.8 966.8 L551.5 960.4 L550.5 968.8 L549.4 967.3 L544.2 979ZM565.5 978.3 L570.8 966.6 L568.9 966.8 L574.6 960.5 L573.5 968.9 L572.5 967.4 L567.1 979ZM588.4 978.3 L593.9 966.7 L592 966.8 L597.8 960.6 L596.6 969 L595.5 967.5 L590 979ZM611.3 978.2 L616.9 966.8 L615.1 966.9 L621 960.7 L619.6 969.1 L618.6 967.6 L612.9 979.1ZM634.2 978.2 L640.2 966.9 L638.4 967 L644.4 961 L642.8 969.4 L641.9 967.8 L635.8 979.1ZM450.9 1004.5 L455.9 992.8 L454 993 L459.6 986.5 L458.7 995 L457.6 993.5 L452.6 1005.3ZM473.8 1004.5 L478.8 992.8 L477 993 L482.5 986.5 L481.6 995 L480.5 993.5 L475.5 1005.3ZM496.7 1004.5 L501.7 992.8 L499.9 993 L505.4 986.5 L504.5 995 L503.4 993.5 L498.4 1005.3ZM519.6 1004.5 L524.6 992.8 L522.8 993 L528.3 986.5 L527.5 995 L526.3 993.5 L521.3 1005.3ZM542.5 1004.5 L547.7 992.8 L545.9 993 L551.5 986.6 L550.5 995.1 L549.4 993.6 L544.2 1005.3ZM565.5 1004.5 L570.9 992.9 L569 993.1 L574.7 986.8 L573.6 995.2 L572.5 993.7 L567.1 1005.3ZM588.4 1004.5 L594 993 L592.1 993.1 L598 986.9 L596.7 995.4 L595.6 993.8 L590 1005.3ZM611.3 1004.5 L617.1 993.1 L615.2 993.2 L621.2 987.1 L619.8 995.5 L618.7 993.9 L612.9 1005.3Z"/>
<path fill="#c0c0c0" d="M683 582.9 L683 584.9 L682.9 590.4 L680.8 592.7 L681.9 595 L681.5 598 L682.5 600.6 L681.5 604 L680 606.3 L681.9 609.3 L680.4 613 L679.1 616.8 L676.1 617.9 L676.5 622.1 L673.1 625.1 L674.6 628.9 L674 632.6 L670.1 637.2 L668.6 640.9 L665.6 642.1 L662.2 644.7 L660.8 648.5 L661.1 652.2 L657.2 655.9 L657.2 659.9 L659.8 663.9 L661.9 667.4 L662.6 671.2 L663.8 673.8 L667.9 675.7 L671.6 678.7 L672 682.5 L673.1 685.5 L671.6 690 L671.6 693.8 L674.2 698 L672.8 701.3 L672 708.1 L672.8 711.9 L674.2 715.9 L672.8 720.9 L671 722.4 L667.1 725.1 L668.2 727.7 L669.5 732.2 L668.6 736.8 L664.9 737.5 L662.6 739.8 L661.8 743.7 L658.4 745.9 L655.4 745.6 L654.2 741.8 L652.4 743.7 L650.9 749.7 L649 766.3 L648.5 774.6 L649.4 782.1 L650.9 789.6 L652.8 794.2 L652 800.2 L651.5 806.2 L653.5 812.2 L654.6 818.3 L655.4 824.4 L657.6 831.2 L658.2 839.3 L659.1 845.5 L661.8 849.3 L660.2 851.6 L658.4 854.2 L662.1 859.2 L661 865.1 L660.2 871.2 L659.5 877.2 L659.9 881.7 L662.9 883.2 L663.6 888.5 L667 892.6 L666 896.8 L664 900.4 L663.9 903.8 L665.9 908.7 L664.9 913.6 L661.5 915.5 L661 918.4 L659 921.4 L661 925.3 L660.5 929.2 L658.5 931.1 L656.8 934.9 L651.8 940.9 L647.4 941.9 L648.8 945.8 L649.8 951.6 L652.1 956.5 L651.8 959.4 L649.8 961.4 L649.8 966.2 L652.6 970.1 L655.1 973.1 L654.1 977.9 L652.6 983.8 L649.2 986.7 L644.4 988.7 L643.5 991.6 L642 997.5 L638.5 1003.3 L637.2 1004.9 L636 1006.9 L711.8 1009.9 L711.8 579.9Z"/>
<path fill="none" stroke="#000" stroke-width="1.9" stroke-linejoin="round" d="M683 582.9 L683 584.9 L682.9 590.4 L680.8 592.7 L681.9 595 L681.5 598 L682.5 600.6 L681.5 604 L680 606.3 L681.9 609.3 L680.4 613 L679.1 616.8 L676.1 617.9 L676.5 622.1 L673.1 625.1 L674.6 628.9 L674 632.6 L670.1 637.2 L668.6 640.9 L665.6 642.1 L662.2 644.7 L660.8 648.5 L661.1 652.2 L657.2 655.9 L657.2 659.9 L659.8 663.9 L661.9 667.4 L662.6 671.2 L663.8 673.8 L667.9 675.7 L671.6 678.7 L672 682.5 L673.1 685.5 L671.6 690 L671.6 693.8 L674.2 698 L672.8 701.3 L672 708.1 L672.8 711.9 L674.2 715.9 L672.8 720.9 L671 722.4 L667.1 725.1 L668.2 727.7 L669.5 732.2 L668.6 736.8 L664.9 737.5 L662.6 739.8 L661.8 743.7 L658.4 745.9 L655.4 745.6 L654.2 741.8 L652.4 743.7 L650.9 749.7 L650.2 754.9 L649 766.3 L648.5 774.6 L649.4 782.1 L650.9 789.6 L652.8 794.2 L652 800.2 L651.5 806.2 L653.5 812.2 L654.6 818.3 L655.4 824.4 L657.6 831.2 L658.2 839.3 L659.1 845.5 L661.8 849.3 L660.2 851.6 L658.4 854.2 L662.1 859.2 L661 865.1 L660.2 871.2 L659.5 877.2 L659.9 881.7 L662.9 883.2 L663.6 888.5 L667 892.6 L666 896.8 L664 900.4 L663.9 903.8 L665.9 908.7 L664.9 913.6 L661.5 915.5 L661 918.4 L659 921.4 L661 925.3 L660.5 929.2 L658.5 931.1 L656.8 934.9 L651.8 940.9 L647.4 941.9 L648.8 945.8 L649.8 951.6 L652.1 956.5 L651.8 959.4 L649.8 961.4 L649.8 966.2 L652.6 970.1 L655.1 973.1 L654.1 977.9 L652.6 983.8 L649.2 986.7 L644.4 988.7 L643.5 991.6 L642 997.5 L638.5 1003.3 L637.2 1004.9 L636 1006.9"/>
<path fill="none" stroke="#000" stroke-width="1.6" stroke-linejoin="round" d="M661.9 667.4 L667.9 667.4 L670.1 664.8 L674.6 667.4 L680 667.8 L680.8 675 L686 676.1 L687.1 679.9 L691.2 678 L693.5 667.4 L697.2 664.4 L704.8 664.8"/>
<path fill="none" stroke="#000" stroke-width="1.6" stroke-linejoin="round" d="M660.6 877.9 L662.9 876.1 L671.1 879.1 L675.8 876.8 L678.8 873.4 L681 876.4 L689.2 868.1 L695.4 869.6 L704.8 867.4"/>
<path fill="none" stroke="#000" stroke-width="1.6" stroke-linejoin="round" d="M704.8 929.7 L697 931.1 L690.2 934 L690.8 940.9 L691.8 947.7 L684.4 950.6 L678.5 951.6 L679 958.4 L671.8 964.3 L671.2 973.1 L665.9 981.9 L669.8 988.7 L659 988.7 L658 995.5 L649.2 1000.4 L642.5 998.4"/>
<path fill="none" stroke="#000" stroke-width="1.6" stroke-linejoin="round" d="M649.2 1000.4 L652.8 1005.9"/>
<ellipse cx="659" cy="673.2" rx="1.1" ry="1.6" fill="#000"/>
<ellipse cx="659.4" cy="695.1" rx="0.5" ry="0.9" fill="#000"/>
</g>
<circle cx="661" cy="660.4" r="4.7" fill="#ffd700" stroke="#000" stroke-width="1.9"/>
<circle cx="675.1" cy="717.4" r="4.7" fill="#ffd700" stroke="#000" stroke-width="1.9"/>
<circle cx="650.1" cy="759.4" r="4.7" fill="#ffd700" stroke="#000" stroke-width="1.9"/>
<circle cx="658.2" cy="839.3" r="4.7" fill="#ffd700" stroke="#000" stroke-width="1.9"/>
<circle cx="662.1" cy="859.2" r="4.7" fill="#ffd700" stroke="#000" stroke-width="1.9"/>
<circle cx="655.1" cy="939.4" r="4.7" fill="#ffd700" stroke="#000" stroke-width="1.9"/>
<rect x="451.8" y="584.9" width="252" height="420" fill="none" stroke="#000" stroke-width="1.6"/>
<text x="451.9" y="572.9" font-size="28" style="font-family:'DejaVu Sans','Liberation Sans',sans-serif">dom 14-dic</text>
<line x1="511.8" y1="1004.9" x2="511.8" y2="1011.9" stroke="#000" stroke-width="1.6"/>
<text x="476.8" y="1038.7" font-size="24" style="font-family:'DejaVu Sans','Liberation Sans',sans-serif">74°<tspan font-style="italic" dx="1.0">W</tspan></text>
<line x1="631.8" y1="1004.9" x2="631.8" y2="1011.9" stroke="#000" stroke-width="1.6"/>
<text x="596.8" y="1038.7" font-size="24" style="font-family:'DejaVu Sans','Liberation Sans',sans-serif">72°<tspan font-style="italic" dx="1.0">W</tspan></text>
<g clip-path="url(#cp7)">
<rect x="812.5" y="584.9" width="252" height="420" fill="#009bdc"/>
<path fill="#009bd8" fill-rule="evenodd" d="M804.5 576.9 L1061.4 576.9 L1061.2 586.9 L1060.3 594.9 L1060.4 600.9 L1059.1 612.9 L1054.3 622.9 L1052.2 632.9 L1049.9 636.9 L1041.4 646.9 L1038 654.9 L1037.1 658.9 L1038.2 662.9 L1041.9 670.9 L1048.8 678.9 L1050.6 682.9 L1050.3 690.9 L1051.2 698.9 L1050.3 706.9 L1051 716.9 L1050.3 718.9 L1046.8 724.9 L1046.2 726.9 L1046.5 732.9 L1045.6 734.9 L1034.3 744.9 L1029.9 752.9 L1028.9 762.9 L1028.9 772.9 L1030.3 782.9 L1033.5 794.9 L1033.5 806.9 L1038.7 830.9 L1040 840.9 L1041.4 846.9 L1041.6 854.9 L1042.8 862.9 L1041.3 874.9 L1041.6 878.9 L1046.6 890.9 L1047.1 894.9 L1045.5 902.9 L1046 908.9 L1045.6 910.9 L1041.5 918.9 L1040.2 928.9 L1036.7 934.9 L1030 942.9 L1029.1 946.9 L1031.1 956.9 L1030.2 964.9 L1033.4 972.9 L1033.7 976.9 L1032.6 980.9 L1031.4 982.9 L1025.6 988.9 L1022.7 992.9 L1016.3 1006.9 L1015.5 1012.9 L804.5 1012.9Z"/>
<path fill="#00a2c9" fill-rule="evenodd" d="M804.5 576.9 L1058 576.9 L1057.9 586.9 L1056.9 594.9 L1057.1 600.9 L1055.7 612.9 L1051 622.9 L1048.9 632.9 L1046.6 636.9 L1038.1 646.9 L1034.6 654.9 L1033.7 658.9 L1034.9 662.9 L1038.6 670.9 L1045.5 678.9 L1047.3 682.9 L1047 690.9 L1047.8 698.9 L1046.9 706.9 L1047.6 716.9 L1047 718.9 L1043.5 724.9 L1042.9 726.9 L1043.2 732.9 L1042.3 734.9 L1031 744.9 L1026.5 752.9 L1025.6 762.9 L1025.5 772.9 L1027 782.9 L1030.2 794.9 L1030.2 806.9 L1035.3 830.9 L1036.6 840.9 L1038.1 846.9 L1038.2 854.9 L1039.4 862.9 L1038 874.9 L1038.2 878.9 L1043.2 890.9 L1043.8 894.9 L1042.2 902.9 L1042.6 908.9 L1042.3 910.9 L1038.2 918.9 L1036.8 928.9 L1033.4 934.9 L1026.7 942.9 L1025.9 944.9 L1026.1 948.9 L1027.8 956.9 L1026.8 964.9 L1030.1 972.9 L1030.4 974.9 L1029.9 978.9 L1028.1 982.9 L1022.3 988.9 L1019.4 992.9 L1012.9 1006.9 L1012.2 1012.9 L804.5 1012.9Z"/>
<path fill="#00a6bf" fill-rule="evenodd" d="M804.5 576.9 L1054.7 576.9 L1054.6 586.9 L1053.6 594.9 L1053.7 600.9 L1052.4 612.9 L1047.7 622.9 L1045.5 632.9 L1043.3 636.9 L1034.8 646.9 L1031.3 654.9 L1030.4 658.9 L1031.5 662.9 L1035.3 670.9 L1042.1 678.9 L1044 682.9 L1043.7 690.9 L1044.5 698.9 L1043.6 706.9 L1044.3 716.9 L1043.7 718.9 L1040.1 724.9 L1039.6 726.9 L1039.8 732.9 L1038.9 734.9 L1027.6 744.9 L1023.2 752.9 L1022.3 762.9 L1022.2 772.9 L1023.7 782.9 L1026.9 794.9 L1026.9 806.9 L1032 830.9 L1033.3 840.9 L1034.7 846.9 L1034.9 854.9 L1036.1 862.9 L1034.6 874.9 L1034.9 878.9 L1039.9 890.9 L1040.4 894.9 L1038.8 902.9 L1039.3 908.9 L1039 910.9 L1034.8 918.9 L1033.5 928.9 L1030.1 934.9 L1023.3 942.9 L1022.4 946.9 L1023.3 950.9 L1024.5 956.9 L1023.5 964.9 L1026.7 972.9 L1027.1 974.9 L1026.6 978.9 L1024.7 982.9 L1019 988.9 L1016.1 992.9 L1009.6 1006.9 L1008.9 1012.9 L804.5 1012.9Z"/>
<path fill="#00aaae" fill-rule="evenodd" d="M804.5 576.9 L1051.4 576.9 L1051.2 586.9 L1050.3 594.9 L1050.4 600.9 L1049.1 612.9 L1044.3 622.9 L1042.2 632.9 L1039.9 636.9 L1031.4 646.9 L1028 654.9 L1027.1 658.9 L1028.2 662.9 L1031.9 670.9 L1038.8 678.9 L1040.6 682.9 L1040.3 690.9 L1041.2 698.9 L1040.3 706.9 L1041 716.9 L1040.3 718.9 L1036.8 724.9 L1036.2 726.9 L1036.5 732.9 L1035.6 734.9 L1024.3 744.9 L1019.9 752.9 L1018.9 762.9 L1018.9 772.9 L1020.3 782.9 L1023.5 794.9 L1023.5 806.9 L1028.7 830.9 L1030 840.9 L1031.4 846.9 L1031.6 854.9 L1032.8 862.9 L1031.3 874.9 L1031.6 878.9 L1036.6 890.9 L1037.1 894.9 L1035.5 902.9 L1036 908.9 L1035.6 910.9 L1031.5 918.9 L1030.2 928.9 L1026.7 934.9 L1020 942.9 L1019.1 946.9 L1021.1 956.9 L1020.2 964.9 L1023.4 972.9 L1023.7 976.9 L1022.6 980.9 L1021.4 982.9 L1015.6 988.9 L1012.7 992.9 L1006.3 1006.9 L1005.5 1012.9 L804.5 1012.9Z"/>
<path fill="#00aca3" fill-rule="evenodd" d="M804.5 576.9 L1048.1 576.9 L1048 586.9 L1047 594.9 L1047.1 600.9 L1045.9 612.9 L1041.1 622.9 L1039.6 630.9 L1038 634.9 L1028.2 646.9 L1024.7 654.9 L1023.8 658.9 L1024.9 662.9 L1028.7 670.9 L1035.6 678.9 L1037.3 682.9 L1037 690.9 L1037.9 698.9 L1037 706.9 L1037.7 716.9 L1032.9 726.9 L1033.2 732.9 L1032.3 734.9 L1021.2 744.9 L1016.6 752.9 L1015.6 762.9 L1015.6 772.9 L1016.6 780.9 L1020.3 794.9 L1020 802.9 L1020.5 808.2 L1025.4 830.9 L1026.7 840.9 L1028.1 846.9 L1028.3 854.9 L1029.5 862.9 L1028 876.9 L1029 880.9 L1033.3 890.9 L1033.8 894.9 L1032.4 900.9 L1032.4 910.9 L1028.3 918.9 L1026.9 928.9 L1023.5 934.9 L1016.7 942.9 L1016 944.9 L1016.2 948.9 L1017.8 956.9 L1016.9 964.9 L1020.1 972.9 L1020.5 974.9 L1020 978.9 L1018.2 982.9 L1010.7 990.9 L1009.5 992.9 L1003 1006.9 L1002.3 1012.9 L804.5 1012.9Z"/>
<path fill="#00ab96" fill-rule="evenodd" d="M804.5 576.9 L1045.9 576.9 L1045.7 586.9 L1044.8 594.9 L1044.9 600.9 L1043.7 612.9 L1038.8 622.9 L1037.4 630.9 L1035.9 634.9 L1033.2 638.9 L1026.1 646.9 L1022.5 654.7 L1021.5 658.9 L1022.5 662.6 L1026.4 670.9 L1033.4 678.9 L1035 682.9 L1034.7 690.9 L1035.5 698.9 L1034.6 706.9 L1035.2 716.9 L1030.5 726.9 L1030.8 732.9 L1030.1 734.9 L1028.4 736.9 L1018.9 744.9 L1014.3 752.9 L1013.4 760.9 L1013.3 772.9 L1014.5 781.8 L1018.1 794.9 L1017.8 804.9 L1018.5 809.5 L1023.2 830.9 L1024.5 841.4 L1025.9 846.9 L1026.1 854.9 L1027.3 862.9 L1025.8 876.9 L1026.5 880.4 L1031.1 890.9 L1031.6 894.9 L1030 902.9 L1030.2 910.9 L1026 918.9 L1025.1 926.9 L1023.8 930.9 L1021.3 934.9 L1014.4 942.9 L1013.5 946.9 L1014.3 950.9 L1015.4 956.9 L1014.5 964.9 L1017.8 972.9 L1018.1 974.9 L1017.6 978.9 L1015.9 982.9 L1008.5 990.8 L1007.3 992.9 L1000.8 1006.9 L1000.1 1012.9 L804.5 1012.9Z"/>
<path fill="#00ab8d" fill-rule="evenodd" d="M804.5 576.9 L1044.5 576.9 L1043.8 600.9 L1042.3 612.9 L1037.7 622.9 L1035.6 632.9 L1033.5 636.9 L1024.5 647.4 L1020.5 656.6 L1020.2 658.9 L1020.5 660.9 L1024.5 669.7 L1026.6 672.9 L1032.1 678.9 L1033.8 682.9 L1033.5 690.9 L1034.1 698.9 L1033.3 706.9 L1033.9 716.9 L1033.4 718.9 L1029.8 724.9 L1029.2 726.9 L1029.5 732.9 L1028.7 734.9 L1027.1 736.9 L1021.8 740.9 L1017.5 744.9 L1012.9 752.9 L1012.1 758.9 L1012 772.9 L1012.5 778.4 L1016.8 794.9 L1016.5 805.6 L1022 830.9 L1024.8 848.9 L1024.8 854.9 L1026 862.9 L1024.5 873.9 L1024.5 877.7 L1026.5 883.4 L1029.2 888.9 L1030.2 894.9 L1028.6 902.9 L1029.2 908.9 L1028.8 910.9 L1024.5 919 L1023.4 928.9 L1020 934.9 L1014.4 940.9 L1012.5 944.1 L1012.1 946.9 L1012.5 949.5 L1013.6 952.9 L1014 956.9 L1013.2 964.9 L1016.3 972.9 L1016.7 974.9 L1016.2 978.9 L1014.4 982.9 L1008.5 989.3 L1005.9 992.9 L1003.6 998.9 L1000.3 1004.9 L999.1 1008.9 L998.7 1012.9 L804.5 1012.9Z"/>
<path fill="#00a873" fill-rule="evenodd" d="M804.5 576.9 L1043.7 576.9 L1043.6 586.9 L1042.7 594.9 L1042.8 600.9 L1041.6 612.9 L1036.8 622.9 L1035.3 630.9 L1033.7 634.9 L1031 638.9 L1024 646.9 L1020.3 654.9 L1019.4 658.9 L1020.5 662.9 L1024.2 670.9 L1031.1 678.9 L1032.8 682.9 L1032.4 690.9 L1033.2 698.9 L1032.3 706.9 L1032.9 716.9 L1032.3 718.9 L1028.5 725.5 L1028.4 732.9 L1027.7 734.9 L1016.4 744.9 L1012 752.9 L1011.3 758.9 L1011 770.9 L1012.5 782.5 L1015.9 794.9 L1015.9 806.9 L1021.1 830.9 L1022.3 840.9 L1023.8 846.9 L1023.9 854.9 L1025.2 862.9 L1023.6 876.9 L1024.5 880.7 L1029 890.9 L1029.4 894.9 L1027.8 902.9 L1027.9 910.9 L1023.7 918.9 L1022.3 928.9 L1018.9 934.9 L1012.1 942.9 L1011.3 944.9 L1011.5 948.9 L1013.1 956.9 L1012.1 964.9 L1015.3 972.9 L1015.6 976.9 L1013.4 982.9 L1006.5 990.3 L1004.9 992.9 L998.6 1006.9 L997.9 1012.9 L804.5 1012.9Z"/>
<path fill="#00a246" fill-rule="evenodd" d="M804.5 576.9 L1043 576.9 L1042.9 586.9 L1042 594.9 L1042.1 600.9 L1040.8 612.9 L1036.1 622.9 L1034.5 630.9 L1033 634.9 L1030.2 638.9 L1023.3 646.9 L1019.7 654.9 L1018.6 658.9 L1022.5 669.1 L1025 672.9 L1030.3 678.9 L1032 682.9 L1031.7 690.9 L1032.3 698.9 L1031.4 706.9 L1032 716.9 L1031.4 718.9 L1027.8 724.9 L1027.3 726.9 L1027.6 732.9 L1026.7 734.9 L1015.5 744.9 L1011.1 752.9 L1010.5 756.9 L1010.2 770.9 L1011.5 780.9 L1015.2 794.9 L1015.2 806.9 L1020.3 830.9 L1021.7 840.9 L1023.1 846.9 L1023.2 854.9 L1024.4 862.9 L1022.9 876.9 L1023.9 880.9 L1028.2 890.9 L1028.7 894.9 L1027 902.9 L1027.5 908.9 L1027.1 910.9 L1022.9 918.9 L1021.5 928.9 L1018 934.9 L1011.3 942.9 L1010.3 946.9 L1011.1 950.9 L1012.2 956.9 L1011.2 964.9 L1014.4 972.9 L1014.8 974.9 L1014.2 978.9 L1012.4 982.9 L1006.5 989.3 L1004 992.9 L997.9 1006.9 L997.1 1012.9 L804.5 1012.9Z"/>
<path fill="#009e29" fill-rule="evenodd" d="M804.5 576.9 L1042.3 576.9 L1042.2 586.9 L1041.3 594.9 L1041.5 600.9 L1040.1 612.9 L1035.4 622.9 L1033.4 632.9 L1031.2 636.9 L1022.6 646.9 L1018.5 656.2 L1018 658.9 L1018.5 661.4 L1022.5 670.4 L1029.6 678.9 L1031.3 682.9 L1030.9 690.9 L1031.6 698.9 L1030.6 706.9 L1031.2 716.9 L1030.5 718.9 L1027 724.9 L1026.4 726.9 L1026.7 732.9 L1025.9 734.9 L1014.7 744.9 L1010.3 752.9 L1009.8 756.9 L1009.5 770.9 L1010.5 779.9 L1014.5 794.9 L1014.5 806.9 L1019.7 830.9 L1021 840.9 L1022.3 846.9 L1022.5 854.9 L1023.8 862.9 L1022.3 874.9 L1022.5 878.7 L1027.5 890.9 L1028 894.9 L1026.3 902.9 L1026.7 908.9 L1026.4 910.9 L1022.1 918.9 L1020.7 928.9 L1018.6 932.9 L1011.8 940.9 L1009.6 944.9 L1009.5 946.9 L1011.4 956.9 L1010.4 964.9 L1013.5 972.9 L1013.8 976.9 L1011.5 982.9 L1005.9 988.9 L1003.2 992.9 L997.2 1006.9 L996.4 1012.9 L804.5 1012.9Z"/>
<path fill="#009a00" fill-rule="evenodd" d="M804.5 576.9 L1041.7 576.9 L1041.6 586.9 L1040.7 594.9 L1040.8 600.9 L1039.6 612.9 L1034.8 622.9 L1033.4 630.9 L1031.8 634.9 L1022 646.9 L1018.4 654.9 L1017.4 658.9 L1018.5 662.9 L1022.1 670.9 L1028.9 678.9 L1030.6 682.9 L1030.2 690.9 L1030.9 698.9 L1029.9 706.9 L1030.4 716.9 L1029.8 718.9 L1026.1 724.9 L1025.6 726.9 L1025.9 732.9 L1025.1 734.9 L1013.9 744.9 L1009.6 752.9 L1009.1 756.9 L1008.8 770.9 L1010 780.9 L1013.9 794.9 L1013.9 806.9 L1019 830.9 L1020.3 840.9 L1021.7 846.9 L1021.9 854.9 L1023.1 862.9 L1021.6 874.9 L1021.9 878.9 L1026.8 890.9 L1027.3 894.9 L1025.6 902.9 L1026 908.9 L1025.7 910.9 L1021.4 918.9 L1019.9 928.9 L1016.4 934.9 L1009.6 942.9 L1008.8 944.9 L1009 948.9 L1010.6 956.9 L1009.5 964.9 L1012.7 972.9 L1012.9 976.9 L1010.6 982.9 L1005.1 988.9 L1002.4 992.9 L996.4 1006.9 L995.7 1012.9 L804.5 1012.9Z"/>
<path fill="#00a400" fill-rule="evenodd" d="M804.5 576.9 L1041.1 576.9 L1041 586.9 L1040.1 594.9 L1040.2 600.9 L1039 612.9 L1034.2 622.9 L1032.9 630.9 L1031.3 634.9 L1021.5 646.9 L1017.9 654.9 L1016.9 658.9 L1017.9 662.9 L1021.5 670.9 L1028.2 678.9 L1029.9 682.9 L1029.5 690.9 L1030.2 698.9 L1029.1 706.9 L1029.6 716.9 L1029 718.9 L1025.3 724.9 L1024.8 726.9 L1025.2 732.9 L1024.3 734.9 L1022.5 736.9 L1017.1 740.9 L1013.2 744.9 L1009.7 750.9 L1008.5 754.9 L1008 768.9 L1008.7 776.9 L1009.8 782.9 L1013.2 794.9 L1013.2 806.9 L1018.5 831.4 L1019.7 840.9 L1021.1 846.9 L1021.3 854.9 L1022.5 862.9 L1021 876.9 L1021.9 880.9 L1026.2 890.9 L1026.7 894.9 L1025.1 900.9 L1025 910.9 L1020.7 918.9 L1019.2 928.9 L1015.6 934.9 L1008.8 942.9 L1007.9 946.9 L1008.5 950.3 L1009.7 956.9 L1008.7 964.9 L1011.8 972.9 L1012 976.9 L1009.7 982.9 L1004.2 988.9 L1001.5 992.9 L999.4 998.9 L995.7 1006.9 L994.9 1012.9 L804.5 1012.9Z"/>
<path fill="#00ad00" fill-rule="evenodd" d="M804.5 576.9 L1040.5 576.9 L1040.4 586.9 L1039.5 594.9 L1039.6 600.9 L1038.4 612.9 L1033.7 622.9 L1031.7 632.9 L1029.5 636.9 L1021 646.9 L1017.3 654.9 L1016.3 658.9 L1017.3 662.9 L1020.9 670.9 L1027.6 678.9 L1029.3 682.9 L1028.8 690.9 L1029.5 698.9 L1028.4 706.9 L1028.9 716.9 L1028.2 718.9 L1024.5 724.9 L1024 726.9 L1024.4 732.9 L1023.5 734.9 L1021.7 736.9 L1016.3 740.9 L1012.4 744.9 L1008.1 752.9 L1007.6 756.9 L1007.4 770.9 L1008.7 780.9 L1012.6 794.9 L1012.6 806.9 L1017.7 830.9 L1019 840.9 L1020.5 846.9 L1020.6 854.9 L1021.8 862.9 L1020.4 874.9 L1020.6 878.9 L1024.8 888.9 L1026 894.9 L1024.2 902.9 L1024.6 908.9 L1024.2 910.9 L1019.9 918.9 L1018.4 928.9 L1014.8 934.9 L1008 942.9 L1007 946.9 L1008.9 956.9 L1007.7 964.9 L1010.8 972.9 L1011.1 976.9 L1008.8 982.9 L1003.3 988.9 L1000.7 992.9 L998.6 998.9 L994.9 1006.9 L994.2 1012.9 L804.5 1012.9Z"/>
<path fill="#00b500" fill-rule="evenodd" d="M804.5 576.9 L1039.8 576.9 L1039.7 586.9 L1038.9 594.9 L1039 600.9 L1037.8 612.9 L1033.2 622.9 L1031.2 632.9 L1028.9 636.9 L1020.5 646.9 L1016.8 654.9 L1015.7 658.9 L1016.8 662.9 L1020.3 670.9 L1026.9 678.9 L1028.7 682.9 L1028.2 690.9 L1028.8 698.9 L1027.6 706.9 L1028.1 716.9 L1027.4 718.9 L1023.7 724.9 L1023.2 726.9 L1023.6 732.9 L1022.7 734.9 L1020.8 736.9 L1015.5 740.9 L1011.6 744.9 L1008.2 750.9 L1007 754.9 L1006.6 768.9 L1007.3 776.9 L1011.9 794.9 L1011.9 806.9 L1017.1 830.9 L1018.4 840.9 L1019.8 846.9 L1019.9 854.9 L1021.2 862.9 L1019.7 876.9 L1020.6 880.9 L1024.8 890.9 L1025.3 894.9 L1023.7 900.9 L1023.4 910.9 L1019.1 918.9 L1017.5 928.9 L1013.9 934.9 L1007.1 942.9 L1006.1 946.9 L1007.9 956.9 L1006.8 964.9 L1009.8 972.9 L1010.1 976.9 L1007.7 982.9 L1002.3 988.9 L999.7 992.9 L998.5 996.9 L994.1 1006.9 L993.3 1012.9 L804.5 1012.9Z"/>
<path fill="#00be00" fill-rule="evenodd" d="M804.5 576.9 L1039.2 576.9 L1039.1 586.9 L1038.2 594.9 L1038.4 600.9 L1037.2 612.9 L1032.6 622.9 L1030.6 632.9 L1028.4 636.9 L1019.9 646.9 L1016.2 654.9 L1015.2 658.9 L1016.2 662.9 L1019.7 670.9 L1026.3 678.9 L1028 682.9 L1027.5 690.9 L1028 698.9 L1026.9 706.9 L1027.3 716.9 L1026.6 718.9 L1022.9 724.9 L1022.3 726.9 L1022.7 732.9 L1021.8 734.9 L1020 736.9 L1014.6 740.9 L1010.8 744.9 L1007.4 750.9 L1006.2 754.9 L1005.8 766.9 L1006.3 774.9 L1007.7 782.9 L1011.3 794.9 L1011.2 806.9 L1016.5 831.4 L1017.6 840.9 L1019 846.9 L1019.2 854.9 L1020.5 862.9 L1019.1 872.9 L1019.2 878.9 L1024 890.9 L1024.5 894.9 L1022.9 900.9 L1022.6 910.9 L1018.2 918.9 L1016.7 928.9 L1013 934.9 L1006.1 942.9 L1005.1 946.9 L1005.8 950.9 L1006.9 956.9 L1005.7 964.9 L1008.8 972.9 L1009 976.9 L1006.6 982.9 L1001.2 988.9 L998.7 992.9 L996.7 998.9 L993.1 1006.9 L992.4 1012.9 L804.5 1012.9Z"/>
<path fill="#00c700" fill-rule="evenodd" d="M804.5 576.9 L1038.5 576.9 L1038.4 586.9 L1037.6 594.9 L1037.8 600.9 L1036.6 612.9 L1032 622.9 L1030.1 632.9 L1027.8 636.9 L1019.4 646.9 L1015.7 654.9 L1014.6 658.9 L1015.6 662.9 L1019 670.9 L1025.6 678.9 L1027.3 682.9 L1026.8 690.9 L1027.3 698.9 L1026.1 706.9 L1026.4 716.9 L1022 724.9 L1021.4 726.9 L1021.9 732.9 L1021 734.9 L1019.1 736.9 L1013.8 740.9 L1009.9 744.9 L1006.6 750.9 L1005.4 754.9 L1005 766.9 L1005.5 774.9 L1007.5 784.9 L1010.6 794.9 L1010.5 806.9 L1015.9 832.9 L1016.8 840.9 L1018.5 848.9 L1018.5 854.9 L1019.5 862.9 L1018.1 876.9 L1018.9 880.9 L1022.5 888.9 L1023.5 894.9 L1021.7 902.9 L1022 908.9 L1021.6 910.9 L1017.1 918.9 L1015.5 928.9 L1011.8 934.9 L1006.3 940.9 L1004.2 944.9 L1004 946.9 L1005.6 956.9 L1004.5 964.9 L1007.4 972.9 L1007.6 976.9 L1006.5 980.7 L1005.2 982.9 L999.9 988.9 L997.4 992.9 L996.3 996.9 L992 1006.9 L991.2 1012.9 L804.5 1012.9Z"/>
<path fill="#00d100" fill-rule="evenodd" d="M804.5 576.9 L1037.8 576.9 L1037.7 586.9 L1036.9 594.9 L1037.1 600.9 L1036 612.9 L1031.4 622.9 L1030.1 630.9 L1028.5 634.9 L1018.9 646.9 L1015.1 654.9 L1014 658.9 L1015 662.9 L1018.4 670.9 L1024.9 678.9 L1026.6 682.9 L1026 690.9 L1026.5 698.9 L1025.3 706.9 L1025.5 716.9 L1024.8 718.9 L1021.1 724.9 L1020.6 726.9 L1021 732.9 L1020.1 734.9 L1018.2 736.9 L1012.9 740.9 L1009.1 744.9 L1005.7 750.9 L1004.5 754.9 L1004.2 768.9 L1004.9 776.9 L1009.7 794.9 L1009.6 806.9 L1014.7 830.9 L1015.9 840.9 L1017.3 846.9 L1017.4 854.9 L1018.6 862.9 L1017.1 874.9 L1017.3 878.9 L1022 890.9 L1022.5 894.9 L1020.8 900.9 L1020.4 910.9 L1015.9 918.9 L1014.2 928.9 L1010.5 934.9 L1003.5 942.9 L1002.5 946.9 L1004.1 956.9 L1002.8 964.9 L1005.7 972.9 L1005.9 976.9 L1003.5 982.9 L998.3 988.9 L995.8 992.9 L994.5 997.4 L990.5 1006.9 L989.7 1012.9 L804.5 1012.9Z"/>
<path fill="#00db05" fill-rule="evenodd" d="M804.5 576.9 L1037 576.9 L1036.9 586.9 L1036.2 594.9 L1036.4 600.9 L1035.3 612.9 L1030.8 622.9 L1029.5 630.9 L1028.5 633.7 L1026.7 636.9 L1018.3 646.9 L1013.7 656.9 L1013.4 658.9 L1014.4 662.9 L1017.7 670.9 L1024.2 678.9 L1025.9 682.9 L1025.2 690.9 L1025.7 698.9 L1024.4 706.9 L1024.6 716.9 L1020.1 724.9 L1019.6 726.9 L1020 732.9 L1019.1 734.9 L1017.3 736.9 L1011.9 740.9 L1008.1 744.9 L1004.8 750.9 L1003.6 754.9 L1003.3 766.9 L1003.7 774.9 L1005.2 782.9 L1008.8 794.9 L1008.7 806.9 L1014 832.9 L1014.8 840.9 L1016.2 846.9 L1016.3 854.9 L1017.4 862.9 L1015.9 876.9 L1016.7 880.9 L1020.5 890 L1021.1 894.9 L1019.1 902.9 L1019.3 908.9 L1018.9 910.9 L1014.4 918.9 L1012.6 928.9 L1010.3 932.9 L1003.2 940.9 L1000.9 944.9 L1000.6 946.9 L1002.2 956.9 L1000.9 964.9 L1003.7 972.9 L1003.8 976.9 L1001.5 982.9 L996.3 988.9 L993.8 992.9 L992 998.9 L988.6 1006.9 L987.9 1012.9 L804.5 1012.9Z"/>
<path fill="#00e50a" fill-rule="evenodd" d="M804.5 576.9 L1036.2 576.9 L1036.1 586.9 L1035.4 594.9 L1035.6 600.9 L1034.6 612.9 L1030.1 622.9 L1028.2 632.9 L1026 636.9 L1017.6 646.9 L1013.8 654.9 L1012.7 658.9 L1013.6 662.9 L1016.9 670.9 L1023.4 678.9 L1025.1 682.9 L1024.4 690.9 L1024.8 698.9 L1023.5 706.9 L1023.7 716.9 L1019.1 724.9 L1018.6 726.9 L1019 732.9 L1018.1 734.9 L1016.3 736.9 L1010.9 740.9 L1007.1 744.9 L1003.8 750.9 L1002.6 754.9 L1002.3 766.9 L1003 776.9 L1007.8 794.9 L1007.6 806.9 L1012.5 830.9 L1013.6 840.9 L1015 846.9 L1015.1 854.9 L1016.2 862.9 L1014.5 876.9 L1015.4 880.9 L1019.3 890.9 L1019.7 894.9 L1017.9 900.9 L1017.3 910.9 L1012.7 918.9 L1010.8 928.9 L1007 934.9 L999.9 942.9 L998.7 946.9 L1000.2 956.9 L998.8 964.9 L1001.6 972.9 L1001.7 976.9 L999.3 982.9 L994.2 988.9 L991.7 992.9 L990 998.9 L986.6 1006.9 L985.9 1012.9 L804.5 1012.9Z"/>
<path fill="#00ef0f" fill-rule="evenodd" d="M804.5 576.9 L1035.3 576.9 L1034.6 594.9 L1034.9 600.9 L1033.8 612.9 L1029.4 622.9 L1028.1 630.9 L1026.6 634.9 L1017 646.9 L1013.1 654.9 L1012 658.9 L1012.9 662.9 L1016.2 670.9 L1022.6 678.9 L1024.2 682.9 L1023.5 690.9 L1023.9 698.9 L1022.5 706.9 L1022.7 716.9 L1018.1 724.9 L1017.5 726.9 L1017.9 732.9 L1017.1 734.9 L1015.2 736.9 L1009.8 740.9 L1006 744.9 L1002.7 750.9 L1001.5 754.9 L1001.2 768.9 L1001.9 776.9 L1003.6 784.9 L1006.7 794.9 L1006.5 806.9 L1011.2 830.9 L1012.3 840.9 L1013.6 846.9 L1013.7 854.9 L1014.8 862.9 L1013 876.9 L1013.9 880.9 L1017.2 888.9 L1018.1 892.9 L1018.1 894.9 L1016 902.9 L1016 908.9 L1015.6 910.9 L1010.9 918.9 L1008.9 928.9 L1005.1 934.9 L997.9 942.9 L996.8 946.9 L998.1 956.9 L996.7 964.9 L999.3 972.9 L999.3 976.9 L997 982.9 L991.7 988.9 L989.4 992.9 L988.5 997 L984 1008.9 L983.7 1012.9 L804.5 1012.9Z"/>
<path fill="#00fc14" fill-rule="evenodd" d="M804.5 576.9 L1034.4 576.9 L1034.3 586.9 L1033.6 594.9 L1033.9 600.9 L1033 612.9 L1028.6 622.9 L1026.5 633.5 L1024.6 636.9 L1016.2 646.9 L1011.5 656.9 L1011.1 658.9 L1012.1 662.9 L1015.3 670.9 L1021.7 678.9 L1023.3 682.9 L1022.6 690.9 L1022.9 698.9 L1021.5 706.9 L1021.6 716.9 L1017 724.9 L1016.5 726.9 L1016.8 732.9 L1015.9 734.9 L1008.7 740.9 L1004.9 744.9 L1000.7 752.9 L1000.2 756.9 L1000 768.9 L1000.7 776.9 L1005.3 794.9 L1005.1 806.9 L1010.1 832.9 L1010.8 840.9 L1012.3 848.9 L1012.1 854.9 L1013 862.9 L1011.2 876.9 L1012.1 880.9 L1015.9 890.9 L1016.2 894.9 L1014 902.9 L1014 908.9 L1013.5 910.9 L1008.8 918.9 L1006.7 928.9 L1002.7 934.9 L995.3 942.9 L994.1 946.9 L994.4 950.9 L993.7 952.9 L992.5 954.1 L974.5 964.9 L965.7 970.9 L956.6 978.9 L951.9 984.9 L949.2 990.9 L948.8 994.9 L949.8 998.9 L954.3 1006.9 L955.3 1012.9 L804.5 1012.9Z"/>
<path fill="#28fc00" fill-rule="evenodd" d="M804.5 576.9 L1033.2 576.9 L1032.5 594.9 L1032.9 600.9 L1032 612.9 L1027.6 622.9 L1026.5 630.9 L1024.9 634.9 L1015.3 646.9 L1011.4 654.9 L1010.3 658.9 L1011.1 662.9 L1014.3 670.9 L1020.7 678.9 L1022.3 682.9 L1021.5 690.9 L1021.7 698.9 L1020.4 706.9 L1020.4 716.9 L1015.7 724.9 L1015.2 726.9 L1015.5 732.9 L1014.7 734.9 L1007.3 740.9 L1003.5 744.9 L1000.1 750.9 L998.9 754.9 L998.6 768.9 L999.1 776.9 L1003.7 794.9 L1003.4 806.9 L1008.1 832.9 L1008.7 840.9 L1009.9 846.9 L1009.9 854.9 L1010.8 862.9 L1008.8 876.9 L1009.6 880.9 L1013.3 890.9 L1013.5 894.9 L1011.4 900.9 L1010.5 909.6 L1008.5 913.1 L1004.5 917.8 L998.5 923.3 L984.5 933.6 L944.5 955.8 L932.5 964.2 L922.1 972.9 L910.5 984.9 L901.5 996.9 L897.5 1004.9 L896.6 1012.9 L804.5 1012.9Z"/>
<path fill="#64fb00" fill-rule="evenodd" d="M804.5 576.9 L1031.9 576.9 L1031.3 594.9 L1031.7 600.9 L1030.8 612.9 L1026.6 622.9 L1024.5 633.6 L1022.7 636.9 L1014.4 646.9 L1009.6 656.9 L1009.2 658.9 L1010.1 662.9 L1013.2 670.9 L1019.5 678.9 L1021.1 682.9 L1020.3 690.9 L1020.5 698.9 L1019.1 706.9 L1019 716.9 L1014.4 724.9 L1013.8 726.9 L1014.1 732.9 L1013.2 734.9 L1005.8 740.9 L1002 744.9 L998.6 750.9 L997.3 754.9 L996.8 766.9 L997.1 774.9 L999 784.9 L1001.8 794.9 L1001.3 806.9 L1005.4 830.9 L1006.2 840.9 L1007.4 846.9 L1007.2 854.9 L1008.1 862.9 L1005.9 876.9 L1006.7 880.9 L1008.9 886.9 L1008.9 890.9 L1008.5 891.9 L1000.5 899.5 L988.5 910 L978.5 917 L968.5 922.6 L943.4 934.9 L929 942.9 L913.6 952.9 L897.9 964.9 L883.3 978.9 L866.9 998.9 L863.3 1004.9 L862.2 1008.9 L862 1012.9 L804.5 1012.9Z"/>
<path fill="#91fa00" fill-rule="evenodd" d="M804.5 576.9 L1030.5 576.9 L1029.8 594.9 L1030.3 600.9 L1029.5 612.9 L1025.2 622.9 L1024.2 630.9 L1022.7 634.9 L1013.2 646.9 L1009.2 654.9 L1008 658.9 L1008.8 662.9 L1011.9 670.9 L1018.2 678.9 L1019.7 682.9 L1018.8 690.9 L1019 698.9 L1017.5 706.9 L1017.4 716.9 L1012.7 724.9 L1012.2 726.9 L1012.4 732.9 L1011.4 734.9 L1004 740.9 L1000.2 744.9 L996.7 750.9 L995.3 754.9 L994.9 774.9 L995.8 780.9 L999.4 794.9 L998.8 806.9 L1002.7 830.9 L1003.3 840.9 L1004.5 846.9 L1004.3 854.9 L1005 860.9 L1004.5 865.7 L1002.5 874.7 L1000.5 878.6 L984.5 892.6 L970.5 902 L960.5 907.3 L926.5 923.1 L883.3 946.9 L868.2 956.9 L844.5 976.3 L834.5 982.7 L828.5 984.6 L824.5 984.6 L820.5 983.4 L810.5 977.1 L804.5 976.2Z"/>
<path fill="#c0f900" fill-rule="evenodd" d="M804.5 576.9 L1028.6 576.9 L1028 594.9 L1028.6 600.9 L1027.8 612.9 L1023.6 622.9 L1022.6 630.9 L1021.1 634.9 L1011.7 646.9 L1007.6 654.9 L1006.5 658.9 L1007.2 662.9 L1010.2 670.9 L1016.4 678.9 L1017.9 682.9 L1017 690.9 L1017.1 698.9 L1015.5 706.9 L1015.3 716.9 L1014.6 718.9 L1010.6 724.9 L1009.9 726.9 L1010.1 732.9 L1009.1 734.9 L1001.6 740.9 L997.7 744.9 L994.2 750.9 L992.8 754.9 L992 766.9 L992.1 774.9 L993.3 782.9 L996.3 794.9 L995.5 806.9 L998.9 830.9 L999.4 840.9 L1000.3 846.9 L998.5 856.6 L994.5 860.7 L984.5 869.4 L974.5 876.9 L964.5 883 L952.5 888.9 L912.5 906.4 L898.5 911.7 L884.5 915.1 L876.5 916 L870.5 916.1 L862.5 914.9 L856.5 912.8 L850.5 909.3 L844.5 904 L838.5 896.8 L830.5 884.8 L824.5 874.2 L816.5 857.9 L812.5 851.3 L808.5 848.3 L804.5 847.6Z"/>
<path fill="#cdf800" fill-rule="evenodd" d="M804.5 576.9 L1025.4 576.9 L1025 594.9 L1025.5 600.9 L1024.9 612.9 L1021.3 620.9 L1019.7 630.9 L1018.5 634.7 L1008.9 646.9 L1004.8 654.9 L1003.5 658.9 L1003.7 660.9 L1007.2 670.9 L1014.5 680.9 L1014.8 682.9 L1013.8 690.9 L1013.8 698.9 L1012.2 706.9 L1011.9 716.9 L1006.9 724.9 L1006.4 726.9 L1006.5 732.9 L1005.2 734.9 L997.6 740.9 L993.8 744.9 L989.2 752.9 L988.8 754.9 L988 766.9 L988 774.9 L989 782.9 L991.9 794.9 L990.8 804.9 L991.5 814.9 L990.7 822.9 L988.9 826.9 L986.5 830.3 L974.5 842.9 L964.5 850.4 L954.5 856 L932.6 864.9 L912.5 871.6 L900.5 873.8 L894.5 873.8 L888.6 872.9 L882.5 870.9 L874.5 866.6 L868.5 862 L861.1 854.9 L854.5 847.1 L848.5 838.7 L829.6 806.9 L820 792.9 L816.5 788.7 L812.5 785.5 L808.5 784 L804.5 783.7Z"/>
<path fill="#dcf200" fill-rule="evenodd" d="M804.5 576.9 L1013.4 576.9 L1012.9 594.9 L1013.5 600.9 L1012.9 612.9 L1008.9 622.9 L1007.9 630.9 L1006.5 634.9 L1003.9 638.9 L997.2 646.9 L993 654.9 L991.6 658.9 L992.4 662.9 L995.3 670.9 L1001.4 678.9 L1002.8 682.9 L1001.7 690.9 L1001.8 698.9 L1000.1 706.9 L999.7 716.9 L994.8 724.9 L994.2 726.9 L994.3 732.9 L993.3 734.9 L983.6 742.9 L981.7 744.9 L978 750.9 L976.6 754.9 L975.6 766.9 L976.1 786.9 L974.5 789.6 L968.5 791.7 L954.5 793.8 L922.5 796.5 L910.5 796.9 L902.5 796.2 L892.5 793.6 L884.5 789.9 L874.5 783.3 L864.5 774.4 L854.3 762.9 L845.6 750.9 L840.1 740.9 L836.2 730.9 L834.4 722.9 L833.3 714.9 L832.1 684.9 L830.5 668.9 L827.8 650.9 L823.7 628.9 L818.5 606.4 L814.5 593.8 L810.5 586.3 L804.5 579.2Z"/>
<path fill="#ebeb00" fill-rule="evenodd" d="M896.5 576.9 L1000 576.9 L999.6 594.9 L1000.1 600.9 L999.6 612.9 L995.5 622.9 L994.6 630.9 L993.2 634.9 L990.6 638.9 L983.9 646.9 L979.6 654.9 L978.3 658.9 L979.1 662.9 L982 670.9 L988.1 678.9 L989.5 682.9 L988.4 690.9 L988.4 698.9 L986.7 706.9 L986.4 716.9 L981.5 724.9 L980.8 726.9 L980.9 732.9 L980 734.9 L978 736.9 L972.5 740.9 L968.4 744.9 L963.6 752.9 L962.1 758.9 L960.5 761.8 L958.5 762.6 L956.5 762.7 L950.5 761.5 L940.5 758.4 L931.5 754.9 L922.5 750.6 L916.6 746.9 L911.6 742.9 L907.8 738.9 L903.7 732.9 L900.9 726.9 L898.6 718.9 L897.4 710.9 L896.6 700.9Z"/>
<path fill="#f3e400" fill-rule="evenodd" d="M955.2 576.9 L986.5 576.9 L986.1 594.9 L986.7 600.9 L986.2 612.9 L982.1 622.9 L981.2 630.9 L979.8 634.9 L977.1 638.9 L970.4 646.9 L966.1 654.9 L964.8 658.9 L965.6 662.9 L968.6 670.9 L974.7 678.9 L976.1 682.9 L975 690.9 L975 698.9 L973.2 706.9 L973.1 714.9 L972.5 717.5 L967.2 724.9 L964.5 730 L962.5 730.2 L960.5 729.4 L956.7 726.9 L950.6 720.9 L945.2 712.9 L941.1 702.9 L939 692.9 L938.6 680.9 L940.2 666.9 L942.9 654.9 L951 624.9 L954 608.9 L955.2 594.9Z"/>
<path fill="#000" fill-opacity="0.5" d="M811.6 584.6 L816 572.6 L814.2 572.9 L819.3 566.1 L818.9 574.6 L817.7 573.2 L813.4 585.2ZM834.5 584.6 L838.9 572.6 L837.1 572.9 L842.2 566.1 L841.9 574.6 L840.7 573.2 L836.3 585.2ZM857.4 584.6 L861.8 572.6 L860 572.9 L865.2 566.1 L864.8 574.6 L863.6 573.2 L859.2 585.2ZM880.4 584.6 L884.7 572.6 L882.9 572.9 L888.1 566.1 L887.7 574.6 L886.5 573.2 L882.1 585.2ZM903.3 584.6 L907.6 572.6 L905.8 572.9 L911 566.1 L910.6 574.6 L909.4 573.2 L905 585.2ZM926.2 584.6 L930.5 572.6 L928.7 572.9 L933.9 566.1 L933.5 574.6 L932.3 573.2 L927.9 585.2ZM949.1 584.6 L953.5 572.6 L951.6 572.9 L956.8 566.1 L956.4 574.6 L955.2 573.2 L950.8 585.2ZM972 584.6 L976.4 572.6 L974.5 572.9 L979.7 566.1 L979.3 574.6 L978.1 573.2 L973.7 585.2ZM994.9 584.6 L999.5 572.6 L997.6 572.9 L1002.9 566.2 L1002.4 574.7 L1001.2 573.3 L996.6 585.2ZM1017.8 584.6 L1022.4 572.6 L1020.6 572.9 L1025.8 566.2 L1025.3 574.7 L1024.1 573.3 L1019.5 585.2ZM811.6 610.8 L816 598.8 L814.2 599.1 L819.4 592.4 L819 600.9 L817.8 599.5 L813.4 611.5ZM834.5 610.8 L839 598.8 L837.1 599.1 L842.3 592.4 L841.9 600.9 L840.7 599.5 L836.3 611.5ZM857.5 610.8 L861.9 598.8 L860 599.1 L865.2 592.4 L864.8 600.9 L863.6 599.5 L859.2 611.5ZM880.4 610.8 L884.8 598.8 L882.9 599.1 L888.1 592.4 L887.7 600.9 L886.5 599.5 L882.1 611.5ZM903.3 610.8 L907.7 598.8 L905.8 599.1 L911 592.4 L910.6 600.9 L909.4 599.5 L905 611.5ZM926.2 610.8 L930.6 598.8 L928.8 599.1 L933.9 592.4 L933.5 600.9 L932.3 599.5 L927.9 611.5ZM949.1 610.8 L953.5 598.8 L951.7 599.1 L956.9 592.4 L956.4 600.9 L955.2 599.5 L950.8 611.5ZM972 610.8 L976.4 598.8 L974.6 599.1 L979.8 592.4 L979.3 600.9 L978.1 599.5 L973.7 611.5ZM994.9 610.8 L999.5 598.9 L997.7 599.2 L1003 592.5 L1002.4 601 L1001.3 599.6 L996.6 611.5ZM1017.8 610.8 L1022.4 598.9 L1020.6 599.2 L1025.9 592.5 L1025.3 601 L1024.2 599.6 L1019.5 611.5ZM811.6 637.1 L816.1 625.1 L814.2 625.4 L819.5 618.7 L819 627.2 L817.8 625.7 L813.4 637.7ZM834.5 637.1 L839 625.1 L837.2 625.4 L842.4 618.7 L841.9 627.2 L840.7 625.7 L836.3 637.7ZM857.5 637.1 L861.9 625.1 L860.1 625.4 L865.3 618.7 L864.8 627.2 L863.6 625.7 L859.2 637.7ZM880.4 637.1 L884.8 625.1 L883 625.4 L888.2 618.7 L887.7 627.2 L886.5 625.7 L882.1 637.7ZM903.3 637.1 L907.7 625.1 L905.9 625.4 L911.1 618.7 L910.7 627.2 L909.5 625.7 L905 637.7ZM926.2 637.1 L930.6 625.1 L928.8 625.4 L934 618.7 L933.6 627.2 L932.4 625.7 L927.9 637.7ZM949.1 637.1 L953.5 625.1 L951.7 625.4 L956.9 618.7 L956.5 627.2 L955.3 625.7 L950.8 637.7ZM972 637.1 L976.4 625.1 L974.6 625.4 L979.8 618.7 L979.4 627.2 L978.2 625.7 L973.7 637.7ZM994.9 637.1 L999.6 625.2 L997.7 625.4 L1003.1 618.8 L1002.5 627.3 L1001.3 625.8 L996.6 637.7ZM1017.8 637.1 L1022.5 625.2 L1020.6 625.4 L1026 618.8 L1025.4 627.3 L1024.2 625.8 L1019.5 637.7ZM811.6 663.3 L816.1 651.4 L814.3 651.7 L819.5 644.9 L819 653.4 L817.9 652 L813.4 664ZM834.5 663.3 L839 651.4 L837.2 651.7 L842.4 644.9 L842 653.4 L840.8 652 L836.3 664ZM857.5 663.3 L861.9 651.4 L860.1 651.7 L865.3 644.9 L864.9 653.4 L863.7 652 L859.2 664ZM880.4 663.3 L884.9 651.4 L883 651.7 L888.3 644.9 L887.8 653.4 L886.6 652 L882.1 664ZM903.3 663.3 L907.8 651.4 L905.9 651.7 L911.2 644.9 L910.7 653.4 L909.5 652 L905 664ZM926.2 663.3 L930.7 651.4 L928.8 651.7 L934.1 644.9 L933.6 653.4 L932.4 652 L927.9 664ZM949.1 663.3 L953.6 651.4 L951.7 651.7 L957 644.9 L956.5 653.4 L955.3 652 L950.8 664ZM972 663.3 L976.5 651.4 L974.6 651.7 L979.9 644.9 L979.4 653.4 L978.2 652 L973.7 664ZM994.9 663.3 L999.6 651.4 L997.8 651.7 L1003.1 645 L1002.5 653.6 L1001.3 652.1 L996.6 664ZM811.6 689.6 L816.2 677.6 L814.3 677.9 L819.6 671.2 L819.1 679.7 L817.9 678.3 L813.4 690.2ZM834.5 689.6 L839.1 677.6 L837.2 677.9 L842.5 671.2 L842 679.7 L840.8 678.3 L836.3 690.2ZM857.5 689.6 L862 677.6 L860.1 677.9 L865.4 671.2 L864.9 679.7 L863.7 678.3 L859.2 690.2ZM880.4 689.6 L884.9 677.6 L883.1 677.9 L888.3 671.2 L887.8 679.7 L886.6 678.3 L882.1 690.2ZM903.3 689.6 L907.8 677.6 L906 677.9 L911.2 671.2 L910.7 679.7 L909.5 678.3 L905 690.2ZM926.2 689.6 L930.7 677.6 L928.9 677.9 L934.1 671.2 L933.6 679.7 L932.4 678.3 L927.9 690.2ZM949.1 689.6 L953.6 677.6 L951.8 677.9 L957 671.2 L956.5 679.7 L955.3 678.3 L950.8 690.2ZM972 689.6 L976.5 677.6 L974.7 677.9 L979.9 671.2 L979.4 679.7 L978.3 678.3 L973.7 690.2ZM994.9 689.6 L999.7 677.7 L997.8 677.9 L1003.2 671.3 L1002.5 679.8 L1001.4 678.4 L996.6 690.2ZM1017.8 689.6 L1022.6 677.7 L1020.7 677.9 L1026.1 671.3 L1025.4 679.8 L1024.3 678.4 L1019.5 690.2ZM811.6 715.8 L816.2 703.9 L814.4 704.2 L819.6 697.5 L819.1 706 L817.9 704.5 L813.4 716.5ZM834.5 715.8 L839.1 703.9 L837.3 704.2 L842.6 697.5 L842 706 L840.8 704.5 L836.3 716.5ZM857.5 715.8 L862 703.9 L860.2 704.2 L865.5 697.5 L864.9 706 L863.8 704.5 L859.2 716.5ZM880.4 715.8 L884.9 703.9 L883.1 704.2 L888.4 697.5 L887.8 706 L886.7 704.5 L882.1 716.5ZM903.3 715.8 L907.8 703.9 L906 704.2 L911.3 697.5 L910.8 706 L909.6 704.5 L905 716.5ZM926.2 715.8 L930.8 703.9 L928.9 704.2 L934.2 697.5 L933.7 706 L932.5 704.5 L927.9 716.5ZM949.1 715.8 L953.7 703.9 L951.8 704.2 L957.1 697.5 L956.6 706 L955.4 704.5 L950.8 716.5ZM972 715.8 L976.6 703.9 L974.7 704.2 L980 697.5 L979.5 706 L978.3 704.5 L973.7 716.5ZM994.9 715.8 L999.7 703.9 L997.8 704.2 L1003.2 697.6 L1002.6 706.1 L1001.4 704.6 L996.6 716.5ZM1017.8 715.8 L1022.6 703.9 L1020.8 704.2 L1026.2 697.6 L1025.5 706.1 L1024.3 704.6 L1019.5 716.5ZM811.6 742.1 L816.3 730.1 L814.4 730.4 L819.7 723.8 L819.2 732.3 L818 730.8 L813.4 742.7ZM834.5 742.1 L839.2 730.1 L837.3 730.4 L842.7 723.8 L842.1 732.3 L840.9 730.8 L836.3 742.7ZM857.5 742.1 L862.1 730.1 L860.2 730.4 L865.6 723.8 L865 732.3 L863.8 730.8 L859.2 742.7ZM880.4 742.1 L885 730.1 L883.2 730.4 L888.5 723.8 L887.9 732.3 L886.7 730.8 L882.1 742.7ZM903.3 742.1 L907.9 730.1 L906.1 730.4 L911.4 723.8 L910.8 732.3 L909.6 730.8 L905 742.7ZM926.2 742.1 L930.8 730.1 L929 730.4 L934.3 723.8 L933.7 732.3 L932.5 730.8 L927.9 742.7ZM949.1 742.1 L953.7 730.1 L951.9 730.4 L957.2 723.8 L956.6 732.3 L955.5 730.8 L950.8 742.7ZM972 742.1 L976.7 730.2 L974.8 730.4 L980.2 723.8 L979.6 732.3 L978.4 730.8 L973.7 742.7ZM994.9 742 L999.8 730.2 L997.9 730.5 L1003.4 723.9 L1002.6 732.4 L1001.5 730.9 L996.6 742.8ZM811.6 768.3 L816.4 756.4 L814.5 756.7 L819.9 750.1 L819.2 758.6 L818.1 757.1 L813.4 769ZM834.5 768.3 L839.3 756.4 L837.4 756.7 L842.8 750.1 L842.1 758.6 L841 757.1 L836.3 769ZM857.5 768.3 L862.2 756.4 L860.3 756.7 L865.7 750.1 L865.1 758.6 L863.9 757.1 L859.2 769ZM880.4 768.3 L885.1 756.4 L883.2 756.7 L888.6 750.1 L888 758.6 L886.8 757.1 L882.1 769ZM903.3 768.3 L908 756.4 L906.1 756.7 L911.5 750.1 L910.9 758.6 L909.7 757.1 L905 769ZM926.2 768.3 L930.9 756.4 L929.1 756.7 L934.4 750.1 L933.8 758.6 L932.6 757.1 L927.9 769ZM949.1 768.3 L953.8 756.4 L952 756.7 L957.3 750.1 L956.7 758.6 L955.5 757.1 L950.8 769ZM972 768.3 L976.8 756.4 L974.9 756.7 L980.3 750.1 L979.7 758.6 L978.5 757.1 L973.7 769ZM994.9 768.3 L999.9 756.5 L998.1 756.7 L1003.6 750.2 L1002.7 758.7 L1001.6 757.2 L996.6 769ZM811.6 794.6 L816.4 782.7 L814.6 783 L820 776.4 L819.3 784.9 L818.1 783.4 L813.4 795.2ZM834.6 794.6 L839.3 782.7 L837.5 783 L842.9 776.4 L842.2 784.9 L841.1 783.4 L836.3 795.2ZM857.5 794.6 L862.2 782.7 L860.4 783 L865.8 776.4 L865.1 784.9 L864 783.4 L859.2 795.2ZM880.4 794.6 L885.2 782.7 L883.3 783 L888.7 776.4 L888 784.9 L886.9 783.4 L882.1 795.2ZM903.3 794.6 L908.1 782.7 L906.2 783 L911.6 776.4 L910.9 784.9 L909.8 783.4 L905 795.2ZM926.2 794.6 L931 782.7 L929.1 783 L934.5 776.4 L933.8 784.9 L932.7 783.4 L927.9 795.2ZM949.1 794.6 L953.9 782.7 L952 783 L957.4 776.4 L956.8 784.9 L955.6 783.4 L950.8 795.2ZM972 794.5 L976.9 782.7 L975.1 783 L980.5 776.4 L979.8 784.9 L978.6 783.4 L973.7 795.3ZM994.9 794.5 L1000 782.8 L998.2 783 L1003.7 776.6 L1002.8 785 L1001.7 783.5 L996.6 795.3ZM811.6 820.8 L816.5 809 L814.7 809.2 L820.1 802.7 L819.4 811.2 L818.2 809.7 L813.4 821.5ZM834.6 820.8 L839.4 809 L837.6 809.2 L843 802.7 L842.3 811.2 L841.1 809.7 L836.3 821.5ZM857.5 820.8 L862.3 809 L860.5 809.2 L865.9 802.7 L865.2 811.2 L864 809.7 L859.2 821.5ZM880.4 820.8 L885.2 809 L883.4 809.2 L888.8 802.7 L888.1 811.2 L886.9 809.7 L882.1 821.5ZM903.3 820.8 L908.1 809 L906.3 809.2 L911.7 802.7 L911 811.2 L909.9 809.7 L905 821.5ZM926.2 820.8 L931.1 809 L929.2 809.2 L934.7 802.7 L933.9 811.2 L932.8 809.7 L927.9 821.5ZM949.1 820.8 L954 809 L952.1 809.2 L957.6 802.7 L956.8 811.2 L955.7 809.7 L950.8 821.5ZM972 820.8 L977 809 L975.2 809.2 L980.7 802.7 L979.9 811.2 L978.7 809.7 L973.7 821.5ZM994.9 820.8 L1000.1 809.1 L998.3 809.3 L1003.9 802.9 L1002.9 811.4 L1001.8 809.9 L996.6 821.5ZM811.6 847 L816.6 835.3 L814.7 835.5 L820.2 829 L819.4 837.4 L818.3 836 L813.4 847.8ZM834.6 847 L839.5 835.3 L837.6 835.5 L843.1 829 L842.3 837.4 L841.2 836 L836.3 847.8ZM857.5 847 L862.4 835.3 L860.6 835.5 L866.1 829 L865.3 837.4 L864.1 836 L859.2 847.8ZM880.4 847 L885.3 835.3 L883.5 835.5 L889 829 L888.2 837.4 L887 836 L882.1 847.8ZM903.3 847 L908.2 835.3 L906.4 835.5 L911.9 829 L911.1 837.4 L909.9 836 L905 847.8ZM926.2 847 L931.1 835.3 L929.3 835.5 L934.8 829 L934 837.4 L932.8 836 L927.9 847.8ZM949.1 847 L954 835.3 L952.2 835.5 L957.7 829 L956.9 837.4 L955.8 836 L950.8 847.8ZM972 847 L977.1 835.3 L975.3 835.5 L980.9 829.1 L979.9 837.6 L978.8 836.1 L973.7 847.8ZM994.9 847 L1000.3 835.4 L998.4 835.6 L1004.1 829.2 L1003 837.7 L1001.9 836.2 L996.6 847.8ZM811.6 873.3 L816.6 861.5 L814.8 861.7 L820.3 855.2 L819.5 863.7 L818.3 862.2 L813.4 874ZM834.6 873.3 L839.6 861.5 L837.7 861.7 L843.2 855.2 L842.4 863.7 L841.3 862.2 L836.3 874ZM857.5 873.3 L862.5 861.5 L860.6 861.7 L866.1 855.2 L865.3 863.7 L864.2 862.2 L859.2 874ZM880.4 873.3 L885.4 861.5 L883.5 861.7 L889.1 855.2 L888.2 863.7 L887.1 862.2 L882.1 874ZM903.3 873.3 L908.3 861.5 L906.5 861.7 L912 855.3 L911.1 863.7 L910 862.3 L905 874ZM926.2 873.3 L931.2 861.5 L929.4 861.7 L934.9 855.3 L934.1 863.7 L932.9 862.3 L927.9 874ZM949.1 873.3 L954.2 861.5 L952.3 861.7 L957.8 855.3 L957 863.8 L955.9 862.3 L950.8 874ZM972 873.3 L977.3 861.6 L975.4 861.8 L981.1 855.4 L980.1 863.9 L979 862.4 L973.7 874ZM994.9 873.3 L1000.4 861.7 L998.5 861.8 L1004.3 855.6 L1003.1 864 L1002.1 862.5 L996.6 874ZM811.6 899.5 L816.6 887.8 L814.8 888 L820.3 881.5 L819.5 890 L818.3 888.5 L813.4 900.3ZM834.6 899.5 L839.6 887.8 L837.7 888 L843.2 881.5 L842.4 890 L841.3 888.5 L836.3 900.3ZM857.5 899.5 L862.5 887.8 L860.6 888 L866.1 881.5 L865.3 890 L864.2 888.5 L859.2 900.3ZM880.4 899.5 L885.4 887.8 L883.6 888 L889.1 881.5 L888.2 890 L887.1 888.5 L882.1 900.3ZM903.3 899.5 L908.4 887.8 L906.5 888 L912.1 881.6 L911.2 890 L910.1 888.5 L905 900.3ZM926.2 899.5 L931.3 887.8 L929.5 888 L935.1 881.6 L934.2 890.1 L933 888.6 L927.9 900.3ZM949.1 899.5 L954.3 887.8 L952.5 888 L958.1 881.6 L957.1 890.1 L956 888.6 L950.8 900.3ZM972 899.5 L977.4 887.9 L975.6 888.1 L981.3 881.8 L980.2 890.2 L979.1 888.7 L973.7 900.3ZM994.9 899.5 L1000.6 888 L998.7 888.1 L1004.6 882 L1003.3 890.4 L1002.3 888.8 L996.6 900.3ZM1017.9 899.5 L1023.8 888.1 L1021.9 888.2 L1027.9 882.2 L1026.4 890.6 L1025.4 889 L1019.5 900.3ZM811.6 925.8 L816.6 914 L814.8 914.2 L820.3 907.7 L819.5 916.2 L818.3 914.7 L813.4 926.5ZM834.6 925.8 L839.6 914 L837.7 914.2 L843.2 907.7 L842.4 916.2 L841.3 914.7 L836.3 926.5ZM857.5 925.8 L862.5 914 L860.6 914.2 L866.1 907.7 L865.3 916.2 L864.2 914.7 L859.2 926.5ZM880.4 925.8 L885.5 914.1 L883.6 914.3 L889.2 907.8 L888.3 916.3 L887.2 914.8 L882.1 926.5ZM903.3 925.8 L908.5 914.1 L906.6 914.3 L912.2 907.9 L911.3 916.3 L910.2 914.8 L905 926.5ZM926.2 925.8 L931.5 914.1 L929.6 914.3 L935.3 907.9 L934.2 916.4 L933.2 914.9 L927.9 926.5ZM949.1 925.8 L954.5 914.2 L952.6 914.3 L958.3 908 L957.2 916.4 L956.1 914.9 L950.8 926.5ZM972 925.7 L977.6 914.2 L975.7 914.4 L981.6 908.1 L980.3 916.6 L979.3 915 L973.7 926.6ZM994.9 925.7 L1000.8 914.4 L998.9 914.4 L1004.9 908.4 L1003.5 916.8 L1002.4 915.2 L996.6 926.6ZM811.6 952 L816.6 940.3 L814.8 940.5 L820.3 934 L819.5 942.5 L818.3 941 L813.4 952.8ZM834.6 952 L839.6 940.3 L837.7 940.5 L843.2 934 L842.4 942.5 L841.3 941 L836.3 952.8ZM857.5 952 L862.5 940.3 L860.6 940.5 L866.1 934 L865.3 942.5 L864.2 941 L859.2 952.8ZM880.4 952 L885.5 940.3 L883.6 940.5 L889.2 934.1 L888.3 942.6 L887.2 941.1 L882.1 952.8ZM903.3 952 L908.5 940.4 L906.7 940.5 L912.4 934.2 L911.3 942.6 L910.2 941.1 L905 952.8ZM926.2 952 L931.6 940.4 L929.7 940.6 L935.5 934.3 L934.3 942.7 L933.3 941.2 L927.9 952.8ZM949.1 952 L954.6 940.5 L952.8 940.6 L958.6 934.3 L957.4 942.8 L956.3 941.3 L950.8 952.8ZM972 952 L977.7 940.5 L975.9 940.7 L981.8 934.5 L980.4 942.9 L979.4 941.4 L973.7 952.8ZM995 952 L1001 940.7 L999.1 940.7 L1005.2 934.8 L1003.6 943.1 L1002.6 941.6 L996.6 952.8ZM811.6 978.3 L816.6 966.5 L814.8 966.7 L820.3 960.2 L819.5 968.7 L818.3 967.2 L813.4 979ZM834.6 978.3 L839.6 966.5 L837.7 966.7 L843.2 960.2 L842.4 968.7 L841.3 967.2 L836.3 979ZM857.5 978.3 L862.5 966.5 L860.6 966.7 L866.1 960.2 L865.3 968.7 L864.2 967.2 L859.2 979ZM880.4 978.3 L885.5 966.6 L883.7 966.8 L889.3 960.4 L888.3 968.8 L887.2 967.3 L882.1 979ZM903.3 978.3 L908.6 966.6 L906.8 966.8 L912.5 960.5 L911.4 968.9 L910.3 967.4 L905 979ZM926.2 978.3 L931.7 966.7 L929.8 966.8 L935.6 960.6 L934.4 969 L933.4 967.5 L927.9 979ZM949.1 978.2 L954.8 966.8 L952.9 966.9 L958.8 960.7 L957.5 969.1 L956.4 967.6 L950.8 979.1ZM972 978.2 L977.9 966.9 L976 966.9 L982 960.9 L980.6 969.3 L979.5 967.7 L973.7 979.1ZM995 978.2 L1001.2 967 L999.3 967 L1005.5 961.2 L1003.8 969.5 L1002.8 967.9 L996.6 979.1ZM811.6 1004.5 L816.6 992.8 L814.8 993 L820.3 986.5 L819.5 995 L818.3 993.5 L813.4 1005.3ZM834.6 1004.5 L839.6 992.8 L837.7 993 L843.2 986.5 L842.4 995 L841.3 993.5 L836.3 1005.3ZM857.5 1004.5 L862.5 992.8 L860.6 993 L866.1 986.5 L865.3 995 L864.2 993.5 L859.2 1005.3ZM880.4 1004.5 L885.6 992.8 L883.7 993 L889.4 986.6 L888.4 995.1 L887.3 993.6 L882.1 1005.3ZM903.3 1004.5 L908.7 992.9 L906.8 993.1 L912.6 986.8 L911.5 995.2 L910.4 993.7 L905 1005.3ZM926.2 1004.5 L931.8 993 L930 993.1 L935.8 986.9 L934.5 995.4 L933.5 993.8 L927.9 1005.3ZM949.1 1004.5 L954.9 993.1 L953.1 993.2 L959 987.1 L957.6 995.5 L956.6 993.9 L950.8 1005.3ZM972 1004.5 L978 993.2 L976.2 993.2 L982.3 987.2 L980.7 995.6 L979.7 994 L973.7 1005.3Z"/>
<path fill="#c0c0c0" d="M1043.7 582.9 L1043.7 584.9 L1043.6 590.4 L1041.5 592.7 L1042.6 595 L1042.2 598 L1043.3 600.6 L1042.2 604 L1040.7 606.3 L1042.6 609.3 L1041.1 613 L1039.9 616.8 L1036.9 617.9 L1037.3 622.1 L1033.9 625.1 L1035.4 628.9 L1034.7 632.6 L1030.9 637.2 L1029.4 640.9 L1026.4 642.1 L1023 644.7 L1021.5 648.5 L1021.9 652.2 L1018 655.9 L1018 659.9 L1020.5 663.9 L1022.6 667.4 L1023.4 671.2 L1024.5 673.8 L1028.6 675.7 L1032.4 678.7 L1032.8 682.5 L1033.9 685.5 L1032.4 690 L1032.4 693.8 L1035 698 L1033.5 701.3 L1032.8 708.1 L1033.5 711.9 L1035 715.9 L1033.5 720.9 L1031.7 722.4 L1027.9 725.1 L1029 727.7 L1030.2 732.2 L1029.4 736.8 L1025.6 737.5 L1023.4 739.8 L1022.5 743.7 L1019.1 745.9 L1016.1 745.6 L1015 741.8 L1013.1 743.7 L1011.6 749.7 L1009.7 766.3 L1009.3 774.6 L1010.1 782.1 L1011.6 789.6 L1013.5 794.2 L1012.7 800.2 L1012.3 806.2 L1014.2 812.2 L1015.4 818.3 L1016.1 824.4 L1018.4 831.2 L1019 839.3 L1019.9 845.5 L1022.5 849.3 L1021 851.6 L1019.1 854.2 L1022.9 859.2 L1021.8 865.1 L1021 871.2 L1020.3 877.2 L1020.6 881.7 L1023.6 883.2 L1024.4 888.5 L1027.8 892.6 L1026.7 896.8 L1024.8 900.4 L1024.6 903.8 L1026.6 908.7 L1025.6 913.6 L1022.2 915.5 L1021.7 918.4 L1019.8 921.4 L1021.7 925.3 L1021.2 929.2 L1019.3 931.1 L1017.5 934.9 L1012.5 940.9 L1008.1 941.9 L1009.5 945.8 L1010.5 951.6 L1012.9 956.5 L1012.5 959.4 L1010.5 961.4 L1010.5 966.2 L1013.4 970.1 L1015.9 973.1 L1014.9 977.9 L1013.4 983.8 L1010 986.7 L1005.1 988.7 L1004.2 991.6 L1002.7 997.5 L999.3 1003.3 L998 1004.9 L996.8 1006.9 L1072.5 1009.9 L1072.5 579.9Z"/>
<path fill="none" stroke="#000" stroke-width="1.9" stroke-linejoin="round" d="M1043.7 582.9 L1043.7 584.9 L1043.6 590.4 L1041.5 592.7 L1042.6 595 L1042.2 598 L1043.3 600.6 L1042.2 604 L1040.7 606.3 L1042.6 609.3 L1041.1 613 L1039.9 616.8 L1036.9 617.9 L1037.3 622.1 L1033.9 625.1 L1035.4 628.9 L1034.7 632.6 L1030.9 637.2 L1029.4 640.9 L1026.4 642.1 L1023 644.7 L1021.5 648.5 L1021.9 652.2 L1018 655.9 L1018 659.9 L1020.5 663.9 L1022.6 667.4 L1023.4 671.2 L1024.5 673.8 L1028.6 675.7 L1032.4 678.7 L1032.8 682.5 L1033.9 685.5 L1032.4 690 L1032.4 693.8 L1035 698 L1033.5 701.3 L1032.8 708.1 L1033.5 711.9 L1035 715.9 L1033.5 720.9 L1031.7 722.4 L1027.9 725.1 L1029 727.7 L1030.2 732.2 L1029.4 736.8 L1025.6 737.5 L1023.4 739.8 L1022.5 743.7 L1019.1 745.9 L1016.1 745.6 L1015 741.8 L1013.1 743.7 L1011.6 749.7 L1011 754.9 L1009.7 766.3 L1009.3 774.6 L1010.1 782.1 L1011.6 789.6 L1013.5 794.2 L1012.7 800.2 L1012.3 806.2 L1014.2 812.2 L1015.4 818.3 L1016.1 824.4 L1018.4 831.2 L1019 839.3 L1019.9 845.5 L1022.5 849.3 L1021 851.6 L1019.1 854.2 L1022.9 859.2 L1021.8 865.1 L1021 871.2 L1020.3 877.2 L1020.6 881.7 L1023.6 883.2 L1024.4 888.5 L1027.8 892.6 L1026.7 896.8 L1024.8 900.4 L1024.6 903.8 L1026.6 908.7 L1025.6 913.6 L1022.2 915.5 L1021.7 918.4 L1019.8 921.4 L1021.7 925.3 L1021.2 929.2 L1019.3 931.1 L1017.5 934.9 L1012.5 940.9 L1008.1 941.9 L1009.5 945.8 L1010.5 951.6 L1012.9 956.5 L1012.5 959.4 L1010.5 961.4 L1010.5 966.2 L1013.4 970.1 L1015.9 973.1 L1014.9 977.9 L1013.4 983.8 L1010 986.7 L1005.1 988.7 L1004.2 991.6 L1002.7 997.5 L999.3 1003.3 L998 1004.9 L996.8 1006.9"/>
<path fill="none" stroke="#000" stroke-width="1.6" stroke-linejoin="round" d="M1022.6 667.4 L1028.6 667.4 L1030.9 664.8 L1035.4 667.4 L1040.7 667.8 L1041.5 675 L1046.7 676.1 L1047.9 679.9 L1052 678 L1054.3 667.4 L1058 664.4 L1065.5 664.8"/>
<path fill="none" stroke="#000" stroke-width="1.6" stroke-linejoin="round" d="M1021.4 877.9 L1023.6 876.1 L1031.9 879.1 L1036.5 876.8 L1039.5 873.4 L1041.7 876.4 L1050 868.1 L1056.1 869.6 L1065.5 867.4"/>
<path fill="none" stroke="#000" stroke-width="1.6" stroke-linejoin="round" d="M1065.5 929.7 L1057.8 931.1 L1051 934 L1051.5 940.9 L1052.5 947.7 L1045.1 950.6 L1039.3 951.6 L1039.8 958.4 L1032.5 964.3 L1032 973.1 L1026.6 981.9 L1030.5 988.7 L1019.8 988.7 L1018.8 995.5 L1010 1000.4 L1003.2 998.4"/>
<path fill="none" stroke="#000" stroke-width="1.6" stroke-linejoin="round" d="M1010 1000.4 L1013.5 1005.9"/>
<ellipse cx="1019.8" cy="673.2" rx="1.1" ry="1.6" fill="#000"/>
<ellipse cx="1020.1" cy="695.1" rx="0.5" ry="0.9" fill="#000"/>
</g>
<circle cx="1021.8" cy="660.4" r="4.7" fill="#ffd700" stroke="#000" stroke-width="1.9"/>
<circle cx="1035.9" cy="717.4" r="4.7" fill="#ffd700" stroke="#000" stroke-width="1.9"/>
<circle cx="1010.9" cy="759.4" r="4.7" fill="#ffd700" stroke="#000" stroke-width="1.9"/>
<circle cx="1019" cy="839.3" r="4.7" fill="#ffd700" stroke="#000" stroke-width="1.9"/>
<circle cx="1022.9" cy="859.2" r="4.7" fill="#ffd700" stroke="#000" stroke-width="1.9"/>
<circle cx="1015.9" cy="939.4" r="4.7" fill="#ffd700" stroke="#000" stroke-width="1.9"/>
<rect x="812.5" y="584.9" width="252" height="420" fill="none" stroke="#000" stroke-width="1.6"/>
<text x="812.7" y="572.9" font-size="28" style="font-family:'DejaVu Sans','Liberation Sans',sans-serif">lun 15-dic</text>
<line x1="872.5" y1="1004.9" x2="872.5" y2="1011.9" stroke="#000" stroke-width="1.6"/>
<text x="837.5" y="1038.7" font-size="24" style="font-family:'DejaVu Sans','Liberation Sans',sans-serif">74°<tspan font-style="italic" dx="1.0">W</tspan></text>
<line x1="992.5" y1="1004.9" x2="992.5" y2="1011.9" stroke="#000" stroke-width="1.6"/>
<text x="957.5" y="1038.7" font-size="24" style="font-family:'DejaVu Sans','Liberation Sans',sans-serif">72°<tspan font-style="italic" dx="1.0">W</tspan></text>
<g clip-path="url(#cp8)">
<rect x="1173.2" y="584.9" width="252" height="420" fill="#009bdc"/>
<path fill="#009bd8" fill-rule="evenodd" d="M1165.2 576.9 L1423.1 576.9 L1423.1 584.9 L1421.9 594.9 L1421.9 600.9 L1420.4 612.9 L1415.4 622.9 L1413.1 632.9 L1410.8 636.9 L1402.2 646.9 L1398.7 654.9 L1397.8 658.9 L1398.9 662.9 L1402.7 670.9 L1409.6 678.9 L1410.8 680.9 L1411.5 684.9 L1411.1 690.9 L1411.9 698.9 L1411 706.9 L1411.7 716.9 L1411.1 718.9 L1407.6 724.9 L1407 726.9 L1407.5 732.9 L1406.6 734.9 L1404.8 736.9 L1397.3 742.9 L1394.4 746.9 L1391.4 752.9 L1390.8 762.9 L1391.5 776.9 L1396.3 794.9 L1396.2 806.9 L1401 830.9 L1402.2 840.9 L1403.6 846.9 L1403.7 854.9 L1404.8 862.9 L1403.2 874.9 L1403.4 878.9 L1408.3 890.9 L1408.8 894.9 L1407.1 902.9 L1407.5 908.9 L1407.1 910.9 L1402.9 918.9 L1401.4 928.9 L1399.4 932.9 L1392.5 940.9 L1390.3 944.9 L1390.2 946.9 L1392.1 956.9 L1391.1 964.9 L1394.2 972.9 L1394.5 976.9 L1393.3 980.9 L1392.2 982.9 L1386.4 988.9 L1383.5 992.9 L1377 1006.9 L1376.3 1012.9 L1165.2 1012.9Z"/>
<path fill="#00a2c9" fill-rule="evenodd" d="M1165.2 576.9 L1419.8 576.9 L1419.7 584.9 L1418.5 594.9 L1418.6 600.9 L1417 612.9 L1412.1 622.9 L1409.8 632.9 L1407.5 636.9 L1398.9 646.9 L1395.4 654.9 L1394.5 658.9 L1395.6 662.9 L1399.3 670.9 L1406.2 678.9 L1407.4 680.9 L1408.2 684.9 L1407.8 690.9 L1408.6 698.9 L1407.7 706.9 L1408.4 716.9 L1407.7 718.9 L1404.2 724.9 L1403.7 726.9 L1404.1 732.9 L1403.3 734.9 L1401.5 736.9 L1394 742.9 L1391 746.9 L1388.1 752.9 L1387.4 762.9 L1388.1 776.9 L1392.9 794.9 L1392.8 806.9 L1397.7 830.9 L1398.9 840.9 L1400.2 846.9 L1400.3 854.9 L1401.4 862.9 L1399.8 874.9 L1400.1 878.9 L1404.9 890.9 L1405.4 894.9 L1403.7 902.9 L1404.1 908.9 L1403.8 910.9 L1399.6 918.9 L1398.1 928.9 L1394.6 934.9 L1387.8 942.9 L1387 944.9 L1387.2 948.9 L1388.8 956.9 L1387.7 964.9 L1390.9 972.9 L1391.2 976.9 L1390 980.9 L1388.8 982.9 L1383 988.9 L1380.1 992.9 L1373.7 1006.9 L1373 1012.9 L1165.2 1012.9Z"/>
<path fill="#00a6bf" fill-rule="evenodd" d="M1165.2 576.9 L1416.4 576.9 L1416.4 584.9 L1415.2 594.9 L1415.2 600.9 L1413.7 612.9 L1408.8 622.9 L1406.5 632.9 L1404.2 636.9 L1395.5 646.9 L1392.1 654.9 L1391.1 658.9 L1392.3 662.9 L1396 670.9 L1402.9 678.9 L1404.1 680.9 L1404.9 684.9 L1404.4 690.9 L1405.2 698.9 L1404.3 706.9 L1405 716.9 L1404.4 718.9 L1400.9 724.9 L1400.4 726.9 L1400.8 732.9 L1400 734.9 L1398.2 736.9 L1390.7 742.9 L1387.7 746.9 L1384.7 752.9 L1384.1 762.9 L1384.8 776.9 L1389.6 794.9 L1389.5 806.9 L1394.4 830.9 L1395.5 840.9 L1396.9 846.9 L1397 854.9 L1398.1 862.9 L1396.5 874.9 L1396.7 878.9 L1401.6 890.9 L1402.1 894.9 L1400.4 902.9 L1400.8 908.9 L1400.5 910.9 L1396.2 918.9 L1394.8 928.9 L1391.3 934.9 L1384.5 942.9 L1383.5 946.9 L1384.3 950.9 L1385.5 956.9 L1384.4 964.9 L1387.6 972.9 L1387.9 974.9 L1387.4 978.9 L1385.5 982.9 L1379.7 988.9 L1376.8 992.9 L1370.4 1006.9 L1369.6 1012.9 L1165.2 1012.9Z"/>
<path fill="#00aaae" fill-rule="evenodd" d="M1165.2 576.9 L1413.1 576.9 L1413.1 584.9 L1411.9 594.9 L1411.9 600.9 L1410.4 612.9 L1405.4 622.9 L1403.1 632.9 L1400.8 636.9 L1392.2 646.9 L1388.7 654.9 L1387.8 658.9 L1388.9 662.9 L1392.7 670.9 L1399.6 678.9 L1400.8 680.9 L1401.5 684.9 L1401.1 690.9 L1401.9 698.9 L1401 706.9 L1401.7 716.9 L1401.1 718.9 L1397.6 724.9 L1397 726.9 L1397.5 732.9 L1396.6 734.9 L1394.8 736.9 L1387.4 742.9 L1384.4 746.9 L1381.4 752.9 L1380.8 762.9 L1381.5 776.9 L1386.3 794.9 L1386.2 806.9 L1391 830.9 L1392.2 840.9 L1393.6 846.9 L1393.7 854.9 L1394.8 862.9 L1393.4 872.9 L1393.2 877.8 L1394 880.9 L1398.3 890.9 L1398.8 894.9 L1397.1 902.9 L1397.5 908.9 L1397.1 910.9 L1392.9 918.9 L1391.4 928.9 L1389.4 932.9 L1382.5 940.9 L1380.3 944.9 L1380.2 946.9 L1382.1 956.9 L1381.1 964.9 L1384.2 972.9 L1384.5 976.9 L1383.3 980.9 L1382.2 982.9 L1376.4 988.9 L1373.5 992.9 L1367 1006.9 L1366.3 1012.9 L1165.2 1012.9Z"/>
<path fill="#00aca3" fill-rule="evenodd" d="M1165.2 576.9 L1409.8 576.9 L1409.8 584.9 L1408.6 594.9 L1408.6 600.9 L1407.1 612.9 L1402.2 622.9 L1400.6 630.9 L1398.9 634.9 L1389 646.9 L1385.5 654.9 L1384.5 658.9 L1385.7 662.9 L1389.2 670.6 L1396.4 678.9 L1397.5 680.9 L1398.2 684.9 L1397.8 690.9 L1398.6 698.9 L1397.7 706.9 L1398.4 716.9 L1393.8 726.9 L1394.2 732.9 L1391.7 736.9 L1384.2 742.9 L1381.1 746.9 L1378.2 752.9 L1377.5 762.9 L1378.2 776.9 L1379.4 782.9 L1383 794.9 L1382.9 806.9 L1387.8 830.9 L1389 840.9 L1390.3 846.9 L1390.4 854.9 L1391.5 862.9 L1389.9 876.9 L1391.2 882.2 L1395 890.9 L1395.5 894.9 L1393.8 902.9 L1394.2 908.9 L1393.8 910.9 L1389.6 918.9 L1388.2 928.9 L1384.7 934.9 L1377.9 942.9 L1377.1 944.9 L1377.2 949.1 L1378.8 956.9 L1377.8 964.9 L1381 972.9 L1381.3 974.9 L1380.8 978.9 L1378.9 982.9 L1371.4 990.9 L1370.2 992.9 L1363.7 1006.9 L1363 1012.9 L1165.2 1012.9Z"/>
<path fill="#00ab96" fill-rule="evenodd" d="M1165.2 576.9 L1407.6 576.9 L1407.6 584.9 L1405 612.9 L1400 622.9 L1398.4 630.9 L1396.8 634.9 L1394 638.9 L1386.8 646.9 L1383.2 654.7 L1382.3 658.9 L1383.2 662.6 L1387.2 670.9 L1394.2 678.9 L1395.8 682.9 L1395.9 684.9 L1395.4 690.9 L1396.2 698.9 L1395.3 706.9 L1396 716.9 L1391.3 726.9 L1391.8 732.9 L1391.1 734.9 L1389.5 736.9 L1382 742.9 L1378.9 746.9 L1375.9 752.9 L1375.4 754.9 L1375.2 762.9 L1375.2 771.2 L1375.9 776.9 L1377.2 783.3 L1380.8 794.9 L1380.7 806.9 L1385.9 832.9 L1386.7 840.9 L1388.1 846.9 L1388.2 854.9 L1389.2 862.9 L1387.6 876.9 L1389.2 882.9 L1392.8 890.9 L1393.2 894.9 L1391.4 902.9 L1391.9 908.9 L1391.5 910.9 L1387.2 918.9 L1385.8 928.9 L1382.4 934.9 L1375.2 943.4 L1374.5 946.9 L1375.2 951.1 L1376.4 956.9 L1375.2 964.9 L1378.5 972.9 L1378.8 974.9 L1378.3 978.9 L1376.5 982.9 L1369.2 990.6 L1367.8 992.9 L1361.3 1006.9 L1360.6 1012.9 L1165.2 1012.9Z"/>
<path fill="#00ab8d" fill-rule="evenodd" d="M1165.2 576.9 L1406.5 576.9 L1406.3 586.9 L1405.2 592.9 L1404.6 606.9 L1403.7 612.9 L1399.2 621.6 L1396.5 632.9 L1394.4 636.9 L1385.5 646.9 L1381.2 656.6 L1380.9 658.9 L1381.2 660.9 L1385.2 669.7 L1394 680.9 L1394.6 684.9 L1394.2 690.9 L1394.8 698.9 L1394.1 706.9 L1394.6 716.9 L1394.1 718.9 L1390.6 724.9 L1390 726.9 L1390.5 732.9 L1389.7 734.9 L1388.2 736.9 L1380.6 742.9 L1377.2 747.2 L1374.5 752.9 L1374 762.9 L1374.9 778.9 L1379.5 794.9 L1379.2 806.9 L1384.4 830.9 L1385.2 840.4 L1386.8 846.9 L1386.9 854.9 L1388.1 862.9 L1386.9 870.9 L1386.7 878.9 L1390.8 888.9 L1392 894.9 L1390.5 900.9 L1390.3 910.9 L1385.3 920.9 L1384.4 928.9 L1382.4 932.9 L1374.1 942.9 L1373.1 944.9 L1372.9 946.9 L1374.8 956.9 L1373.8 964.9 L1376.9 972.9 L1377.2 974.9 L1376.7 978.9 L1374.9 982.9 L1367.5 990.9 L1366.3 992.9 L1360 1006.9 L1359.1 1012.9 L1165.2 1012.9Z"/>
<path fill="#00a873" fill-rule="evenodd" d="M1165.2 576.9 L1405.5 576.9 L1405.5 584.9 L1404.3 594.9 L1404.3 600.9 L1402.8 612.9 L1397.9 622.9 L1396.3 630.9 L1394.7 634.9 L1391.9 638.9 L1384.7 646.9 L1381.1 654.9 L1380.2 658.9 L1381.2 662.9 L1385 670.9 L1391.9 678.9 L1393 680.9 L1393.7 684.9 L1393.2 690.9 L1393.9 698.9 L1393 706.9 L1393.6 716.9 L1389.2 725.6 L1389.4 732.9 L1388.7 734.9 L1387 736.9 L1379.5 742.9 L1376.5 746.9 L1373.5 752.9 L1372.9 762.9 L1373.5 774.9 L1375.2 783.8 L1378.7 794.9 L1378.5 806.9 L1383.8 832.9 L1384.6 840.9 L1386 846.9 L1386.1 854.9 L1387.1 862.9 L1385.5 876.9 L1386.4 880.9 L1390.6 890.9 L1391 894.9 L1389.2 902.6 L1389.6 908.9 L1389.2 910.9 L1384.9 918.9 L1383.4 928.9 L1379.9 934.9 L1374.4 940.9 L1372.1 944.9 L1371.9 946.9 L1373.8 956.9 L1372.7 964.9 L1375.7 972.9 L1376 976.9 L1373.7 982.9 L1367.2 989.8 L1365.1 992.9 L1358.9 1006.9 L1358.1 1012.9 L1165.2 1012.9Z"/>
<path fill="#00a246" fill-rule="evenodd" d="M1165.2 576.9 L1404.8 576.9 L1404.6 586.9 L1402.1 612.9 L1397.1 622.9 L1395.6 630.9 L1394 634.9 L1384 646.9 L1380.4 654.9 L1379.4 658.9 L1383.2 669.1 L1385.7 672.9 L1391 678.9 L1392.2 680.9 L1392.9 684.9 L1392.4 690.9 L1393.1 698.9 L1392.2 706.9 L1392.7 716.9 L1392.2 718.9 L1388.6 724.9 L1388.1 726.9 L1388.5 732.9 L1387.8 734.9 L1386.1 736.9 L1378.6 742.9 L1375.2 747.5 L1372.7 752.9 L1372.1 762.9 L1373 776.9 L1377.9 794.9 L1377.8 806.9 L1382.7 830.9 L1383.9 840.9 L1385.2 846.9 L1385.3 854.9 L1386.5 862.9 L1384.8 874.9 L1385 878.9 L1389.8 890.9 L1390.3 894.9 L1388.7 900.9 L1388.4 910.9 L1384.1 918.9 L1382.5 928.9 L1378.9 934.9 L1372 942.9 L1371.1 944.9 L1371.2 948.9 L1372.8 956.9 L1371.6 964.9 L1374.7 972.9 L1374.9 976.9 L1372.5 982.9 L1366.9 988.9 L1364.1 992.9 L1358 1006.9 L1357.2 1012.9 L1165.2 1012.9Z"/>
<path fill="#009e29" fill-rule="evenodd" d="M1165.2 576.9 L1404.1 576.9 L1404 586.9 L1401.4 612.9 L1396.6 622.9 L1394.3 632.9 L1392.1 636.9 L1383.3 646.9 L1379.2 656.2 L1378.8 658.9 L1379.2 661.4 L1383.2 670.4 L1390.3 678.9 L1392 682.9 L1391.6 690.9 L1392.4 698.9 L1391.4 706.9 L1392 716.9 L1391.3 718.9 L1387.7 724.9 L1387.2 726.9 L1387.7 732.9 L1386.9 734.9 L1376 744.9 L1371.9 752.9 L1371.5 768.9 L1373.1 780.9 L1377.2 794.9 L1377.1 806.9 L1382 830.9 L1383.2 840.9 L1384.6 846.9 L1384.6 854.9 L1385.8 862.9 L1384.2 874.9 L1384.4 878.9 L1388.5 888.9 L1389.6 894.9 L1387.7 902.9 L1388 908.9 L1387.6 910.9 L1383.2 918.9 L1381.6 928.9 L1378 934.9 L1371.1 942.9 L1370.1 946.9 L1371.8 956.9 L1370.6 964.9 L1373.7 972.9 L1373.8 976.9 L1371.5 982.9 L1365.9 988.9 L1363.1 992.9 L1357 1006.9 L1356.3 1012.9 L1165.2 1012.9Z"/>
<path fill="#009a00" fill-rule="evenodd" d="M1165.2 576.9 L1403.5 576.9 L1403.4 584.9 L1402.3 594.9 L1402.3 600.9 L1400.8 612.9 L1396 622.9 L1393.7 632.9 L1391.4 636.9 L1382.8 646.9 L1379.2 654.9 L1378.2 658.9 L1379.2 662.9 L1382.9 670.9 L1389.6 678.9 L1391.3 682.9 L1390.9 690.9 L1391.6 698.9 L1390.6 706.9 L1391.2 716.9 L1390.5 718.9 L1386.9 724.9 L1386.4 726.9 L1386.9 732.9 L1386.1 734.9 L1375.2 744.9 L1371.1 752.9 L1370.8 768.9 L1372.4 780.9 L1376.6 794.9 L1376.5 806.9 L1381.4 830.9 L1382.5 840.9 L1383.9 846.9 L1384 854.9 L1385.1 862.9 L1383.5 874.9 L1383.8 878.9 L1387.8 888.9 L1388.9 894.9 L1387 902.9 L1387.3 908.9 L1386.9 910.9 L1382.5 918.9 L1380.8 928.9 L1378.6 932.9 L1371.6 940.9 L1369.3 944.9 L1369.2 946.9 L1370.9 956.9 L1369.6 964.9 L1372.6 972.9 L1372.8 976.9 L1370.4 982.9 L1364.8 988.9 L1362.1 992.9 L1359.9 998.9 L1356 1006.9 L1355.4 1012.9 L1165.2 1012.9Z"/>
<path fill="#00a400" fill-rule="evenodd" d="M1165.2 576.9 L1402.8 576.9 L1401.7 600.9 L1400.3 612.9 L1395.4 622.9 L1393.8 630.9 L1392.2 634.9 L1382.3 646.9 L1378.6 654.9 L1377.6 658.9 L1378.7 662.9 L1382.3 670.9 L1389 678.9 L1390.7 682.9 L1390.3 690.9 L1390.9 698.9 L1389.9 706.9 L1390.4 716.9 L1389.7 718.9 L1386.1 724.9 L1385.6 726.9 L1386.1 732.9 L1385.3 734.9 L1383.6 736.9 L1378.3 740.9 L1374.5 744.9 L1370.4 752.9 L1370.1 768.9 L1371.3 778.9 L1376 794.9 L1375.9 806.9 L1380.7 830.9 L1381.9 840.9 L1383.3 846.9 L1383.4 854.9 L1384.5 862.9 L1382.9 874.9 L1383.1 878.9 L1387.2 889.1 L1388.2 894.9 L1386.3 902.9 L1386.5 908.9 L1386.1 910.9 L1381.7 918.9 L1379.9 928.9 L1377.2 933.6 L1370.7 940.9 L1368.4 944.9 L1368.2 946.9 L1369.2 952.3 L1369.9 956.9 L1368.6 964.9 L1371.5 972.9 L1371.8 974.9 L1371.2 978.7 L1369.3 982.9 L1363.7 988.9 L1361 992.9 L1358.8 998.9 L1355 1006.9 L1354.3 1012.9 L1165.2 1012.9Z"/>
<path fill="#00ad00" fill-rule="evenodd" d="M1165.2 576.9 L1402.2 576.9 L1401.1 600.9 L1399.7 612.9 L1394.8 622.9 L1392.6 632.9 L1390.4 636.9 L1381.7 646.9 L1378.1 654.9 L1377 658.9 L1378.1 662.9 L1381.7 670.9 L1388.4 678.9 L1390.1 682.9 L1389.6 690.9 L1390.2 698.9 L1389.2 706.9 L1389.6 716.9 L1389 718.9 L1385.3 724.9 L1384.8 726.9 L1385.4 732.9 L1384.5 734.9 L1382.8 736.9 L1377.5 740.9 L1373.7 744.9 L1369.7 752.9 L1369.4 768.9 L1370.6 778.9 L1375.4 794.9 L1375.3 806.9 L1380.1 830.9 L1381.3 840.9 L1382.6 846.9 L1382.7 854.9 L1383.8 862.9 L1382.2 874.9 L1382.5 878.9 L1387.1 890.9 L1387.5 894.9 L1385.8 900.9 L1385.4 910.9 L1380.8 918.9 L1379.1 928.9 L1375.4 934.9 L1368.3 942.9 L1367.2 946.9 L1368.8 956.9 L1367.5 964.9 L1370.4 972.9 L1370.5 976.9 L1368.1 982.9 L1362.6 988.9 L1359.9 992.9 L1357.7 998.9 L1353.9 1006.9 L1353.2 1012.9 L1165.2 1012.9Z"/>
<path fill="#00b500" fill-rule="evenodd" d="M1165.2 576.9 L1401.6 576.9 L1400.5 600.9 L1399.1 612.9 L1394.3 622.9 L1392.1 632.9 L1389.8 636.9 L1381.2 646.9 L1377.6 654.9 L1376.5 658.9 L1377.5 662.9 L1381 670.9 L1387.7 678.9 L1389.4 682.9 L1388.9 690.9 L1389.5 698.9 L1388.4 706.9 L1389 714.9 L1388.2 718.9 L1384.5 724.9 L1384 726.9 L1384.6 732.9 L1383.8 734.9 L1382 736.9 L1376.8 740.9 L1373 744.9 L1369 752.9 L1368.7 768.9 L1370 778.9 L1374.7 794.9 L1374.6 806.9 L1379.5 830.9 L1380.6 840.9 L1382 846.9 L1382.1 854.9 L1383.2 862.9 L1381.6 874.9 L1381.8 878.9 L1385.8 888.9 L1386.8 894.9 L1384.8 902.9 L1385 908.9 L1384.5 910.9 L1380 918.9 L1378.2 928.9 L1374.4 934.9 L1367.3 942.9 L1366.4 944.9 L1366.5 948.9 L1367.8 956.9 L1366.4 964.9 L1369.3 972.9 L1369.4 976.9 L1366.9 982.9 L1361.4 988.9 L1358.7 992.9 L1356.5 998.9 L1352.7 1006.9 L1352 1012.9 L1165.2 1012.9Z"/>
<path fill="#00be00" fill-rule="evenodd" d="M1165.2 576.9 L1400.9 576.9 L1399.9 600.9 L1398.5 612.9 L1393.7 622.9 L1391.6 632.9 L1389.3 636.9 L1380.7 646.9 L1377 654.9 L1376 658.9 L1377 662.9 L1380.4 670.9 L1387.1 678.9 L1388.8 682.9 L1388.3 690.9 L1388.8 698.9 L1387.7 706.9 L1388.2 714.9 L1387.4 718.9 L1383.7 724.9 L1383.2 726.9 L1383.8 732.9 L1383 734.9 L1381.2 736.9 L1376 740.9 L1372.2 744.9 L1368.2 752.9 L1368 768.9 L1369.7 780.9 L1374.1 794.9 L1374 806.9 L1379.2 832.9 L1380 840.9 L1381.4 846.9 L1381.4 854.9 L1382.5 862.9 L1380.8 876.9 L1381.7 880.9 L1385.2 889.2 L1386 894.9 L1384.3 900.9 L1383.7 910.9 L1379.1 918.9 L1377.2 928.9 L1373.4 934.9 L1366.3 942.9 L1365.2 946.9 L1366.6 956.9 L1365.3 964.9 L1368 972.9 L1368.1 976.9 L1365.6 982.9 L1360.1 988.9 L1357.4 992.9 L1355.3 998.9 L1351.5 1006.9 L1350.7 1012.9 L1165.2 1012.9Z"/>
<path fill="#00c700" fill-rule="evenodd" d="M1165.2 576.9 L1400.2 576.9 L1399.3 600.9 L1397.9 612.9 L1393.2 622.9 L1391 632.9 L1388.7 636.9 L1380.1 646.9 L1376.4 654.9 L1375.4 658.9 L1376.4 662.9 L1379.8 670.9 L1386.5 678.9 L1388.2 682.9 L1387.6 690.9 L1388.1 698.9 L1387 706.9 L1387.5 714.9 L1386.6 718.9 L1382.9 724.9 L1382.4 726.9 L1383 732.9 L1382.2 734.9 L1380.4 736.9 L1375.2 740.9 L1371.5 744.9 L1367.5 752.9 L1367.2 766.9 L1368.6 778.9 L1373.4 794.9 L1373.3 806.9 L1378.1 830.9 L1380.6 846.9 L1380.7 854.9 L1381.8 862.9 L1380.1 874.9 L1380.4 878.9 L1385 890.9 L1385.3 894.9 L1383.4 900.9 L1383.3 908.9 L1382.8 910.9 L1378.1 918.9 L1376.1 928.9 L1372.3 934.9 L1366.6 940.9 L1364.2 944.9 L1364 946.9 L1365.4 956.9 L1363.9 964.9 L1366.7 972.9 L1366.8 976.9 L1364.2 982.9 L1358.7 988.9 L1356 992.9 L1353.9 998.9 L1350.1 1006.9 L1349.4 1012.9 L1165.2 1012.9Z"/>
<path fill="#00d100" fill-rule="evenodd" d="M1165.2 576.9 L1399.5 576.9 L1399.4 586.9 L1398.5 594.9 L1398.6 600.9 L1397.3 612.9 L1392.6 622.9 L1391.1 630.9 L1389.5 634.9 L1379.6 646.9 L1375.9 654.9 L1374.8 658.9 L1375.8 662.9 L1379.2 670.9 L1385.8 678.9 L1387.5 682.9 L1386.9 690.9 L1387.4 698.9 L1386.2 706.9 L1386.7 714.9 L1385.8 718.9 L1382.1 724.9 L1381.6 726.9 L1382.2 732.9 L1381.4 734.9 L1379.6 736.9 L1374.4 740.9 L1370.7 744.9 L1366.7 752.9 L1366.4 766.9 L1367.8 778.9 L1372.7 794.9 L1372.5 806.9 L1377.3 830.9 L1378.5 840.9 L1379.8 846.9 L1379.9 854.9 L1381 862.9 L1379.4 874.9 L1379.6 878.9 L1383.5 888.9 L1384.3 894.9 L1382.5 900.9 L1381.7 910.9 L1377.1 918.9 L1375 928.9 L1371.1 934.9 L1363.9 942.9 L1362.7 946.9 L1364 956.9 L1362.5 964.9 L1365.2 972.9 L1365.2 976.9 L1362.7 982.9 L1357.2 988.9 L1354.5 992.9 L1352.4 998.9 L1348.7 1006.9 L1348 1012.9 L1165.2 1012.9Z"/>
<path fill="#00db05" fill-rule="evenodd" d="M1165.2 576.9 L1398.8 576.9 L1398.6 586.9 L1397.8 594.9 L1397.9 600.9 L1396.6 612.9 L1391.9 622.9 L1390.5 630.9 L1389.2 634.1 L1387.6 636.9 L1379 646.9 L1375.3 654.9 L1374.2 658.9 L1374.5 660.9 L1378.5 670.9 L1385.1 678.9 L1386.8 682.9 L1386.2 690.9 L1386.7 698.9 L1385.5 706.9 L1385.7 716.9 L1381.3 724.9 L1380.8 726.9 L1381.4 732.9 L1380.6 734.9 L1378.8 736.9 L1373.6 740.9 L1369.9 744.9 L1366.7 750.9 L1365.6 754.9 L1365.7 766.9 L1366.3 774.9 L1368.1 782.9 L1371.9 794.9 L1371.8 806.9 L1376.5 830.9 L1377.7 840.9 L1379 846.9 L1379.1 854.9 L1380.1 862.9 L1378.4 876.9 L1379.3 880.9 L1383.1 890.9 L1383.4 894.9 L1381.5 900.9 L1380.6 910.9 L1375.8 918.9 L1373.7 928.9 L1369.8 934.9 L1362.5 942.9 L1361.3 946.9 L1362.5 956.9 L1360.9 964.9 L1363.5 972.9 L1363.5 976.9 L1361 982.9 L1355.5 988.9 L1352.9 992.9 L1350.8 998.9 L1347.1 1006.9 L1346.4 1012.9 L1165.2 1012.9Z"/>
<path fill="#00e50a" fill-rule="evenodd" d="M1165.2 576.9 L1398 576.9 L1397.9 586.9 L1397 594.9 L1397.2 600.9 L1395.9 612.9 L1391.3 622.9 L1389.2 632.9 L1386.9 636.9 L1378.4 646.9 L1374.6 654.9 L1373.6 658.9 L1374.5 662.9 L1377.9 670.9 L1384.4 678.9 L1386.1 682.9 L1385.5 690.9 L1385.9 698.9 L1384.7 706.9 L1384.9 716.9 L1380.4 724.9 L1380 726.9 L1380.6 732.9 L1379.7 734.9 L1377.9 736.9 L1372.7 740.9 L1369 744.9 L1365.9 750.9 L1364.8 754.9 L1364.8 766.9 L1365.5 774.9 L1367.8 784.9 L1371.1 794.9 L1371 806.9 L1375.7 830.9 L1376.8 840.9 L1378.1 846.9 L1378.1 854.9 L1379.2 862.9 L1377.5 874.9 L1377.7 878.9 L1381.5 888.9 L1382.3 894.9 L1380 902.9 L1379.9 908.9 L1379.4 910.9 L1374.6 918.9 L1372.4 928.9 L1368.4 934.9 L1361 942.9 L1359.7 946.9 L1360.9 956.9 L1359.2 964.9 L1361.8 972.9 L1361.7 976.9 L1359.2 982.9 L1353.8 988.9 L1351.2 992.9 L1349.2 998.9 L1345.5 1006.9 L1344.8 1012.9 L1165.2 1012.9Z"/>
<path fill="#00ef0f" fill-rule="evenodd" d="M1165.2 576.9 L1397.2 576.9 L1397 586.9 L1396.2 594.9 L1396.4 600.9 L1395.2 612.9 L1390.5 622.9 L1389.2 630.9 L1387.5 634.9 L1377.7 646.9 L1373.9 654.9 L1372.8 658.9 L1373.8 662.9 L1377.1 670.9 L1383.6 678.9 L1385.3 682.9 L1384.6 690.9 L1385.1 698.9 L1383.8 706.9 L1384 716.9 L1383.3 718.9 L1379.5 724.9 L1379.1 726.9 L1379.7 732.9 L1378.8 734.9 L1377 736.9 L1371.8 740.9 L1368.1 744.9 L1365 750.9 L1363.9 754.9 L1364 766.9 L1364.6 774.9 L1366.4 782.9 L1370.3 794.9 L1370.1 806.9 L1374.7 830.9 L1375.9 840.9 L1377.1 846.9 L1377.2 854.9 L1378.2 862.9 L1376.4 876.9 L1377.3 880.9 L1381 890.9 L1381.2 894.9 L1378.8 902.9 L1378.7 908.9 L1378.2 910.9 L1373.3 918.9 L1370.9 928.9 L1366.9 934.9 L1359.5 942.9 L1358.2 946.9 L1359.3 956.9 L1357.5 964.9 L1360 972.9 L1359.9 976.9 L1357.4 982.9 L1352 988.9 L1349.4 992.9 L1347.5 998.9 L1343.9 1006.9 L1343.2 1012.9 L1165.2 1012.9Z"/>
<path fill="#00fc14" fill-rule="evenodd" d="M1165.2 576.9 L1396.3 576.9 L1396.2 586.9 L1395.4 594.9 L1395.6 600.9 L1394.3 612.9 L1389.7 622.9 L1388.3 630.9 L1387.2 633.9 L1385.5 636.9 L1377 646.9 L1372.4 656.9 L1372 658.9 L1372.3 660.9 L1376.3 670.9 L1382.8 678.9 L1384.4 682.9 L1383.7 690.9 L1384.1 698.9 L1382.9 706.9 L1383.1 716.9 L1378.5 724.9 L1378 726.9 L1378.7 732.9 L1377.8 734.9 L1370.8 740.9 L1367.2 744.9 L1364 750.9 L1363 754.9 L1363.1 766.9 L1363.7 774.9 L1366.1 784.9 L1369.4 794.9 L1369.2 806.9 L1373.8 830.9 L1374.9 840.9 L1376.1 846.9 L1376.1 854.9 L1377.2 862.9 L1375.4 874.9 L1375.6 878.9 L1379.3 888.9 L1379.9 894.9 L1377.9 900.9 L1376.8 910.9 L1371.8 918.9 L1369.4 928.9 L1365.3 934.9 L1359.3 940.9 L1357.2 944 L1356.4 946.9 L1357.5 956.9 L1355.6 964.9 L1358 972.9 L1357.9 976.9 L1355.3 982.9 L1350 988.9 L1347.5 992.9 L1345.5 998.9 L1342 1006.9 L1341.3 1012.9 L1165.2 1012.9Z"/>
<path fill="#28fc00" fill-rule="evenodd" d="M1165.2 576.9 L1395.4 576.9 L1395.3 586.9 L1394.4 594.9 L1394.6 600.9 L1393.5 612.9 L1388.9 622.9 L1386.9 632.9 L1384.6 636.9 L1376.1 646.9 L1372.3 654.9 L1371.2 658.9 L1372.1 662.9 L1375.4 670.9 L1381.8 678.9 L1383.5 682.9 L1382.7 690.9 L1383.2 698.9 L1381.8 706.9 L1382 716.9 L1381.3 718.9 L1377.4 724.9 L1377 726.9 L1377.6 732.9 L1376.7 734.9 L1369.7 740.9 L1366.1 744.9 L1363 750.9 L1361.9 754.9 L1362 766.9 L1362.7 774.9 L1364.5 782.9 L1368.5 794.9 L1368.2 806.9 L1372.7 830.9 L1373.8 840.9 L1375 846.9 L1375 854.9 L1376 862.9 L1374.2 874.9 L1374.4 878.9 L1378 888.9 L1378.6 894.9 L1376.5 900.9 L1375.3 910.9 L1370.2 918.9 L1367.6 928.9 L1363.5 934.9 L1355.8 942.9 L1354.5 946.9 L1355.3 956.9 L1353.4 964.9 L1355.7 972.9 L1355.6 976.9 L1352.9 982.9 L1347.6 988.9 L1345.1 992.9 L1343.2 998.9 L1339.6 1006.9 L1338.9 1012.9 L1165.2 1012.9Z"/>
<path fill="#64fb00" fill-rule="evenodd" d="M1165.2 576.9 L1394.3 576.9 L1394.2 586.9 L1393.4 594.9 L1393.6 600.9 L1392.4 612.9 L1387.9 622.9 L1386.5 630.9 L1385.2 634.3 L1383.6 636.9 L1375.2 646.9 L1370.5 656.9 L1370.1 658.9 L1370.4 660.9 L1374.3 670.9 L1380.7 678.9 L1382.3 682.9 L1381.6 690.9 L1381.9 698.9 L1380.6 706.9 L1380.7 716.9 L1376.1 724.9 L1375.7 726.9 L1376.3 732.9 L1375.5 734.9 L1368.5 740.9 L1364.9 744.9 L1361.8 750.9 L1360.7 754.9 L1360.9 766.9 L1361.6 774.9 L1364.1 784.9 L1367.5 794.9 L1367.2 806.9 L1371.6 830.9 L1372.6 840.9 L1373.8 846.9 L1373.8 854.9 L1374.7 862.9 L1372.8 876.9 L1373.6 880.9 L1376.6 888.9 L1377.1 894.9 L1374.5 902.9 L1374.1 908.9 L1373.6 910.9 L1368.4 918.9 L1365.7 928.9 L1361.5 934.9 L1353.7 942.9 L1352.3 946.9 L1353 956.9 L1351 964.9 L1353.2 972.9 L1353 976.9 L1350.3 982.9 L1345 988.9 L1342.4 992.9 L1340.5 998.9 L1337 1006.9 L1336.3 1012.9 L1165.2 1012.9Z"/>
<path fill="#91fa00" fill-rule="evenodd" d="M1165.2 576.9 L1393.2 576.9 L1393.1 586.9 L1392.2 594.9 L1392.4 600.9 L1391.3 612.9 L1386.7 622.9 L1384.7 632.9 L1382.5 636.9 L1374 646.9 L1370.1 654.9 L1369 658.9 L1369.8 662.9 L1373.1 670.9 L1379.4 678.9 L1381.1 682.9 L1380.2 690.9 L1380.6 698.9 L1379.2 706.9 L1379.3 716.9 L1374.6 724.9 L1374.1 726.9 L1374.9 732.9 L1374 734.9 L1367.1 740.9 L1363.5 744.9 L1360.4 750.9 L1359.4 754.9 L1360.1 772.9 L1362.2 782.9 L1366.2 794.9 L1365.9 806.9 L1370.2 830.9 L1372.4 846.9 L1372.3 854.9 L1373.3 862.9 L1371.4 876.9 L1372.1 880.9 L1375.1 888.9 L1375.5 894.9 L1372.7 902.9 L1371.6 910.9 L1366.3 918.9 L1363.5 928.9 L1359.2 934.9 L1351.3 942.9 L1349.8 946.9 L1350.4 956.9 L1348.3 964.9 L1350.3 972.9 L1350.1 976.9 L1347.3 982.9 L1341.9 988.9 L1339.4 992.9 L1337.4 998.9 L1333.8 1006.9 L1333.2 1012.9 L1165.2 1012.9Z"/>
<path fill="#c0f900" fill-rule="evenodd" d="M1165.2 576.9 L1391.8 576.9 L1391.7 586.9 L1390.8 594.9 L1391.1 600.9 L1389.9 612.9 L1385.4 622.9 L1383.2 633.2 L1381.2 636.9 L1372.6 646.9 L1368.7 654.9 L1367.5 658.9 L1368.3 662.9 L1371.5 670.9 L1377.8 678.9 L1379.5 682.9 L1378.6 690.9 L1378.9 698.9 L1377.5 706.9 L1377.5 716.9 L1372.8 724.9 L1372.3 726.9 L1373.1 732.9 L1372.2 734.9 L1365.3 740.9 L1361.7 744.9 L1358.7 750.9 L1357.7 754.9 L1358.6 772.9 L1360.2 780.9 L1364.9 794.9 L1364.5 806.9 L1369 832.9 L1369.6 840.9 L1370.8 846.9 L1370.7 854.9 L1371.6 862.9 L1369.6 876.9 L1370.3 880.9 L1373.2 888.9 L1373.5 894.9 L1370.5 902.9 L1369.3 910.9 L1363.9 918.9 L1360.9 928.9 L1356.4 934.9 L1348.4 942.9 L1346.8 946.9 L1347.2 956.9 L1344.9 964.9 L1346.8 972.9 L1346.4 976.9 L1343.5 982.9 L1337.9 988.9 L1335.1 992.9 L1328.9 1006.9 L1328.1 1012.9 L1165.2 1012.9Z"/>
<path fill="#cdf800" fill-rule="evenodd" d="M1165.2 576.9 L1389.9 576.9 L1389.1 594.9 L1389.3 600.9 L1388.1 612.9 L1383.5 622.9 L1381.2 633.6 L1379.3 636.9 L1370.8 646.9 L1365.9 656.9 L1365.6 658.9 L1366.4 662.9 L1369.5 670.9 L1375.7 678.9 L1377.4 682.9 L1376.5 690.9 L1376.8 698.9 L1375.3 706.9 L1375.2 716.9 L1370.4 724.9 L1370 726.9 L1370.8 732.9 L1369.9 734.9 L1363.1 740.9 L1359.6 744.9 L1356.6 750.9 L1355.6 754.9 L1356.2 768.9 L1357.4 776.9 L1359.6 784.9 L1363.3 794.9 L1362.8 806.9 L1367.2 832.9 L1367.7 840.9 L1369 848.9 L1368.7 854.9 L1369.5 862.9 L1367.5 876.9 L1368.2 880.9 L1370.9 888.9 L1371.4 892.9 L1371 894.9 L1367.9 902.9 L1367.2 908.9 L1365.3 912.9 L1360.8 918.9 L1357.6 928.9 L1353.2 934.6 L1348.6 938.9 L1344.8 942.9 L1343.2 946.9 L1343.4 956.9 L1340.9 964.9 L1342.6 972.9 L1342.1 976.9 L1339 982.9 L1332.9 988.9 L1329.9 992.9 L1327.3 998.9 L1323.7 1004.9 L1322.4 1008.9 L1322.2 1012.9 L1165.2 1012.9Z"/>
<path fill="#dcf200" fill-rule="evenodd" d="M1165.2 576.9 L1387.4 576.9 L1387.3 586.9 L1386.5 594.9 L1386.7 600.9 L1385.6 612.9 L1381 622.9 L1379 632.9 L1376.8 636.9 L1368.2 646.9 L1364.1 654.9 L1362.9 658.9 L1363.6 662.9 L1366.7 670.9 L1372.8 678.9 L1374.4 682.9 L1373.4 690.9 L1373.5 698.9 L1371.9 706.9 L1371.7 716.9 L1367 724.9 L1366.5 726.9 L1367.4 732.9 L1366.7 734.9 L1365 736.9 L1359.9 740.9 L1356.5 744.9 L1353.6 750.9 L1352.7 754.9 L1353.4 766.9 L1354.4 774.9 L1356.5 782.9 L1361 794.9 L1360.4 806.9 L1364.7 832.9 L1365.2 840.9 L1366.3 846.9 L1366.1 854.9 L1367 860.9 L1364.7 876.9 L1365.5 880.9 L1367.6 886.9 L1368.3 892.9 L1367.9 894.9 L1364.4 902.9 L1363.5 908.9 L1362.8 910.9 L1356.8 918.9 L1354.1 926.9 L1351.8 930.9 L1348.3 934.9 L1343.9 938.9 L1339.8 942.9 L1338 946.9 L1337.7 956.9 L1334.9 964.9 L1336.3 972.9 L1335.7 976.9 L1332.2 982.9 L1325.4 988.9 L1321.8 992.9 L1314.2 1004.9 L1312.8 1008.9 L1312.6 1012.9 L1165.2 1012.9Z"/>
<path fill="#ebeb00" fill-rule="evenodd" d="M1165.2 576.9 L1383.4 576.9 L1383.3 586.9 L1382.5 594.9 L1382.7 600.9 L1381.6 612.9 L1377.7 620.9 L1375 632.9 L1372.6 636.9 L1364.1 646.9 L1359.9 654.9 L1358.8 658.9 L1359.5 662.9 L1362.4 670.9 L1368.4 678.9 L1369.9 682.9 L1368.9 690.9 L1369 698.9 L1367.3 706.9 L1367 716.9 L1362 724.9 L1361.7 726.9 L1362.8 732.9 L1362 734.9 L1355.2 740.9 L1351.9 744.9 L1349.3 750.9 L1348.5 754.9 L1349.5 768.9 L1350.5 774.9 L1352.1 780.9 L1357.4 794.9 L1356.8 806.9 L1360.9 832.9 L1361.4 840.9 L1362.5 846.9 L1362.3 854.9 L1363.1 860.9 L1360.8 876.9 L1361.5 880.9 L1363.4 886.9 L1363.9 892.9 L1363.2 895.4 L1359.7 902.9 L1359.1 906.9 L1357.7 910.9 L1351.5 918.9 L1347.5 928.9 L1341.2 935.9 L1335.4 940.9 L1332.3 944.9 L1331.7 946.9 L1331.2 956.9 L1328 964.9 L1329.1 972.9 L1328.9 974.9 L1327.3 978.9 L1324.1 982.9 L1314.4 990.9 L1304.6 1002.9 L1302.2 1006.9 L1301.4 1012.9 L1165.2 1012.9Z"/>
<path fill="#f3e400" fill-rule="evenodd" d="M1165.2 576.9 L1370.8 576.9 L1370.7 586.9 L1370 594.9 L1370.2 600.9 L1369.1 612.9 L1364.6 622.9 L1363.3 630.9 L1361.8 634.9 L1352 646.9 L1347.7 654.9 L1346.4 658.9 L1347.1 662.9 L1350.1 670.9 L1356.2 678.9 L1357.6 682.9 L1356.5 690.9 L1356.5 698.9 L1354.8 706.9 L1354.5 716.9 L1349.6 724.9 L1349.2 726.9 L1350.3 732.9 L1349.6 734.9 L1348 736.9 L1343.1 740.9 L1339.6 744.9 L1336.9 750.9 L1336 754.9 L1336.9 766.9 L1338.2 774.9 L1340.5 782.9 L1345.2 794.9 L1344.6 806.9 L1348.4 830.9 L1349.1 840.9 L1350.2 846.9 L1349.8 854.9 L1350.4 862.9 L1347.9 876.9 L1348.7 884.9 L1348.5 888.9 L1342.4 910.9 L1337.9 918.9 L1335.1 926.9 L1331.3 932.9 L1325 938.9 L1320.9 942.9 L1319.6 944.9 L1318.9 946.9 L1317.8 956.9 L1313.9 964.9 L1312.7 968.9 L1311.2 971.2 L1307.2 974.8 L1287.2 988.8 L1261.1 1004.9 L1257.5 1008.9 L1256.6 1012.9 L1235.1 1012.9 L1234.1 1008.9 L1230.4 1004.9 L1211.2 992.7 L1205.2 987.7 L1199.2 981.7 L1193.8 974.9 L1189.2 968.1 L1175.2 942 L1171.2 937.6 L1169.2 936.7 L1165.2 936.1Z"/>
<path fill="#fada00" fill-rule="evenodd" d="M1165.2 576.9 L1347.3 576.9 L1349.1 614.9 L1347.7 632.9 L1344.9 638.9 L1338.5 646.9 L1334.3 654.9 L1333 658.9 L1333.7 662.9 L1336.6 670.9 L1342.3 678.9 L1343.4 682.9 L1342.3 690.9 L1342.1 698.9 L1340.3 706.9 L1339.8 714.9 L1338.8 718.9 L1335.2 724.9 L1334.8 726.9 L1335.5 732.9 L1334.9 734.9 L1325.8 744.9 L1323.2 750.9 L1322.4 754.9 L1323.4 766.9 L1324.7 774.9 L1327.1 782.9 L1331.7 794.9 L1331.2 806.9 L1334.5 830.9 L1334.7 846.9 L1332.1 860.9 L1329.2 871.6 L1324.6 886.9 L1318.2 904.9 L1311.9 918.9 L1305.2 929.9 L1297.2 939.4 L1287.2 948.1 L1276.3 954.9 L1265.2 959.3 L1255.2 961 L1245.2 960.3 L1237.2 957.8 L1231.2 954.8 L1223.2 949 L1217.2 943 L1211.2 935.5 L1205.5 926.9 L1186.9 894.9 L1177.2 879.8 L1173.2 875.3 L1171.2 873.9 L1165.2 872.7Z"/>
<path fill="#fdcf00" fill-rule="evenodd" d="M1183.1 576.9 L1318.3 576.9 L1320.3 614.9 L1320 628.9 L1318.7 642.9 L1312.9 670.9 L1301.2 705.3 L1297.5 718.9 L1294.9 732.9 L1293.8 746.9 L1294.5 762.9 L1297 776.9 L1300 786.9 L1308.2 808.9 L1310.8 818.9 L1312.2 830.9 L1312 842.9 L1309.8 856.9 L1305.5 870.9 L1300.1 882.9 L1292.6 894.9 L1286.2 902.9 L1279.2 909.6 L1273.2 913.9 L1265.2 917.7 L1259.2 919 L1253.2 919.1 L1247.2 917.8 L1239.2 914.2 L1233.2 910.1 L1227.2 904.8 L1221.2 898.5 L1213.2 888.7 L1203.3 874.9 L1194.4 860.9 L1173.2 821.9 L1169.2 818.5 L1165.2 817.7 L1165.2 741.7 L1167.2 740.8 L1169.2 738.1 L1171.2 730.4 L1174.7 680.9 L1178 656.9 L1185.5 612.9 L1185.8 600.9 L1183.4 584.9Z"/>
<path fill="#ffc000" fill-rule="evenodd" d="M1229.8 648.9 L1239.2 647.8 L1247.2 648.3 L1255.2 650.2 L1261.2 653 L1266 656.9 L1270.1 662.9 L1273 670.9 L1274.4 678.9 L1274.9 694.9 L1270.4 746.9 L1270.1 760.9 L1270.5 772.9 L1271.8 784.9 L1273.8 794.9 L1281.8 820.9 L1284.3 830.9 L1285.4 838.9 L1285.2 846.9 L1284 852.9 L1282 858.9 L1278.8 864.9 L1275.2 869.8 L1271.2 873.8 L1265.2 877.8 L1261.2 879.3 L1255.2 880.2 L1247.2 878.7 L1243.1 876.9 L1237.2 873.2 L1228.2 864.9 L1219.2 853.4 L1210.9 838.9 L1203.2 821.5 L1197.9 804.9 L1195.2 790.9 L1194.4 774.9 L1195.4 742.9 L1195.6 710.9 L1196.5 696.9 L1198.6 684.9 L1201 676.9 L1203.2 671.5 L1207 664.9 L1210 660.9 L1213.9 656.9 L1219.2 653 L1225.2 650.2Z"/>
<path fill="#000" fill-opacity="0.5" d="M1172.4 584.6 L1176.8 572.6 L1174.9 572.9 L1180.1 566.1 L1179.7 574.6 L1178.5 573.2 L1174.1 585.2ZM1195.3 584.6 L1199.7 572.6 L1197.8 572.9 L1203 566.1 L1202.6 574.6 L1201.4 573.2 L1197 585.2ZM1218.2 584.6 L1222.6 572.6 L1220.7 572.9 L1225.9 566.1 L1225.5 574.6 L1224.3 573.2 L1219.9 585.2ZM1241.1 584.6 L1245.5 572.6 L1243.6 572.9 L1248.8 566.1 L1248.4 574.6 L1247.2 573.2 L1242.8 585.2ZM1264 584.6 L1268.4 572.6 L1266.6 572.9 L1271.7 566.1 L1271.3 574.6 L1270.1 573.2 L1265.8 585.2ZM1286.9 584.6 L1291.3 572.6 L1289.5 572.9 L1294.6 566.1 L1294.2 574.6 L1293 573.2 L1288.7 585.2ZM1309.8 584.6 L1314.4 572.6 L1312.6 572.9 L1317.9 566.2 L1317.3 574.7 L1316.1 573.3 L1311.6 585.2ZM1332.8 584.6 L1337.5 572.7 L1335.7 573 L1341.1 566.4 L1340.4 574.9 L1339.3 573.4 L1334.5 585.2ZM1355.7 584.5 L1360.7 572.8 L1358.8 573 L1364.3 566.5 L1363.5 575 L1362.4 573.5 L1357.4 585.3ZM1378.6 584.5 L1383.8 572.8 L1381.9 573 L1387.6 566.6 L1386.6 575.1 L1385.5 573.6 L1380.3 585.3ZM1172.4 610.8 L1176.8 598.8 L1175 599.1 L1180.2 592.4 L1179.7 600.9 L1178.5 599.5 L1174.1 611.5ZM1195.3 610.8 L1199.7 598.8 L1197.9 599.1 L1203.1 592.4 L1202.7 600.9 L1201.5 599.5 L1197 611.5ZM1218.2 610.8 L1222.6 598.8 L1220.8 599.1 L1226 592.4 L1225.6 600.9 L1224.4 599.5 L1219.9 611.5ZM1241.1 610.8 L1245.5 598.8 L1243.7 599.1 L1248.9 592.4 L1248.5 600.9 L1247.3 599.5 L1242.8 611.5ZM1264 610.8 L1268.4 598.8 L1266.6 599.1 L1271.8 592.4 L1271.4 600.9 L1270.2 599.5 L1265.8 611.5ZM1286.9 610.8 L1291.4 598.8 L1289.5 599.1 L1294.7 592.4 L1294.3 600.9 L1293.1 599.5 L1288.7 611.5ZM1309.8 610.8 L1314.5 598.9 L1312.6 599.2 L1318 592.5 L1317.4 601 L1316.2 599.6 L1311.6 611.5ZM1332.8 610.8 L1337.6 599 L1335.8 599.2 L1341.2 592.6 L1340.5 601.1 L1339.3 599.7 L1334.5 611.5ZM1355.7 610.8 L1360.7 599 L1358.9 599.2 L1364.4 592.8 L1363.5 601.3 L1362.4 599.8 L1357.4 611.5ZM1378.6 610.8 L1383.8 599.1 L1382 599.3 L1387.6 592.9 L1386.6 601.4 L1385.5 599.9 L1380.3 611.5ZM1172.4 637.1 L1176.9 625.1 L1175 625.4 L1180.3 618.7 L1179.8 627.2 L1178.6 625.7 L1174.1 637.7ZM1195.3 637.1 L1199.8 625.1 L1197.9 625.4 L1203.2 618.7 L1202.7 627.2 L1201.5 625.7 L1197 637.7ZM1218.2 637.1 L1222.7 625.1 L1220.8 625.4 L1226.1 618.7 L1225.6 627.2 L1224.4 625.7 L1219.9 637.7ZM1241.1 637.1 L1245.6 625.1 L1243.7 625.4 L1249 618.7 L1248.5 627.2 L1247.3 625.7 L1242.8 637.7ZM1264 637.1 L1268.5 625.1 L1266.7 625.4 L1271.9 618.7 L1271.4 627.2 L1270.2 625.7 L1265.8 637.7ZM1286.9 637.1 L1291.4 625.1 L1289.6 625.4 L1294.8 618.7 L1294.3 627.2 L1293.1 625.7 L1288.7 637.7ZM1309.8 637.1 L1314.5 625.2 L1312.7 625.4 L1318 618.8 L1317.4 627.3 L1316.3 625.8 L1311.6 637.7ZM1332.8 637 L1337.7 625.2 L1335.8 625.5 L1341.3 618.9 L1340.5 627.4 L1339.4 625.9 L1334.5 637.8ZM1355.7 637 L1360.8 625.3 L1358.9 625.5 L1364.5 619.1 L1363.6 627.5 L1362.5 626 L1357.4 637.8ZM1378.6 637 L1383.9 625.4 L1382 625.6 L1387.7 619.2 L1386.7 627.7 L1385.6 626.1 L1380.3 637.8ZM1172.4 663.3 L1176.9 651.4 L1175.1 651.7 L1180.3 644.9 L1179.8 653.5 L1178.6 652 L1174.1 664ZM1195.3 663.3 L1199.8 651.4 L1198 651.7 L1203.2 644.9 L1202.7 653.5 L1201.6 652 L1197 664ZM1218.2 663.3 L1222.7 651.4 L1220.9 651.7 L1226.2 644.9 L1225.6 653.5 L1224.5 652 L1219.9 664ZM1241.1 663.3 L1245.6 651.4 L1243.8 651.7 L1249.1 644.9 L1248.6 653.5 L1247.4 652 L1242.8 664ZM1264 663.3 L1268.6 651.4 L1266.7 651.7 L1272 644.9 L1271.5 653.5 L1270.3 652 L1265.8 664ZM1286.9 663.3 L1291.5 651.4 L1289.6 651.7 L1294.9 644.9 L1294.4 653.5 L1293.2 652 L1288.7 664ZM1309.8 663.3 L1314.6 651.4 L1312.7 651.7 L1318.1 645.1 L1317.5 653.6 L1316.3 652.1 L1311.6 664ZM1332.8 663.3 L1337.7 651.5 L1335.9 651.7 L1341.3 645.2 L1340.5 653.7 L1339.4 652.2 L1334.5 664ZM1355.7 663.3 L1360.8 651.6 L1359 651.8 L1364.6 645.3 L1363.6 653.8 L1362.5 652.3 L1357.4 664ZM1172.4 689.6 L1177 677.6 L1175.1 677.9 L1180.4 671.2 L1179.9 679.7 L1178.7 678.3 L1174.1 690.2ZM1195.3 689.6 L1199.9 677.6 L1198 677.9 L1203.3 671.2 L1202.8 679.7 L1201.6 678.3 L1197 690.2ZM1218.2 689.6 L1222.8 677.6 L1220.9 677.9 L1226.2 671.2 L1225.7 679.7 L1224.5 678.3 L1219.9 690.2ZM1241.1 689.6 L1245.7 677.6 L1243.9 677.9 L1249.1 671.2 L1248.6 679.7 L1247.4 678.3 L1242.8 690.2ZM1264 689.6 L1268.6 677.6 L1266.8 677.9 L1272.1 671.2 L1271.5 679.7 L1270.3 678.3 L1265.7 690.2ZM1286.9 689.6 L1291.5 677.6 L1289.7 677.9 L1295 671.2 L1294.4 679.7 L1293.2 678.3 L1288.7 690.2ZM1309.8 689.6 L1314.6 677.7 L1312.8 678 L1318.2 671.4 L1317.5 679.9 L1316.4 678.4 L1311.6 690.2ZM1332.8 689.5 L1337.8 677.8 L1335.9 678 L1341.4 671.5 L1340.6 680 L1339.5 678.5 L1334.5 690.3ZM1355.7 689.5 L1360.9 677.8 L1359 678 L1364.7 671.6 L1363.7 680.1 L1362.6 678.6 L1357.4 690.3ZM1378.6 689.5 L1384 677.9 L1382.1 678.1 L1387.9 671.8 L1386.7 680.2 L1385.7 678.7 L1380.3 690.3ZM1172.4 715.8 L1177 703.9 L1175.1 704.2 L1180.4 697.5 L1179.9 706 L1178.7 704.5 L1174.1 716.5ZM1195.3 715.8 L1199.9 703.9 L1198 704.2 L1203.3 697.5 L1202.8 706 L1201.6 704.5 L1197 716.5ZM1218.2 715.8 L1222.8 703.9 L1220.9 704.2 L1226.2 697.5 L1225.7 706 L1224.5 704.5 L1219.9 716.5ZM1241.1 715.8 L1245.7 703.9 L1243.9 704.2 L1249.1 697.5 L1248.6 706 L1247.4 704.5 L1242.8 716.5ZM1264 715.8 L1268.6 703.9 L1266.8 704.2 L1272.1 697.5 L1271.5 706 L1270.3 704.5 L1265.7 716.5ZM1286.9 715.8 L1291.6 703.9 L1289.7 704.2 L1295 697.5 L1294.5 706 L1293.3 704.6 L1288.7 716.5ZM1309.8 715.8 L1314.7 704 L1312.8 704.2 L1318.3 697.6 L1317.5 706.1 L1316.4 704.7 L1311.6 716.5ZM1332.8 715.8 L1337.8 704 L1336 704.2 L1341.5 697.8 L1340.6 706.3 L1339.5 704.8 L1334.5 716.5ZM1355.7 715.8 L1361 704.1 L1359.1 704.3 L1364.8 698 L1363.8 706.4 L1362.7 704.9 L1357.4 716.5ZM1378.6 715.7 L1384.2 704.2 L1382.3 704.4 L1388.1 698.1 L1386.9 706.6 L1385.8 705 L1380.3 716.6ZM1172.4 742.1 L1177 730.1 L1175.1 730.4 L1180.4 723.7 L1179.9 732.2 L1178.7 730.8 L1174.1 742.7ZM1195.3 742.1 L1199.9 730.1 L1198 730.4 L1203.3 723.7 L1202.8 732.2 L1201.6 730.8 L1197 742.7ZM1218.2 742.1 L1222.8 730.1 L1220.9 730.4 L1226.2 723.7 L1225.7 732.2 L1224.5 730.8 L1219.9 742.7ZM1241.1 742.1 L1245.7 730.1 L1243.9 730.4 L1249.1 723.7 L1248.6 732.2 L1247.4 730.8 L1242.8 742.7ZM1264 742.1 L1268.6 730.1 L1266.8 730.4 L1272.1 723.7 L1271.5 732.2 L1270.3 730.8 L1265.7 742.7ZM1286.9 742.1 L1291.6 730.2 L1289.8 730.4 L1295.1 723.8 L1294.5 732.3 L1293.3 730.8 L1288.7 742.7ZM1309.8 742 L1314.7 730.2 L1312.9 730.5 L1318.4 723.9 L1317.6 732.4 L1316.5 730.9 L1311.6 742.8ZM1332.8 742 L1337.9 730.3 L1336 730.5 L1341.6 724.1 L1340.7 732.5 L1339.6 731 L1334.5 742.8ZM1355.7 742 L1361.1 730.4 L1359.2 730.6 L1365 724.3 L1363.8 732.7 L1362.8 731.2 L1357.4 742.8ZM1172.4 768.3 L1177 756.4 L1175.1 756.7 L1180.4 750 L1179.9 758.5 L1178.7 757 L1174.1 769ZM1195.3 768.3 L1199.9 756.4 L1198 756.7 L1203.3 750 L1202.8 758.5 L1201.6 757 L1197 769ZM1218.2 768.3 L1222.8 756.4 L1220.9 756.7 L1226.2 750 L1225.7 758.5 L1224.5 757 L1219.9 769ZM1241.1 768.3 L1245.7 756.4 L1243.9 756.7 L1249.1 750 L1248.6 758.5 L1247.4 757 L1242.8 769ZM1264 768.3 L1268.6 756.4 L1266.8 756.7 L1272.1 750 L1271.5 758.5 L1270.3 757 L1265.7 769ZM1286.9 768.3 L1291.7 756.4 L1289.8 756.7 L1295.2 750.1 L1294.6 758.6 L1293.4 757.1 L1288.7 769ZM1309.9 768.3 L1314.8 756.5 L1312.9 756.7 L1318.4 750.2 L1317.6 758.7 L1316.5 757.2 L1311.6 769ZM1332.8 768.3 L1337.9 756.6 L1336.1 756.8 L1341.7 750.3 L1340.7 758.8 L1339.6 757.3 L1334.5 769ZM1355.7 768.3 L1361.2 756.7 L1359.3 756.9 L1365.1 750.6 L1363.9 759 L1362.9 757.5 L1357.4 769ZM1172.4 794.6 L1177 782.6 L1175.1 782.9 L1180.4 776.2 L1179.9 784.7 L1178.7 783.3 L1174.1 795.2ZM1195.3 794.6 L1199.9 782.6 L1198 782.9 L1203.3 776.2 L1202.8 784.7 L1201.6 783.3 L1197 795.2ZM1218.2 794.6 L1222.8 782.6 L1220.9 782.9 L1226.2 776.2 L1225.7 784.7 L1224.5 783.3 L1219.9 795.2ZM1241.1 794.6 L1245.7 782.6 L1243.9 782.9 L1249.1 776.2 L1248.6 784.7 L1247.4 783.3 L1242.8 795.2ZM1264 794.6 L1268.6 782.6 L1266.8 782.9 L1272.1 776.2 L1271.5 784.7 L1270.3 783.3 L1265.7 795.2ZM1286.9 794.6 L1291.7 782.7 L1289.9 783 L1295.3 776.4 L1294.6 784.9 L1293.4 783.4 L1288.7 795.2ZM1309.9 794.5 L1314.8 782.8 L1313 783 L1318.5 776.5 L1317.7 785 L1316.6 783.5 L1311.6 795.3ZM1332.8 794.5 L1338 782.8 L1336.1 783 L1341.7 776.6 L1340.8 785.1 L1339.7 783.6 L1334.5 795.3ZM1355.7 794.5 L1361.3 783 L1359.4 783.1 L1365.3 776.9 L1364 785.4 L1363 783.8 L1357.4 795.3ZM1172.4 820.8 L1177 808.9 L1175.1 809.2 L1180.4 802.5 L1179.9 811 L1178.7 809.5 L1174.1 821.5ZM1195.3 820.8 L1199.9 808.9 L1198 809.2 L1203.3 802.5 L1202.8 811 L1201.6 809.5 L1197 821.5ZM1218.2 820.8 L1222.8 808.9 L1220.9 809.2 L1226.2 802.5 L1225.7 811 L1224.5 809.5 L1219.9 821.5ZM1241.1 820.8 L1245.7 808.9 L1243.9 809.2 L1249.1 802.5 L1248.6 811 L1247.4 809.5 L1242.8 821.5ZM1264 820.8 L1268.7 808.9 L1266.8 809.2 L1272.1 802.5 L1271.6 811 L1270.4 809.6 L1265.7 821.5ZM1286.9 820.8 L1291.8 809 L1290 809.2 L1295.4 802.7 L1294.7 811.2 L1293.5 809.7 L1288.7 821.5ZM1309.9 820.8 L1315 809.1 L1313.2 809.3 L1318.8 802.8 L1317.8 811.3 L1316.7 809.8 L1311.6 821.5ZM1332.8 820.8 L1338.3 809.2 L1336.4 809.4 L1342.2 803.1 L1341 811.5 L1340 810 L1334.4 821.5ZM1355.7 820.7 L1361.7 809.4 L1359.8 809.5 L1365.9 803.5 L1364.3 811.9 L1363.3 810.3 L1357.3 821.6ZM1172.4 847.1 L1177 835.1 L1175.1 835.4 L1180.4 828.7 L1179.9 837.2 L1178.7 835.8 L1174.1 847.7ZM1195.3 847.1 L1199.9 835.1 L1198 835.4 L1203.3 828.7 L1202.8 837.2 L1201.6 835.8 L1197 847.7ZM1218.2 847.1 L1222.8 835.1 L1220.9 835.4 L1226.2 828.7 L1225.7 837.2 L1224.5 835.8 L1219.9 847.7ZM1241.1 847.1 L1245.7 835.1 L1243.9 835.4 L1249.1 828.7 L1248.6 837.2 L1247.4 835.8 L1242.8 847.7ZM1264 847.1 L1268.7 835.2 L1266.9 835.4 L1272.2 828.8 L1271.6 837.3 L1270.4 835.8 L1265.7 847.7ZM1286.9 847 L1291.9 835.3 L1290.1 835.5 L1295.6 829 L1294.8 837.5 L1293.6 836 L1288.6 847.8ZM1309.9 847 L1315.2 835.4 L1313.3 835.6 L1319 829.2 L1317.9 837.7 L1316.8 836.1 L1311.5 847.8ZM1332.8 847 L1338.6 835.6 L1336.7 835.7 L1342.7 829.6 L1341.3 838 L1340.2 836.4 L1334.4 847.8ZM1355.7 846.9 L1362.1 835.9 L1360.2 835.9 L1366.5 830.1 L1364.7 838.4 L1363.7 836.8 L1357.3 847.9ZM1172.4 873.3 L1177 861.4 L1175.1 861.7 L1180.4 855 L1179.9 863.5 L1178.7 862 L1174.1 874ZM1195.3 873.3 L1199.9 861.4 L1198 861.7 L1203.3 855 L1202.8 863.5 L1201.6 862 L1197 874ZM1218.2 873.3 L1222.8 861.4 L1220.9 861.7 L1226.2 855 L1225.7 863.5 L1224.5 862 L1219.9 874ZM1241.1 873.3 L1245.7 861.4 L1243.9 861.7 L1249.1 855 L1248.6 863.5 L1247.4 862 L1242.8 874ZM1264 873.3 L1268.8 861.4 L1266.9 861.7 L1272.3 855.1 L1271.6 863.6 L1270.5 862.1 L1265.7 874ZM1286.9 873.3 L1292 861.6 L1290.2 861.8 L1295.8 855.3 L1294.9 863.8 L1293.7 862.3 L1288.6 874ZM1309.9 873.3 L1315.3 861.7 L1313.5 861.8 L1319.2 855.6 L1318.1 864 L1317 862.5 L1311.5 874ZM1332.8 873.2 L1338.9 862 L1337 862 L1343.2 856.1 L1341.5 864.4 L1340.5 862.9 L1334.4 874.1ZM1355.7 873.2 L1362.5 862.3 L1360.7 862.2 L1367.1 856.7 L1365 864.9 L1364.1 863.3 L1357.3 874.1ZM1172.4 899.6 L1177 887.6 L1175.1 887.9 L1180.4 881.2 L1179.9 889.7 L1178.7 888.3 L1174.1 900.2ZM1195.3 899.6 L1199.9 887.6 L1198 887.9 L1203.3 881.2 L1202.8 889.7 L1201.6 888.3 L1197 900.2ZM1218.2 899.6 L1222.8 887.6 L1220.9 887.9 L1226.2 881.2 L1225.7 889.7 L1224.5 888.3 L1219.9 900.2ZM1241.1 899.6 L1245.7 887.6 L1243.9 887.9 L1249.1 881.2 L1248.6 889.7 L1247.4 888.3 L1242.8 900.2ZM1264 899.6 L1268.8 887.7 L1267 888 L1272.4 881.4 L1271.7 889.9 L1270.5 888.4 L1265.7 900.2ZM1287 899.5 L1292.2 887.8 L1290.3 888 L1295.9 881.6 L1294.9 890.1 L1293.8 888.6 L1288.6 900.3ZM1309.9 899.5 L1315.5 888 L1313.6 888.1 L1319.5 881.9 L1318.2 890.4 L1317.1 888.8 L1311.5 900.3ZM1332.8 899.4 L1339.2 888.4 L1337.3 888.4 L1343.6 882.6 L1341.7 890.9 L1340.8 889.3 L1334.4 900.4ZM1355.8 899.4 L1362.9 888.8 L1361 888.6 L1367.7 883.3 L1365.3 891.5 L1364.4 889.8 L1357.3 900.4ZM1378.7 899.4 L1386.2 889 L1384.3 888.8 L1391.2 883.7 L1388.5 891.8 L1387.7 890.1 L1380.2 900.4ZM1172.4 925.8 L1177 913.9 L1175.1 914.2 L1180.4 907.5 L1179.9 916 L1178.7 914.5 L1174.1 926.5ZM1195.3 925.8 L1199.9 913.9 L1198 914.2 L1203.3 907.5 L1202.8 916 L1201.6 914.5 L1197 926.5ZM1218.2 925.8 L1222.8 913.9 L1220.9 914.2 L1226.2 907.5 L1225.7 916 L1224.5 914.5 L1219.9 926.5ZM1241.1 925.8 L1245.7 913.9 L1243.9 914.2 L1249.1 907.5 L1248.6 916 L1247.4 914.5 L1242.8 926.5ZM1264 925.8 L1268.9 914 L1267 914.2 L1272.5 907.6 L1271.7 916.1 L1270.6 914.7 L1265.7 926.5ZM1287 925.8 L1292.3 914.1 L1290.4 914.3 L1296.1 908 L1295 916.4 L1293.9 914.9 L1288.6 926.5ZM1309.9 925.7 L1315.7 914.3 L1313.8 914.4 L1319.8 908.3 L1318.4 916.7 L1317.3 915.2 L1311.5 926.6ZM1332.8 925.7 L1339.4 914.7 L1337.5 914.7 L1343.9 909 L1341.9 917.3 L1341 915.7 L1334.4 926.6ZM1355.8 925.6 L1363 915.1 L1361.1 914.9 L1367.9 909.7 L1365.3 917.8 L1364.5 916.1 L1357.3 926.7ZM1172.4 952.1 L1177 940.1 L1175.1 940.4 L1180.4 933.7 L1179.9 942.2 L1178.7 940.8 L1174.1 952.7ZM1195.3 952.1 L1199.9 940.1 L1198 940.4 L1203.3 933.7 L1202.8 942.2 L1201.6 940.8 L1197 952.7ZM1218.2 952.1 L1222.8 940.1 L1220.9 940.4 L1226.2 933.7 L1225.7 942.2 L1224.5 940.8 L1219.9 952.7ZM1241.1 952.1 L1245.7 940.1 L1243.9 940.4 L1249.1 933.7 L1248.6 942.2 L1247.4 940.8 L1242.8 952.7ZM1264 952 L1268.9 940.2 L1267.1 940.5 L1272.5 933.9 L1271.8 942.4 L1270.6 940.9 L1265.7 952.8ZM1287 952 L1292.4 940.4 L1290.5 940.6 L1296.2 934.3 L1295.1 942.7 L1294 941.2 L1288.6 952.8ZM1309.9 952 L1315.9 940.7 L1314 940.7 L1320.1 934.7 L1318.5 943.1 L1317.5 941.5 L1311.5 952.8ZM1332.8 951.9 L1339.6 941.1 L1337.7 941 L1344.2 935.4 L1342.1 943.7 L1341.2 942 L1334.4 952.9ZM1355.8 951.9 L1363.1 941.4 L1361.2 941.2 L1368 936 L1365.4 944.1 L1364.6 942.5 L1357.3 952.9ZM1172.4 978.3 L1177 966.4 L1175.1 966.7 L1180.4 960 L1179.9 968.5 L1178.7 967 L1174.1 979ZM1195.3 978.3 L1199.9 966.4 L1198 966.7 L1203.3 960 L1202.8 968.5 L1201.6 967 L1197 979ZM1218.2 978.3 L1222.8 966.4 L1220.9 966.7 L1226.2 960 L1225.7 968.5 L1224.5 967 L1219.9 979ZM1241.1 978.3 L1245.7 966.4 L1243.9 966.7 L1249.1 960 L1248.6 968.5 L1247.4 967 L1242.8 979ZM1264 978.3 L1269 966.5 L1267.1 966.7 L1272.6 960.2 L1271.8 968.7 L1270.7 967.2 L1265.7 979ZM1287 978.3 L1292.5 966.7 L1290.6 966.9 L1296.4 960.6 L1295.2 969 L1294.1 967.5 L1288.6 979ZM1309.9 978.2 L1316.1 967 L1314.2 967 L1320.4 961.2 L1318.7 969.5 L1317.7 967.9 L1311.5 979.1ZM1332.8 978.1 L1339.8 967.4 L1337.9 967.3 L1344.5 961.9 L1342.2 970.1 L1341.4 968.4 L1334.4 979.2ZM1355.8 978.1 L1363.2 967.7 L1361.3 967.5 L1368.1 962.4 L1365.5 970.5 L1364.7 968.8 L1357.3 979.2ZM1172.4 1004.6 L1177 992.6 L1175.1 992.9 L1180.4 986.2 L1179.9 994.7 L1178.7 993.3 L1174.1 1005.2ZM1195.3 1004.6 L1199.9 992.6 L1198 992.9 L1203.3 986.2 L1202.8 994.7 L1201.6 993.3 L1197 1005.2ZM1218.2 1004.6 L1222.8 992.6 L1220.9 992.9 L1226.2 986.2 L1225.7 994.7 L1224.5 993.3 L1219.9 1005.2ZM1241.1 1004.6 L1245.7 992.6 L1243.9 992.9 L1249.1 986.2 L1248.6 994.7 L1247.4 993.3 L1242.8 1005.2ZM1264 1004.5 L1269 992.8 L1267.2 993 L1272.7 986.5 L1271.9 995 L1270.7 993.5 L1265.7 1005.3ZM1287 1004.5 L1292.6 993 L1290.7 993.1 L1296.6 986.9 L1295.3 995.4 L1294.2 993.8 L1288.6 1005.3ZM1309.9 1004.4 L1316.3 993.4 L1314.4 993.4 L1320.7 987.6 L1318.8 995.9 L1317.9 994.3 L1311.5 1005.4ZM1332.8 1004.4 L1340 993.8 L1338.1 993.6 L1344.8 988.3 L1342.4 996.5 L1341.5 994.8 L1334.4 1005.4Z"/>
<path fill="#c0c0c0" d="M1404.5 582.9 L1404.5 584.9 L1404.3 590.4 L1402.2 592.7 L1403.3 595 L1403 598 L1404 600.6 L1403 604 L1401.5 606.3 L1403.3 609.3 L1401.8 613 L1400.7 616.8 L1397.7 617.9 L1398 622.1 L1394.7 625.1 L1396.2 628.9 L1395.5 632.6 L1391.7 637.2 L1390.2 640.9 L1387.2 642.1 L1383.8 644.7 L1382.2 648.5 L1382.7 652.2 L1378.8 655.9 L1378.8 659.9 L1381.2 663.9 L1383.3 667.4 L1384.2 671.2 L1385.2 673.8 L1389.3 675.7 L1393.2 678.7 L1393.5 682.5 L1394.7 685.5 L1393.2 690 L1393.2 693.8 L1395.8 698 L1394.2 701.3 L1393.5 708.1 L1394.2 711.9 L1395.8 715.9 L1394.2 720.9 L1392.5 722.4 L1388.7 725.1 L1389.8 727.7 L1391 732.2 L1390.2 736.8 L1386.3 737.5 L1384.2 739.8 L1383.2 743.7 L1379.8 745.9 L1376.8 745.6 L1375.8 741.8 L1373.8 743.7 L1372.3 749.7 L1370.5 766.3 L1370 774.6 L1370.8 782.1 L1372.3 789.6 L1374.2 794.2 L1373.5 800.2 L1373 806.2 L1375 812.2 L1376.2 818.3 L1376.8 824.4 L1379.2 831.2 L1379.8 839.3 L1380.7 845.5 L1383.2 849.3 L1381.8 851.6 L1379.8 854.2 L1383.7 859.2 L1382.5 865.1 L1381.8 871.2 L1381 877.2 L1381.3 881.7 L1384.3 883.2 L1385.2 888.5 L1388.5 892.6 L1387.5 896.8 L1385.5 900.4 L1385.3 903.8 L1387.3 908.7 L1386.3 913.6 L1383 915.5 L1382.5 918.4 L1380.5 921.4 L1382.5 925.3 L1382 929.2 L1380 931.1 L1378.2 934.9 L1373.2 940.9 L1368.8 941.9 L1370.2 945.8 L1371.2 951.6 L1373.7 956.5 L1373.2 959.4 L1371.2 961.4 L1371.2 966.2 L1374.2 970.1 L1376.7 973.1 L1375.7 977.9 L1374.2 983.8 L1370.8 986.7 L1365.8 988.7 L1365 991.6 L1363.5 997.5 L1360 1003.3 L1358.8 1004.9 L1357.5 1006.9 L1433.2 1009.9 L1433.2 579.9Z"/>
<path fill="none" stroke="#000" stroke-width="1.9" stroke-linejoin="round" d="M1404.5 582.9 L1404.5 584.9 L1404.3 590.4 L1402.2 592.7 L1403.3 595 L1403 598 L1404 600.6 L1403 604 L1401.5 606.3 L1403.3 609.3 L1401.8 613 L1400.7 616.8 L1397.7 617.9 L1398 622.1 L1394.7 625.1 L1396.2 628.9 L1395.5 632.6 L1391.7 637.2 L1390.2 640.9 L1387.2 642.1 L1383.8 644.7 L1382.2 648.5 L1382.7 652.2 L1378.8 655.9 L1378.8 659.9 L1381.2 663.9 L1383.3 667.4 L1384.2 671.2 L1385.2 673.8 L1389.3 675.7 L1393.2 678.7 L1393.5 682.5 L1394.7 685.5 L1393.2 690 L1393.2 693.8 L1395.8 698 L1394.2 701.3 L1393.5 708.1 L1394.2 711.9 L1395.8 715.9 L1394.2 720.9 L1392.5 722.4 L1388.7 725.1 L1389.8 727.7 L1391 732.2 L1390.2 736.8 L1386.3 737.5 L1384.2 739.8 L1383.2 743.7 L1379.8 745.9 L1376.8 745.6 L1375.8 741.8 L1373.8 743.7 L1372.3 749.7 L1371.8 754.9 L1370.5 766.3 L1370 774.6 L1370.8 782.1 L1372.3 789.6 L1374.2 794.2 L1373.5 800.2 L1373 806.2 L1375 812.2 L1376.2 818.3 L1376.8 824.4 L1379.2 831.2 L1379.8 839.3 L1380.7 845.5 L1383.2 849.3 L1381.8 851.6 L1379.8 854.2 L1383.7 859.2 L1382.5 865.1 L1381.8 871.2 L1381 877.2 L1381.3 881.7 L1384.3 883.2 L1385.2 888.5 L1388.5 892.6 L1387.5 896.8 L1385.5 900.4 L1385.3 903.8 L1387.3 908.7 L1386.3 913.6 L1383 915.5 L1382.5 918.4 L1380.5 921.4 L1382.5 925.3 L1382 929.2 L1380 931.1 L1378.2 934.9 L1373.2 940.9 L1368.8 941.9 L1370.2 945.8 L1371.2 951.6 L1373.7 956.5 L1373.2 959.4 L1371.2 961.4 L1371.2 966.2 L1374.2 970.1 L1376.7 973.1 L1375.7 977.9 L1374.2 983.8 L1370.8 986.7 L1365.8 988.7 L1365 991.6 L1363.5 997.5 L1360 1003.3 L1358.8 1004.9 L1357.5 1006.9"/>
<path fill="none" stroke="#000" stroke-width="1.6" stroke-linejoin="round" d="M1383.3 667.4 L1389.3 667.4 L1391.7 664.8 L1396.2 667.4 L1401.5 667.8 L1402.2 675 L1407.5 676.1 L1408.7 679.9 L1412.8 678 L1415 667.4 L1418.8 664.4 L1426.2 664.8"/>
<path fill="none" stroke="#000" stroke-width="1.6" stroke-linejoin="round" d="M1382.2 877.9 L1384.3 876.1 L1392.7 879.1 L1397.2 876.8 L1400.2 873.4 L1402.5 876.4 L1410.8 868.1 L1416.8 869.6 L1426.2 867.4"/>
<path fill="none" stroke="#000" stroke-width="1.6" stroke-linejoin="round" d="M1426.2 929.7 L1418.5 931.1 L1411.8 934 L1412.2 940.9 L1413.2 947.7 L1405.8 950.6 L1400 951.6 L1400.5 958.4 L1393.2 964.3 L1392.8 973.1 L1387.3 981.9 L1391.2 988.7 L1380.5 988.7 L1379.5 995.5 L1370.8 1000.4 L1364 998.4"/>
<path fill="none" stroke="#000" stroke-width="1.6" stroke-linejoin="round" d="M1370.8 1000.4 L1374.2 1005.9"/>
<ellipse cx="1380.5" cy="673.2" rx="1.1" ry="1.6" fill="#000"/>
<ellipse cx="1380.8" cy="695.1" rx="0.5" ry="0.9" fill="#000"/>
</g>
<circle cx="1382.5" cy="660.4" r="4.7" fill="#ffd700" stroke="#000" stroke-width="1.9"/>
<circle cx="1396.7" cy="717.4" r="4.7" fill="#ffd700" stroke="#000" stroke-width="1.9"/>
<circle cx="1371.7" cy="759.4" r="4.7" fill="#ffd700" stroke="#000" stroke-width="1.9"/>
<circle cx="1379.8" cy="839.3" r="4.7" fill="#ffd700" stroke="#000" stroke-width="1.9"/>
<circle cx="1383.7" cy="859.2" r="4.7" fill="#ffd700" stroke="#000" stroke-width="1.9"/>
<circle cx="1376.7" cy="939.4" r="4.7" fill="#ffd700" stroke="#000" stroke-width="1.9"/>
<rect x="1173.2" y="584.9" width="252" height="420" fill="none" stroke="#000" stroke-width="1.6"/>
<text x="1173.5" y="572.9" font-size="28" style="font-family:'DejaVu Sans','Liberation Sans',sans-serif">mar 16-dic</text>
<line x1="1233.2" y1="1004.9" x2="1233.2" y2="1011.9" stroke="#000" stroke-width="1.6"/>
<text x="1198.2" y="1038.7" font-size="24" style="font-family:'DejaVu Sans','Liberation Sans',sans-serif">74°<tspan font-style="italic" dx="1.0">W</tspan></text>
<line x1="1353.2" y1="1004.9" x2="1353.2" y2="1011.9" stroke="#000" stroke-width="1.6"/>
<text x="1318.2" y="1038.7" font-size="24" style="font-family:'DejaVu Sans','Liberation Sans',sans-serif">72°<tspan font-style="italic" dx="1.0">W</tspan></text>
<g clip-path="url(#cp9)">
<path fill="#c0c0c0" d="M1765.2 582.9 L1765.2 584.9 L1765.1 590.4 L1763 592.7 L1764.1 595 L1763.7 598 L1764.8 600.6 L1763.7 604 L1762.2 606.3 L1764.1 609.3 L1762.6 613 L1761.4 616.8 L1758.4 617.9 L1758.8 622.1 L1755.4 625.1 L1756.9 628.9 L1756.2 632.6 L1752.4 637.2 L1750.9 640.9 L1747.9 642.1 L1744.5 644.7 L1743 648.5 L1743.4 652.2 L1739.5 655.9 L1739.5 659.9 L1742 663.9 L1744.1 667.4 L1744.9 671.2 L1746 673.8 L1750.1 675.7 L1753.9 678.7 L1754.3 682.5 L1755.4 685.5 L1753.9 690 L1753.9 693.8 L1756.5 698 L1755 701.3 L1754.3 708.1 L1755 711.9 L1756.5 715.9 L1755 720.9 L1753.2 722.4 L1749.4 725.1 L1750.5 727.7 L1751.7 732.2 L1750.9 736.8 L1747.1 737.5 L1744.9 739.8 L1744 743.7 L1740.6 745.9 L1737.6 745.6 L1736.5 741.8 L1734.6 743.7 L1733.1 749.7 L1731.2 766.3 L1730.8 774.6 L1731.6 782.1 L1733.1 789.6 L1735 794.2 L1734.2 800.2 L1733.8 806.2 L1735.7 812.2 L1736.9 818.3 L1737.6 824.4 L1739.9 831.2 L1740.5 839.3 L1741.4 845.5 L1744 849.3 L1742.5 851.6 L1740.6 854.2 L1744.4 859.2 L1743.3 865.1 L1742.5 871.2 L1741.8 877.2 L1742.1 881.7 L1745.1 883.2 L1745.9 888.5 L1749.3 892.6 L1748.2 896.8 L1746.3 900.4 L1746.1 903.8 L1748.1 908.7 L1747.1 913.6 L1743.7 915.5 L1743.2 918.4 L1741.3 921.4 L1743.2 925.3 L1742.7 929.2 L1740.8 931.1 L1739 934.9 L1734 940.9 L1729.6 941.9 L1731 945.8 L1732 951.6 L1734.4 956.5 L1734 959.4 L1732 961.4 L1732 966.2 L1734.9 970.1 L1737.4 973.1 L1736.4 977.9 L1734.9 983.8 L1731.5 986.7 L1726.6 988.7 L1725.7 991.6 L1724.2 997.5 L1720.8 1003.3 L1719.5 1004.9 L1718.3 1006.9 L1794 1009.9 L1794 579.9Z"/>
<path fill="none" stroke="#000" stroke-width="1.9" stroke-linejoin="round" d="M1765.2 582.9 L1765.2 584.9 L1765.1 590.4 L1763 592.7 L1764.1 595 L1763.7 598 L1764.8 600.6 L1763.7 604 L1762.2 606.3 L1764.1 609.3 L1762.6 613 L1761.4 616.8 L1758.4 617.9 L1758.8 622.1 L1755.4 625.1 L1756.9 628.9 L1756.2 632.6 L1752.4 637.2 L1750.9 640.9 L1747.9 642.1 L1744.5 644.7 L1743 648.5 L1743.4 652.2 L1739.5 655.9 L1739.5 659.9 L1742 663.9 L1744.1 667.4 L1744.9 671.2 L1746 673.8 L1750.1 675.7 L1753.9 678.7 L1754.3 682.5 L1755.4 685.5 L1753.9 690 L1753.9 693.8 L1756.5 698 L1755 701.3 L1754.3 708.1 L1755 711.9 L1756.5 715.9 L1755 720.9 L1753.2 722.4 L1749.4 725.1 L1750.5 727.7 L1751.7 732.2 L1750.9 736.8 L1747.1 737.5 L1744.9 739.8 L1744 743.7 L1740.6 745.9 L1737.6 745.6 L1736.5 741.8 L1734.6 743.7 L1733.1 749.7 L1732.5 754.9 L1731.2 766.3 L1730.8 774.6 L1731.6 782.1 L1733.1 789.6 L1735 794.2 L1734.2 800.2 L1733.8 806.2 L1735.7 812.2 L1736.9 818.3 L1737.6 824.4 L1739.9 831.2 L1740.5 839.3 L1741.4 845.5 L1744 849.3 L1742.5 851.6 L1740.6 854.2 L1744.4 859.2 L1743.3 865.1 L1742.5 871.2 L1741.8 877.2 L1742.1 881.7 L1745.1 883.2 L1745.9 888.5 L1749.3 892.6 L1748.2 896.8 L1746.3 900.4 L1746.1 903.8 L1748.1 908.7 L1747.1 913.6 L1743.7 915.5 L1743.2 918.4 L1741.3 921.4 L1743.2 925.3 L1742.7 929.2 L1740.8 931.1 L1739 934.9 L1734 940.9 L1729.6 941.9 L1731 945.8 L1732 951.6 L1734.4 956.5 L1734 959.4 L1732 961.4 L1732 966.2 L1734.9 970.1 L1737.4 973.1 L1736.4 977.9 L1734.9 983.8 L1731.5 986.7 L1726.6 988.7 L1725.7 991.6 L1724.2 997.5 L1720.8 1003.3 L1719.5 1004.9 L1718.3 1006.9"/>
<path fill="none" stroke="#000" stroke-width="1.6" stroke-linejoin="round" d="M1744.1 667.4 L1750.1 667.4 L1752.4 664.8 L1756.9 667.4 L1762.2 667.8 L1763 675 L1768.2 676.1 L1769.4 679.9 L1773.5 678 L1775.8 667.4 L1779.5 664.4 L1787 664.8"/>
<path fill="none" stroke="#000" stroke-width="1.6" stroke-linejoin="round" d="M1742.9 877.9 L1745.1 876.1 L1753.4 879.1 L1758 876.8 L1761 873.4 L1763.2 876.4 L1771.5 868.1 L1777.6 869.6 L1787 867.4"/>
<path fill="none" stroke="#000" stroke-width="1.6" stroke-linejoin="round" d="M1787 929.7 L1779.3 931.1 L1772.5 934 L1773 940.9 L1774 947.7 L1766.6 950.6 L1760.8 951.6 L1761.3 958.4 L1754 964.3 L1753.5 973.1 L1748.1 981.9 L1752 988.7 L1741.3 988.7 L1740.3 995.5 L1731.5 1000.4 L1724.7 998.4"/>
<path fill="none" stroke="#000" stroke-width="1.6" stroke-linejoin="round" d="M1731.5 1000.4 L1735 1005.9"/>
<ellipse cx="1741.3" cy="673.2" rx="1.1" ry="1.6" fill="#000"/>
<ellipse cx="1741.6" cy="695.1" rx="0.5" ry="0.9" fill="#000"/>
</g>
<circle cx="1743.3" cy="660.4" r="4.7" fill="#ffd700" stroke="#000" stroke-width="1.9"/>
<circle cx="1757.4" cy="717.4" r="4.7" fill="#ffd700" stroke="#000" stroke-width="1.9"/>
<circle cx="1732.4" cy="759.4" r="4.7" fill="#ffd700" stroke="#000" stroke-width="1.9"/>
<circle cx="1740.5" cy="839.3" r="4.7" fill="#ffd700" stroke="#000" stroke-width="1.9"/>
<circle cx="1744.4" cy="859.2" r="4.7" fill="#ffd700" stroke="#000" stroke-width="1.9"/>
<circle cx="1737.4" cy="939.4" r="4.7" fill="#ffd700" stroke="#000" stroke-width="1.9"/>
<rect x="1534" y="584.9" width="252" height="420" fill="none" stroke="#000" stroke-width="1.6"/>
<text x="1534.2" y="572.9" font-size="28" style="font-family:'DejaVu Sans','Liberation Sans',sans-serif">mié 17-dic</text>
<line x1="1594" y1="1004.9" x2="1594" y2="1011.9" stroke="#000" stroke-width="1.6"/>
<text x="1559" y="1038.7" font-size="24" style="font-family:'DejaVu Sans','Liberation Sans',sans-serif">74°<tspan font-style="italic" dx="1.0">W</tspan></text>
<line x1="1714" y1="1004.9" x2="1714" y2="1011.9" stroke="#000" stroke-width="1.6"/>
<text x="1679" y="1038.7" font-size="24" style="font-family:'DejaVu Sans','Liberation Sans',sans-serif">72°<tspan font-style="italic" dx="1.0">W</tspan></text>
<text x="91.2" y="36.7" font-size="28" style="font-family:'DejaVu Sans','Liberation Sans',sans-serif">2025</text>
<rect x="1886" y="944.03" width="22.5" height="19.27" fill="#009bd8"/>
<rect x="1886" y="925.36" width="22.5" height="19.27" fill="#00a2c9"/>
<rect x="1886" y="906.69" width="22.5" height="19.27" fill="#00a6bf"/>
<rect x="1886" y="888.02" width="22.5" height="19.27" fill="#00aaae"/>
<rect x="1886" y="869.34" width="22.5" height="19.27" fill="#00aca3"/>
<rect x="1886" y="850.67" width="22.5" height="19.27" fill="#00ab96"/>
<rect x="1886" y="832.00" width="22.5" height="19.27" fill="#00ab8d"/>
<rect x="1886" y="813.33" width="22.5" height="19.27" fill="#00a873"/>
<rect x="1886" y="794.66" width="22.5" height="19.27" fill="#00a246"/>
<rect x="1886" y="775.99" width="22.5" height="19.27" fill="#009e29"/>
<rect x="1886" y="757.32" width="22.5" height="19.27" fill="#009a00"/>
<rect x="1886" y="738.65" width="22.5" height="19.27" fill="#00a400"/>
<rect x="1886" y="719.98" width="22.5" height="19.27" fill="#00ad00"/>
<rect x="1886" y="701.30" width="22.5" height="19.27" fill="#00b500"/>
<rect x="1886" y="682.63" width="22.5" height="19.27" fill="#00be00"/>
<rect x="1886" y="663.96" width="22.5" height="19.27" fill="#00c700"/>
<rect x="1886" y="645.29" width="22.5" height="19.27" fill="#00d100"/>
<rect x="1886" y="626.62" width="22.5" height="19.27" fill="#00db05"/>
<rect x="1886" y="607.95" width="22.5" height="19.27" fill="#00e50a"/>
<rect x="1886" y="589.28" width="22.5" height="19.27" fill="#00ef0f"/>
<rect x="1886" y="570.61" width="22.5" height="19.27" fill="#00fc14"/>
<rect x="1886" y="551.94" width="22.5" height="19.27" fill="#28fc00"/>
<rect x="1886" y="533.26" width="22.5" height="19.27" fill="#64fb00"/>
<rect x="1886" y="514.59" width="22.5" height="19.27" fill="#91fa00"/>
<rect x="1886" y="495.92" width="22.5" height="19.27" fill="#c0f900"/>
<rect x="1886" y="477.25" width="22.5" height="19.27" fill="#cdf800"/>
<rect x="1886" y="458.58" width="22.5" height="19.27" fill="#dcf200"/>
<rect x="1886" y="439.91" width="22.5" height="19.27" fill="#ebeb00"/>
<rect x="1886" y="421.24" width="22.5" height="19.27" fill="#f3e400"/>
<rect x="1886" y="402.57" width="22.5" height="19.27" fill="#fada00"/>
<rect x="1886" y="383.90" width="22.5" height="19.27" fill="#fdcf00"/>
<rect x="1886" y="365.22" width="22.5" height="19.27" fill="#ffc000"/>
<rect x="1886" y="346.55" width="22.5" height="19.27" fill="#ffb200"/>
<rect x="1886" y="327.88" width="22.5" height="19.27" fill="#ffa500"/>
<rect x="1886" y="309.21" width="22.5" height="19.27" fill="#ff9600"/>
<rect x="1886" y="290.54" width="22.5" height="19.27" fill="#ff7300"/>
<rect x="1886" y="271.87" width="22.5" height="19.27" fill="#ff4b00"/>
<rect x="1886" y="253.20" width="22.5" height="19.27" fill="#ff1900"/>
<rect x="1886" y="234.53" width="22.5" height="19.27" fill="#fa0000"/>
<rect x="1886" y="215.86" width="22.5" height="19.27" fill="#f00000"/>
<rect x="1886" y="197.18" width="22.5" height="19.27" fill="#e40000"/>
<rect x="1886" y="178.51" width="22.5" height="19.27" fill="#da0000"/>
<rect x="1886" y="159.84" width="22.5" height="19.27" fill="#d20000"/>
<rect x="1886" y="141.17" width="22.5" height="19.27" fill="#ce0000"/>
<rect x="1886" y="122.50" width="22.5" height="19.27" fill="#cc0000"/>
<path fill="#cd0f0f" d="M1886 123.1 L1897.2 82 L1908.5 123.1Z"/>
<path fill="#009bdc" d="M1886 962.7 L1897.2 1004.4 L1908.5 962.7Z"/>
<path fill="none" stroke="#000" stroke-width="1.6" stroke-linejoin="round" d="M1886 122.8 L1897.2 82 L1908.5 122.8 L1908.5 963 L1897.2 1004.4 L1886 963Z"/>
<line x1="1908.5" y1="963.00" x2="1915.5" y2="963.00" stroke="#000" stroke-width="1.6"/>
<text x="1923.1" y="974.90" font-size="28" style="font-family:'DejaVu Sans','Liberation Sans',sans-serif">1.0</text>
<line x1="1908.5" y1="869.64" x2="1915.5" y2="869.64" stroke="#000" stroke-width="1.6"/>
<text x="1923.1" y="881.54" font-size="28" style="font-family:'DejaVu Sans','Liberation Sans',sans-serif">1.5</text>
<line x1="1908.5" y1="776.29" x2="1915.5" y2="776.29" stroke="#000" stroke-width="1.6"/>
<text x="1923.1" y="788.19" font-size="28" style="font-family:'DejaVu Sans','Liberation Sans',sans-serif">2.0</text>
<line x1="1908.5" y1="682.93" x2="1915.5" y2="682.93" stroke="#000" stroke-width="1.6"/>
<text x="1923.1" y="694.83" font-size="28" style="font-family:'DejaVu Sans','Liberation Sans',sans-serif">2.5</text>
<line x1="1908.5" y1="589.58" x2="1915.5" y2="589.58" stroke="#000" stroke-width="1.6"/>
<text x="1923.1" y="601.48" font-size="28" style="font-family:'DejaVu Sans','Liberation Sans',sans-serif">3.0</text>
<line x1="1908.5" y1="496.22" x2="1915.5" y2="496.22" stroke="#000" stroke-width="1.6"/>
<text x="1923.1" y="508.12" font-size="28" style="font-family:'DejaVu Sans','Liberation Sans',sans-serif">3.5</text>
<line x1="1908.5" y1="402.87" x2="1915.5" y2="402.87" stroke="#000" stroke-width="1.6"/>
<text x="1923.1" y="414.77" font-size="28" style="font-family:'DejaVu Sans','Liberation Sans',sans-serif">4.0</text>
<line x1="1908.5" y1="309.51" x2="1915.5" y2="309.51" stroke="#000" stroke-width="1.6"/>
<text x="1923.1" y="321.41" font-size="28" style="font-family:'DejaVu Sans','Liberation Sans',sans-serif">4.5</text>
<line x1="1908.5" y1="216.16" x2="1915.5" y2="216.16" stroke="#000" stroke-width="1.6"/>
<text x="1923.1" y="228.06" font-size="28" style="font-family:'DejaVu Sans','Liberation Sans',sans-serif">5.0</text>
<line x1="1908.5" y1="122.80" x2="1915.5" y2="122.80" stroke="#000" stroke-width="1.6"/>
<text x="1923.1" y="134.70" font-size="28" style="font-family:'DejaVu Sans','Liberation Sans',sans-serif">5.5</text>
<text transform="translate(2004.9 725.3) rotate(-90)" font-size="37.5" style="font-family:'DejaVu Sans','Liberation Sans',sans-serif">Altura significativa</text>
<text transform="translate(2046.8 640.1) rotate(-90)" font-size="37.5" style="font-family:'DejaVu Sans','Liberation Sans',sans-serif">de ola (m)</text>
<text x="90.7" y="1085.7" font-size="20.83" style="font-family:'DejaVu Sans','Liberation Sans',sans-serif">Inicio pronóstico de olas: MFWAM-Meteofrance 2025-12-08 00UTC</text>
</svg>
</body></html>
